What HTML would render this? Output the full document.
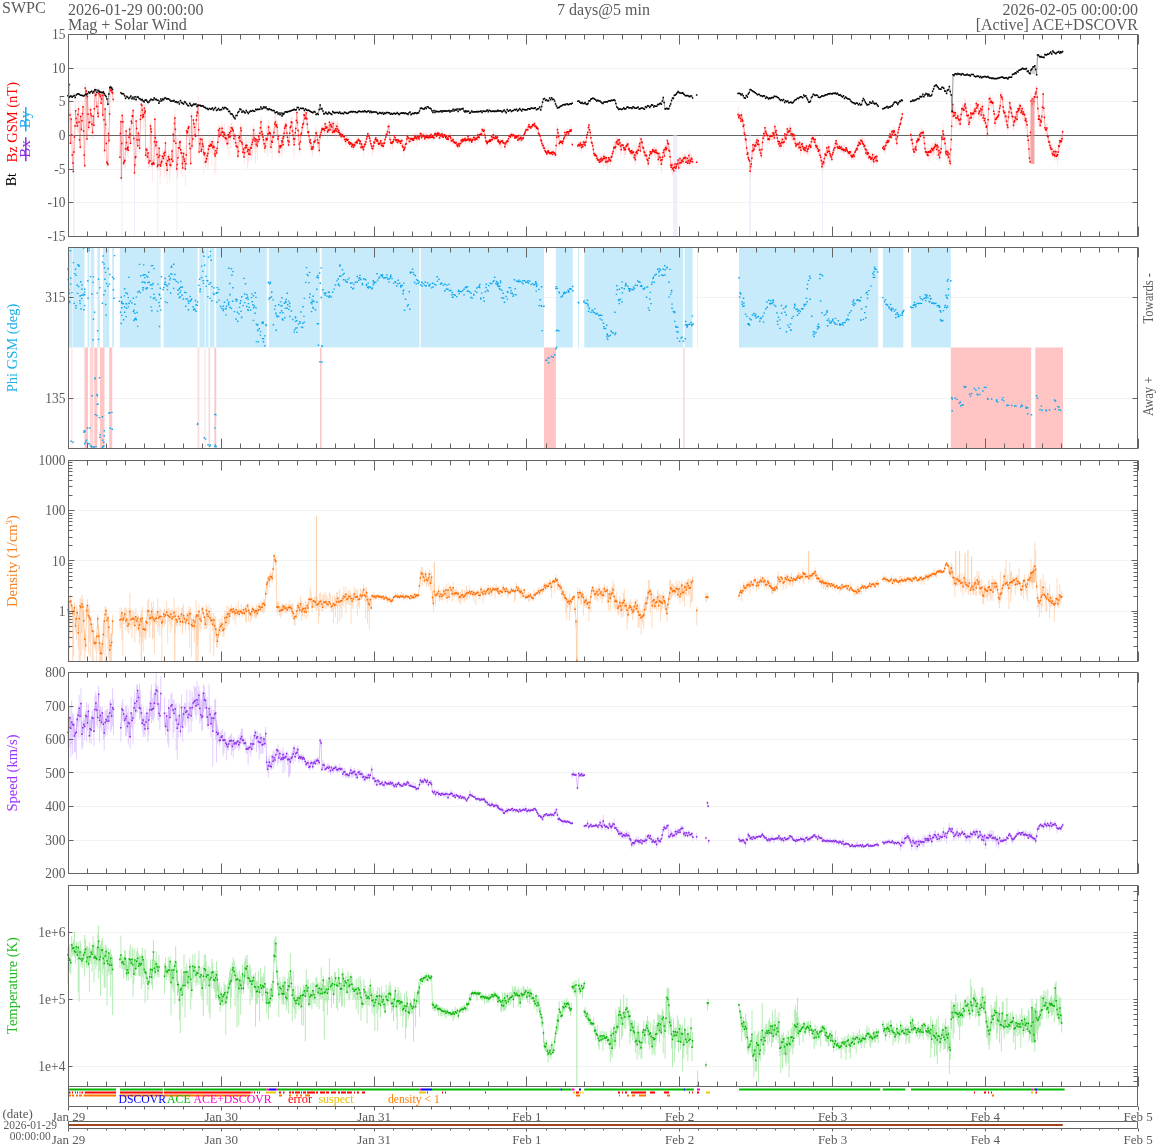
<!DOCTYPE html>
<html><head><meta charset="utf-8"><title>SWPC Mag + Solar Wind</title>
<style>
html,body{margin:0;padding:0;background:#fff;}
body{width:1158px;height:1146px;overflow:hidden;}
svg{display:block;font-family:"Liberation Serif","Times New Roman",serif;}
</style></head><body>
<svg width="1158" height="1146" viewBox="0 0 1158 1146">
<rect width="1158" height="1146" fill="#fff"/>
<path d="M68.5 68.5H1137.5M68.5 101.5H1137.5M68.5 169.5H1137.5M68.5 202.5H1137.5" stroke="#f3f3f3" stroke-width="1" fill="none"/>
<path d="M68.5 135.5H1137.5" stroke="#646464" stroke-width="1"/>
<rect x="73" y="135.5" width="1.5" height="101.0" fill="#f0eefc"/>
<rect x="121.5" y="135.5" width="1.0" height="101.0" fill="#f0eefc"/>
<rect x="134" y="135.5" width="1" height="101.0" fill="#f0eefc"/>
<rect x="157.3" y="135.5" width="1.0" height="101.0" fill="#f0eefc"/>
<rect x="176.5" y="135.5" width="1.0" height="101.0" fill="#f0eefc"/>
<rect x="673.1" y="135.5" width="4.199999999999932" height="101.0" fill="#f0eefc"/>
<rect x="749.3" y="135.5" width="1.5" height="101.0" fill="#f0eefc"/>
<rect x="822" y="135.5" width="1" height="101.0" fill="#f0eefc"/>
<path d="M69.5 82.4V86.7M69.9 112.5V123.1M70.4 138.6V144.9M71.2 112V122M71.7 132.7V142.7M72.3 151.3V158.4M72.8 158.2V169M73.4 166.4V173.3M73.9 148.3V155M74.5 134.7V153M75.1 122.9V127.9M75.6 99.8V115.3M76.2 115.8V123.8M76.7 120V129.3M77.3 120.8V129.7M77.9 112.7V132.7M78.6 100.2V110.4M79 119.6V132.8M79.5 134.9V143.9M80.3 142.3V149.8M80.6 111.9V119.5M81.4 125.9V139.2M81.9 119.2V124.5M82.5 109.6V116.5M83 101V121M83.6 124.9V133M84.2 150.1V159.8M84.7 163.7V167.6M85.3 83.3V100.4M85.8 87V98.9M86.4 88.5V105.4M86.9 133.9V145.2M87.5 93.4V99.4M88.1 103.6V120M88.6 121.4V131.5M89.2 121.3V124.5M89.7 116.8V130.6M90.5 105.8V114.1M90.8 107.9V116.8M91.4 113.9V126.4M92 120.6V139.5M92.5 129.3V137.5M93.3 112.5V127M93.8 116.9V137.5M94.4 97.4V112.5M94.9 85.5V95.8M95.5 92.7V100.3M96 91.3V97.8M96.6 101V108.1M97.1 102V113.2M97.7 101.2V117.2M98.3 111V118.5M98.8 89.7V96.8M99.4 88.5V93.6M99.9 92.6V99.3M100.5 92.9V98.4M101 99.6V104.5M101.7 92.7V103.4M102.3 93.7V116M102.7 112.6V121.9M103.5 87.2V96.6M104 114.1V121.4M104.6 148.2V157.4M105.1 106.7V118.1M105.7 121.1V131.1M106.2 141.7V145.6M106.8 159V166.9M107.4 161.2V167.5M107.9 154.6V167M108.5 128.4V144.2M109 134.5V143.5M109.6 110V123.3M110.1 83V89.8M110.8 87.2V94.9M111.4 86V93.2M112 89.9V96.5M112.6 87.2V94.6M113.1 94.4V102.7M120 151.2V161.5M120.4 128.8V153.1M120.9 116.7V129M121.3 176.5V180.5M121.8 140.1V151.9M122.2 110.4V122.8M123 118.4V128.5M123.5 157V167.5M124.2 159.8V168.1M124.8 158.4V163.4M125.5 142.1V168.9M126.1 126.6V138.5M126.6 137.8V145M127 145.4V152.6M127.4 143.1V156.1M127.9 144.3V151.3M128.3 147.9V157.7M129.1 135.1V141.3M129.5 125.5V132.7M130 128V137.8M130.6 136.5V148.3M131.3 118.5V124.6M131.8 119.2V128.9M132.2 111.5V120.9M132.7 112.9V120.4M133.2 108.9V113.6M133.8 135.4V144.9M134.5 166.8V177.4M134.8 163.2V168.2M135.3 154.8V161M135.8 147.7V164.2M136.1 115.9V123.8M136.6 124.7V148.5M137.1 137.6V143.7M137.8 143V155.3M138.4 129.5V136.6M139.1 133.6V142.5M139.7 144.3V152.2M140.4 116.5V128.8M140.9 110.7V120.8M141.3 97.3V106.5M141.8 103V108.2M142.3 105.3V116.7M142.6 109.3V120.2M143.1 112.2V117.2M143.6 112V128.6M144.3 103.7V116M144.8 110.9V121.1M145.2 102.9V112.7M145.6 148.8V160.2M146.3 147.5V159.8M146.9 146.9V158M147.5 153.2V161.5M148.1 145.7V157.2M148.8 152.1V168.7M149.4 156.4V167M150.1 157.9V166.6M150.4 123.6V143.1M150.9 121V132.1M151.4 128.5V134.7M151.7 153.2V167.9M152.4 159.8V182.2M153 159.9V165.4M153.5 157.9V165.2M154 159V165.3M154.4 137.4V157.3M154.9 111.3V141.8M155.4 134V148.6M155.8 139.9V149.4M156.6 139V144.3M157 152.1V168.3M157.5 161V169.6M158 163.8V171M158.4 148V159.2M159.2 145V170.9M159.6 151.4V165.2M160.1 159.3V184.3M160.6 163.2V176.4M161.2 158.1V166.4M161.8 156.7V166.2M162.3 153.3V165.4M162.9 150.6V157.9M163.4 154.9V167.9M164 149.1V155.7M164.5 151.9V177.7M165 147.8V156.1M165.5 132.6V146.3M166.2 157.1V165.6M166.7 158.2V174.5M167.1 165.8V184.6M167.8 156.5V164.2M168.4 148.9V159.6M168.9 154.3V164M169.4 152.9V181.8M170 160.1V176.6M170.7 160.3V168M171.3 154.8V169.4M172 148.8V156.1M172.7 154.9V165.2M173.3 126.3V136.1M174 138.4V144.2M174.5 114.7V133.5M174.9 108.2V122.7M175.4 126.3V133.4M175.9 136.7V163M176.6 165.2V172.3M177.2 162.4V179.5M177.9 152.9V177M178.6 138.2V151.9M179.2 141.7V149.3M179.8 139.5V145M180.1 131.3V146.8M180.6 144V153.7M181.1 148.7V174.2M181.7 150.5V155.6M182.4 154.8V167.3M182.7 157.8V176.6M183.2 151.7V164.5M183.7 148.2V155.3M184.1 157.2V163M184.6 158.1V169.2M185.3 160.3V185.7M185.8 159V168.8M186.3 145.1V160M186.6 126.3V140.1M187.1 130.3V137.8M187.6 123.2V137M188.2 125.6V131.3M188.9 121.8V130.3M189.4 139.6V146.2M190.1 145.4V155.5M190.7 159.1V165.1M191.5 111.5V121.6M192 136.3V150.2M192.8 134.9V142.4M193.3 117.4V122.5M194 121.3V126.9M194.6 125.8V131M195.1 132.2V142.1M195.6 133.7V141.5M196.3 111.3V124.5M196.8 114.2V119.3M197.2 108.2V113.2M197.7 106V114.2M198.2 95.8V120.6M198.6 123.1V133.6M199.1 150.4V153.5M199.7 140.5V148.1M200.4 135.6V147.7M201.1 146.6V153M201.6 146.5V152.2M202.1 132.4V154.1M202.6 140.8V150.5M203.2 140.9V157.2M203.7 144.9V175.2M204.3 151.3V157.8M204.8 146V155.4M205.4 157.8V167.7M206 154.1V167.8M206.6 152.8V162.4M207.2 150.6V162.1M207.9 146.3V170.8M208.5 144.3V164.9M209.1 131V153.1M209.7 140.1V149.8M210.3 140.7V153.8M211 140V149.1M211.6 140.8V166.5M212.2 136.3V146.8M212.8 141.7V155M213.4 137.1V150.3M214.1 142.9V153M214.7 141.3V175.4M215.3 147.7V158.2M215.9 144.9V172.8M216.5 150.7V154.9M217.2 142.7V155.5M217.8 137.9V152.5M218.4 125.3V141M219 130.2V144.1M219.6 124.6V134.4M220.2 127.5V142.3M220.9 132.9V139.6M221.5 124.8V137.9M222.1 120.7V144.5M222.7 130V133.9M223.3 131.7V141.9M224 130.9V135M224.6 123.4V141.8M225.2 131V143M225.8 133.8V142M226.4 134.2V143M227.1 131.8V147.2M227.7 140.7V149.6M228.3 124.5V141.2M228.9 132.6V157.8M229.5 125.4V141.5M230.1 129.2V140.6M230.8 123.7V149.3M231.4 123V130M232 113.5V135.6M232.6 126.4V135.6M233.2 124.9V137.9M233.9 134.3V145.1M234.5 132.4V138.5M235.1 133.1V140.6M235.7 135.6V147.7M236.2 143.9V149.8M236.8 136.9V155.1M237.3 139.4V151.6M237.9 151.7V159.3M238.4 149V158.3M239 131.6V142.6M239.6 130.7V143.8M240.1 137.2V144.5M240.7 122.6V146.9M241.2 126.1V138.2M241.8 139.1V149.7M242.3 140.8V149M242.9 138.7V155.5M243.5 143.1V151.4M244 152.2V164.3M244.6 148V156.2M245.1 143.1V154.7M245.7 137.8V149.5M246.2 137.4V154.4M246.9 140.5V149.6M247.5 146.7V169M248.1 145.6V165M248.7 146.4V161.4M249.3 138.6V156.4M250 148.7V157.7M250.6 143.8V154.2M251.2 133.4V161.7M251.8 137.6V156.6M252.4 128.4V156.8M253 133.5V146.4M253.7 122.4V139M254.3 135.4V152.2M254.9 132V148.2M255.5 133V163.8M256.1 140.9V151.9M256.8 133.3V148.8M257.4 138.3V160.5M258 135V145.4M258.6 129.5V143.5M259.2 134.7V144.2M259.9 127.3V139.6M260.5 120.3V140.4M261.1 116.4V124.8M261.7 126.6V135.2M262.3 130.5V140.6M262.9 132.6V146M263.6 132.6V144M264.2 139.2V152.2M264.8 143.6V153.6M265.4 143.8V152.4M266 136.3V143.5M266.7 125.5V144.6M267.3 136.3V156.5M267.9 125V138.2M268.5 119.7V135.4M269.1 125.8V147.9M269.8 125.4V153M270.4 127.3V138.1M271 143.6V153.3M271.6 131.1V145.7M272.2 135.7V158.7M272.9 129.1V140.4M273.5 126.5V139.8M274.1 125.8V145.6M274.7 114.1V130.4M275.3 112.4V127.1M275.9 119.8V132.3M276.6 119.9V136.5M277.2 121.1V130.8M277.8 133.6V143.6M278.4 130.1V153.8M279 145.2V158M279.7 142.2V154.4M280.2 144.7V151.1M280.8 142.4V149.2M281.3 134.6V157.6M281.9 133.8V143.9M282.4 136.4V153.6M283 139.2V149.1M283 131V141.2M283.6 133.6V145.8M284.1 124.2V139.4M284.7 122.3V131.6M285.2 124.8V137.1M285.8 120.2V127.9M286.3 118.8V131.9M286.9 130.6V135.8M287.5 133.3V143.7M288 136.2V143.8M288.6 140.7V147M289.1 138.7V147.7M289.7 127.4V138.1M290.2 123.4V131.3M290.8 121V132.5M291.4 116.6V127.3M291.9 116.8V127.4M292.5 127.3V134.5M293 128.2V141.3M293.6 128.4V142.9M294.1 140.4V158.7M294.7 135.5V146.2M295.3 129.1V138.1M295.8 126.3V132.4M296.4 116.3V124.3M296.9 107.6V117.2M297.5 117.3V125.8M298 128.6V140.4M298.6 129.7V142M299.2 141.7V153.8M299.7 143.6V151.6M300.3 132.4V143.7M300.9 132.1V141.9M301.6 130.2V135.8M302.2 125.6V130.8M302.8 119.6V131M303.4 119.2V128.9M304 109.7V123.9M304.5 111.8V119.9M305.1 114.3V124M305.7 112.2V119.6M306.2 109.2V118.8M306.8 113.1V129.2M307.3 122.4V125.9M307.9 130.8V138.3M308.4 129.6V134.4M309 130.7V140.3M309.6 135.6V147.8M310.2 137.2V149.4M310.8 138.9V147.6M311.5 144V152.4M312.1 145.3V154.1M312.7 144.1V156.8M313.3 141.7V149.1M313.9 136V145.1M314.6 136.1V146.5M315.2 133.6V145.1M315.8 126.7V135.1M316.4 129V136.2M317 129.8V143.4M317.5 137.5V148.1M318.1 141.3V145.3M318.6 136.9V144.7M319.2 144.6V156.2M319.8 131.1V140M320.4 131V140.6M321.1 130.2V134.8M321.6 125.5V135M322.2 126.8V132.3M322.8 125V135.3M323.4 126V132.3M324 126.3V133.2M324.5 125.7V135.7M325.1 119.3V129.6M325.7 125.3V133.6M326.3 123.1V129.7M326.9 123.4V132.1M327.6 125.6V139.3M328.2 124V134M328.8 125V133.2M329.4 118.5V127.6M330 124.4V134.8M330.7 121.5V125.9M331.3 121.7V132.1M331.9 119.6V130.9M332.5 129.4V134.9M333.1 118.8V127.4M333.7 127.8V132.8M334.4 121V134.7M335 124.4V139.1M335.6 121.7V130.5M336.2 124.3V139.1M336.8 121.1V133.2M337.5 120.4V133.2M338.1 122.9V138M338.7 126V132.7M339.3 128.1V138M339.9 127.2V138.1M340.6 131.9V137.7M341.2 131.2V139.1M341.8 133.7V141.7M342.4 133.1V137.2M343 128.9V141.8M343.7 134.3V139.9M344.3 133.9V137.7M344.9 137.7V141M345.5 138.9V145.2M346.1 131.9V140.7M346.7 134.9V147.2M347.4 139.2V141.9M348 136.9V142.7M348.6 140.3V145.1M349.2 140.8V146.6M349.8 141.5V146.7M350.5 141.6V144.5M351.1 138.7V148M351.7 143.1V149.6M352.3 143.2V148.5M352.9 141.7V150.3M353.6 144.2V150.4M354.2 142V145.3M354.8 143.6V146.8M355.4 141.1V145.4M356 141.2V144.6M356.6 136.1V145M357.3 139.1V147.7M357.9 136.7V143.3M358.5 138.1V141.8M359.1 137.7V144M359.7 141.7V147.9M360.4 139.4V142.7M361 145.6V150.3M361.6 141.3V146.9M362.2 142.4V148.9M362.8 144.4V150.3M363.5 147.9V156.6M364.1 141V149.6M364.7 140.5V147.5M365.3 140.4V146.8M365.9 138.4V144M366.5 136.6V140.9M367.2 133.9V139.4M367.8 132V135.5M368.4 132.3V139.1M369 132.9V139.2M369.6 136V141.3M370.3 138V145.1M370.9 139.3V146.9M371.5 142.6V148.6M372.1 144.3V153.4M372.7 146.3V156M373.4 143.2V149.5M374 139.2V149.9M374.6 142.1V145.5M375.2 136.2V141.5M375.8 135.4V141M376.5 137.6V144.5M377.1 138.3V143.4M377.7 138.8V144.6M378.3 138.4V147.3M378.9 141V150.9M379.5 140.8V145.8M380.2 140.5V144.4M380.8 138.6V148.3M381.4 141.9V148.9M382 138.2V146.5M382.6 142.5V149M383.3 142.3V149.5M383.9 137.4V148.4M384.5 138.5V146.7M385.1 136.7V141.6M385.7 135.7V139.1M386.4 131.6V135.2M387 130V137.9M387.6 130.8V134.5M388.2 123.9V129.6M388.8 122.6V130.2M389.4 129.2V135.1M390.1 136.9V143.1M390.7 139.4V150.6M391.3 141V145M391.9 139V145.3M392.5 138.7V149.9M393.2 139.2V147.1M393.8 136.9V141.4M394.4 134.2V138.9M395 135.1V141M395.6 137V143.1M396.3 139.5V143.2M396.9 134.7V143.2M397.5 140.2V143.5M398.1 138.4V144.8M398.7 134.9V144.4M399.4 140.5V144.3M400 137.7V144.1M400.6 141.3V146.5M401.2 140.2V145.4M401.8 137.8V141.7M402.4 143.1V149M403.1 143.5V148.9M403.7 148.4V156.6M404.3 144V151.8M404.9 144.6V151.4M405.5 143.4V147.5M406.2 142V146.9M406.8 134.9V144.9M407.4 133.1V139.5M408 133.4V140.9M408.6 134.7V139.2M409.3 138.4V143.2M409.9 137.8V142.5M410.5 135V140.5M411.1 135.6V139.5M411.7 135.8V142.5M412.3 136.2V141.8M413 136.8V144.8M413.6 134.9V142.1M414.2 132.4V140M414.8 133.3V140.3M415.4 134.3V139.4M416.1 133.9V141.2M416.7 135.9V146.6M417.3 131.6V140.8M417.9 134.1V141M418.5 133.9V140.4M419.2 137.3V143.7M419.8 133.4V137.9M420.4 132.4V135.5M421 130.9V136.4M421.6 134.8V140.7M422.2 134.9V141.6M422.9 132.1V138.4M423.5 132.4V137.9M424.1 134.5V139.8M424.7 133.4V139.6M425.3 136.2V139.1M426 131.8V139.5M426.6 131.7V142M427.2 133.9V138.7M427.8 134.4V141.3M428.4 135.3V140.2M429.1 133.9V138.9M429.7 132.3V138.9M430.3 134.9V140.9M430.9 131.1V136.3M431.5 132.8V139.8M432.2 134V139.6M432.8 133.3V138.4M433.4 135.9V142.9M434 136V140.4M434.6 130.5V135.6M435.2 133.2V138.6M435.9 130V135.7M436.5 133.5V137.7M437.1 130.7V136.9M437.7 131.4V137.5M438.3 130.1V138.7M439 131V135.5M439.6 133V140.4M440.2 132.6V137.7M440.8 133.7V137.2M441.4 132.2V138.2M442.1 130.2V135.2M442.7 132.2V138.8M443.3 135V140.9M443.9 133V137.6M444.5 133.7V138.8M445.1 133.7V138M445.8 134.5V140.1M446.4 133.1V138.3M447 134.3V140.8M447.6 134.9V139.5M448.2 135.8V140.8M448.9 133.9V143.6M449.5 133.4V138.2M450.1 133V144.5M450.7 132V140M451.3 139.1V142.4M452 136.9V143.1M452.6 137.2V144.4M453.2 136.1V143M453.8 139.6V145.3M454.4 139.2V143.4M455.1 139.2V151.8M455.7 141.6V144M456.3 141.5V145.5M456.9 142.8V146.1M457.5 144V148.7M458.1 140.4V149.9M458.8 138.5V145.8M459.4 141.6V149M460 141.4V147.7M460.6 140V145.3M461.2 135.3V142.6M461.9 138.4V145.4M462.5 136.5V142.5M463.1 137.3V142.5M463.7 138.2V142.6M464.3 137V143.9M465 135.4V139.5M465.6 137.7V145.1M466.2 136.1V142.2M466.8 137.7V142.4M467.4 136.6V141.3M468 133.3V140.2M468.7 136.3V141.6M469.3 139.2V143.3M469.9 137.5V143.5M470.5 137.3V141.9M471.1 137.6V143.5M471.8 135.7V146.2M472.4 138.2V142.6M473 134.4V141.7M473.6 134V140.6M474.2 136.5V139.2M474.9 136.2V144.6M475.5 136.1V144.1M476.1 137.4V140.9M476.7 137.2V142.6M477.3 134.1V140.3M477.9 130.8V142.5M478.6 134V139.6M479.2 135.9V140.5M479.8 133.4V136.3M480.4 131.3V136.1M481 128.5V135.6M481.7 130.9V137.9M482.3 127.8V132.1M482.9 126.8V131.7M483.5 129.2V134.8M484.1 125.7V133.6M484.8 131.8V138.7M485.4 136.4V143.2M486 136.1V145.8M486.6 139.5V148.6M487.2 140.6V146.2M487.9 139.2V144.3M488.5 139.6V142.9M489.1 140.2V142.3M489.7 138.4V141M490.3 139V142.9M490.9 135V145.3M491.6 135.4V138.7M492.2 136.3V143.2M492.8 134.7V140.5M493.4 130.5V138.1M494 135.8V139.6M494.5 133V140.4M495.1 135V140.7M495.7 132.2V139.6M496.3 135.3V142.2M496.8 136.1V139.6M497.4 133.4V139.5M498 135.5V144.8M498 139.5V143.4M498.6 139.6V146.8M499.2 138.7V143.8M499.9 140.9V146.8M500.5 138.5V149.6M501.1 139.3V142.7M501.7 138.1V148.6M502.3 137.9V145.8M503 141V143.4M503.6 138.5V144.1M504.2 140.8V146.1M504.8 145.8V151.4M505.4 142.7V144.9M506 139.8V143.7M506.7 140.4V145.2M507.3 138.1V145.9M507.9 138.3V146M508.5 135.9V141.2M509.1 134.4V138M509.8 134.1V143.8M510.4 135.4V137.7M511 131.7V136.8M511.6 132.6V137.2M512.2 133.3V137.9M512.9 132.3V138.1M513.5 133.2V136.4M514.1 133.6V138.1M514.7 136.1V139M515.3 133.7V139M515.9 133.3V139.1M516.6 135.1V138.5M517.2 135V139.9M517.8 138.4V141.7M518.4 134.6V142.8M519 134.1V140.8M519.7 134.7V139.1M520.3 136.5V142.6M520.9 136.4V142.5M521.5 139V142.6M522.1 136.3V139.2M522.8 135.6V140.7M523.4 135V144.8M524 132.4V135.8M524.6 131.3V135.4M525.2 129.6V134.2M525.8 127.8V133.3M526.5 128.8V131.8M527.1 125.8V130.9M527.7 127.4V132.8M528.3 124.8V130.6M528.9 121.7V127.5M529.6 125.7V128M530.2 125.2V130.4M530.8 126.7V129.4M531.4 124.1V129M532 124.4V127.4M532.7 122.9V127.7M533.3 122.9V127.4M533.9 123.2V126.3M534.4 121.4V128.8M535 124.6V129.2M535.6 123.5V130.6M536.2 123.8V129.1M536.8 125.9V131.2M537.3 125.3V129.7M537.9 127V130.4M538.5 130.7V134.4M539.1 132.1V134.9M539.7 134.3V137.4M540.2 134V137.9M540.8 138.2V142.7M541.4 137.8V142.3M542 140.6V149.2M542.6 139.7V148.4M543.2 143.4V147.6M543.8 143.5V150.5M544.4 145.6V151.3M545 149.3V152M545.7 149.7V154.1M546.3 149.3V154M546.9 153.3V156.9M547.5 150.3V153.9M548.1 146.2V154.2M548.7 150.2V155M549.4 149.8V154.6M550 152.4V154.4M550.6 147.6V157.5M551.2 151V155.3M551.8 149.3V155.6M552.5 152.3V155.1M553.1 149.9V152.8M553.7 151.2V156.4M554.3 151.2V155M554.9 151.9V158M555.6 151.3V156.7M556.2 143.5V148.5M556.8 136.1V139.8M557.4 124.6V130.8M558 129.4V136.1M558.7 133.7V139.2M559.3 139V146.3M559.9 140.4V147.8M560.5 140.1V142.6M561.1 139.8V143.9M561.7 136.5V144.6M562.4 140.4V151.2M563 140.4V142.4M563.6 134.2V146.3M564.2 135.6V139.5M564.8 129.2V134.3M565.5 134.2V136.5M566.1 132V137.2M566.7 130.3V135.1M567.3 127.6V139.2M567.9 128.4V134.8M568.4 131V134.9M569 130.2V134.4M569.6 129.9V133.1M570.2 127V130.8M570.8 129.9V131.9M571.3 125.5V134.8M572.3 142.2V146.4M577.8 143.2V148.8M578.5 142.1V146M579.1 143.3V145.5M579.7 144.6V152.2M580.3 142.1V145.5M580.9 139.6V150.5M581.5 146.8V153M582.2 143.2V147M582.8 142.3V149.7M583.4 141.3V143.8M584 139.5V145.7M584.6 139.1V144.6M585.3 143.1V147.2M585.9 139.5V143.7M586.5 135.8V140.2M587.1 133.2V137.3M587.7 130.5V134.7M588.4 126.4V131.9M589 122.9V131.6M589.6 126.8V132.4M590.2 130.6V135.2M590.8 134.7V140.1M591.5 140.4V145.1M592.1 140.9V144.4M592.7 143.9V148.2M593.3 146.5V154M593.9 151.5V155M594.5 152.2V156.8M595.2 151.6V156.7M595.8 153V162.7M596.4 154.2V159.1M597 153.5V160.7M597.6 157.6V162.7M598.3 157.9V161.8M598.9 157.2V163.3M599.5 160.5V164.6M600.1 154.4V165M600.7 156.2V163.2M601.4 156.5V161.4M602 155.8V164.2M602.6 154.9V162.7M603.2 153.6V168.4M603.8 152.9V161M604.4 155V161.6M605.1 152V161.6M605.7 156.6V165.8M606.3 155V166M606.9 158.2V164.9M607.5 156.6V169.9M608.2 157V169.5M608.8 156.4V159.9M609.4 156.8V162.2M610 157.1V164.8M610.6 157.6V165.7M611.3 152.7V160.8M611.9 153.2V159.9M612.5 151.8V156.9M613.1 142.7V155.2M613.7 144.9V153.7M614.4 142.6V150.4M615 141.6V151.9M615.6 141.2V154.6M616.2 137.9V147.3M616.8 136.9V144.4M617.4 140.2V148.2M618.1 135.3V141.2M618.7 140.9V147.2M619.3 138.1V141.9M619.9 140.5V148.4M620.5 142.8V155.1M621.2 145.7V154.9M621.8 143.8V148.1M622.4 141.1V146.6M623 143.8V146.6M623.6 144.4V152.7M624.3 146.3V158.3M624.9 144.9V155.5M625.5 144.8V154.9M626.1 143.1V155.1M626.7 142.3V148.7M627.3 140.8V147.8M628 139V148.9M628.6 145V151.7M629.2 146.4V153.8M629.8 146.1V153.4M630.4 149.2V154.8M631.1 150.8V156.5M631.7 146.8V155.4M632.3 148V156.6M632.9 147.9V155.5M633.5 150.8V156.1M634.2 152.7V162.8M634.8 152.9V159.6M635.4 152.6V165M636 149.2V153.8M636.6 145.2V160.6M637.2 149.2V157.4M637.9 148.3V153M638.5 143.8V152.8M639.1 141.8V148.4M639.7 135V146.2M640.3 144.8V157M641 137V140.9M641.6 136.1V147.6M642.2 139.6V147.9M642.8 145.5V149.8M643.4 146.1V156.6M644.1 148.4V154.9M644.7 147.3V160.6M645.3 152.3V158.3M645.9 150.2V158M646.5 149.4V159.8M647.2 158V164.1M647.8 157.5V167M648.4 160.9V167.9M649 153.9V162.8M649.6 150.1V158M650.2 149.2V154.5M650.9 151.1V159.7M651.5 149.2V157.3M652.1 148.6V153.3M652.7 146.9V154.7M653.3 147.2V156.1M654 146V153.3M654.6 147.4V155.8M655.2 147.6V157.5M655.8 148.5V157.9M656.4 146.7V154.4M657.1 150.4V155.4M657.7 148.4V158.7M658.3 157V165.3M658.9 151.1V156.6M659.5 154.5V163M660.1 152.9V161.3M660.8 157.7V165.2M661.4 157.1V174M662 157.4V163.1M662.6 152.7V164.3M663.2 149.7V154.2M663.9 145.7V154.2M664.5 149.5V158.8M665.1 145.5V152.3M665.7 143.2V152.3M666.2 145V152.8M666.8 145.6V153.1M667.3 138.5V146.4M667.9 141V146.8M668.4 140.5V145.7M669 146.8V152M669.6 145.9V153.2M670.1 151.9V162.3M670.7 162V168.9M671.3 162.1V172.3M671.9 160.3V170.4M672.5 162.1V175.6M673.1 165.8V174.1M673.8 166.3V172.8M674.4 162.9V169.3M675 161V166.6M675.6 166.6V172.4M676.2 164.5V171M676.9 161.8V167.8M677.5 159.8V166M678.1 158V164.7M678.7 163.2V170.1M679.3 159.4V164.9M680 156.9V165.1M680.6 159.3V167.9M681.2 157.1V167.5M681.8 159.1V163.4M682.4 151.1V161.9M683 158.3V165M683.6 155.6V160.5M684.2 154V165.5M684.8 154.5V160.4M685.4 153.5V164.4M686 159.1V165.7M686.6 160.2V165.5M687.2 155V160.5M687.8 159.4V166.2M688.4 159V164.8M689 149.9V160.6M689.6 161.4V167.3M690.2 151V163.3M690.8 157.1V165.9M691.4 153.9V160.7M692 155.9V161.9M692.6 159.7V169.2M696.7 160V164.7M738.1 106V117.1M738.6 112.8V120.9M739.2 112V119.5M739.8 114.3V118.7M740.4 114.1V120.7M741 116.4V126.1M741.5 110.1V117.5M742.1 115.9V120.8M742.7 116.4V127.5M743.3 123.6V135.2M743.8 119.9V129.4M744.4 128V136.3M744.9 132.3V142.2M745.5 134.9V144.8M746 138.2V143.7M746.6 144.9V151.4M747.2 149.2V162.1M747.7 150.9V155.4M748.3 153.4V161M748.9 152.2V161.4M749.5 158.9V163.4M750.1 165.5V179.1M750.7 162.7V173.5M751.2 160.1V166.4M751.8 151V162.1M752.4 147.4V153.4M752.9 142.1V149.7M753.5 143.1V153.2M754.1 145V155.6M754.7 141.7V147.5M755.2 140.2V148.9M755.8 140.8V149.3M756.4 138.8V144M757 138.6V144.3M757.6 138.3V148M758.2 137.2V143.4M758.8 141.7V147.9M759.4 145.3V153.9M760 143.8V154.4M760.7 150.5V156.6M761.3 154.1V160.2M761.9 147.5V151.7M762.5 134.4V147.7M763.1 133.6V139.5M763.7 131.4V139.7M764.4 129.6V140.7M765 124.8V129.4M765.6 130.2V136.4M766.2 129V135.5M766.8 130V138.5M767.5 131.9V143.5M768.1 134V142.1M768.7 135.6V143.3M769.3 133.9V144.6M769.9 133.6V139M770.6 133.1V140M771.2 132.1V141.1M771.8 132.3V139.9M772.4 131.9V142.9M773 131.4V136.9M773.7 131.4V137.4M774.3 133.7V143.6M774.9 123.5V130.5M775.5 130V139.8M776.1 128.2V134.8M776.7 130.6V138.7M777.4 134.5V139.4M778 139.4V144M778.6 139.4V152.6M779.2 139.7V146.6M779.8 140.7V151M780.5 139V149M781.1 139.4V150.3M781.7 138.5V144.7M782.3 135.8V142.6M782.9 138.9V147.5M783.6 140.3V151.8M784.2 139V145.6M784.8 131.6V138.1M785.4 135.4V139.2M786 133.7V143.6M786.6 129.7V138M787.3 127.5V134.5M787.9 125.8V136.9M788.5 127.1V134.3M789.1 127.3V135.3M789.7 124.1V132.4M790.4 123.8V134.7M791 131.3V138.5M791.6 126.1V140M792.2 130.3V140.7M792.8 131V137.1M793.5 134.6V141.5M794.1 132.9V140M794.7 133.5V143.6M795.3 140.3V144.9M795.9 141.2V148.5M796.5 141.5V148.2M797.2 138.8V146.2M797.8 141.5V150.4M798.4 140.2V149.3M799 145.1V150.1M799.6 140.5V145.2M800.3 143.1V153M800.9 148.2V156.6M801.5 141.3V152.6M802.1 140.3V149.6M802.7 141.9V149.8M803.4 145.2V151.8M804 145.6V154M804.6 145.5V152.7M805.2 147.9V154.1M805.8 142.8V150.4M806.5 144V148.9M807.1 148.1V155.3M807.7 145.5V154.8M808.3 145.2V156.4M808.9 145.3V150M809.5 142.6V149.8M810.2 138.3V150.9M810.8 145.5V153.5M811.4 136.2V149.5M812 132.8V143.1M812.6 135.4V141.9M813.3 135.3V142.2M813.9 134.9V141.5M814.5 140.6V150.4M815.1 134V141.9M815.7 142.3V149M816.4 144.1V151.1M817 141.8V149.5M817.6 142.8V150.7M818.2 146V157.6M818.8 147.7V155M819.4 142.8V155.3M820.1 150.1V162.8M820.7 153V163.1M821.3 157.3V165.7M821.9 161.2V172M822.5 160.8V168.1M823.2 159V166.4M823.8 157.9V169.7M824.4 156.1V165.5M825 150.5V157.7M825.6 152V163.4M826.3 150.8V156.5M826.9 145.5V151M827.5 150V160.4M828.1 143.2V153.9M828.7 143.5V149.9M829.4 146V159.2M830 148.9V163.3M830.6 150.8V158.4M831.2 155.3V159.4M831.8 157.8V162.3M832.4 150.5V156.1M833.1 150V156.2M833.7 146.5V151.7M834.3 143V152.4M834.9 143.7V151.2M835.5 140V146.2M836.2 139.6V142M836.8 140V148M837.4 143.9V154.6M838 144.1V149.3M838.6 144.3V151.5M839.3 144.7V148.6M839.9 143.1V150.9M840.5 145.2V152.4M841.1 144.4V149.4M841.7 147.7V152.6M842.3 146.1V153M843 141.9V152.5M843.6 147.3V154.8M844.2 144.4V152.8M844.8 148.2V153.8M845.4 147.4V152.1M846.1 145.5V153.4M846.7 148V151.2M847.3 147.1V154.9M847.9 150.7V158M848.5 151.1V154.9M849.2 151.9V160.4M849.8 149.3V154.1M850.4 148.4V155.9M851 151.4V157.4M851.6 149.9V160.2M852.2 152.9V159.7M852.9 152.3V159.9M853.5 152.3V157.2M854.1 151.4V159.7M854.7 150.4V154.5M855.3 149.8V160.2M856 147.7V152.5M856.6 145.2V150.7M857.2 145.6V151.2M857.8 140V151.4M858.4 140.3V150M859.1 137.9V145.9M859.7 138.8V146.2M860.3 140.1V146.7M860.9 138.3V143.9M861.5 136.9V143.9M862.2 137.2V143.8M862.8 137.7V146M863.4 141.7V147.4M864 143.2V148.3M864.6 138.4V147M865.2 144.8V150.8M865.9 149.4V156.6M866.5 147.1V152.4M867.1 149.5V159.8M867.7 148.9V159.3M868.3 149.7V157.4M869 155V159.5M869.6 154.1V158.9M870.2 154.1V158.1M870.8 157.9V162.4M871.4 154.9V164.2M872.1 152.7V162.4M872.7 152.2V161.7M873.3 157.2V167.1M873.8 158.8V166.8M874.4 153V159.6M875 154.3V161.4M875.6 154.5V159.9M876.2 157.3V164.9M876.7 154.6V162.9M877.3 158.6V162.9M882.9 144.4V149.6M883.5 143.2V150.5M884 146V152.4M884.6 147V152.3M885.2 142.6V153.9M885.8 140V150.1M886.4 140.1V145.2M886.9 139.1V146.4M887.5 138.1V144.4M888.1 139.1V145.9M888.8 139.2V143.8M889.4 135.8V143.1M890 130.1V140M890.6 135.5V138.5M891.2 133.7V139.1M891.9 129.4V135.3M892.5 130.7V138.3M893.1 128V133.4M893.7 126.6V135.3M894.3 127.1V133.6M895 133.1V139.8M895.6 131.6V137.6M896.2 135.6V142.2M896.8 140.4V147.3M897.4 131.7V138.1M898 126.4V137M898.7 126.3V132.3M899.3 124.8V128.8M899.9 120.4V127.9M900.5 117.8V126.4M901.1 117.8V125.2M901.8 116.4V121.3M902.4 110.6V115.9M910.7 130.1V137.3M911.4 136V145.9M912 137V143.6M912.6 140.7V148.4M913.2 145.6V150.8M913.8 147.9V155.8M914.4 149.7V156.6M915 146.3V150.4M915.6 142.6V150.8M916.1 146.9V152.9M916.7 138.7V145.9M917.2 138.8V142M917.9 133.5V147.1M918.5 134.5V142.9M919.1 136.7V142M919.7 131V136.4M920.3 134.2V141.4M920.9 127.1V135.6M921.6 129.5V135.4M922.2 127.9V135.3M922.8 131.1V141.7M923.4 130V133.2M923.9 133.7V142.9M924.5 140.5V144.8M925 144V150.8M925.6 148.2V155.7M926.2 148.4V154.8M926.8 149.2V156.3M927.4 151.8V155.8M928 152.3V160.7M928 147.7V156.9M928.6 150.4V154.6M929.2 147.2V161M929.9 149.8V158.8M930.5 145V154.3M931.1 146.6V156.5M931.7 142.2V154.4M932.3 143.8V155.1M933 145V160.1M933.6 142.6V154.9M934.2 145.5V153.8M934.8 142.2V155.2M935.4 138.7V149.5M936 141.6V149.4M936.7 144.8V155.7M937.3 142V151.2M937.8 142.1V152.6M938.4 148.7V156.9M939 145.5V152.2M939.5 151.1V162.6M940.1 150.7V160.5M940.6 146.2V154.8M941.2 143.6V152.4M941.7 134.7V140.6M942.3 134.8V141.7M942.9 122.6V133.8M943.4 129.3V140.5M944 136.9V145.1M944.5 134.2V144M945.1 137V145.7M945.6 144.6V156.5M946.2 147.7V156.3M946.8 144.3V154.5M947.3 149.8V165.5M947.9 146.9V153.9M948.4 155V159.4M949 149V163.4M949.7 156V163.2M950.3 159.6V169.5M950.7 142.2V154.2M951.2 131.2V143.2M951.7 120.1V130.8M952.1 108.7V116.2M952.8 100.3V106.7M953.4 110.5V120.7M954 106V118.7M954.6 110.2V118.9M955.2 107.1V114.2M955.8 115.5V127.6M956.5 111.8V121.7M957.1 111.5V124.2M957.7 111.7V117.7M958.3 113.1V126.4M958.9 113.4V125.9M959.6 116.5V125.1M960.1 119.6V129.8M960.7 112.9V125.6M961.2 110.6V120.5M961.8 105.1V112.9M962.3 102.6V115.1M962.9 105.7V113.8M963.5 105.2V112.3M964 104.3V116.9M964.6 97.3V109.2M965.1 98.8V108.9M965.8 105.9V112.5M966.4 105.2V117.4M967 110.7V121.5M967.6 112.3V121.8M968.2 113.3V121.7M968.8 118.1V128.1M969.5 118.5V128.1M970.1 115V121M970.7 104.2V116.1M971.3 114.6V121.5M971.9 111.2V117.7M972.6 110.7V115.8M973.2 109.5V121.6M973.8 107V119.5M974.4 106.4V116.6M975 107.2V113.3M975.7 109.5V113.9M976.3 99.3V113.9M976.9 100.9V109.8M977.5 101.3V108.6M978.1 98.9V107M978.7 109.5V119.5M979.4 110.2V118.5M980 109.4V116.9M980.6 101.9V114.7M981.2 109.1V121.3M981.8 104.7V116.9M982.5 101.4V110.9M983.1 114.9V121.5M983.7 108.9V121.1M984.3 119.3V125.8M984.9 115V121.5M985.6 117.3V124.7M986.2 123.7V130.4M986.8 120.6V130.8M987.4 131.7V139.4M988 113.8V125M988.7 102.3V110.9M989.3 93.2V104.7M989.9 95.8V103.7M990.5 95.3V106.3M991.1 98.2V108.5M991.7 99.5V109.6M992.4 99.3V105.2M993 95.4V105.6M993.6 104.7V113.6M994.2 111.4V115.9M994.8 118.7V131.9M995.5 116.4V125.7M996.1 113.3V126.2M996.7 112.4V121.8M997.3 108.9V120.1M997.9 109.3V119.5M998.6 108.8V120.5M999.1 109.8V117.6M999.7 104.3V116.1M1000.2 99.2V107.8M1000.8 89.2V97.8M1001.3 92.3V100M1001.9 91.7V103.4M1002.5 95.6V102.3M1003 99.9V112.9M1003.6 104.3V112.7M1004.1 107.1V122.9M1004.7 110.2V119.4M1005.4 109.9V121.2M1006 112.6V123.5M1006.6 117.9V129.9M1007.2 120.4V128.1M1007.8 124.3V137.2M1008.5 112.1V120.7M1009.1 103.5V118.7M1009.7 97.3V105.1M1010.3 101.6V114M1010.9 101V114.4M1011.5 109.3V118.1M1012.2 114V120.5M1012.8 113.6V120.2M1013.4 120.3V130.1M1014 116.8V130.4M1014.6 118.2V126.6M1015.3 111.2V123.4M1015.9 114.3V125.8M1016.5 109.4V115.4M1017.1 113.1V125M1017.7 107.1V116.3M1018.2 104.7V113M1018.8 104.7V118.4M1019.3 102.5V113.2M1019.9 103.1V110.6M1020.5 103.3V109.5M1021 110.3V115.2M1021.6 106.9V114.5M1022.1 106.7V112.4M1022.7 108V120.3M1023.3 104.4V120.4M1023.9 110.9V116.9M1024.5 108.1V119.4M1025.2 113V130.5M1025.8 116.9V128.9M1026.4 115.6V125.7M1027 119.5V127M1027.6 134.7V143.3M1028.3 135.8V145.1M1028.9 143.3V156.1M1029.5 155.3V161.1M1030.1 160.5V164.2M1030.6 130.1V135M1031 92.8V102.4M1031.6 95.4V106M1032.2 98V106.9M1032.7 95.5V101.7M1033.3 96.7V104.7M1033.8 98.1V108M1034.4 92.7V102.5M1034.9 93V106.1M1035.5 92V96.9M1036.1 85.2V95.7M1036.6 85.4V97.1M1037.2 94.5V103.3M1037.9 102.3V110.8M1038.5 116.4V123.6M1039 109.8V124.7M1039.6 114.3V124M1040.1 122.6V131.4M1040.7 117.2V125.6M1041.3 116.1V126.7M1041.9 112.8V119M1042.5 102V110.9M1043.1 89V99.1M1043.7 106V112M1044.4 114.5V123.7M1045 123.6V130.9M1045.6 124.3V136.8M1046.2 126.8V134.9M1046.8 123V129.9M1047.4 134V141.6M1048.1 130.5V139.7M1048.7 136.1V146.3M1049.3 138.7V148.6M1049.9 142.1V150.9M1050.5 140V150.6M1051.2 143.9V153M1051.8 141.4V153.8M1052.4 148.4V157.3M1053 152.5V156.7M1053.6 146.7V155.2M1054.3 151.7V160.4M1054.8 149.3V160.7M1055.4 146.6V154.8M1055.9 148.4V157.8M1056.5 152.5V159.3M1057 153.5V160.3M1057.6 152.5V166.3M1058.2 147.8V159.4M1058.7 139.2V150.6M1059.3 141.9V152.9M1059.8 136V145.3M1060.4 138.1V146.1M1060.9 135.9V144.7M1061.5 132.4V144.7M1062.1 134.3V141.6M1062.6 129.9V137.2" stroke="#ff9090" stroke-opacity="0.22" stroke-width="1" fill="none"/>
<path d="M69.5 84.5L69.9 114.9L70.4 143.3L71.2 118.9L71.7 134.9L72.3 154.9L72.8 163.1L73.4 171.4L73.9 151.9L74.5 136.9L75.1 126L75.6 110.7L76.2 118.4L76.7 122.7L77.3 125.9L77.9 114.5L78.6 109.1L79 122.1L79.5 139.7L80.3 147.2L80.6 116.6L81.4 129.4L81.9 120.8L82.5 113.7L83 106.8L83.6 130.9L84.2 155L84.7 165.7L85.3 88L85.8 94.1L86.4 90.9L86.9 138.9L87.5 96.6L88.1 114.3L88.6 127.5L89.2 122.6L89.7 121.9L90.5 109.7L90.8 113.7L91.4 115.8L92 124.3L92.5 132.6L93.3 116.3L93.8 125.2L94.4 108.8L94.9 90.7L95.5 95.5L96 94.4L96.6 106.6L97.1 106.4L97.7 113.3L98.3 116.4L98.8 93.5L99.4 90.9L99.9 94.7L100.5 96.4L101 103.2L101.7 99L102.3 95.2L102.7 114.9L103.5 92L104 119.7L104.6 150.4L105.1 109L105.7 124.4L106.2 143.5L106.8 162.3L107.4 163.4L107.9 164.5L108.5 133.4L109 140.6L109.6 114L110.1 88.1L110.8 90.5L111.4 90L112 91.9L112.6 93.1L113.1 99.6M120 157.2L120.4 133.4L120.9 121.8L121.3 178L121.8 143.6L122.2 115.5L123 122L123.5 163.6L124.2 161.9L124.8 160.6L125.5 148.8L126.1 131L126.6 142.5L127 149.5L127.4 148.1L127.9 147.2L128.3 150.2L129.1 137.3L129.5 129.2L130 133.9L130.6 143.3L131.3 121.3L131.8 123L132.2 115.8L132.7 116.4L133.2 110.4L133.8 138.6L134.5 172.7L134.8 165.1L135.3 157.5L135.8 156.7L136.1 121L136.6 128.5L137.1 139.8L137.8 145.8L138.4 133.2L139.1 139.9L139.7 148.2L140.4 119.3L140.9 115.4L141.3 104.3L141.8 105.2L142.3 109.9L142.6 117.5L143.1 114.7L143.6 116.5L144.3 108.3L144.8 113L145.2 111L145.6 155.3L146.3 149.2L146.9 150L147.5 157.1L148.1 152.9L148.8 163L149.4 161.1L150.1 161.1L150.4 126L150.9 129L151.4 131.8L151.7 164.1L152.4 164.5L153 163.2L153.5 162.8L154 164L154.4 141.8L154.9 119.2L155.4 137.7L155.8 145.6L156.6 142L157 154.6L157.5 166.6L158 165.1L158.4 157.2L159.2 148.2L159.6 155.4L160.1 164.8L160.6 165.9L161.2 162.7L161.8 161.6L162.3 156.2L162.9 156.6L163.4 158.5L164 153.3L164.5 155.5L165 152.3L165.5 143.1L166.2 163.4L166.7 165.3L167.1 170.2L167.8 160.8L168.4 156.7L168.9 158.9L169.4 159.5L170 164.8L170.7 165.6L171.3 159.2L172 151.1L172.7 161.2L173.3 134.3L174 141.2L174.5 123.4L174.9 118L175.4 129.2L175.9 143.2L176.6 169.1L177.2 164.6L177.9 157.8L178.6 147.8L179.2 148L179.8 142.5L180.1 141.7L180.6 149.7L181.1 152.9L181.7 152.9L182.4 163.6L182.7 167.9L183.2 156.7L183.7 153.6L184.1 158.9L184.6 161.2L185.3 169L185.8 163.7L186.3 154.9L186.6 130.8L187.1 132.7L187.6 132.1L188.2 128.2L188.9 126.8L189.4 143.8L190.1 148.5L190.7 163.6L191.5 116.3L192 145.9L192.8 138.9L193.3 120.1L194 123.7L194.6 127.3L195.1 135.1L195.6 136.3L196.3 120.1L196.8 115.6L197.2 111.9L197.7 113L198.2 105.1L198.6 129.8L199.1 151.9L199.7 143.8L200.4 139.1L201.1 151.3L201.6 149.4L202.1 139.6L202.6 144L203.2 146.3L203.7 152.4L204.3 154.5L204.8 153.2L205.4 162.2L206 161.4L206.6 158.8L207.2 155.8L207.9 153.4L208.5 149.3L209.1 145.7L209.7 146.2L210.3 145.1L211 144.3L211.6 145.7L212.2 141.7L212.8 147.7L213.4 146.3L214.1 146.9L214.7 154L215.3 155.9L215.9 150.7L216.5 152.9L217.2 148.6L217.8 142.3L218.4 130.3L219 136.4L219.6 128.4L220.2 135L220.9 134.9L221.5 132.4L222.1 128.3L222.7 131.9L223.3 136.6L224 132.7L224.6 134.6L225.2 137.7L225.8 138.8L226.4 138.4L227.1 143.8L227.7 143.6L228.3 134.7L228.9 137.2L229.5 132.7L230.1 136.7L230.8 131.2L231.4 127.8L232 128L232.6 129.5L233.2 130.8L233.9 138.8L234.5 135.3L235.1 135.7L235.7 142.7L236.2 146.1L236.8 146.5L237.3 147L237.9 156.3L238.4 151.5L239 137.8L239.6 136.6L240.1 141.2L240.7 128.1L241.2 130.4L241.8 142.3L242.3 144.1L242.9 152.3L243.5 149L244 157L244.6 152.8L245.1 147.7L245.7 145.4L246.2 147.6L246.9 145.3L247.5 151.4L248.1 149.5L248.7 154.1L249.3 149.7L250 154.4L250.6 147.6L251.2 148.3L251.8 144.6L252.4 142.2L253 139.9L253.7 129.9L254.3 138.2L254.9 141.1L255.5 138.9L256.1 144.4L256.8 139.8L257.4 145.9L258 141.6L258.6 136L259.2 139.6L259.9 133.3L260.5 127.7L261.1 121.9L261.7 131.7L262.3 134.2L262.9 137.1L263.6 139.7L264.2 143.7L264.8 147.9L265.4 145.9L266 138.6L266.7 139.9L267.3 138.9L267.9 134L268.5 126.9L269.1 133.3L269.8 132.5L270.4 133.8L271 147.2L271.6 141.3L272.2 142.3L272.9 137L273.5 136.9L274.1 132.5L274.7 124.1L275.3 122.1L275.9 126.1L276.6 124.8L277.2 127.3L277.8 139L278.4 136.3L279 152.1L279.7 146.1L280.2 147.4L280.8 145.7L281.3 145.9L281.9 140.8L282.4 142L283 144.8L283 138.6L283.6 136.8L284.1 133.3L284.7 128.2L285.2 126.6L285.8 124.6L286.3 125.7L286.9 133L287.5 137.3L288 140.8L288.6 145L289.1 141.7L289.7 133.2L290.2 127.5L290.8 126.5L291.4 122.1L291.9 122.5L292.5 131L293 135.2L293.6 138.7L294.1 144.8L294.7 139L295.3 132.8L295.8 128.6L296.4 120.6L296.9 112.4L297.5 122.6L298 130.6L298.6 135.4L299.2 143.9L299.7 149.2L300.3 142L300.9 134.8L301.6 132.9L302.2 127.4L302.8 124.6L303.4 123.6L304 114.7L304.5 115.5L305.1 118.7L305.7 117.7L306.2 113.1L306.8 118.8L307.3 124.3L307.9 132.6L308.4 131.7L309 135.7L309.6 141.9L310.2 139.7L310.8 143.3L311.5 149.1L312.1 147L312.7 149.1L313.3 147L313.9 141.8L314.6 142.1L315.2 140.4L315.8 133L316.4 133.1L317 135.6L317.5 139.9L318.1 142.8L318.6 142.9L319.2 150.4L319.8 136.9L320.4 135.1L321.1 132.5L321.6 130.1L322.2 128.5L322.8 129.2L323.4 129.2L324 128.7L324.5 130.6L325.1 123.8L325.7 128.2L326.3 126.9L326.9 127.5L327.6 132L328.2 130.5L328.8 129.9L329.4 122.3L330 129.7L330.7 124.4L331.3 126.1L331.9 127.1L332.5 132.6L333.1 123.5L333.7 131.1L334.4 132.1L335 130.6L335.6 128.8L336.2 130.9L336.8 126.3L337.5 129.1L338.1 131.9L338.7 130.5L339.3 132.7L339.9 134.6L340.6 133.7L341.2 136.4L341.8 135.2L342.4 134.8L343 136.5L343.7 136.7L344.3 136.7L344.9 139.4L345.5 141.5L346.1 138.9L346.7 139.8L347.4 140.3L348 139.4L348.6 143L349.2 142.1L349.8 144.2L350.5 142.7L351.1 143.5L351.7 146.4L352.3 144.3L352.9 145.4L353.6 147.3L354.2 144.4L354.8 145.5L355.4 142.4L356 142.6L356.6 141.6L357.3 142.9L357.9 140.5L358.5 139.5L359.1 140.5L359.7 143.5L360.4 141.3L361 147.4L361.6 143.9L362.2 146.7L362.8 147.8L363.5 149.7L364.1 146.5L364.7 144.6L365.3 144.3L365.9 142L366.5 139L367.2 136.7L367.8 133.7L368.4 135.8L369 135.9L369.6 138.3L370.3 140.9L370.9 143.7L371.5 146.1L372.1 148.3L372.7 148.8L373.4 146.2L374 142L374.6 143L375.2 139.6L375.8 137.9L376.5 141L377.1 139.8L377.7 141L378.3 143.6L378.9 144.3L379.5 143.7L380.2 142.8L380.8 140.7L381.4 145.4L382 143.4L382.6 145.7L383.3 146.2L383.9 143.5L384.5 143.1L385.1 139.4L385.7 137.1L386.4 134.3L387 134.5L387.6 131.8L388.2 126.5L388.8 126.2L389.4 132.5L390.1 139.5L390.7 142.4L391.3 143.2L391.9 143.2L392.5 141.8L393.2 141.7L393.8 139.8L394.4 135.8L395 137.8L395.6 139.9L396.3 140.8L396.9 139.7L397.5 142.5L398.1 140.1L398.7 141.1L399.4 141.6L400 141.3L400.6 143.2L401.2 141.1L401.8 140.5L402.4 146L403.1 147.3L403.7 150.3L404.3 149L404.9 147.4L405.5 144.3L406.2 143.7L406.8 139.1L407.4 136.3L408 137.5L408.6 138.1L409.3 141.6L409.9 141.4L410.5 138.9L411.1 138.6L411.7 139L412.3 140.1L413 138.8L413.6 140.2L414.2 138.3L414.8 136.1L415.4 136.8L416.1 138.2L416.7 138.7L417.3 136.9L417.9 136.3L418.5 137.4L419.2 138.9L419.8 136.6L420.4 133.5L421 134.1L421.6 137.5L422.2 136L422.9 135.4L423.5 135.2L424.1 136.6L424.7 138.7L425.3 137.6L426 136.5L426.6 137.2L427.2 135.4L427.8 137.8L428.4 137.1L429.1 137.6L429.7 135.7L430.3 137.5L430.9 134.4L431.5 136.9L432.2 137.2L432.8 135.7L433.4 137.4L434 138L434.6 133.9L435.2 134.3L435.9 133.5L436.5 136.2L437.1 134.3L437.7 133L438.3 135.2L439 133.6L439.6 137.9L440.2 135.1L440.8 136.1L441.4 134.2L442.1 133.9L442.7 136.5L443.3 137.3L443.9 135.2L444.5 134.8L445.1 136.3L445.8 137.7L446.4 136.2L447 139.2L447.6 138L448.2 139.3L448.9 136.3L449.5 135.9L450.1 136.6L450.7 138L451.3 141L452 140.5L452.6 140.8L453.2 139.5L453.8 142.2L454.4 141.9L455.1 143.2L455.7 143L456.3 142.6L456.9 144.9L457.5 146.6L458.1 143.8L458.8 144.5L459.4 145.9L460 143.6L460.6 143.6L461.2 140.3L461.9 141.7L462.5 139.5L463.1 140.9L463.7 139.5L464.3 140.3L465 138.5L465.6 140.7L466.2 139.8L466.8 140.3L467.4 139.3L468 136.6L468.7 139L469.3 140.8L469.9 139.6L470.5 139.1L471.1 140.5L471.8 142L472.4 140.2L473 139.5L473.6 137.5L474.2 137.6L474.9 140L475.5 138.8L476.1 138.4L476.7 139.2L477.3 137.4L477.9 134.7L478.6 137L479.2 137.5L479.8 134.7L480.4 134.2L481 133.9L481.7 134.4L482.3 129.4L482.9 130.6L483.5 131.2L484.1 130.2L484.8 134.9L485.4 137.5L486 141.1L486.6 142L487.2 143.5L487.9 142.1L488.5 141.2L489.1 141.4L489.7 139.9L490.3 141.2L490.9 140L491.6 136.6L492.2 139.7L492.8 137.6L493.4 134.7L494 138L494.5 138.4L495.1 138.3L495.7 136.6L496.3 138.2L496.8 138L497.4 137L498 140L498 141.1L498.6 141.9L499.2 141.6L499.9 143.7L500.5 142.3L501.1 141.2L501.7 141.3L502.3 140.8L503 142.5L503.6 143.1L504.2 143L504.8 146.8L505.4 144L506 142.5L506.7 141.9L507.3 140.7L507.9 141.2L508.5 138.7L509.1 136.2L509.8 136.3L510.4 137L511 134.7L511.6 134.4L512.2 135.8L512.9 135.4L513.5 135L514.1 135.4L514.7 138.1L515.3 136.5L515.9 137.7L516.6 136.3L517.2 137L517.8 140.3L518.4 135.5L519 139.2L519.7 138.4L520.3 138.3L520.9 137.3L521.5 140L522.1 138.3L522.8 138.4L523.4 138L524 134.8L524.6 133.5L525.2 132.1L525.8 130.3L526.5 129.5L527.1 129.7L527.7 129.7L528.3 126.7L528.9 124.7L529.6 126.8L530.2 127.6L530.8 128L531.4 126.4L532 126.5L532.7 124.7L533.3 125.3L533.9 125L534.4 123.4L535 126.4L535.6 126L536.2 126.7L536.8 128.3L537.3 127.7L537.9 128.9L538.5 133.2L539.1 133.9L539.7 135.2L540.2 136L540.8 140L541.4 140.9L542 143.6L542.6 145.6L543.2 145.4L543.8 147.9L544.4 148.2L545 150.7L545.7 151.7L546.3 152.4L546.9 154.1L547.5 152L548.1 150.8L548.7 152.3L549.4 152.9L550 153.5L550.6 152.7L551.2 153.2L551.8 152.2L552.5 154.4L553.1 151.9L553.7 152.7L554.3 153L554.9 153.8L555.6 155L556.2 145.4L556.8 137.3L557.4 129.4L558 132.8L558.7 136.5L559.3 143.6L559.9 142.5L560.5 141.3L561.1 142.3L561.7 141.7L562.4 143.6L563 141.2L563.6 139L564.2 137.6L564.8 132.6L565.5 135.7L566.1 134.7L566.7 132.4L567.3 131.7L567.9 131.9L568.4 133.9L569 131.8L569.6 131.6L570.2 129.9L570.8 131.2L571.3 129.9M577.8 146L578.5 144.8L579.1 144.4L579.7 145.7L580.3 143.1L580.9 145L581.5 147.6L582.2 144.7L582.8 146.7L583.4 142.1L584 144.4L584.6 142.6L585.3 145.5L585.9 141.9L586.5 137.4L587.1 134.8L587.7 132.4L588.4 127.6L589 125L589.6 129.8L590.2 132.6L590.8 137.7L591.5 142.4L592.1 143L592.7 145.7L593.3 149.4L593.9 153.6L594.5 155.2L595.2 154.5L595.8 155.6L596.4 156.2L597 158.3L597.6 159.7L598.3 160L598.9 160.4L599.5 162.2L600.1 159.3L600.7 161.6L601.4 158.3L602 160.5L602.6 159.8L603.2 158.7L603.8 156.6L604.4 158.4L605.1 157.6L605.7 162L606.3 157.8L606.9 161.9L607.5 161.3L608.2 161.2L608.8 157.8L609.4 159.5L610 160.2L610.6 161.1L611.3 157.3L611.9 156.5L612.5 153.6L613.1 151.4L613.7 148.1L614.4 147.2L615 147.9L615.6 146.8L616.2 142.5L616.8 141.6L617.4 143.9L618.1 140L618.7 144.4L619.3 139.8L619.9 143.1L620.5 146.1L621.2 149.7L621.8 145L622.4 144.9L623 145.3L623.6 147.8L624.3 149.8L624.9 148.1L625.5 149.8L626.1 146.2L626.7 145.7L627.3 144.5L628 144.1L628.6 149.4L629.2 148.8L629.8 151.1L630.4 151.5L631.1 153L631.7 150.7L632.3 153.1L632.9 152.2L633.5 152L634.2 157.8L634.8 154.9L635.4 159.7L636 152.5L636.6 151.5L637.2 153.4L637.9 150.3L638.5 150.2L639.1 146.5L639.7 143.6L640.3 150.9L641 139.1L641.6 141.9L642.2 142.6L642.8 147.5L643.4 147.9L644.1 152L644.7 152.5L645.3 155.5L645.9 155L646.5 155.7L647.2 159.5L647.8 160.6L648.4 163.7L649 158.2L649.6 154.9L650.2 151.8L650.9 153.5L651.5 153.3L652.1 151.5L652.7 149.8L653.3 150.9L654 150.6L654.6 152.1L655.2 152.4L655.8 150.2L656.4 152.2L657.1 153.3L657.7 153.3L658.3 159.6L658.9 153.5L659.5 157.5L660.1 157.2L660.8 160.2L661.4 164.2L662 159.8L662.6 157.3L663.2 152.6L663.9 149.9L664.5 156L665.1 149.2L665.7 147.4L666.2 149.5L666.8 148.2L667.3 140.4L667.9 143.2L668.4 144L669 150.2L669.6 151.3L670.1 156.8L670.7 165.2L671.3 167.2L671.9 164.7L672.5 168.9L673.1 168L673.8 170.8L674.4 167.3L675 164L675.6 168.2L676.2 166.8L676.9 164.4L677.5 163.7L678.1 160.1L678.7 168L679.3 162.9L680 158.6L680.6 163.1L681.2 162.6L681.8 160.4L682.4 159.9L683 161.8L683.6 158.6L684.2 157.7L684.8 158.2L685.4 157.3L686 162.2L686.6 162.2L687.2 158.3L687.8 163.3L688.4 160.9L689 155.4L689.6 163.3L690.2 159.9L690.8 161.6L691.4 158.2L692 159L692.6 161.7M738.1 114.4L738.6 117.4L739.2 115.8L739.8 115.6L740.4 118.6L741 121.2L741.5 114.9L742.1 119.5L742.7 121L743.3 126.4L743.8 125L744.4 132.9L744.9 134.8L745.5 139.1L746 139.7L746.6 148L747.2 154.3L747.7 153.1L748.3 157.8L748.9 159.5L749.5 160.9L750.1 171.3L750.7 166.6L751.2 163.9L751.8 158.2L752.4 151L752.9 144.8L753.5 150.4L754.1 149.2L754.7 146.1L755.2 145L755.8 145.9L756.4 142.5L757 140.1L757.6 144.2L758.2 140.8L758.8 144.6L759.4 149.9L760 150.1L760.7 153.2L761.3 155.8L761.9 149.6L762.5 142.5L763.1 138.3L763.7 133.6L764.4 135.8L765 127.8L765.6 131.6L766.2 133.3L766.8 135L767.5 135.5L768.1 139.3L768.7 138.7L769.3 139.5L769.9 136.6L770.6 136.2L771.2 135.9L771.8 135.9L772.4 135.9L773 132.7L773.7 134.3L774.3 138L774.9 126.5L775.5 132.5L776.1 130.4L776.7 134.5L777.4 138.1L778 141.3L778.6 143.9L779.2 141.7L779.8 146.1L780.5 143.4L781.1 146L781.7 142.6L782.3 139.3L782.9 142.8L783.6 142.2L784.2 142L784.8 134.1L785.4 137.6L786 138.9L786.6 134.7L787.3 129L787.9 132.5L788.5 131.2L789.1 131.5L789.7 130.8L790.4 128.6L791 133.9L791.6 133.9L792.2 135.8L792.8 134L793.5 138.9L794.1 135.1L794.7 139.1L795.3 143.5L795.9 146L796.5 144.5L797.2 144.2L797.8 144.1L798.4 144.1L799 147.7L799.6 142.5L800.3 147.2L800.9 150.2L801.5 144.4L802.1 143.7L802.7 146.4L803.4 148.5L804 149.8L804.6 147.7L805.2 150.6L805.8 148.1L806.5 146.1L807.1 151.5L807.7 149.6L808.3 148.5L808.9 146.6L809.5 145L810.2 145.8L810.8 147.2L811.4 141.8L812 138.7L812.6 137.7L813.3 138.3L813.9 139.6L814.5 142.2L815.1 139.4L815.7 145.5L816.4 147L817 146L817.6 148.6L818.2 151.2L818.8 149.9L819.4 149.9L820.1 155.2L820.7 157.3L821.3 160.5L821.9 166.8L822.5 164.1L823.2 161.7L823.8 162.8L824.4 158.5L825 154.1L825.6 155.4L826.3 154.9L826.9 147.8L827.5 152.6L828.1 151.2L828.7 146.9L829.4 151.5L830 153.7L830.6 155.6L831.2 157L831.8 159.6L832.4 154.4L833.1 152.5L833.7 149.9L834.3 148L834.9 147.7L835.5 143.2L836.2 140.8L836.8 143.9L837.4 147.1L838 148.1L838.6 148.3L839.3 146.6L839.9 148.4L840.5 148.2L841.1 146.9L841.7 149.6L842.3 149.6L843 149L843.6 150.5L844.2 149.8L844.8 149.7L845.4 151L846.1 147.8L846.7 149.3L847.3 150.8L847.9 151.7L848.5 152.7L849.2 153.4L849.8 151.8L850.4 152L851 155.5L851.6 156.8L852.2 157L852.9 155.6L853.5 154.7L854.1 156.6L854.7 152.1L855.3 152L856 150.3L856.6 148.5L857.2 148.9L857.8 145.5L858.4 145.2L859.1 142.6L859.7 143.4L860.3 144.1L860.9 140.3L861.5 140.7L862.2 141.7L862.8 143.4L863.4 144.2L864 146.6L864.6 145.5L865.2 149.1L865.9 152.9L866.5 149.8L867.1 154.2L867.7 152.4L868.3 153.2L869 157.7L869.6 156.4L870.2 157L870.8 159.3L871.4 158.3L872.1 157.7L872.7 154.7L873.3 159.8L873.8 161.7L874.4 158.4L875 157.4L875.6 156.8L876.2 160.8L876.7 156.2L877.3 160.9M882.9 148.3L883.5 146.7L884 149.6L884.6 148.4L885.2 145.7L885.8 145.5L886.4 142.4L886.9 142.4L887.5 140.8L888.1 142L888.8 141.1L889.4 137.1L890 134L890.6 136.7L891.2 137.5L891.9 131.4L892.5 134.6L893.1 131L893.7 132.5L894.3 131.1L895 134.9L895.6 134.4L896.2 139.3L896.8 143.4L897.4 137.1L898 132.5L898.7 129.5L899.3 127.2L899.9 124.6L900.5 123.5L901.1 119.5L901.8 117.7L902.4 114.1M910.7 134.6L911.4 140L912 139.6L912.6 143.4L913.2 149.6L913.8 151.8L914.4 151.9L915 149L915.6 146.9L916.1 150L916.7 142.1L917.2 140.7L917.9 138.9L918.5 140.5L919.1 139.3L919.7 134.6L920.3 136.6L920.9 133.1L921.6 133.1L922.2 132.6L922.8 133.1L923.4 132.2L923.9 137.5L924.5 143.4L925 148.5L925.6 151.7L926.2 152.6L926.8 152.1L927.4 154.8L928 155.4L928 152.6L928.6 151.7L929.2 151.9L929.9 152.2L930.5 150.4L931.1 152.1L931.7 148.6L932.3 149.2L933 150.4L933.6 148.4L934.2 147.8L934.8 146.4L935.4 144.6L936 146.1L936.7 149.6L937.3 145.2L937.8 147.1L938.4 155L939 150.5L939.5 157.5L940.1 153L940.6 152.3L941.2 148.7L941.7 137.2L942.3 139.2L942.9 131L943.4 134.3L944 139.3L944.5 138.6L945.1 143.6L945.6 151.9L946.2 153.9L946.8 151.3L947.3 155.1L947.9 152.3L948.4 157.6L949 153.7L949.7 161.2L950.3 163.4L950.7 149.5L951.2 139.6L951.7 126.3L952.1 112L952.8 104.4L953.4 116.3L954 112.4L954.6 115.4L955.2 112.7L955.8 118.1L956.5 118.1L957.1 117.8L957.7 116.1L958.3 119L958.9 119.9L959.6 120L960.1 124.1L960.7 118.9L961.2 114.6L961.8 108.8L962.3 108.8L962.9 108.4L963.5 110.2L964 110.1L964.6 106L965.1 103.9L965.8 107.9L966.4 111.4L967 115.6L967.6 115.7L968.2 115.3L968.8 124.2L969.5 122.3L970.1 118L970.7 113L971.3 117.8L971.9 113.8L972.6 113.9L973.2 113.1L973.8 113.6L974.4 111L975 108.9L975.7 111.4L976.3 103.5L976.9 108L977.5 105.8L978.1 104.8L978.7 113.7L979.4 112L980 111L980.6 108.4L981.2 115.1L981.8 109.7L982.5 106.5L983.1 118.1L983.7 115L984.3 120.8L984.9 118.4L985.6 123L986.2 127.2L986.8 125.9L987.4 134.1L988 119.8L988.7 109L989.3 98.7L989.9 98.6L990.5 102.3L991.1 101.3L991.7 102.3L992.4 103.3L993 102.4L993.6 111.2L994.2 114.1L994.8 123.3L995.5 119.1L996.1 119.3L996.7 117.5L997.3 117.4L997.9 116.4L998.6 115L999.1 111.8L999.7 108.3L1000.2 105.7L1000.8 95L1001.3 97L1001.9 97.3L1002.5 99L1003 107L1003.6 111.1L1004.1 113.1L1004.7 112.6L1005.4 116.5L1006 116.2L1006.6 121.2L1007.2 124.9L1007.8 127.5L1008.5 117L1009.1 111.9L1009.7 102.8L1010.3 107.3L1010.9 108.8L1011.5 112.9L1012.2 116.3L1012.8 116.7L1013.4 125.4L1014 121.9L1014.6 120.8L1015.3 117.1L1015.9 118.8L1016.5 112L1017.1 119.4L1017.7 111.6L1018.2 108.7L1018.8 110.3L1019.3 108.6L1019.9 105.6L1020.5 106.1L1021 112.7L1021.6 110.9L1022.1 108.5L1022.7 114.1L1023.3 112.1L1023.9 114.2L1024.5 114.8L1025.2 120.6L1025.8 118.7L1026.4 121.5L1027 124.8L1027.6 136.3L1028.3 140.3L1028.9 149.1L1029.5 158L1030.1 162L1030.6 132.4L1031 100.7L1031.6 100.7L1032.2 103.9L1032.7 98.8L1033.3 98.9L1033.8 101.7L1034.4 96.7L1034.9 97.2L1035.5 93.8L1036.1 92L1036.6 88.5L1037.2 97.3L1037.9 108.6L1038.5 119.3L1039 116.1L1039.6 119.2L1040.1 125.4L1040.7 120.4L1041.3 122.1L1041.9 116.4L1042.5 107.2L1043.1 93.9L1043.7 108.2L1044.4 117.4L1045 127.8L1045.6 129.6L1046.2 130L1046.8 128L1047.4 136L1048.1 136.7L1048.7 141.7L1049.3 142.1L1049.9 145.4L1050.5 147.4L1051.2 149.3L1051.8 149L1052.4 153.6L1053 154.9L1053.6 151.4L1054.3 154.5L1054.8 156L1055.4 151.5L1055.9 151.8L1056.5 156.2L1057 155.4L1057.6 154.8L1058.2 152L1058.7 145.8L1059.3 146.4L1059.8 140.7L1060.4 141.9L1060.9 141.8L1061.5 140.9L1062.1 138.8L1062.6 131.8" stroke="#ff0000" stroke-opacity="0.28" stroke-width="1" fill="none" stroke-linejoin="round"/>
<path d="M68.7 84.5h1.5M69.2 114.9h1.5M69.7 143.3h1.5M70.4 118.9h1.5M71 134.9h1.5M71.5 154.9h1.5M72.1 163.1h1.5M72.6 171.4h1.5M73.2 151.9h1.5M73.7 136.9h1.5M74.3 126h1.5M74.9 110.7h1.5M75.4 118.4h1.5M76 122.7h1.5M76.5 125.9h1.5M77.2 114.5h1.5M77.8 109.1h1.5M78.3 122.1h1.5M78.8 139.7h1.5M79.5 147.2h1.5M79.9 116.6h1.5M80.6 129.4h1.5M81.2 120.8h1.5M81.7 113.7h1.5M82.3 106.8h1.5M82.8 130.9h1.5M83.4 155h1.5M84 165.7h1.5M84.5 88h1.5M85.1 94.1h1.5M85.6 90.9h1.5M86.2 138.9h1.5M86.7 96.6h1.5M87.3 114.3h1.5M87.9 127.5h1.5M88.4 122.6h1.5M89 121.9h1.5M89.7 109.7h1.5M90.1 113.7h1.5M90.6 115.8h1.5M91.2 124.3h1.5M91.8 132.6h1.5M92.5 116.3h1.5M93.1 125.2h1.5M93.6 108.8h1.5M94.2 90.7h1.5M94.7 95.5h1.5M95.3 94.4h1.5M95.8 106.6h1.5M96.4 106.4h1.5M97 113.3h1.5M97.5 116.4h1.5M98.1 93.5h1.5M98.6 90.9h1.5M99.2 94.7h1.5M99.7 96.4h1.5M100.3 103.2h1.5M100.9 99h1.5M101.6 95.2h1.5M102 114.9h1.5M102.7 92h1.5M103.3 119.7h1.5M103.8 150.4h1.5M104.4 109h1.5M104.9 124.4h1.5M105.5 143.5h1.5M106.1 162.3h1.5M106.6 163.4h1.5M107.2 164.5h1.5M107.7 133.4h1.5M108.3 140.6h1.5M108.8 114h1.5M109.4 88.1h1.5M110 90.5h1.5M110.7 90h1.5M111.3 91.9h1.5M111.8 93.1h1.5M112.4 99.6h1.5M119.2 157.2h1.5M119.6 133.4h1.5M120.2 121.8h1.5M120.5 178h1.5M121 143.6h1.5M121.5 115.5h1.5M122.2 122h1.5M122.8 163.6h1.5M123.4 161.9h1.5M124.1 160.6h1.5M124.7 148.8h1.5M125.4 131h1.5M125.8 142.5h1.5M126.3 149.5h1.5M126.7 148.1h1.5M127.1 147.2h1.5M127.6 150.2h1.5M128.3 137.3h1.5M128.8 129.2h1.5M129.3 133.9h1.5M129.8 143.3h1.5M130.6 121.3h1.5M131 123h1.5M131.5 115.8h1.5M132 116.4h1.5M132.4 110.4h1.5M133.1 138.6h1.5M133.7 172.7h1.5M134.1 165.1h1.5M134.6 157.5h1.5M135 156.7h1.5M135.4 121h1.5M135.9 128.5h1.5M136.3 139.8h1.5M137.1 145.8h1.5M137.6 133.2h1.5M138.4 139.9h1.5M138.9 148.2h1.5M139.7 119.3h1.5M140.1 115.4h1.5M140.6 104.3h1.5M141.1 105.2h1.5M141.5 109.9h1.5M141.9 117.5h1.5M142.4 114.7h1.5M142.8 116.5h1.5M143.6 108.3h1.5M144 113h1.5M144.5 111h1.5M144.9 155.3h1.5M145.5 149.2h1.5M146.2 150h1.5M146.7 157.1h1.5M147.4 152.9h1.5M148 163h1.5M148.7 161.1h1.5M149.3 161.1h1.5M149.7 126h1.5M150.2 129h1.5M150.6 131.8h1.5M151 164.1h1.5M151.6 164.5h1.5M152.3 163.2h1.5M152.7 162.8h1.5M153.2 164h1.5M153.7 141.8h1.5M154.1 119.2h1.5M154.6 137.7h1.5M155.1 145.6h1.5M155.8 142h1.5M156.3 154.6h1.5M156.7 166.6h1.5M157.2 165.1h1.5M157.7 157.2h1.5M158.4 148.2h1.5M158.9 155.4h1.5M159.3 164.8h1.5M159.9 165.9h1.5M160.5 162.7h1.5M161 161.6h1.5M161.6 156.2h1.5M162.1 156.6h1.5M162.7 158.5h1.5M163.2 153.3h1.5M163.8 155.5h1.5M164.3 152.3h1.5M164.7 143.1h1.5M165.5 163.4h1.5M165.9 165.3h1.5M166.4 170.2h1.5M167 160.8h1.5M167.7 156.7h1.5M168.2 158.9h1.5M168.6 159.5h1.5M169.3 164.8h1.5M169.9 165.6h1.5M170.6 159.2h1.5M171.2 151.1h1.5M172 161.2h1.5M172.5 134.3h1.5M173.3 141.2h1.5M173.7 123.4h1.5M174.2 118h1.5M174.7 129.2h1.5M175.1 143.2h1.5M175.9 169.1h1.5M176.4 164.6h1.5M177.2 157.8h1.5M177.8 147.8h1.5M178.5 148h1.5M179 142.5h1.5M179.4 141.7h1.5M179.9 149.7h1.5M180.3 152.9h1.5M181 152.9h1.5M181.6 163.6h1.5M182 167.9h1.5M182.5 156.7h1.5M182.9 153.6h1.5M183.4 158.9h1.5M183.8 161.2h1.5M184.6 169h1.5M185.1 163.7h1.5M185.5 154.9h1.5M185.9 130.8h1.5M186.4 132.7h1.5M186.8 132.1h1.5M187.5 128.2h1.5M188.1 126.8h1.5M188.7 143.8h1.5M189.3 148.5h1.5M190 163.6h1.5M190.7 116.3h1.5M191.3 145.9h1.5M192 138.9h1.5M192.6 120.1h1.5M193.2 123.7h1.5M193.9 127.3h1.5M194.3 135.1h1.5M194.8 136.3h1.5M195.5 120.1h1.5M196 115.6h1.5M196.5 111.9h1.5M196.9 113h1.5M197.4 105.1h1.5M197.9 129.8h1.5M198.3 151.9h1.5M199 143.8h1.5M199.6 139.1h1.5M200.4 151.3h1.5M200.8 149.4h1.5M201.3 139.6h1.5M201.9 144h1.5M202.4 146.3h1.5M203 152.4h1.5M203.5 154.5h1.5M204.1 153.2h1.5M204.6 162.2h1.5M205.3 161.4h1.5M205.9 158.8h1.5M206.5 155.8h1.5M207.1 153.4h1.5M207.7 149.3h1.5M208.4 145.7h1.5M209 146.2h1.5M209.6 145.1h1.5M210.2 144.3h1.5M210.8 145.7h1.5M211.5 141.7h1.5M212.1 147.7h1.5M212.7 146.3h1.5M213.3 146.9h1.5M213.9 154h1.5M214.5 155.9h1.5M215.2 150.7h1.5M215.8 152.9h1.5M216.4 148.6h1.5M217 142.3h1.5M217.6 130.3h1.5M218.3 136.4h1.5M218.9 128.4h1.5M219.5 135h1.5M220.1 134.9h1.5M220.7 132.4h1.5M221.4 128.3h1.5M222 131.9h1.5M222.6 136.6h1.5M223.2 132.7h1.5M223.8 134.6h1.5M224.4 137.7h1.5M225.1 138.8h1.5M225.7 138.4h1.5M226.3 143.8h1.5M226.9 143.6h1.5M227.5 134.7h1.5M228.2 137.2h1.5M228.8 132.7h1.5M229.4 136.7h1.5M230 131.2h1.5M230.6 127.8h1.5M231.3 128h1.5M231.9 129.5h1.5M232.5 130.8h1.5M233.1 138.8h1.5M233.7 135.3h1.5M234.3 135.7h1.5M234.9 142.7h1.5M235.5 146.1h1.5M236 146.5h1.5M236.6 147h1.5M237.1 156.3h1.5M237.7 151.5h1.5M238.2 137.8h1.5M238.8 136.6h1.5M239.4 141.2h1.5M239.9 128.1h1.5M240.5 130.4h1.5M241 142.3h1.5M241.6 144.1h1.5M242.1 152.3h1.5M242.7 149h1.5M243.3 157h1.5M243.8 152.8h1.5M244.4 147.7h1.5M244.9 145.4h1.5M245.5 147.6h1.5M246.1 145.3h1.5M246.7 151.4h1.5M247.3 149.5h1.5M248 154.1h1.5M248.6 149.7h1.5M249.2 154.4h1.5M249.8 147.6h1.5M250.4 148.3h1.5M251.1 144.6h1.5M251.7 142.2h1.5M252.3 139.9h1.5M252.9 129.9h1.5M253.5 138.2h1.5M254.2 141.1h1.5M254.8 138.9h1.5M255.4 144.4h1.5M256 139.8h1.5M256.6 145.9h1.5M257.2 141.6h1.5M257.9 136h1.5M258.5 139.6h1.5M259.1 133.3h1.5M259.7 127.7h1.5M260.3 121.9h1.5M261 131.7h1.5M261.6 134.2h1.5M262.2 137.1h1.5M262.8 139.7h1.5M263.4 143.7h1.5M264.1 147.9h1.5M264.7 145.9h1.5M265.3 138.6h1.5M265.9 139.9h1.5M266.5 138.9h1.5M267.2 134h1.5M267.8 126.9h1.5M268.4 133.3h1.5M269 132.5h1.5M269.6 133.8h1.5M270.2 147.2h1.5M270.9 141.3h1.5M271.5 142.3h1.5M272.1 137h1.5M272.7 136.9h1.5M273.3 132.5h1.5M274 124.1h1.5M274.6 122.1h1.5M275.2 126.1h1.5M275.8 124.8h1.5M276.4 127.3h1.5M277.1 139h1.5M277.7 136.3h1.5M278.3 152.1h1.5M278.9 146.1h1.5M279.5 147.4h1.5M280 145.7h1.5M280.6 145.9h1.5M281.1 140.8h1.5M281.7 142h1.5M282.3 144.8h1.5M282.2 138.6h1.5M282.8 136.8h1.5M283.4 133.3h1.5M283.9 128.2h1.5M284.5 126.6h1.5M285 124.6h1.5M285.6 125.7h1.5M286.1 133h1.5M286.7 137.3h1.5M287.3 140.8h1.5M287.8 145h1.5M288.4 141.7h1.5M288.9 133.2h1.5M289.5 127.5h1.5M290 126.5h1.5M290.6 122.1h1.5M291.2 122.5h1.5M291.7 131h1.5M292.3 135.2h1.5M292.8 138.7h1.5M293.4 144.8h1.5M293.9 139h1.5M294.5 132.8h1.5M295.1 128.6h1.5M295.6 120.6h1.5M296.2 112.4h1.5M296.7 122.6h1.5M297.3 130.6h1.5M297.8 135.4h1.5M298.4 143.9h1.5M299 149.2h1.5M299.6 142h1.5M300.2 134.8h1.5M300.8 132.9h1.5M301.4 127.4h1.5M302.1 124.6h1.5M302.7 123.6h1.5M303.2 114.7h1.5M303.8 115.5h1.5M304.3 118.7h1.5M304.9 117.7h1.5M305.5 113.1h1.5M306 118.8h1.5M306.6 124.3h1.5M307.1 132.6h1.5M307.7 131.7h1.5M308.2 135.7h1.5M308.9 141.9h1.5M309.5 139.7h1.5M310.1 143.3h1.5M310.7 149.1h1.5M311.3 147h1.5M312 149.1h1.5M312.6 147h1.5M313.2 141.8h1.5M313.8 142.1h1.5M314.4 140.4h1.5M315.1 133h1.5M315.7 133.1h1.5M316.2 135.6h1.5M316.8 139.9h1.5M317.3 142.8h1.5M317.9 142.9h1.5M318.5 150.4h1.5M319.1 136.9h1.5M319.7 135.1h1.5M320.3 132.5h1.5M320.9 130.1h1.5M321.5 128.5h1.5M322.1 129.2h1.5M322.6 129.2h1.5M323.2 128.7h1.5M323.8 130.6h1.5M324.4 123.8h1.5M325 128.2h1.5M325.6 126.9h1.5M326.2 127.5h1.5M326.8 132h1.5M327.4 130.5h1.5M328 129.9h1.5M328.7 122.3h1.5M329.3 129.7h1.5M329.9 124.4h1.5M330.5 126.1h1.5M331.1 127.1h1.5M331.8 132.6h1.5M332.4 123.5h1.5M333 131.1h1.5M333.6 132.1h1.5M334.2 130.6h1.5M334.9 128.8h1.5M335.5 130.9h1.5M336.1 126.3h1.5M336.7 129.1h1.5M337.3 131.9h1.5M337.9 130.5h1.5M338.6 132.7h1.5M339.2 134.6h1.5M339.8 133.7h1.5M340.4 136.4h1.5M341 135.2h1.5M341.7 134.8h1.5M342.3 136.5h1.5M342.9 136.7h1.5M343.5 136.7h1.5M344.1 139.4h1.5M344.8 141.5h1.5M345.4 138.9h1.5M346 139.8h1.5M346.6 140.3h1.5M347.2 139.4h1.5M347.9 143h1.5M348.5 142.1h1.5M349.1 144.2h1.5M349.7 142.7h1.5M350.3 143.5h1.5M350.9 146.4h1.5M351.6 144.3h1.5M352.2 145.4h1.5M352.8 147.3h1.5M353.4 144.4h1.5M354 145.5h1.5M354.7 142.4h1.5M355.3 142.6h1.5M355.9 141.6h1.5M356.5 142.9h1.5M357.1 140.5h1.5M357.8 139.5h1.5M358.4 140.5h1.5M359 143.5h1.5M359.6 141.3h1.5M360.2 147.4h1.5M360.8 143.9h1.5M361.5 146.7h1.5M362.1 147.8h1.5M362.7 149.7h1.5M363.3 146.5h1.5M363.9 144.6h1.5M364.6 144.3h1.5M365.2 142h1.5M365.8 139h1.5M366.4 136.7h1.5M367 133.7h1.5M367.7 135.8h1.5M368.3 135.9h1.5M368.9 138.3h1.5M369.5 140.9h1.5M370.1 143.7h1.5M370.8 146.1h1.5M371.4 148.3h1.5M372 148.8h1.5M372.6 146.2h1.5M373.2 142h1.5M373.8 143h1.5M374.5 139.6h1.5M375.1 137.9h1.5M375.7 141h1.5M376.3 139.8h1.5M376.9 141h1.5M377.6 143.6h1.5M378.2 144.3h1.5M378.8 143.7h1.5M379.4 142.8h1.5M380 140.7h1.5M380.7 145.4h1.5M381.3 143.4h1.5M381.9 145.7h1.5M382.5 146.2h1.5M383.1 143.5h1.5M383.7 143.1h1.5M384.4 139.4h1.5M385 137.1h1.5M385.6 134.3h1.5M386.2 134.5h1.5M386.8 131.8h1.5M387.5 126.5h1.5M388.1 126.2h1.5M388.7 132.5h1.5M389.3 139.5h1.5M389.9 142.4h1.5M390.6 143.2h1.5M391.2 143.2h1.5M391.8 141.8h1.5M392.4 141.7h1.5M393 139.8h1.5M393.6 135.8h1.5M394.3 137.8h1.5M394.9 139.9h1.5M395.5 140.8h1.5M396.1 139.7h1.5M396.7 142.5h1.5M397.4 140.1h1.5M398 141.1h1.5M398.6 141.6h1.5M399.2 141.3h1.5M399.8 143.2h1.5M400.5 141.1h1.5M401.1 140.5h1.5M401.7 146h1.5M402.3 147.3h1.5M402.9 150.3h1.5M403.6 149h1.5M404.2 147.4h1.5M404.8 144.3h1.5M405.4 143.7h1.5M406 139.1h1.5M406.6 136.3h1.5M407.3 137.5h1.5M407.9 138.1h1.5M408.5 141.6h1.5M409.1 141.4h1.5M409.7 138.9h1.5M410.4 138.6h1.5M411 139h1.5M411.6 140.1h1.5M412.2 138.8h1.5M412.8 140.2h1.5M413.5 138.3h1.5M414.1 136.1h1.5M414.7 136.8h1.5M415.3 138.2h1.5M415.9 138.7h1.5M416.5 136.9h1.5M417.2 136.3h1.5M417.8 137.4h1.5M418.4 138.9h1.5M419 136.6h1.5M419.6 133.5h1.5M420.3 134.1h1.5M420.9 137.5h1.5M421.5 136h1.5M422.1 135.4h1.5M422.7 135.2h1.5M423.4 136.6h1.5M424 138.7h1.5M424.6 137.6h1.5M425.2 136.5h1.5M425.8 137.2h1.5M426.5 135.4h1.5M427.1 137.8h1.5M427.7 137.1h1.5M428.3 137.6h1.5M428.9 135.7h1.5M429.5 137.5h1.5M430.2 134.4h1.5M430.8 136.9h1.5M431.4 137.2h1.5M432 135.7h1.5M432.6 137.4h1.5M433.3 138h1.5M433.9 133.9h1.5M434.5 134.3h1.5M435.1 133.5h1.5M435.7 136.2h1.5M436.4 134.3h1.5M437 133h1.5M437.6 135.2h1.5M438.2 133.6h1.5M438.8 137.9h1.5M439.4 135.1h1.5M440.1 136.1h1.5M440.7 134.2h1.5M441.3 133.9h1.5M441.9 136.5h1.5M442.5 137.3h1.5M443.2 135.2h1.5M443.8 134.8h1.5M444.4 136.3h1.5M445 137.7h1.5M445.6 136.2h1.5M446.3 139.2h1.5M446.9 138h1.5M447.5 139.3h1.5M448.1 136.3h1.5M448.7 135.9h1.5M449.3 136.6h1.5M450 138h1.5M450.6 141h1.5M451.2 140.5h1.5M451.8 140.8h1.5M452.4 139.5h1.5M453.1 142.2h1.5M453.7 141.9h1.5M454.3 143.2h1.5M454.9 143h1.5M455.5 142.6h1.5M456.2 144.9h1.5M456.8 146.6h1.5M457.4 143.8h1.5M458 144.5h1.5M458.6 145.9h1.5M459.3 143.6h1.5M459.9 143.6h1.5M460.5 140.3h1.5M461.1 141.7h1.5M461.7 139.5h1.5M462.3 140.9h1.5M463 139.5h1.5M463.6 140.3h1.5M464.2 138.5h1.5M464.8 140.7h1.5M465.4 139.8h1.5M466.1 140.3h1.5M466.7 139.3h1.5M467.3 136.6h1.5M467.9 139h1.5M468.5 140.8h1.5M469.2 139.6h1.5M469.8 139.1h1.5M470.4 140.5h1.5M471 142h1.5M471.6 140.2h1.5M472.2 139.5h1.5M472.9 137.5h1.5M473.5 137.6h1.5M474.1 140h1.5M474.7 138.8h1.5M475.3 138.4h1.5M476 139.2h1.5M476.6 137.4h1.5M477.2 134.7h1.5M477.8 137h1.5M478.4 137.5h1.5M479.1 134.7h1.5M479.7 134.2h1.5M480.3 133.9h1.5M480.9 134.4h1.5M481.5 129.4h1.5M482.2 130.6h1.5M482.8 131.2h1.5M483.4 130.2h1.5M484 134.9h1.5M484.6 137.5h1.5M485.2 141.1h1.5M485.9 142h1.5M486.5 143.5h1.5M487.1 142.1h1.5M487.7 141.2h1.5M488.3 141.4h1.5M489 139.9h1.5M489.6 141.2h1.5M490.2 140h1.5M490.8 136.6h1.5M491.4 139.7h1.5M492.1 137.6h1.5M492.6 134.7h1.5M493.2 138h1.5M493.8 138.4h1.5M494.4 138.3h1.5M494.9 136.6h1.5M495.5 138.2h1.5M496.1 138h1.5M496.7 137h1.5M497.3 140h1.5M497.2 141.1h1.5M497.9 141.9h1.5M498.5 141.6h1.5M499.1 143.7h1.5M499.7 142.3h1.5M500.3 141.2h1.5M501 141.3h1.5M501.6 140.8h1.5M502.2 142.5h1.5M502.8 143.1h1.5M503.4 143h1.5M504.1 146.8h1.5M504.7 144h1.5M505.3 142.5h1.5M505.9 141.9h1.5M506.5 140.7h1.5M507.2 141.2h1.5M507.8 138.7h1.5M508.4 136.2h1.5M509 136.3h1.5M509.6 137h1.5M510.2 134.7h1.5M510.9 134.4h1.5M511.5 135.8h1.5M512.1 135.4h1.5M512.7 135h1.5M513.3 135.4h1.5M514 138.1h1.5M514.6 136.5h1.5M515.2 137.7h1.5M515.8 136.3h1.5M516.4 137h1.5M517.1 140.3h1.5M517.7 135.5h1.5M518.3 139.2h1.5M518.9 138.4h1.5M519.5 138.3h1.5M520.1 137.3h1.5M520.8 140h1.5M521.4 138.3h1.5M522 138.4h1.5M522.6 138h1.5M523.2 134.8h1.5M523.9 133.5h1.5M524.5 132.1h1.5M525.1 130.3h1.5M525.7 129.5h1.5M526.3 129.7h1.5M527 129.7h1.5M527.6 126.7h1.5M528.2 124.7h1.5M528.8 126.8h1.5M529.4 127.6h1.5M530.1 128h1.5M530.7 126.4h1.5M531.3 126.5h1.5M531.9 124.7h1.5M532.5 125.3h1.5M533.1 125h1.5M533.7 123.4h1.5M534.3 126.4h1.5M534.8 126h1.5M535.4 126.7h1.5M536 128.3h1.5M536.6 127.7h1.5M537.2 128.9h1.5M537.7 133.2h1.5M538.3 133.9h1.5M538.9 135.2h1.5M539.5 136h1.5M540.1 140h1.5M540.6 140.9h1.5M541.2 143.6h1.5M541.8 145.6h1.5M542.4 145.4h1.5M543 147.9h1.5M543.7 148.2h1.5M544.3 150.7h1.5M544.9 151.7h1.5M545.5 152.4h1.5M546.1 154.1h1.5M546.8 152h1.5M547.4 150.8h1.5M548 152.3h1.5M548.6 152.9h1.5M549.2 153.5h1.5M549.9 152.7h1.5M550.5 153.2h1.5M551.1 152.2h1.5M551.7 154.4h1.5M552.3 151.9h1.5M552.9 152.7h1.5M553.6 153h1.5M554.2 153.8h1.5M554.8 155h1.5M555.4 145.4h1.5M556 137.3h1.5M556.7 129.4h1.5M557.3 132.8h1.5M557.9 136.5h1.5M558.5 143.6h1.5M559.1 142.5h1.5M559.8 141.3h1.5M560.4 142.3h1.5M561 141.7h1.5M561.6 143.6h1.5M562.2 141.2h1.5M562.9 139h1.5M563.5 137.6h1.5M564.1 132.6h1.5M564.7 135.7h1.5M565.3 134.7h1.5M565.9 132.4h1.5M566.5 131.7h1.5M567.1 131.9h1.5M567.7 133.9h1.5M568.3 131.8h1.5M568.8 131.6h1.5M569.4 129.9h1.5M570 131.2h1.5M570.6 129.9h1.5M571.5 144.6h1.5M577.1 146h1.5M577.7 144.8h1.5M578.3 144.4h1.5M578.9 145.7h1.5M579.6 143.1h1.5M580.2 145h1.5M580.8 147.6h1.5M581.4 144.7h1.5M582 146.7h1.5M582.7 142.1h1.5M583.3 144.4h1.5M583.9 142.6h1.5M584.5 145.5h1.5M585.1 141.9h1.5M585.8 137.4h1.5M586.4 134.8h1.5M587 132.4h1.5M587.6 127.6h1.5M588.2 125h1.5M588.8 129.8h1.5M589.5 132.6h1.5M590.1 137.7h1.5M590.7 142.4h1.5M591.3 143h1.5M591.9 145.7h1.5M592.6 149.4h1.5M593.2 153.6h1.5M593.8 155.2h1.5M594.4 154.5h1.5M595 155.6h1.5M595.7 156.2h1.5M596.3 158.3h1.5M596.9 159.7h1.5M597.5 160h1.5M598.1 160.4h1.5M598.7 162.2h1.5M599.4 159.3h1.5M600 161.6h1.5M600.6 158.3h1.5M601.2 160.5h1.5M601.8 159.8h1.5M602.5 158.7h1.5M603.1 156.6h1.5M603.7 158.4h1.5M604.3 157.6h1.5M604.9 162h1.5M605.6 157.8h1.5M606.2 161.9h1.5M606.8 161.3h1.5M607.4 161.2h1.5M608 157.8h1.5M608.6 159.5h1.5M609.3 160.2h1.5M609.9 161.1h1.5M610.5 157.3h1.5M611.1 156.5h1.5M611.7 153.6h1.5M612.4 151.4h1.5M613 148.1h1.5M613.6 147.2h1.5M614.2 147.9h1.5M614.8 146.8h1.5M615.5 142.5h1.5M616.1 141.6h1.5M616.7 143.9h1.5M617.3 140h1.5M617.9 144.4h1.5M618.6 139.8h1.5M619.2 143.1h1.5M619.8 146.1h1.5M620.4 149.7h1.5M621 145h1.5M621.6 144.9h1.5M622.3 145.3h1.5M622.9 147.8h1.5M623.5 149.8h1.5M624.1 148.1h1.5M624.7 149.8h1.5M625.4 146.2h1.5M626 145.7h1.5M626.6 144.5h1.5M627.2 144.1h1.5M627.8 149.4h1.5M628.5 148.8h1.5M629.1 151.1h1.5M629.7 151.5h1.5M630.3 153h1.5M630.9 150.7h1.5M631.5 153.1h1.5M632.2 152.2h1.5M632.8 152h1.5M633.4 157.8h1.5M634 154.9h1.5M634.6 159.7h1.5M635.3 152.5h1.5M635.9 151.5h1.5M636.5 153.4h1.5M637.1 150.3h1.5M637.7 150.2h1.5M638.4 146.5h1.5M639 143.6h1.5M639.6 150.9h1.5M640.2 139.1h1.5M640.8 141.9h1.5M641.5 142.6h1.5M642.1 147.5h1.5M642.7 147.9h1.5M643.3 152h1.5M643.9 152.5h1.5M644.5 155.5h1.5M645.2 155h1.5M645.8 155.7h1.5M646.4 159.5h1.5M647 160.6h1.5M647.6 163.7h1.5M648.3 158.2h1.5M648.9 154.9h1.5M649.5 151.8h1.5M650.1 153.5h1.5M650.7 153.3h1.5M651.4 151.5h1.5M652 149.8h1.5M652.6 150.9h1.5M653.2 150.6h1.5M653.8 152.1h1.5M654.4 152.4h1.5M655.1 150.2h1.5M655.7 152.2h1.5M656.3 153.3h1.5M656.9 153.3h1.5M657.5 159.6h1.5M658.2 153.5h1.5M658.8 157.5h1.5M659.4 157.2h1.5M660 160.2h1.5M660.6 164.2h1.5M661.3 159.8h1.5M661.9 157.3h1.5M662.5 152.6h1.5M663.1 149.9h1.5M663.7 156h1.5M664.3 149.2h1.5M664.9 147.4h1.5M665.5 149.5h1.5M666 148.2h1.5M666.6 140.4h1.5M667.1 143.2h1.5M667.7 144h1.5M668.2 150.2h1.5M668.8 151.3h1.5M669.4 156.8h1.5M669.9 165.2h1.5M670.5 167.2h1.5M671.2 164.7h1.5M671.8 168.9h1.5M672.4 168h1.5M673 170.8h1.5M673.6 167.3h1.5M674.3 164h1.5M674.9 168.2h1.5M675.5 166.8h1.5M676.1 164.4h1.5M676.7 163.7h1.5M677.3 160.1h1.5M678 168h1.5M678.6 162.9h1.5M679.2 158.6h1.5M679.8 163.1h1.5M680.4 162.6h1.5M681.1 160.4h1.5M681.7 159.9h1.5M682.3 161.8h1.5M682.9 158.6h1.5M683.5 157.7h1.5M684.1 158.2h1.5M684.6 157.3h1.5M685.2 162.2h1.5M685.8 162.2h1.5M686.4 158.3h1.5M687 163.3h1.5M687.6 160.9h1.5M688.2 155.4h1.5M688.8 163.3h1.5M689.4 159.9h1.5M690 161.6h1.5M690.6 158.2h1.5M691.2 159h1.5M691.8 161.7h1.5M695.9 162.2h1.5M737.3 114.4h1.5M737.9 117.4h1.5M738.5 115.8h1.5M739.1 115.6h1.5M739.6 118.6h1.5M740.2 121.2h1.5M740.8 114.9h1.5M741.4 119.5h1.5M742 121h1.5M742.5 126.4h1.5M743.1 125h1.5M743.6 132.9h1.5M744.2 134.8h1.5M744.7 139.1h1.5M745.3 139.7h1.5M745.9 148h1.5M746.4 154.3h1.5M747 153.1h1.5M747.5 157.8h1.5M748.1 159.5h1.5M748.8 160.9h1.5M749.4 171.3h1.5M749.9 166.6h1.5M750.5 163.9h1.5M751.1 158.2h1.5M751.6 151h1.5M752.2 144.8h1.5M752.7 150.4h1.5M753.3 149.2h1.5M753.9 146.1h1.5M754.5 145h1.5M755.1 145.9h1.5M755.6 142.5h1.5M756.2 140.1h1.5M756.8 144.2h1.5M757.4 140.8h1.5M758 144.6h1.5M758.7 149.9h1.5M759.3 150.1h1.5M759.9 153.2h1.5M760.5 155.8h1.5M761.1 149.6h1.5M761.8 142.5h1.5M762.4 138.3h1.5M763 133.6h1.5M763.6 135.8h1.5M764.2 127.8h1.5M764.9 131.6h1.5M765.5 133.3h1.5M766.1 135h1.5M766.7 135.5h1.5M767.3 139.3h1.5M767.9 138.7h1.5M768.6 139.5h1.5M769.2 136.6h1.5M769.8 136.2h1.5M770.4 135.9h1.5M771 135.9h1.5M771.7 135.9h1.5M772.3 132.7h1.5M772.9 134.3h1.5M773.5 138h1.5M774.1 126.5h1.5M774.8 132.5h1.5M775.4 130.4h1.5M776 134.5h1.5M776.6 138.1h1.5M777.2 141.3h1.5M777.9 143.9h1.5M778.5 141.7h1.5M779.1 146.1h1.5M779.7 143.4h1.5M780.3 146h1.5M780.9 142.6h1.5M781.6 139.3h1.5M782.2 142.8h1.5M782.8 142.2h1.5M783.4 142h1.5M784 134.1h1.5M784.7 137.6h1.5M785.3 138.9h1.5M785.9 134.7h1.5M786.5 129h1.5M787.1 132.5h1.5M787.8 131.2h1.5M788.4 131.5h1.5M789 130.8h1.5M789.6 128.6h1.5M790.2 133.9h1.5M790.8 133.9h1.5M791.5 135.8h1.5M792.1 134h1.5M792.7 138.9h1.5M793.3 135.1h1.5M793.9 139.1h1.5M794.6 143.5h1.5M795.2 146h1.5M795.8 144.5h1.5M796.4 144.2h1.5M797 144.1h1.5M797.7 144.1h1.5M798.3 147.7h1.5M798.9 142.5h1.5M799.5 147.2h1.5M800.1 150.2h1.5M800.8 144.4h1.5M801.4 143.7h1.5M802 146.4h1.5M802.6 148.5h1.5M803.2 149.8h1.5M803.8 147.7h1.5M804.5 150.6h1.5M805.1 148.1h1.5M805.7 146.1h1.5M806.3 151.5h1.5M806.9 149.6h1.5M807.6 148.5h1.5M808.2 146.6h1.5M808.8 145h1.5M809.4 145.8h1.5M810 147.2h1.5M810.7 141.8h1.5M811.3 138.7h1.5M811.9 137.7h1.5M812.5 138.3h1.5M813.1 139.6h1.5M813.7 142.2h1.5M814.4 139.4h1.5M815 145.5h1.5M815.6 147h1.5M816.2 146h1.5M816.8 148.6h1.5M817.5 151.2h1.5M818.1 149.9h1.5M818.7 149.9h1.5M819.3 155.2h1.5M819.9 157.3h1.5M820.6 160.5h1.5M821.2 166.8h1.5M821.8 164.1h1.5M822.4 161.7h1.5M823 162.8h1.5M823.6 158.5h1.5M824.3 154.1h1.5M824.9 155.4h1.5M825.5 154.9h1.5M826.1 147.8h1.5M826.7 152.6h1.5M827.4 151.2h1.5M828 146.9h1.5M828.6 151.5h1.5M829.2 153.7h1.5M829.8 155.6h1.5M830.5 157h1.5M831.1 159.6h1.5M831.7 154.4h1.5M832.3 152.5h1.5M832.9 149.9h1.5M833.6 148h1.5M834.2 147.7h1.5M834.8 143.2h1.5M835.4 140.8h1.5M836 143.9h1.5M836.6 147.1h1.5M837.3 148.1h1.5M837.9 148.3h1.5M838.5 146.6h1.5M839.1 148.4h1.5M839.7 148.2h1.5M840.4 146.9h1.5M841 149.6h1.5M841.6 149.6h1.5M842.2 149h1.5M842.8 150.5h1.5M843.5 149.8h1.5M844.1 149.7h1.5M844.7 151h1.5M845.3 147.8h1.5M845.9 149.3h1.5M846.5 150.8h1.5M847.2 151.7h1.5M847.8 152.7h1.5M848.4 153.4h1.5M849 151.8h1.5M849.6 152h1.5M850.3 155.5h1.5M850.9 156.8h1.5M851.5 157h1.5M852.1 155.6h1.5M852.7 154.7h1.5M853.4 156.6h1.5M854 152.1h1.5M854.6 152h1.5M855.2 150.3h1.5M855.8 148.5h1.5M856.5 148.9h1.5M857.1 145.5h1.5M857.7 145.2h1.5M858.3 142.6h1.5M858.9 143.4h1.5M859.5 144.1h1.5M860.2 140.3h1.5M860.8 140.7h1.5M861.4 141.7h1.5M862 143.4h1.5M862.6 144.2h1.5M863.3 146.6h1.5M863.9 145.5h1.5M864.5 149.1h1.5M865.1 152.9h1.5M865.7 149.8h1.5M866.4 154.2h1.5M867 152.4h1.5M867.6 153.2h1.5M868.2 157.7h1.5M868.8 156.4h1.5M869.4 157h1.5M870.1 159.3h1.5M870.7 158.3h1.5M871.3 157.7h1.5M871.9 154.7h1.5M872.5 159.8h1.5M873.1 161.7h1.5M873.7 158.4h1.5M874.2 157.4h1.5M874.8 156.8h1.5M875.4 160.8h1.5M876 156.2h1.5M876.6 160.9h1.5M882.1 148.3h1.5M882.7 146.7h1.5M883.3 149.6h1.5M883.9 148.4h1.5M884.5 145.7h1.5M885 145.5h1.5M885.6 142.4h1.5M886.2 142.4h1.5M886.8 140.8h1.5M887.4 142h1.5M888 141.1h1.5M888.6 137.1h1.5M889.3 134h1.5M889.9 136.7h1.5M890.5 137.5h1.5M891.1 131.4h1.5M891.7 134.6h1.5M892.3 131h1.5M893 132.5h1.5M893.6 131.1h1.5M894.2 134.9h1.5M894.8 134.4h1.5M895.4 139.3h1.5M896.1 143.4h1.5M896.7 137.1h1.5M897.3 132.5h1.5M897.9 129.5h1.5M898.5 127.2h1.5M899.2 124.6h1.5M899.8 123.5h1.5M900.4 119.5h1.5M901 117.7h1.5M901.6 114.1h1.5M910 134.6h1.5M910.6 140h1.5M911.2 139.6h1.5M911.8 143.4h1.5M912.5 149.6h1.5M913.1 151.8h1.5M913.7 151.9h1.5M914.3 149h1.5M914.8 146.9h1.5M915.4 150h1.5M915.9 142.1h1.5M916.5 140.7h1.5M917.1 138.9h1.5M917.7 140.5h1.5M918.3 139.3h1.5M919 134.6h1.5M919.6 136.6h1.5M920.2 133.1h1.5M920.8 133.1h1.5M921.4 132.6h1.5M922.1 133.1h1.5M922.6 132.2h1.5M923.2 137.5h1.5M923.7 143.4h1.5M924.3 148.5h1.5M924.8 151.7h1.5M925.4 152.6h1.5M926 152.1h1.5M926.6 154.8h1.5M927.3 155.4h1.5M927.2 152.6h1.5M927.9 151.7h1.5M928.5 151.9h1.5M929.1 152.2h1.5M929.7 150.4h1.5M930.3 152.1h1.5M931 148.6h1.5M931.6 149.2h1.5M932.2 150.4h1.5M932.8 148.4h1.5M933.4 147.8h1.5M934.1 146.4h1.5M934.7 144.6h1.5M935.3 146.1h1.5M935.9 149.6h1.5M936.5 145.2h1.5M937.1 147.1h1.5M937.6 155h1.5M938.2 150.5h1.5M938.8 157.5h1.5M939.3 153h1.5M939.9 152.3h1.5M940.4 148.7h1.5M941 137.2h1.5M941.5 139.2h1.5M942.1 131h1.5M942.7 134.3h1.5M943.2 139.3h1.5M943.8 138.6h1.5M944.3 143.6h1.5M944.9 151.9h1.5M945.4 153.9h1.5M946 151.3h1.5M946.6 155.1h1.5M947.1 152.3h1.5M947.7 157.6h1.5M948.3 153.7h1.5M948.9 161.2h1.5M949.5 163.4h1.5M950 149.5h1.5M950.5 139.6h1.5M950.9 126.3h1.5M951.4 112h1.5M952 104.4h1.5M952.6 116.3h1.5M953.2 112.4h1.5M953.9 115.4h1.5M954.5 112.7h1.5M955.1 118.1h1.5M955.7 118.1h1.5M956.3 117.8h1.5M957 116.1h1.5M957.6 119h1.5M958.2 119.9h1.5M958.8 120h1.5M959.4 124.1h1.5M959.9 118.9h1.5M960.5 114.6h1.5M961 108.8h1.5M961.6 108.8h1.5M962.2 108.4h1.5M962.7 110.2h1.5M963.3 110.1h1.5M963.8 106h1.5M964.4 103.9h1.5M965 107.9h1.5M965.6 111.4h1.5M966.2 115.6h1.5M966.9 115.7h1.5M967.5 115.3h1.5M968.1 124.2h1.5M968.7 122.3h1.5M969.3 118h1.5M970 113h1.5M970.6 117.8h1.5M971.2 113.8h1.5M971.8 113.9h1.5M972.4 113.1h1.5M973 113.6h1.5M973.7 111h1.5M974.3 108.9h1.5M974.9 111.4h1.5M975.5 103.5h1.5M976.1 108h1.5M976.8 105.8h1.5M977.4 104.8h1.5M978 113.7h1.5M978.6 112h1.5M979.2 111h1.5M979.9 108.4h1.5M980.5 115.1h1.5M981.1 109.7h1.5M981.7 106.5h1.5M982.3 118.1h1.5M982.9 115h1.5M983.6 120.8h1.5M984.2 118.4h1.5M984.8 123h1.5M985.4 127.2h1.5M986 125.9h1.5M986.7 134.1h1.5M987.3 119.8h1.5M987.9 109h1.5M988.5 98.7h1.5M989.1 98.6h1.5M989.8 102.3h1.5M990.4 101.3h1.5M991 102.3h1.5M991.6 103.3h1.5M992.2 102.4h1.5M992.9 111.2h1.5M993.5 114.1h1.5M994.1 123.3h1.5M994.7 119.1h1.5M995.3 119.3h1.5M995.9 117.5h1.5M996.6 117.4h1.5M997.2 116.4h1.5M997.8 115h1.5M998.4 111.8h1.5M998.9 108.3h1.5M999.5 105.7h1.5M1000 95h1.5M1000.6 97h1.5M1001.1 97.3h1.5M1001.7 99h1.5M1002.3 107h1.5M1002.8 111.1h1.5M1003.4 113.1h1.5M1004 112.6h1.5M1004.6 116.5h1.5M1005.2 116.2h1.5M1005.8 121.2h1.5M1006.5 124.9h1.5M1007.1 127.5h1.5M1007.7 117h1.5M1008.3 111.9h1.5M1008.9 102.8h1.5M1009.6 107.3h1.5M1010.2 108.8h1.5M1010.8 112.9h1.5M1011.4 116.3h1.5M1012 116.7h1.5M1012.7 125.4h1.5M1013.3 121.9h1.5M1013.9 120.8h1.5M1014.5 117.1h1.5M1015.1 118.8h1.5M1015.8 112h1.5M1016.4 119.4h1.5M1016.9 111.6h1.5M1017.5 108.7h1.5M1018 110.3h1.5M1018.6 108.6h1.5M1019.2 105.6h1.5M1019.7 106.1h1.5M1020.3 112.7h1.5M1020.8 110.9h1.5M1021.4 108.5h1.5M1021.9 114.1h1.5M1022.6 112.1h1.5M1023.2 114.2h1.5M1023.8 114.8h1.5M1024.4 120.6h1.5M1025 118.7h1.5M1025.7 121.5h1.5M1026.3 124.8h1.5M1026.9 136.3h1.5M1027.5 140.3h1.5M1028.1 149.1h1.5M1028.7 158h1.5M1029.4 162h1.5M1029.8 132.4h1.5M1030.3 100.7h1.5M1030.9 100.7h1.5M1031.4 103.9h1.5M1032 98.8h1.5M1032.5 98.9h1.5M1033.1 101.7h1.5M1033.6 96.7h1.5M1034.2 97.2h1.5M1034.8 93.8h1.5M1035.3 92h1.5M1035.9 88.5h1.5M1036.5 97.3h1.5M1037.1 108.6h1.5M1037.7 119.3h1.5M1038.3 116.1h1.5M1038.8 119.2h1.5M1039.4 125.4h1.5M1039.9 120.4h1.5M1040.5 122.1h1.5M1041.1 116.4h1.5M1041.7 107.2h1.5M1042.4 93.9h1.5M1043 108.2h1.5M1043.6 117.4h1.5M1044.2 127.8h1.5M1044.8 129.6h1.5M1045.5 130h1.5M1046.1 128h1.5M1046.7 136h1.5M1047.3 136.7h1.5M1047.9 141.7h1.5M1048.6 142.1h1.5M1049.2 145.4h1.5M1049.8 147.4h1.5M1050.4 149.3h1.5M1051 149h1.5M1051.6 153.6h1.5M1052.3 154.9h1.5M1052.9 151.4h1.5M1053.5 154.5h1.5M1054.1 156h1.5M1054.6 151.5h1.5M1055.2 151.8h1.5M1055.7 156.2h1.5M1056.3 155.4h1.5M1056.8 154.8h1.5M1057.4 152h1.5M1058 145.8h1.5M1058.5 146.4h1.5M1059.1 140.7h1.5M1059.6 141.9h1.5M1060.2 141.8h1.5M1060.7 140.9h1.5M1061.3 138.8h1.5M1061.9 131.8h1.5" stroke="#ff0000" stroke-width="1.5" fill="none"/>
<path d="M1031 98.1H1034.5V164H1031Z" fill="#f08080" fill-opacity="0.7"/>
<path d="M1029.5 69.3L1035 65.9V74.5L1029.5 73.4Z" fill="#999" fill-opacity="0.45"/>
<path d="M68 94.1V97.6M69 95.2V98.6M70.1 95.5V97.4M71.1 94.5V97.5M72.1 96.6V98.1M73.2 95.2V97.4M74.2 93.9V96.8M75.2 97V99.2M76.3 93.9V96.2M77.3 93.2V95.1M78.3 92.7V95.3M79.3 93.7V95.6M80.4 94.6V96.8M81.4 94.8V96.2M82.4 94.4V96.8M83.5 95.4V97M84.5 94.8V96.4M85.5 93.1V96.2M86.6 93.6V96.7M87.6 93V95.5M88.6 91.1V92.8M89.7 91.5V94.9M90.7 91.4V92.7M91.7 89.6V92.2M92.8 92.2V93.5M93.8 90.8V92.7M94.8 87.8V91.6M95.8 88.5V90.2M96.9 91.6V94.1M98 88.6V91.7M99 90.9V92.9M100.1 90.8V93.4M101.2 91.4V94.1M102.2 90.9V93.4M103.3 91.2V93.8M104.2 92.6V95.3M105.1 93.9V96.7M106.1 94.8V97.1M107 98.1V99.8M107.9 102.8V105.8M108.8 93.3V95.7M109.8 86.4V88.3M110.7 85.8V88.8M111.6 86.8V89.5M112.6 87.7V91.4M120.9 90.8V93.9M121.8 92.7V94.4M122.8 91.9V95.3M123.7 92.7V95.6M124.6 95V97.1M125.6 96.6V99M126.6 95.3V97.4M127.7 95.5V98.9M128.7 97V99.5M129.8 96.9V98.6M130.9 95.1V97.2M131.9 98.3V100.7M133 96.1V98.6M134 97.2V100.7M135 95.5V98M136.1 98.1V100.8M137.1 95.2V97.5M138.1 95.3V98.2M139.2 97.2V100.5M140.2 98.2V100M141.2 98.3V101.5M142.3 98.2V101M143.2 99.4V102.7M144.1 100.5V102.9M145.1 99.3V100.8M146 99.2V100.3M146.9 99.2V101.8M147.8 101.3V103.3M148.9 100.2V103.4M150 99.7V102.1M151 97.5V101.1M152.1 98.9V100.7M153.1 98.7V101M154.2 96.6V99.4M155.3 97.8V101.1M156.2 97.7V100.1M157.1 98.7V101.4M158 99.5V100.7M159 101.8V104.2M159.9 100.6V102.4M160.8 98V100M161.8 99.5V102M162.7 97.7V100.8M163.6 98V100.7M164.5 96.5V99.2M165.6 96V98.4M166.7 98.1V100.9M167.7 97.4V100.3M168.8 98.1V99.5M169.9 98.2V100.7M170.9 100.6V102.4M172 99.3V102.4M173 99V102.5M174.1 99.5V102.4M175.2 100.9V102.4M176.2 99.8V103.5M177.3 101.1V103.7M178.3 101.3V102.8M179.4 103.4V104.6M180.4 99.4V102.3M181.5 100.5V103.6M182.5 101.8V104.4M183.5 102.3V105.5M184.6 99.9V103.5M185.6 101V103.8M186.6 103.2V105.1M187.7 104.2V106M188.7 105V106.8M189.7 102.4V104.5M190.7 104V106.9M191.8 104.6V107.3M192.8 103.9V106.1M193.8 103.3V106M194.9 102.7V105.9M195.9 102.5V104.6M196.9 105.4V107.3M198 104.3V106.6M199 104.7V106.2M200 103.7V106.4M201.1 104.5V107M202.1 105.3V107.7M203.1 104.7V107.6M204.2 106.1V108M205.2 105.5V108.7M206.2 106.6V109.1M207.2 107.6V109.7M208.3 108.8V111.3M209.3 107.6V109M210.3 108.2V109.7M211.4 107.1V110.7M212.4 106.6V109.1M213.4 109.6V111.8M214.5 107.8V109.2M215.5 106.4V109.3M216.5 109.8V111M217.6 108V110.3M218.6 106.9V109.1M219.6 109V110.7M220.7 108.7V111.6M221.7 107.7V110.7M222.7 106.9V108.1M223.8 107.8V110.3M224.8 105.5V107.9M225.8 106.7V109.6M226.7 108V109.2M227.7 108.5V111.1M228.6 110.7V113.1M229.5 110.6V112.7M230.5 112.9V114.9M231.4 112.5V115.8M232.3 113.1V116.1M233.2 114.8V117.8M234.2 115.5V119.3M235.1 118.1V119.6M236 114V117.3M237 114.8V117.2M237.9 111.4V113.1M238.8 110.8V111.9M239.9 108.3V110.9M240.9 108.2V111.4M242 110.4V113.2M243.1 109.5V112.4M244.1 110.5V112.5M245.2 111.2V113.7M246.2 109.4V112M247.3 110.6V113.9M248.4 112.5V114.3M249.4 110.5V112.6M250.5 109.3V112M251.5 110.2V112.2M252.6 108.9V111.1M253.7 110.3V111.5M254.7 110.5V112.6M255.7 107.4V109.8M256.8 108.7V110.8M257.8 108.3V110.2M258.8 108.8V110.5M259.9 108.3V109.7M260.9 106.3V108.8M261.9 107.3V110.8M262.9 106.6V109.8M264 105.9V107.3M265 106V109.4M266 105.6V107.8M267.1 107.1V110M268.1 109.2V110.5M269.1 106.8V110.1M270.2 108.9V110.1M271.2 108.2V110.8M272.2 109.2V111M273.2 109.9V111.8M274.2 109.6V111.4M275.2 112V113.8M276.1 111.6V112.8M277.1 110.8V112.5M278.1 112.6V115.7M279.1 111.4V114.8M280.1 114V115.8M281 111.8V113.4M282 114.1V116.4M283 113.1V115.5M283 111.8V113.6M284 112.5V115.1M285 110.9V113M286 110.8V112.7M287.1 111.1V113.3M288.1 110.5V112.2M289.1 110.6V112.5M290.1 109.7V112.1M291.1 110V111.7M292.1 109.6V111M293.1 109.3V111.2M294.1 108.8V109.7M295.2 109.4V110.9M296.2 109.2V110.6M297.2 106.3V108.3M298.3 107V108.5M299.3 109.1V110.6M300.3 107.8V109.3M301.4 108V110M302.4 107.5V109.3M303.4 107.2V109.8M304.5 110V111.7M305.5 108.4V110.2M306.6 108.8V110.5M307.7 109.4V111.3M308.7 109.4V111.2M309.8 110.1V111.9M310.8 110.8V112.1M311.9 111.3V113.3M313 111.6V113.7M314 110.5V111.9M315.1 111.4V113.2M316.2 114.1V115.8M317.2 113V114.2M318.3 113.5V114.8M319.2 108.6V110.5M320.1 104.3V105.5M321.1 108.6V110.3M322 108.2V109.6M322.9 109.9V111.5M323.8 113.1V115M324.8 112.9V114M325.8 111V112.8M326.8 112.7V114.3M327.8 112.7V115.1M328.8 111.1V113.2M329.8 112V113.3M330.8 112.9V114.6M331.8 113.4V115.2M332.8 111.1V112.2M333.7 111.4V113.5M334.7 112.1V113.5M335.7 111.9V113M336.7 111.5V112.8M337.7 111.3V113.3M338.7 113V113.9M339.7 111.3V113.1M340.7 112.3V113.9M341.6 112V114.6M342.6 112.5V114.3M343.6 113.1V114.2M344.6 111.9V113.6M345.5 111.3V113.3M346.5 112.3V114.1M347.5 112.3V113.8M348.5 112V113.6M349.4 111.1V113M350.4 110.8V113M351.4 110.9V112.5M352.4 111.2V112.9M353.4 110.4V112.9M354.3 111.4V112.6M355.3 111.2V113M356.3 111.9V113.9M357.3 111.5V113.4M358.2 110.7V112.8M359.1 110.5V111.5M360.1 111V112.7M361 111V112.3M361.9 110.8V113.2M362.8 110.8V112.3M363.8 111.2V112.9M364.8 109.7V111.9M365.8 110.9V112.3M366.8 110.8V112.4M367.8 110.4V112.7M368.8 110.5V112M369.8 111.6V113.6M370.8 110.5V111.9M371.8 111.2V113.5M372.8 111.4V112.9M373.8 110.7V112.9M374.8 110.8V112.7M375.8 111.4V113.3M376.8 111.8V112.9M377.8 113.3V115M378.8 112.5V114.2M379.7 111.5V113.1M380.7 112.1V113.4M381.7 112.6V114.6M382.7 111.8V113.6M383.7 113.9V115.1M384.6 112V113.8M385.6 112.5V114.5M386.6 111.4V113.7M387.6 111.9V113.7M388.5 111.5V113.5M389.5 111.9V113.8M390.5 113.4V114.9M391.5 112.6V114M392.4 113.1V115.3M393.4 112.5V114.4M394.4 112.4V113.7M395.4 113V114.7M396.4 112.9V114.4M397.3 112.2V113.6M398.3 112.7V114.5M399.3 114.1V115.9M400.3 112.6V114.2M401.2 112.5V113.8M402.2 112.6V114.4M403.2 111.8V113.4M404.2 112.8V113.9M405.1 112.4V113.9M406.1 112.3V114.3M407.1 112.4V114.3M408.1 114.1V115.7M409.1 112V113.4M410 111.3V113.1M411 114.1V115.1M412 112.9V114.8M413 112.3V113.7M413.9 112.5V114.5M414.8 111.8V113.9M415.8 112.5V113.8M416.7 112.8V114.6M417.6 112.3V113.4M418.5 112.5V113.9M419.5 110.3V112.2M420.4 107.1V109.5M421.4 107.3V109.3M422.4 107.7V109.7M423.3 107.8V109.6M424.3 107.9V110.3M425.3 106.8V108.2M426.3 108.3V109.9M427.2 106.2V107M428.2 106.6V107.9M429.2 107.2V109.5M430.2 107.3V108.8M431.2 107.6V110.1M431.9 109.5V111.7M432.9 111.4V113.3M433.9 109.5V111.5M434.9 111.9V112.9M435.9 109.6V111.4M437 111.2V112.1M438 110.5V112.7M439 111.3V112.9M440 111.1V112.4M441 109.8V111.3M442 111.2V112.7M443 109.6V111.4M444 110.8V112.7M445 110.1V111.1M446.1 109.9V112.5M447.1 110.6V112M448.1 109.8V111.7M449.1 109.9V110.9M450.1 111.4V112.8M451.1 110V112M452.1 110.1V111.5M453.1 108.5V109.7M454.1 110.2V112.1M455.1 108.9V110.4M456.1 108.9V111.3M457.1 108.2V109.9M458.1 111.1V112M459.1 107.7V109.9M460.1 108.9V110.8M461.1 108.4V110.2M462.1 108.1V110.1M463.1 107.4V109.2M464 110V111.8M465 111V113.2M465.9 109.4V111.7M466.8 111.3V112.3M467.7 110.1V111.9M468.7 110.7V112.1M469.7 112.5V114.3M470.7 111.9V113.3M471.8 109.8V111.6M472.8 111.2V112.6M473.8 111.5V112.4M474.9 111.1V112.6M475.9 111.4V112.9M476.9 110.8V112.1M477.9 110.7V113M479 110.8V112.1M480 110.7V112.5M481 110V112.1M482.1 112.3V113.1M483.1 109.8V112M484.1 110.3V111.6M485.2 110.3V112.6M486.2 110.5V111.7M487.2 109.7V110.7M488.2 110.9V112.5M489.2 110V110.7M490.2 110.2V112M491.1 110.3V112.9M492.1 110.5V112M493.1 109.8V112.1M494.1 110.6V112.7M495.1 109.8V112M496 110.8V112.4M497 109.7V111.6M498 110.3V112.2M498 109.2V110.7M499 109.9V111.7M500.1 110.3V111.1M501.1 110.3V111.9M502.1 111.4V113M503.2 110.5V112.3M504.2 108.7V110.7M505.2 111.2V111.9M506.3 111.9V113.4M507.3 108.4V110.3M508.3 110.6V111.7M509.3 109.1V111.6M510.4 109V110.6M511.4 110.7V112.6M512.4 109.7V111.3M513.5 109.9V111.7M514.5 109.1V110.5M515.5 108.8V110.7M516.6 108.4V110.6M517.6 110.4V112.2M518.6 108.9V111.1M519.7 108.2V109.6M520.7 109V110.1M521.7 109.6V111.5M522.8 108.5V109.9M523.8 109.2V110.2M524.8 108.7V110.7M525.8 108.9V110.5M526.9 109.2V111M528 108V109.9M529 108V109.6M530.1 109V110.5M531.2 106.7V109M532.2 107.7V109.2M533.3 107.4V109.1M534.3 107.5V109.4M535.4 107.2V108.8M536.5 109.4V110.1M537.5 108.5V109.5M538.6 107.4V109.6M539.6 106.2V107.5M540.7 109V110.4M541.6 106V107.1M542.6 101.7V103.4M543.5 98.1V99.9M544.5 97.8V99.1M545.5 100V101M546.6 98.3V100.7M547.6 100V101.6M548.6 99.4V101.9M549.6 97V98.4M550.6 99.3V100M551.7 96.6V98.9M552.7 98.5V100.6M553.7 98.9V100.3M554.6 100.7V101.4M555.6 103.1V104.4M556.5 105.3V106.7M557.4 106.8V108.7M558.3 106.8V108.4M559.3 107V108.8M560.2 105.2V107.8M561.1 105.1V106.6M562.1 105V106.6M563.2 104V105.9M564.2 104.1V105.5M565.2 103.7V105.6M566.2 102.9V104.6M567.2 103V104.4M568.2 104.3V105.2M569.2 103.7V105.1M570.2 102.6V105M571.3 102.6V104.5M572.3 102V104.1M577.8 100.5V101.7M578.9 100.4V101.5M579.9 101.1V103.2M580.9 102.5V104.5M582 101.2V103.1M583 103.2V104.5M584 102.9V104.4M585.1 102.1V103.7M586.1 102.9V104.6M587.1 103.2V104.8M588 103.1V104.5M589 100.2V101.5M589.9 100.4V102.2M590.8 98.2V100.6M591.8 98.1V99.3M592.8 97V99M593.8 98.1V99.4M594.8 98.7V100.3M595.8 99.2V100.4M596.9 100V102.4M597.9 99.9V100.9M598.9 100.3V101.6M599.9 99.7V101.8M601 101.6V102.5M602 102.3V103.5M603 102.5V104.7M604.1 101.4V103M605.2 100.8V102.9M606.2 101V102.9M607.3 101.1V102.9M608.3 99.7V101.5M609.4 100.2V101.2M610.3 100.2V102.1M611.3 99.8V100.7M612.2 100.1V101.7M613.1 99.3V101.5M614 99.2V100.3M615 100V101.6M615.9 102.6V104.7M616.8 105.8V107.9M617.8 107.7V109.4M618.7 108.3V110.4M619.6 108.1V110.1M620.5 108.4V109.4M621.6 108.1V110.3M622.7 108.4V110.3M623.7 106.5V108.5M624.8 107.8V110.3M625.8 107.9V109.6M626.9 105.9V107.7M628 106V107.6M629 107.2V109M630 107.4V109M631 106.6V109M632 107.4V109.5M633 106V107.1M634 106.2V108.6M635.1 107.6V108.9M636.1 107V109M637.1 107.2V108.3M638.1 105.9V108.1M639.1 108.5V110.1M640.2 107.8V109.8M641.2 107.6V109.2M642.3 107.7V108.5M643.4 107.5V109.7M644.4 108.2V110.4M645.5 105.6V107.8M646.5 106.1V108.7M647.6 104.6V106.2M648.6 105.5V106.9M649.6 106.6V108.3M650.7 105.1V107.3M651.7 103.5V106.2M652.7 104.8V105.8M653.8 105.6V107.3M654.8 105.3V106.5M655.8 105.3V107.1M656.7 105V107.6M657.7 103.2V105.1M658.6 103.6V105.9M659.5 103V104.6M660.5 102V104.2M661.4 103.9V105.2M662.3 100.6V101.4M663.2 96.3V98.7M664.2 101.8V103.8M665.1 108.4V109.3M666 108.4V109.6M667 107.6V109.2M667.9 107.7V109.9M668.8 107.5V109.1M669.7 105V106.6M670.7 102.8V104.9M671.6 99.7V101.1M672.5 97.5V99.1M673.5 97.6V98.9M674.4 94.7V96M675.3 94.4V95.5M676.2 93.4V95.3M677.2 92.5V93.8M678.1 91V92.3M679 91.2V93M680 91.9V93.5M680.9 92.4V93.4M681.8 92.7V94.3M682.7 91.4V93.8M683.7 93.6V95.1M684.6 93.8V95.3M685.5 95.3V96.9M686.5 94.4V96.4M687.5 95.1V96.7M688.5 95.5V96.4M689.6 95.4V97.3M690.6 95.4V97M691.6 95V97.1M692.6 97.5V99.2M696.7 94.2V95.4M738.1 93.1V94.2M739.1 92.3V93.7M740.1 92.9V94.2M741.2 94.1V95.3M742.2 92.9V94.7M743.2 94.4V96.2M744.3 97.3V98.7M745.3 97.6V99.5M746.3 94.4V96.6M747.3 96.2V98.1M748.3 93.4V94.9M749.2 91.8V93.4M750.1 88.7V90.7M751.2 89.2V91.2M752.2 90.4V92.2M753.2 90.5V92.2M754.3 91V93M755.3 92.1V93.4M756.3 93.1V94M757.4 94V95.3M758.4 93.8V95.6M759.4 94V95.2M760.4 95.3V96.5M761.5 95.4V96.3M762.5 95.3V97.5M763.5 94.8V96.7M764.6 95V96.5M765.6 97.9V99.1M766.6 96.5V97.4M767.7 96.6V98.8M768.7 97.8V99.5M769.6 97.5V99.1M770.6 98.1V99.2M771.5 96.5V98.9M772.4 96.3V98.6M773.3 97.3V98.2M774.3 95.8V97.6M775.3 95.2V96.9M776.3 95.6V96.8M777.4 96.5V98.5M778.4 97V98.4M779.4 98.4V100.1M780.5 99.7V100.9M781.5 99.2V100.2M782.5 99.7V100.9M783.6 98.8V100M784.6 101V103.5M785.7 100.3V101.8M786.7 101.4V103M787.8 100V102M788.9 102V103.9M789.9 101.8V103.6M791 101.5V102.6M792 102V104.4M793.1 101.5V103M794.2 100.4V101.5M795.2 99V100.5M796.3 98.9V100.5M797.3 97.5V98.9M798.4 98V99.4M799.5 96.9V98.4M800.5 96.4V97.5M801.6 96.3V98.1M802.7 97.3V99M803.7 94.5V95.6M804.8 95.6V97.6M805.8 94.8V96.2M806.8 96.6V98.4M807.7 98.5V100.8M808.6 100.7V103.3M809.5 101.2V103.2M810.5 100.1V102.5M811.4 96.9V98.7M812.3 95.7V97.6M813.3 93.5V95.2M814.3 94.2V95.5M815.4 94.5V96M816.4 94.3V96.2M817.5 94.6V96.1M818.6 96V97.8M819.6 97V97.9M820.7 95.9V97.7M821.7 95.7V96.8M822.8 95V96.7M823.9 95.8V96.8M824.9 94.3V96.4M826 93.4V96M827.1 93.9V95.4M828.1 93.1V95M829.1 92.9V94.8M830.1 92.4V94.3M831.2 93.1V94.7M832.2 93.5V95.1M833.2 92.1V93.8M834.2 92.6V94.3M835.2 92.4V93.3M836.2 93.3V94.6M837.2 92.2V94.3M838.2 93.3V95.7M839.3 94.6V96M840.3 93.5V95.3M841.4 95.6V96.7M842.4 96V98.4M843.5 94.5V97M844.6 98V99.8M845.6 96.4V97.8M846.7 97.3V99.2M847.7 98V99.8M848.8 98.4V100.1M849.9 98.2V100.3M850.9 100.2V102.4M852 101.5V103M853 102.1V103.1M854.1 102.7V104M855.2 103.4V104.6M856.2 102.1V103.8M857.3 102.2V103.8M858.4 103.6V105.8M859.4 103.1V104.4M860.5 104.8V106.1M861.5 103.9V105.7M862.5 100.3V101.6M863.4 97.6V99.1M864.3 98.8V100.8M865.2 100.9V103.1M866.2 102.2V104.5M867.1 103.7V106.4M868 103.7V104.9M869 104V104.9M869.9 101V102.9M870.8 102.2V103.6M871.7 102.6V103.9M872.7 100.9V102.1M873.6 102.5V103.7M874.5 103.3V104.8M875.5 103V104.6M876.4 102.1V104.3M877.3 103.8V106.4M878.2 105.9V107.3M882.9 107.8V110.2M883.9 107.5V109.2M885 106.9V108.9M886 106.3V108M887.1 105.1V107.3M888.1 106.8V109.2M889.2 105.6V107.2M890.2 106.4V107.6M891.2 105.3V106.3M892.2 105.5V106.5M893.1 103.3V105.7M894 101.7V103.9M895 101V102.8M895.9 101.3V102.4M896.8 102V103.6M897.7 103.1V105M898.7 102V103.7M899.6 100.4V102M900.5 100V102.6M901.5 99.5V101M902.4 99.4V101.1M910.7 100.5V102.4M911.8 100.7V102M912.9 99.3V100.9M914 100.3V102.1M915.1 99.3V100.5M916.2 99V101.2M917.2 97.8V99.4M918.2 98.1V98.8M919.1 98.3V99.9M920 95.6V97.5M920.9 96.8V97.8M921.9 96V97.7M922.8 93.6V94.9M923.8 95.3V97M924.9 94.7V96.1M925.9 92.2V94.1M927 93.3V94.4M928 93.7V95.5M928 95.2V96.3M928.9 93.5V95.1M929.9 95.4V97.1M930.8 94.6V96.7M931.7 93.5V95.2M932.6 90.7V91.6M933.6 87.9V89.8M934.5 85.5V86.7M935.4 84.4V85.8M936.4 83.9V85.3M937.3 85.2V87.4M938.2 86.5V87.7M939.1 88.8V89.9M940.1 87.9V90M941 88.3V89.8M941.9 86.2V88.2M942.9 86.4V88.8M943.8 87.1V88.9M944.7 89.9V92.1M945.6 90.3V92.1M946.6 92.7V94M947.5 89.1V91.3M948.4 88.5V90.4M949.4 85.3V87.3M950.3 90.4V92.7M951.2 94.4V96.1M952.1 110.3V112.4M953.1 74.4V75.2M954 74.2V76.7M954.9 72.5V74.9M955.8 72.4V74.8M956.9 73.9V75.5M957.9 72.2V74.8M958.9 73.3V75.6M960 72.8V74.3M961 74.5V76.3M962 72.4V74.4M963.1 73.5V75M964.1 74.2V76.4M965.1 73.9V75.5M966.2 74V75.7M967.2 74V75.6M968.2 74.6V76.1M969.3 74.1V76M970.3 74.8V76.6M971.3 73.4V75.5M972.4 73.5V74.8M973.4 74V75.8M974.4 75V77.1M975.4 75.6V77.2M976.5 75.2V77.5M977.5 74.8V76.9M978.5 75.7V77.3M979.6 76.2V78.5M980.6 75.3V77.5M981.6 76.7V78.1M982.7 76.6V77.7M983.7 75.5V77.3M984.7 75.6V77.2M985.8 75.8V77.4M986.8 76.7V78.2M987.8 75.9V77.8M988.9 76.2V78.3M989.9 77.3V79M990.9 77.1V79M992 78.2V79.7M993 77V79.2M994 78.3V79.1M995 77.3V79.7M996.1 78.2V79.8M997.1 77.5V79.4M998.1 76.8V78.3M999.2 77.7V79.4M1000.2 76.6V77.9M1001.2 76.8V77.7M1002.3 76V77.5M1003.2 76.7V78.1M1004.1 76.8V78.8M1005.1 77.3V78.7M1006 76.6V79.1M1006.9 77V78.3M1007.8 77.7V79.3M1008.8 76.7V78.1M1009.7 76.1V78M1010.6 76.5V77.6M1011.5 76.6V78.6M1012.5 74.3V75M1013.4 73V74.9M1014.3 73.5V74.5M1015.3 71.8V73.3M1016.2 72.7V73.9M1017.1 70.3V72.6M1018 70.7V72.7M1019 69.5V71M1019.9 69.4V71.2M1020.8 68.8V70.5M1021.8 68V69.5M1022.7 67.1V69.3M1023.6 68.5V69.6M1024.5 68.3V70.2M1025.5 67.8V70.3M1026.4 67.9V69.3M1027.3 70.4V72.2M1028.3 70.4V72.4M1029.2 71.8V73.4M1030.1 73.1V74.1M1031 69.3V70.2M1032 67.7V69.7M1032.9 66.5V67.7M1033.8 65.8V67.4M1034.8 65.4V66.2M1035.7 68.6V70M1036.6 74.1V75.5M1037.5 53.8V55.6M1038.5 54.5V55.8M1039.4 55.6V57.7M1040.3 56.3V58.1M1041.3 56.2V57.5M1042.2 56.6V57.7M1043.1 56.8V58.6M1044 56.6V58.7M1045 53.1V55M1045.9 53.8V55.5M1046.8 54V56.1M1047.8 52.9V55.1M1048.7 53.2V54.6M1049.7 52.1V53.7M1050.7 51.3V53.2M1051.8 52.9V55M1052.8 49.6V51.6M1053.8 51.8V53.3M1054.9 52.1V54.2M1055.9 52.9V54.4M1056.9 51.6V53.3M1058 51V52.9M1058.9 50.6V52M1059.8 52V53.8M1060.8 51.3V52.1M1061.7 51.2V53.8M1062.6 50.7V51.8" stroke="#999" stroke-opacity="0.25" stroke-width="1" fill="none"/>
<path d="M68 95.7L69 97.2L70.1 96.4L71.1 96L72.1 97.3L73.2 96.2L74.2 95.6L75.2 97.5L76.3 95L77.3 94L78.3 93.7L79.3 94.3L80.4 95.3L81.4 95.3L82.4 95.4L83.5 95.9L84.5 95.5L85.5 94.3L86.6 94.8L87.6 93.7L88.6 92.1L89.7 93L90.7 91.9L91.7 91.2L92.8 93L93.8 91.4L94.8 89.7L95.8 89.7L96.9 92.5L98 90.3L99 91.7L100.1 92L101.2 92.3L102.2 92.7L103.3 92.1L104.2 93.5L105.1 95.2L106.1 96.4L107 98.9L107.9 104.3L108.8 94L109.8 87.5L110.7 86.9L111.6 88.1L112.6 89.5M120.9 92.7L121.8 93.7L122.8 93.7L123.7 94L124.6 95.8L125.6 98.4L126.6 96.6L127.7 97.2L128.7 98.4L129.8 97.4L130.9 96.1L131.9 98.8L133 97.3L134 98.9L135 96.7L136.1 99.8L137.1 97L138.1 97L139.2 98.6L140.2 99L141.2 99.9L142.3 99.4L143.2 100.9L144.1 101.9L145.1 100.2L146 99.8L146.9 101.1L147.8 102.6L148.9 102.1L150 100.4L151 99.2L152.1 99.7L153.1 100.1L154.2 97.9L155.3 99.4L156.2 99.3L157.1 100.3L158 100.2L159 103.2L159.9 101.2L160.8 99.1L161.8 100.8L162.7 98.9L163.6 99.8L164.5 98.3L165.6 97.9L166.7 99.1L167.7 98.8L168.8 98.9L169.9 100.1L170.9 101.3L172 101L173 100.9L174.1 100.6L175.2 101.9L176.2 101.7L177.3 102.5L178.3 102.1L179.4 104L180.4 100.5L181.5 102.4L182.5 103.3L183.5 104L184.6 101.8L185.6 102.4L186.6 103.9L187.7 105.4L188.7 105.7L189.7 103.2L190.7 104.9L191.8 106.1L192.8 105L193.8 104.1L194.9 104.5L195.9 104L196.9 106.6L198 105.3L199 105.4L200 105.3L201.1 106.3L202.1 105.8L203.1 106.1L204.2 107.3L205.2 107.5L206.2 108.5L207.2 108.5L208.3 109.6L209.3 108.5L210.3 108.9L211.4 109L212.4 108L213.4 110.1L214.5 108.5L215.5 107.5L216.5 110.5L217.6 109.8L218.6 108.5L219.6 109.9L220.7 109.8L221.7 109.4L222.7 107.4L223.8 108.7L224.8 107.4L225.8 107.7L226.7 108.7L227.7 109.3L228.6 111.6L229.5 111.2L230.5 113.6L231.4 114.1L232.3 114.2L233.2 115.9L234.2 117.4L235.1 118.7L236 115.5L237 115.6L237.9 112.6L238.8 111.4L239.9 109.1L240.9 109.6L242 112.2L243.1 111L244.1 112L245.2 113L246.2 110.6L247.3 112.2L248.4 113.4L249.4 112L250.5 111.1L251.5 111.3L252.6 110.4L253.7 110.9L254.7 111.2L255.7 109.3L256.8 109.8L257.8 109.2L258.8 109.4L259.9 109.2L260.9 106.9L261.9 108.9L262.9 108.2L264 106.7L265 107.9L266 107.1L267.1 108.7L268.1 109.8L269.1 108.7L270.2 109.5L271.2 109.8L272.2 110.4L273.2 110.6L274.2 110.7L275.2 112.7L276.1 112.2L277.1 112L278.1 114.1L279.1 112.9L280.1 114.7L281 112.9L282 115.9L283 114.5L283 113.2L284 113.7L285 112.1L286 111.8L287.1 112.3L288.1 111.4L289.1 111.6L290.1 111L291.1 110.7L292.1 110.2L293.1 110.1L294.1 109.2L295.2 109.9L296.2 109.7L297.2 107.5L298.3 107.6L299.3 109.8L300.3 108.3L301.4 108.6L302.4 108.3L303.4 108.5L304.5 110.4L305.5 108.9L306.6 109.9L307.7 110.4L308.7 110.2L309.8 110.9L310.8 111.8L311.9 112.3L313 112.8L314 111.4L315.1 112L316.2 114.5L317.2 113.5L318.3 114.4L319.2 109.4L320.1 105L321.1 109L322 108.6L322.9 110.9L323.8 114L324.8 113.5L325.8 112.3L326.8 113.5L327.8 113.9L328.8 112.2L329.8 112.9L330.8 113.8L331.8 114.5L332.8 111.5L333.7 112.6L334.7 113.1L335.7 112.4L336.7 112.4L337.7 112.6L338.7 113.3L339.7 112.1L340.7 113.4L341.6 113.4L342.6 113.3L343.6 113.8L344.6 112.3L345.5 112.6L346.5 113.2L347.5 113.4L348.5 113.1L349.4 112.1L350.4 112L351.4 111.4L352.4 111.9L353.4 111.6L354.3 111.8L355.3 111.8L356.3 112.6L357.3 112.6L358.2 111.8L359.1 110.9L360.1 111.5L361 111.7L361.9 111.8L362.8 111.2L363.8 111.7L364.8 110.8L365.8 111.8L366.8 112L367.8 111.3L368.8 111.1L369.8 112.6L370.8 111.2L371.8 112.5L372.8 111.9L373.8 111.9L374.8 112.1L375.8 112.1L376.8 112.4L377.8 113.8L378.8 113.6L379.7 112.6L380.7 113.1L381.7 113.5L382.7 112.6L383.7 114.3L384.6 113.1L385.6 113.6L386.6 112.6L387.6 112.5L388.5 112.7L389.5 113L390.5 114.3L391.5 113.4L392.4 114.3L393.4 113.5L394.4 113.2L395.4 114L396.4 113.5L397.3 112.6L398.3 113.8L399.3 114.6L400.3 113.6L401.2 112.9L402.2 113.2L403.2 112.8L404.2 113.5L405.1 113L406.1 113.5L407.1 113.7L408.1 114.5L409.1 112.8L410 112.1L411 114.7L412 113.8L413 113.2L413.9 113.8L414.8 112.7L415.8 113L416.7 113.6L417.6 112.8L418.5 113L419.5 110.9L420.4 108.4L421.4 108.1L422.4 108.6L423.3 109.1L424.3 109L425.3 107.5L426.3 108.6L427.2 106.7L428.2 107L429.2 108.3L430.2 108.3L431.2 108.9M431.9 110.8L432.9 112.5L433.9 110.5L434.9 112.4L435.9 110.9L437 111.7L438 111.5L439 111.7L440 111.6L441 110.7L442 111.9L443 110.8L444 111.3L445 110.7L446.1 111.2L447.1 111.1L448.1 111L449.1 110.5L450.1 111.9L451.1 110.8L452.1 110.9L453.1 109.2L454.1 111.1L455.1 109.4L456.1 110.3L457.1 108.9L458.1 111.6L459.1 108.9L460.1 109.9L461.1 109.1L462.1 108.9L463.1 108.5L464 111.1L465 112L465.9 110.8L466.8 111.8L467.7 111.2L468.7 111.2L469.7 113.2L470.7 112.4L471.8 111.1L472.8 111.9L473.8 111.9L474.9 111.8L475.9 111.9L476.9 111.5L477.9 111.9L479 111.6L480 111.5L481 111.1L482.1 112.6L483.1 111.1L484.1 111.2L485.2 111.4L486.2 111.1L487.2 110.1L488.2 111.7L489.2 110.3L490.2 110.8L491.1 111.6L492.1 111.3L493.1 111L494.1 111.6L495.1 111.1L496 111.4L497 111L498 111.1L498 110.3L499 111.1L500.1 110.8L501.1 111.1L502.1 111.9L503.2 111L504.2 110.1L505.2 111.5L506.3 112.8L507.3 109.5L508.3 111.2L509.3 110.4L510.4 110L511.4 111.5L512.4 110.7L513.5 110.5L514.5 109.5L515.5 109.9L516.6 109.3L517.6 111.1L518.6 110L519.7 108.5L520.7 109.7L521.7 110.9L522.8 109.3L523.8 109.6L524.8 109.7L525.8 110L526.9 109.8L528 108.8L529 108.8L530.1 109.3L531.2 107.9L532.2 108.2L533.3 108.5L534.3 108.2L535.4 107.8L536.5 109.8L537.5 108.9L538.6 108.7L539.6 107L540.7 109.9L541.6 106.4L542.6 102.3L543.5 99L544.5 98.4L545.5 100.4L546.6 99.7L547.6 100.7L548.6 100.7L549.6 97.9L550.6 99.7L551.7 97.8L552.7 99.5L553.7 99.3L554.6 101.1L555.6 104L556.5 106L557.4 108L558.3 107.4L559.3 107.5L560.2 106.5L561.1 106L562.1 105.5L563.2 104.8L564.2 104.6L565.2 104.9L566.2 104.1L567.2 104L568.2 104.8L569.2 104.3L570.2 103.8L571.3 103.9L572.3 103.3M577.8 101.2L578.9 101.1L579.9 102.3L580.9 103.3L582 102.4L583 103.6L584 103.4L585.1 102.5L586.1 104.1L587.1 104.4L588 103.6L589 100.8L589.9 101.1L590.8 99.3L591.8 98.7L592.8 98.2L593.8 98.5L594.8 99.3L595.8 99.9L596.9 101.1L597.9 100.3L598.9 101.1L599.9 101.1L601 102L602 102.9L603 103.4L604.1 102.1L605.2 102.1L606.2 101.7L607.3 102.1L608.3 100.9L609.4 100.7L610.3 100.9L611.3 100.3L612.2 100.5L613.1 100.2L614 99.8L615 100.5L615.9 103.5L616.8 107.1L617.8 108.1L618.7 109.5L619.6 108.9L620.5 109.1L621.6 109.4L622.7 109L623.7 107.7L624.8 108.9L625.8 108.8L626.9 107.2L628 107.1L629 107.9L630 107.7L631 107.7L632 108.6L633 106.7L634 107.5L635.1 108.3L636.1 108.3L637.1 107.7L638.1 107L639.1 109.1L640.2 108.8L641.2 108.1L642.3 108.1L643.4 108.5L644.4 109.2L645.5 106.8L646.5 107.4L647.6 105.8L648.6 106.1L649.6 107.5L650.7 106.3L651.7 104.8L652.7 105.2L653.8 106.9L654.8 106L655.8 106.3L656.7 106.3L657.7 104.5L658.6 104.6L659.5 103.8L660.5 103.3L661.4 104.3L662.3 101L663.2 97.6L664.2 102.5L665.1 108.9L666 108.8L667 108.2L667.9 109L668.8 108.7L669.7 106L670.7 104L671.6 100.4L672.5 98L673.5 98.4L674.4 95.3L675.3 95L676.2 94.2L677.2 92.8L678.1 91.5L679 92.4L680 93L680.9 93.1L681.8 93.2L682.7 92.7L683.7 94.1L684.6 94.7L685.5 95.7L686.5 95.7L687.5 95.6L688.5 96L689.6 96.8L690.6 96L691.6 96.1L692.6 97.9M738.1 93.5L739.1 93.3L740.1 93.8L741.2 94.9L742.2 93.9L743.2 95.7L744.3 97.8L745.3 98.2L746.3 95.4L747.3 97.1L748.3 94L749.2 92.4L750.1 89.5L751.2 90.1L752.2 90.8L753.2 91.6L754.3 92L755.3 92.8L756.3 93.5L757.4 94.7L758.4 94.3L759.4 94.5L760.4 95.7L761.5 95.7L762.5 96.6L763.5 95.8L764.6 96L765.6 98.2L766.6 97L767.7 97.8L768.7 98.9L769.6 98L770.6 98.6L771.5 97.8L772.4 97.4L773.3 97.8L774.3 96.3L775.3 96.5L776.3 96.5L777.4 97.3L778.4 97.8L779.4 98.9L780.5 100.5L781.5 99.8L782.5 100.5L783.6 99.5L784.6 102.4L785.7 100.7L786.7 101.8L787.8 100.9L788.9 102.8L789.9 102.5L791 102.1L792 103.1L793.1 102.5L794.2 100.9L795.2 99.8L796.3 99.5L797.3 98.3L798.4 98.4L799.5 97.4L800.5 96.8L801.6 96.9L802.7 97.7L803.7 95.1L804.8 96.4L805.8 95.7L806.8 97.9L807.7 99.7L808.6 102L809.5 102.2L810.5 101.3L811.4 97.6L812.3 96.6L813.3 94.2L814.3 95L815.4 95.4L816.4 95L817.5 95.6L818.6 97.3L819.6 97.6L820.7 97.1L821.7 96.1L822.8 96L823.9 96.1L824.9 95.3L826 94.7L827.1 94.8L828.1 93.8L829.1 93.9L830.1 93.6L831.2 93.8L832.2 93.9L833.2 93.2L834.2 93.6L835.2 92.9L836.2 93.9L837.2 93.3L838.2 94.6L839.3 95.2L840.3 94.7L841.4 96.1L842.4 97L843.5 95.7L844.6 98.6L845.6 97.1L846.7 98L847.7 98.7L848.8 99L849.9 99.5L850.9 101.3L852 102.1L853 102.8L854.1 103.1L855.2 103.9L856.2 103.1L857.3 103.3L858.4 104.7L859.4 103.6L860.5 105.1L861.5 104.4L862.5 100.7L863.4 98.4L864.3 100L865.2 101.9L866.2 103.4L867.1 105.1L868 104.5L869 104.4L869.9 102L870.8 103.1L871.7 103.3L872.7 101.3L873.6 103L874.5 104.1L875.5 103.5L876.4 103.4L877.3 105.1L878.2 106.3M882.9 108.8L883.9 108.6L885 107.8L886 107.5L887.1 106.4L888.1 107.9L889.2 106.7L890.2 107.2L891.2 105.9L892.2 106L893.1 104.4L894 102.7L895 101.9L895.9 102.1L896.8 103.1L897.7 104.4L898.7 102.8L899.6 101.2L900.5 101.4L901.5 100L902.4 100.5M910.7 101.5L911.8 101.3L912.9 100L914 100.9L915.1 100.1L916.2 99.8L917.2 98.7L918.2 98.5L919.1 98.7L920 96.5L920.9 97.1L921.9 96.6L922.8 94.3L923.8 96.7L924.9 95.1L925.9 93.4L927 93.9L928 94.5L928 96L928.9 94.2L929.9 96L930.8 95.9L931.7 94.9L932.6 91.2L933.6 89.1L934.5 86.2L935.4 85.5L936.4 84.9L937.3 86.5L938.2 87.4L939.1 89.1L940.1 89L941 89.2L941.9 87.3L942.9 87.6L943.8 88.3L944.7 90.9L945.6 91.3L946.6 93.6L947.5 90.2L948.4 89.7L949.4 86.5L950.3 91.6L951.2 95.1L952.1 111.2L953.1 74.8L954 75.5L954.9 73.9L955.8 73.7L956.9 74.4L957.9 73.4L958.9 74.3L960 74L961 75L962 73.8L963.1 73.9L964.1 75L965.1 75.1L966.2 74.9L967.2 74.3L968.2 75.3L969.3 74.9L970.3 76.1L971.3 74.6L972.4 74.4L973.4 74.5L974.4 76.2L975.4 76.7L976.5 76.4L977.5 76.1L978.5 76.2L979.6 77.4L980.6 76.4L981.6 77.7L982.7 76.9L983.7 76.7L984.7 76.5L985.8 76.7L986.8 77.3L987.8 76.5L988.9 77.5L989.9 77.9L990.9 77.9L992 78.5L993 78L994 78.7L995 78.5L996.1 78.8L997.1 78.6L998.1 77.9L999.2 78.1L1000.2 77.5L1001.2 77.3L1002.3 77.1L1003.2 77.4L1004.1 78.2L1005.1 77.9L1006 77.7L1006.9 77.9L1007.8 78.9L1008.8 77.5L1009.7 77.3L1010.6 77.3L1011.5 77.2L1012.5 74.6L1013.4 74L1014.3 74L1015.3 72.7L1016.2 73.4L1017.1 71.5L1018 71.9L1019 70.2L1019.9 69.9L1020.8 69.4L1021.8 69L1022.7 68.3L1023.6 69L1024.5 69.1L1025.5 69L1026.4 68.6L1027.3 71.4L1028.3 71.1L1029.2 73L1030.1 73.7L1031 69.9L1032 68.9L1032.9 67L1033.8 66.8L1034.8 65.7L1035.7 69.4L1036.6 74.8L1037.5 55L1038.5 55L1039.4 56.6L1040.3 56.9L1041.3 56.5L1042.2 57.2L1043.1 57.2L1044 57.4L1045 54.4L1045.9 55L1046.8 54.8L1047.8 54L1048.7 54.3L1049.7 53.3L1050.7 52.1L1051.8 53.9L1052.8 50.9L1053.8 52.2L1054.9 52.9L1055.9 53.8L1056.9 52.6L1058 52.3L1058.9 51.5L1059.8 53.2L1060.8 51.7L1061.7 52.5L1062.6 51.4" stroke="#555" stroke-opacity="0.6" stroke-width="1" fill="none" stroke-linejoin="round"/>
<path d="M67.2 95.7h1.5M68.3 97.2h1.5M69.3 96.4h1.5M70.3 96h1.5M71.4 97.3h1.5M72.4 96.2h1.5M73.4 95.6h1.5M74.5 97.5h1.5M75.5 95h1.5M76.5 94h1.5M77.6 93.7h1.5M78.6 94.3h1.5M79.6 95.3h1.5M80.7 95.3h1.5M81.7 95.4h1.5M82.7 95.9h1.5M83.8 95.5h1.5M84.8 94.3h1.5M85.8 94.8h1.5M86.8 93.7h1.5M87.9 92.1h1.5M88.9 93h1.5M89.9 91.9h1.5M91 91.2h1.5M92 93h1.5M93 91.4h1.5M94.1 89.7h1.5M95.1 89.7h1.5M96.2 92.5h1.5M97.2 90.3h1.5M98.3 91.7h1.5M99.3 92h1.5M100.4 92.3h1.5M101.5 92.7h1.5M102.5 92.1h1.5M103.5 93.5h1.5M104.4 95.2h1.5M105.3 96.4h1.5M106.2 98.9h1.5M107.2 104.3h1.5M108.1 94h1.5M109 87.5h1.5M110 86.9h1.5M110.9 88.1h1.5M111.8 89.5h1.5M120.2 92.7h1.5M121.1 93.7h1.5M122 93.7h1.5M122.9 94h1.5M123.9 95.8h1.5M124.8 98.4h1.5M125.9 96.6h1.5M126.9 97.2h1.5M128 98.4h1.5M129.1 97.4h1.5M130.1 96.1h1.5M131.2 98.8h1.5M132.2 97.3h1.5M133.3 98.9h1.5M134.3 96.7h1.5M135.3 99.8h1.5M136.4 97h1.5M137.4 97h1.5M138.4 98.6h1.5M139.5 99h1.5M140.5 99.9h1.5M141.5 99.4h1.5M142.4 100.9h1.5M143.4 101.9h1.5M144.3 100.2h1.5M145.2 99.8h1.5M146.2 101.1h1.5M147.1 102.6h1.5M148.1 102.1h1.5M149.2 100.4h1.5M150.3 99.2h1.5M151.3 99.7h1.5M152.4 100.1h1.5M153.5 97.9h1.5M154.5 99.4h1.5M155.4 99.3h1.5M156.4 100.3h1.5M157.3 100.2h1.5M158.2 103.2h1.5M159.2 101.2h1.5M160.1 99.1h1.5M161 100.8h1.5M161.9 98.9h1.5M162.9 99.8h1.5M163.8 98.3h1.5M164.9 97.9h1.5M165.9 99.1h1.5M167 98.8h1.5M168 98.9h1.5M169.1 100.1h1.5M170.2 101.3h1.5M171.2 101h1.5M172.3 100.9h1.5M173.3 100.6h1.5M174.4 101.9h1.5M175.5 101.7h1.5M176.5 102.5h1.5M177.6 102.1h1.5M178.6 104h1.5M179.7 100.5h1.5M180.7 102.4h1.5M181.7 103.3h1.5M182.8 104h1.5M183.8 101.8h1.5M184.8 102.4h1.5M185.9 103.9h1.5M186.9 105.4h1.5M187.9 105.7h1.5M189 103.2h1.5M190 104.9h1.5M191 106.1h1.5M192.1 105h1.5M193.1 104.1h1.5M194.1 104.5h1.5M195.2 104h1.5M196.2 106.6h1.5M197.2 105.3h1.5M198.2 105.4h1.5M199.3 105.3h1.5M200.3 106.3h1.5M201.3 105.8h1.5M202.4 106.1h1.5M203.4 107.3h1.5M204.4 107.5h1.5M205.5 108.5h1.5M206.5 108.5h1.5M207.5 109.6h1.5M208.6 108.5h1.5M209.6 108.9h1.5M210.6 109h1.5M211.7 108h1.5M212.7 110.1h1.5M213.7 108.5h1.5M214.8 107.5h1.5M215.8 110.5h1.5M216.8 109.8h1.5M217.8 108.5h1.5M218.9 109.9h1.5M219.9 109.8h1.5M220.9 109.4h1.5M222 107.4h1.5M223 108.7h1.5M224 107.4h1.5M225.1 107.7h1.5M226 108.7h1.5M226.9 109.3h1.5M227.9 111.6h1.5M228.8 111.2h1.5M229.7 113.6h1.5M230.6 114.1h1.5M231.6 114.2h1.5M232.5 115.9h1.5M233.4 117.4h1.5M234.3 118.7h1.5M235.3 115.5h1.5M236.2 115.6h1.5M237.1 112.6h1.5M238.1 111.4h1.5M239.1 109.1h1.5M240.2 109.6h1.5M241.2 112.2h1.5M242.3 111h1.5M243.4 112h1.5M244.4 113h1.5M245.5 110.6h1.5M246.6 112.2h1.5M247.6 113.4h1.5M248.7 112h1.5M249.7 111.1h1.5M250.8 111.3h1.5M251.9 110.4h1.5M252.9 110.9h1.5M253.9 111.2h1.5M255 109.3h1.5M256 109.8h1.5M257 109.2h1.5M258.1 109.4h1.5M259.1 109.2h1.5M260.1 106.9h1.5M261.2 108.9h1.5M262.2 108.2h1.5M263.2 106.7h1.5M264.3 107.9h1.5M265.3 107.1h1.5M266.3 108.7h1.5M267.4 109.8h1.5M268.4 108.7h1.5M269.4 109.5h1.5M270.5 109.8h1.5M271.5 110.4h1.5M272.5 110.6h1.5M273.4 110.7h1.5M274.4 112.7h1.5M275.4 112.2h1.5M276.4 112h1.5M277.4 114.1h1.5M278.3 112.9h1.5M279.3 114.7h1.5M280.3 112.9h1.5M281.3 115.9h1.5M282.3 114.5h1.5M282.2 113.2h1.5M283.3 113.7h1.5M284.3 112.1h1.5M285.3 111.8h1.5M286.3 112.3h1.5M287.3 111.4h1.5M288.3 111.6h1.5M289.3 111h1.5M290.4 110.7h1.5M291.4 110.2h1.5M292.4 110.1h1.5M293.4 109.2h1.5M294.4 109.9h1.5M295.5 109.7h1.5M296.5 107.5h1.5M297.5 107.6h1.5M298.5 109.8h1.5M299.6 108.3h1.5M300.6 108.6h1.5M301.6 108.3h1.5M302.7 108.5h1.5M303.7 110.4h1.5M304.8 108.9h1.5M305.9 109.9h1.5M306.9 110.4h1.5M308 110.2h1.5M309 110.9h1.5M310.1 111.8h1.5M311.2 112.3h1.5M312.2 112.8h1.5M313.3 111.4h1.5M314.3 112h1.5M315.4 114.5h1.5M316.5 113.5h1.5M317.5 114.4h1.5M318.5 109.4h1.5M319.4 105h1.5M320.3 109h1.5M321.2 108.6h1.5M322.2 110.9h1.5M323.1 114h1.5M324.1 113.5h1.5M325.1 112.3h1.5M326.1 113.5h1.5M327.1 113.9h1.5M328 112.2h1.5M329 112.9h1.5M330 113.8h1.5M331 114.5h1.5M332 111.5h1.5M333 112.6h1.5M334 113.1h1.5M335 112.4h1.5M336 112.4h1.5M337 112.6h1.5M337.9 113.3h1.5M338.9 112.1h1.5M339.9 113.4h1.5M340.9 113.4h1.5M341.9 113.3h1.5M342.8 113.8h1.5M343.8 112.3h1.5M344.8 112.6h1.5M345.8 113.2h1.5M346.7 113.4h1.5M347.7 113.1h1.5M348.7 112.1h1.5M349.7 112h1.5M350.7 111.4h1.5M351.6 111.9h1.5M352.6 111.6h1.5M353.6 111.8h1.5M354.6 111.8h1.5M355.5 112.6h1.5M356.5 112.6h1.5M357.4 111.8h1.5M358.4 110.9h1.5M359.3 111.5h1.5M360.2 111.7h1.5M361.2 111.8h1.5M362.1 111.2h1.5M363.1 111.7h1.5M364.1 110.8h1.5M365.1 111.8h1.5M366.1 112h1.5M367.1 111.3h1.5M368.1 111.1h1.5M369.1 112.6h1.5M370.1 111.2h1.5M371.1 112.5h1.5M372.1 111.9h1.5M373.1 111.9h1.5M374.1 112.1h1.5M375.1 112.1h1.5M376.1 112.4h1.5M377 113.8h1.5M378 113.6h1.5M379 112.6h1.5M380 113.1h1.5M380.9 113.5h1.5M381.9 112.6h1.5M382.9 114.3h1.5M383.9 113.1h1.5M384.9 113.6h1.5M385.8 112.6h1.5M386.8 112.5h1.5M387.8 112.7h1.5M388.8 113h1.5M389.7 114.3h1.5M390.7 113.4h1.5M391.7 114.3h1.5M392.7 113.5h1.5M393.6 113.2h1.5M394.6 114h1.5M395.6 113.5h1.5M396.6 112.6h1.5M397.6 113.8h1.5M398.5 114.6h1.5M399.5 113.6h1.5M400.5 112.9h1.5M401.5 113.2h1.5M402.4 112.8h1.5M403.4 113.5h1.5M404.4 113h1.5M405.4 113.5h1.5M406.4 113.7h1.5M407.3 114.5h1.5M408.3 112.8h1.5M409.3 112.1h1.5M410.3 114.7h1.5M411.2 113.8h1.5M412.2 113.2h1.5M413.1 113.8h1.5M414.1 112.7h1.5M415 113h1.5M415.9 113.6h1.5M416.9 112.8h1.5M417.8 113h1.5M418.7 110.9h1.5M419.6 108.4h1.5M420.6 108.1h1.5M421.6 108.6h1.5M422.6 109.1h1.5M423.6 109h1.5M424.5 107.5h1.5M425.5 108.6h1.5M426.5 106.7h1.5M427.5 107h1.5M428.5 108.3h1.5M429.4 108.3h1.5M430.4 108.9h1.5M431.2 110.8h1.5M432.2 112.5h1.5M433.2 110.5h1.5M434.2 112.4h1.5M435.2 110.9h1.5M436.2 111.7h1.5M437.2 111.5h1.5M438.2 111.7h1.5M439.2 111.6h1.5M440.3 110.7h1.5M441.3 111.9h1.5M442.3 110.8h1.5M443.3 111.3h1.5M444.3 110.7h1.5M445.3 111.2h1.5M446.3 111.1h1.5M447.3 111h1.5M448.3 110.5h1.5M449.3 111.9h1.5M450.3 110.8h1.5M451.3 110.9h1.5M452.3 109.2h1.5M453.3 111.1h1.5M454.3 109.4h1.5M455.3 110.3h1.5M456.3 108.9h1.5M457.3 111.6h1.5M458.3 108.9h1.5M459.3 109.9h1.5M460.3 109.1h1.5M461.3 108.9h1.5M462.3 108.5h1.5M463.3 111.1h1.5M464.2 112h1.5M465.1 110.8h1.5M466.1 111.8h1.5M467 111.2h1.5M467.9 111.2h1.5M468.9 113.2h1.5M470 112.4h1.5M471 111.1h1.5M472 111.9h1.5M473.1 111.9h1.5M474.1 111.8h1.5M475.1 111.9h1.5M476.2 111.5h1.5M477.2 111.9h1.5M478.2 111.6h1.5M479.3 111.5h1.5M480.3 111.1h1.5M481.3 112.6h1.5M482.4 111.1h1.5M483.4 111.2h1.5M484.4 111.4h1.5M485.5 111.1h1.5M486.5 110.1h1.5M487.5 111.7h1.5M488.4 110.3h1.5M489.4 110.8h1.5M490.4 111.6h1.5M491.4 111.3h1.5M492.4 111h1.5M493.3 111.6h1.5M494.3 111.1h1.5M495.3 111.4h1.5M496.3 111h1.5M497.3 111.1h1.5M497.2 110.3h1.5M498.3 111.1h1.5M499.3 110.8h1.5M500.3 111.1h1.5M501.4 111.9h1.5M502.4 111h1.5M503.4 110.1h1.5M504.5 111.5h1.5M505.5 112.8h1.5M506.5 109.5h1.5M507.6 111.2h1.5M508.6 110.4h1.5M509.6 110h1.5M510.7 111.5h1.5M511.7 110.7h1.5M512.7 110.5h1.5M513.8 109.5h1.5M514.8 109.9h1.5M515.8 109.3h1.5M516.8 111.1h1.5M517.9 110h1.5M518.9 108.5h1.5M519.9 109.7h1.5M521 110.9h1.5M522 109.3h1.5M523 109.6h1.5M524.1 109.7h1.5M525.1 110h1.5M526.2 109.8h1.5M527.2 108.8h1.5M528.3 108.8h1.5M529.3 109.3h1.5M530.4 107.9h1.5M531.5 108.2h1.5M532.5 108.5h1.5M533.6 108.2h1.5M534.6 107.8h1.5M535.7 109.8h1.5M536.8 108.9h1.5M537.8 108.7h1.5M538.9 107h1.5M540 109.9h1.5M540.9 106.4h1.5M541.8 102.3h1.5M542.7 99h1.5M543.8 98.4h1.5M544.8 100.4h1.5M545.8 99.7h1.5M546.8 100.7h1.5M547.8 100.7h1.5M548.9 97.9h1.5M549.9 99.7h1.5M550.9 97.8h1.5M551.9 99.5h1.5M552.9 99.3h1.5M553.9 101.1h1.5M554.8 104h1.5M555.7 106h1.5M556.7 108h1.5M557.6 107.4h1.5M558.5 107.5h1.5M559.4 106.5h1.5M560.4 106h1.5M561.4 105.5h1.5M562.4 104.8h1.5M563.4 104.6h1.5M564.4 104.9h1.5M565.4 104.1h1.5M566.5 104h1.5M567.5 104.8h1.5M568.5 104.3h1.5M569.5 103.8h1.5M570.5 103.9h1.5M571.5 103.3h1.5M577.1 101.2h1.5M578.1 101.1h1.5M579.1 102.3h1.5M580.2 103.3h1.5M581.2 102.4h1.5M582.2 103.6h1.5M583.3 103.4h1.5M584.3 102.5h1.5M585.3 104.1h1.5M586.4 104.4h1.5M587.3 103.6h1.5M588.2 100.8h1.5M589.2 101.1h1.5M590.1 99.3h1.5M591 98.7h1.5M592 98.2h1.5M593.1 98.5h1.5M594.1 99.3h1.5M595.1 99.9h1.5M596.1 101.1h1.5M597.1 100.3h1.5M598.2 101.1h1.5M599.2 101.1h1.5M600.2 102h1.5M601.2 102.9h1.5M602.3 103.4h1.5M603.3 102.1h1.5M604.4 102.1h1.5M605.5 101.7h1.5M606.5 102.1h1.5M607.6 100.9h1.5M608.6 100.7h1.5M609.6 100.9h1.5M610.5 100.3h1.5M611.4 100.5h1.5M612.4 100.2h1.5M613.3 99.8h1.5M614.2 100.5h1.5M615.1 103.5h1.5M616.1 107.1h1.5M617 108.1h1.5M617.9 109.5h1.5M618.9 108.9h1.5M619.8 109.1h1.5M620.9 109.4h1.5M621.9 109h1.5M623 107.7h1.5M624 108.9h1.5M625.1 108.8h1.5M626.2 107.2h1.5M627.2 107.1h1.5M628.2 107.9h1.5M629.2 107.7h1.5M630.3 107.7h1.5M631.3 108.6h1.5M632.3 106.7h1.5M633.3 107.5h1.5M634.3 108.3h1.5M635.3 108.3h1.5M636.3 107.7h1.5M637.3 107h1.5M638.4 109.1h1.5M639.4 108.8h1.5M640.5 108.1h1.5M641.5 108.1h1.5M642.6 108.5h1.5M643.7 109.2h1.5M644.7 106.8h1.5M645.8 107.4h1.5M646.8 105.8h1.5M647.8 106.1h1.5M648.9 107.5h1.5M649.9 106.3h1.5M650.9 104.8h1.5M652 105.2h1.5M653 106.9h1.5M654 106h1.5M655.1 106.3h1.5M656 106.3h1.5M656.9 104.5h1.5M657.9 104.6h1.5M658.8 103.8h1.5M659.7 103.3h1.5M660.6 104.3h1.5M661.6 101h1.5M662.5 97.6h1.5M663.4 102.5h1.5M664.3 108.9h1.5M665.3 108.8h1.5M666.2 108.2h1.5M667.1 109h1.5M668.1 108.7h1.5M669 106h1.5M669.9 104h1.5M670.8 100.4h1.5M671.8 98h1.5M672.7 98.4h1.5M673.6 95.3h1.5M674.6 95h1.5M675.5 94.2h1.5M676.4 92.8h1.5M677.3 91.5h1.5M678.3 92.4h1.5M679.2 93h1.5M680.1 93.1h1.5M681.1 93.2h1.5M682 92.7h1.5M682.9 94.1h1.5M683.8 94.7h1.5M684.8 95.7h1.5M685.8 95.7h1.5M686.8 95.6h1.5M687.8 96h1.5M688.8 96.8h1.5M689.8 96h1.5M690.8 96.1h1.5M691.8 97.9h1.5M695.9 94.9h1.5M737.3 93.5h1.5M738.3 93.3h1.5M739.4 93.8h1.5M740.4 94.9h1.5M741.4 93.9h1.5M742.5 95.7h1.5M743.5 97.8h1.5M744.5 98.2h1.5M745.6 95.4h1.5M746.6 97.1h1.5M747.5 94h1.5M748.5 92.4h1.5M749.4 89.5h1.5M750.4 90.1h1.5M751.4 90.8h1.5M752.5 91.6h1.5M753.5 92h1.5M754.5 92.8h1.5M755.6 93.5h1.5M756.6 94.7h1.5M757.6 94.3h1.5M758.7 94.5h1.5M759.7 95.7h1.5M760.7 95.7h1.5M761.8 96.6h1.5M762.8 95.8h1.5M763.8 96h1.5M764.9 98.2h1.5M765.9 97h1.5M766.9 97.8h1.5M767.9 98.9h1.5M768.9 98h1.5M769.8 98.6h1.5M770.7 97.8h1.5M771.7 97.4h1.5M772.6 97.8h1.5M773.5 96.3h1.5M774.6 96.5h1.5M775.6 96.5h1.5M776.6 97.3h1.5M777.6 97.8h1.5M778.7 98.9h1.5M779.7 100.5h1.5M780.7 99.8h1.5M781.8 100.5h1.5M782.8 99.5h1.5M783.9 102.4h1.5M784.9 100.7h1.5M786 101.8h1.5M787 100.9h1.5M788.1 102.8h1.5M789.2 102.5h1.5M790.2 102.1h1.5M791.3 103.1h1.5M792.4 102.5h1.5M793.4 100.9h1.5M794.5 99.8h1.5M795.5 99.5h1.5M796.6 98.3h1.5M797.7 98.4h1.5M798.7 97.4h1.5M799.8 96.8h1.5M800.8 96.9h1.5M801.9 97.7h1.5M803 95.1h1.5M804 96.4h1.5M805.1 95.7h1.5M806 97.9h1.5M806.9 99.7h1.5M807.9 102h1.5M808.8 102.2h1.5M809.7 101.3h1.5M810.7 97.6h1.5M811.6 96.6h1.5M812.5 94.2h1.5M813.6 95h1.5M814.6 95.4h1.5M815.7 95h1.5M816.8 95.6h1.5M817.8 97.3h1.5M818.9 97.6h1.5M819.9 97.1h1.5M821 96.1h1.5M822.1 96h1.5M823.1 96.1h1.5M824.2 95.3h1.5M825.2 94.7h1.5M826.3 94.8h1.5M827.4 93.8h1.5M828.4 93.9h1.5M829.4 93.6h1.5M830.4 93.8h1.5M831.4 93.9h1.5M832.4 93.2h1.5M833.4 93.6h1.5M834.5 92.9h1.5M835.5 93.9h1.5M836.5 93.3h1.5M837.5 94.6h1.5M838.5 95.2h1.5M839.6 94.7h1.5M840.6 96.1h1.5M841.7 97h1.5M842.7 95.7h1.5M843.8 98.6h1.5M844.9 97.1h1.5M845.9 98h1.5M847 98.7h1.5M848.1 99h1.5M849.1 99.5h1.5M850.2 101.3h1.5M851.2 102.1h1.5M852.3 102.8h1.5M853.4 103.1h1.5M854.4 103.9h1.5M855.5 103.1h1.5M856.5 103.3h1.5M857.6 104.7h1.5M858.7 103.6h1.5M859.7 105.1h1.5M860.8 104.4h1.5M861.7 100.7h1.5M862.6 98.4h1.5M863.6 100h1.5M864.5 101.9h1.5M865.4 103.4h1.5M866.4 105.1h1.5M867.3 104.5h1.5M868.2 104.4h1.5M869.1 102h1.5M870.1 103.1h1.5M871 103.3h1.5M871.9 101.3h1.5M872.9 103h1.5M873.8 104.1h1.5M874.7 103.5h1.5M875.6 103.4h1.5M876.6 105.1h1.5M877.5 106.3h1.5M882.1 108.8h1.5M883.2 108.6h1.5M884.2 107.8h1.5M885.3 107.5h1.5M886.3 106.4h1.5M887.4 107.9h1.5M888.4 106.7h1.5M889.4 107.2h1.5M890.5 105.9h1.5M891.4 106h1.5M892.3 104.4h1.5M893.3 102.7h1.5M894.2 101.9h1.5M895.1 102.1h1.5M896.1 103.1h1.5M897 104.4h1.5M897.9 102.8h1.5M898.8 101.2h1.5M899.8 101.4h1.5M900.7 100h1.5M901.6 100.5h1.5M910 101.5h1.5M911.1 101.3h1.5M912.2 100h1.5M913.2 100.9h1.5M914.3 100.1h1.5M915.4 99.8h1.5M916.5 98.7h1.5M917.4 98.5h1.5M918.3 98.7h1.5M919.3 96.5h1.5M920.2 97.1h1.5M921.1 96.6h1.5M922.1 94.3h1.5M923.1 96.7h1.5M924.1 95.1h1.5M925.2 93.4h1.5M926.2 93.9h1.5M927.3 94.5h1.5M927.2 96h1.5M928.2 94.2h1.5M929.1 96h1.5M930 95.9h1.5M931 94.9h1.5M931.9 91.2h1.5M932.8 89.1h1.5M933.7 86.2h1.5M934.7 85.5h1.5M935.6 84.9h1.5M936.5 86.5h1.5M937.5 87.4h1.5M938.4 89.1h1.5M939.3 89h1.5M940.2 89.2h1.5M941.2 87.3h1.5M942.1 87.6h1.5M943 88.3h1.5M944 90.9h1.5M944.9 91.3h1.5M945.8 93.6h1.5M946.7 90.2h1.5M947.7 89.7h1.5M948.6 86.5h1.5M949.5 91.6h1.5M950.5 95.1h1.5M951.4 111.2h1.5M952.3 74.8h1.5M953.2 75.5h1.5M954.2 73.9h1.5M955.1 73.7h1.5M956.1 74.4h1.5M957.2 73.4h1.5M958.2 74.3h1.5M959.2 74h1.5M960.3 75h1.5M961.3 73.8h1.5M962.3 73.9h1.5M963.4 75h1.5M964.4 75.1h1.5M965.4 74.9h1.5M966.4 74.3h1.5M967.5 75.3h1.5M968.5 74.9h1.5M969.5 76.1h1.5M970.6 74.6h1.5M971.6 74.4h1.5M972.6 74.5h1.5M973.7 76.2h1.5M974.7 76.7h1.5M975.7 76.4h1.5M976.8 76.1h1.5M977.8 76.2h1.5M978.8 77.4h1.5M979.9 76.4h1.5M980.9 77.7h1.5M981.9 76.9h1.5M982.9 76.7h1.5M984 76.5h1.5M985 76.7h1.5M986 77.3h1.5M987.1 76.5h1.5M988.1 77.5h1.5M989.1 77.9h1.5M990.2 77.9h1.5M991.2 78.5h1.5M992.2 78h1.5M993.3 78.7h1.5M994.3 78.5h1.5M995.3 78.8h1.5M996.4 78.6h1.5M997.4 77.9h1.5M998.4 78.1h1.5M999.5 77.5h1.5M1000.5 77.3h1.5M1001.5 77.1h1.5M1002.4 77.4h1.5M1003.4 78.2h1.5M1004.3 77.9h1.5M1005.2 77.7h1.5M1006.2 77.9h1.5M1007.1 78.9h1.5M1008 77.5h1.5M1008.9 77.3h1.5M1009.9 77.3h1.5M1010.8 77.2h1.5M1011.7 74.6h1.5M1012.7 74h1.5M1013.6 74h1.5M1014.5 72.7h1.5M1015.4 73.4h1.5M1016.4 71.5h1.5M1017.3 71.9h1.5M1018.2 70.2h1.5M1019.2 69.9h1.5M1020.1 69.4h1.5M1021 69h1.5M1021.9 68.3h1.5M1022.9 69h1.5M1023.8 69.1h1.5M1024.7 69h1.5M1025.7 68.6h1.5M1026.6 71.4h1.5M1027.5 71.1h1.5M1028.4 73h1.5M1029.4 73.7h1.5M1030.3 69.9h1.5M1031.2 68.9h1.5M1032.2 67h1.5M1033.1 66.8h1.5M1034 65.7h1.5M1034.9 69.4h1.5M1035.9 74.8h1.5M1036.8 55h1.5M1037.7 55h1.5M1038.6 56.6h1.5M1039.6 56.9h1.5M1040.5 56.5h1.5M1041.4 57.2h1.5M1042.4 57.2h1.5M1043.3 57.4h1.5M1044.2 54.4h1.5M1045.1 55h1.5M1046.1 54.8h1.5M1047 54h1.5M1047.9 54.3h1.5M1049 53.3h1.5M1050 52.1h1.5M1051 53.9h1.5M1052.1 50.9h1.5M1053.1 52.2h1.5M1054.1 52.9h1.5M1055.2 53.8h1.5M1056.2 52.6h1.5M1057.2 52.3h1.5M1058.1 51.5h1.5M1059.1 53.2h1.5M1060 51.7h1.5M1060.9 52.5h1.5M1061.9 51.4h1.5" stroke="#000" stroke-width="1.5" fill="none"/>
<rect x="68.5" y="34.5" width="1069.0" height="202.0" fill="none" stroke="#646464" stroke-width="1"/>
<path d="M68.5 34.5v10M68.5 236.5v-10M87.5 34.5v5M87.5 236.5v-5M106.5 34.5v5M106.5 236.5v-5M125.5 34.5v5M125.5 236.5v-5M144.5 34.5v5M144.5 236.5v-5M164.5 34.5v5M164.5 236.5v-5M183.5 34.5v5M183.5 236.5v-5M202.5 34.5v5M202.5 236.5v-5M221.5 34.5v10M221.5 236.5v-10M240.5 34.5v5M240.5 236.5v-5M259.5 34.5v5M259.5 236.5v-5M278.5 34.5v5M278.5 236.5v-5M297.5 34.5v5M297.5 236.5v-5M316.5 34.5v5M316.5 236.5v-5M335.5 34.5v5M335.5 236.5v-5M354.5 34.5v5M354.5 236.5v-5M374.5 34.5v10M374.5 236.5v-10M393.5 34.5v5M393.5 236.5v-5M412.5 34.5v5M412.5 236.5v-5M431.5 34.5v5M431.5 236.5v-5M450.5 34.5v5M450.5 236.5v-5M469.5 34.5v5M469.5 236.5v-5M488.5 34.5v5M488.5 236.5v-5M507.5 34.5v5M507.5 236.5v-5M526.5 34.5v10M526.5 236.5v-10M546.5 34.5v5M546.5 236.5v-5M565.5 34.5v5M565.5 236.5v-5M584.5 34.5v5M584.5 236.5v-5M603.5 34.5v5M603.5 236.5v-5M622.5 34.5v5M622.5 236.5v-5M641.5 34.5v5M641.5 236.5v-5M660.5 34.5v5M660.5 236.5v-5M679.5 34.5v10M679.5 236.5v-10M698.5 34.5v5M698.5 236.5v-5M717.5 34.5v5M717.5 236.5v-5M736.5 34.5v5M736.5 236.5v-5M756.5 34.5v5M756.5 236.5v-5M775.5 34.5v5M775.5 236.5v-5M794.5 34.5v5M794.5 236.5v-5M813.5 34.5v5M813.5 236.5v-5M832.5 34.5v10M832.5 236.5v-10M851.5 34.5v5M851.5 236.5v-5M870.5 34.5v5M870.5 236.5v-5M889.5 34.5v5M889.5 236.5v-5M908.5 34.5v5M908.5 236.5v-5M928.5 34.5v5M928.5 236.5v-5M947.5 34.5v5M947.5 236.5v-5M966.5 34.5v5M966.5 236.5v-5M985.5 34.5v10M985.5 236.5v-10M1004.5 34.5v5M1004.5 236.5v-5M1023.5 34.5v5M1023.5 236.5v-5M1042.5 34.5v5M1042.5 236.5v-5M1061.5 34.5v5M1061.5 236.5v-5M1080.5 34.5v5M1080.5 236.5v-5M1099.5 34.5v5M1099.5 236.5v-5M1118.5 34.5v5M1118.5 236.5v-5M1138.5 34.5v10M1138.5 236.5v-10" stroke="#646464" stroke-width="1" fill="none"/>
<path d="M68.5 34.5h5M1137.5 34.5h-5M68.5 68.5h5M1137.5 68.5h-5M68.5 101.5h5M1137.5 101.5h-5M68.5 135.5h5M1137.5 135.5h-5M68.5 169.5h5M1137.5 169.5h-5M68.5 202.5h5M1137.5 202.5h-5M68.5 236.5h5M1137.5 236.5h-5" stroke="#646464" stroke-width="1" fill="none"/>
<text x="51.90" y="39.1" font-size="14" textLength="13.50" lengthAdjust="spacingAndGlyphs" fill="#5a5a5a">15</text>
<text x="51.90" y="72.76666666666665" font-size="14" textLength="13.50" lengthAdjust="spacingAndGlyphs" fill="#5a5a5a">10</text>
<text x="58.65" y="106.43333333333332" font-size="14" textLength="6.75" lengthAdjust="spacingAndGlyphs" fill="#5a5a5a">5</text>
<text x="58.65" y="140.1" font-size="14" textLength="6.75" lengthAdjust="spacingAndGlyphs" fill="#5a5a5a">0</text>
<text x="54.15" y="173.76666666666665" font-size="14" textLength="11.25" lengthAdjust="spacingAndGlyphs" fill="#5a5a5a">-5</text>
<text x="47.40" y="207.43333333333334" font-size="14" textLength="18.00" lengthAdjust="spacingAndGlyphs" fill="#5a5a5a">-10</text>
<text x="47.40" y="241.1" font-size="14" textLength="18.00" lengthAdjust="spacingAndGlyphs" fill="#5a5a5a">-15</text>
<path d="M68.5 297.5H1137.5M68.5 398.5H1137.5" stroke="#f3f3f3" stroke-width="1" fill="none"/>
<rect x="68.6" y="247.5" width="3.4" height="100.0" fill="#c7ebfb"/>
<rect x="72.5" y="247.5" width="12.0" height="100.0" fill="#c7ebfb"/>
<rect x="87.5" y="247.5" width="1.8" height="100.0" fill="#c7ebfb"/>
<rect x="90.7" y="247.5" width="3.5" height="100.0" fill="#c7ebfb"/>
<rect x="97.4" y="247.5" width="2.5" height="100.0" fill="#c7ebfb"/>
<rect x="103" y="247.5" width="6.2" height="100.0" fill="#c7ebfb"/>
<rect x="112.2" y="247.5" width="1.8" height="100.0" fill="#c7ebfb"/>
<rect x="119.8" y="247.5" width="41.0" height="100.0" fill="#c7ebfb"/>
<rect x="163.6" y="247.5" width="34.0" height="100.0" fill="#c7ebfb"/>
<rect x="199.4" y="247.5" width="5.3" height="100.0" fill="#c7ebfb"/>
<rect x="205.6" y="247.5" width="3.0" height="100.0" fill="#c7ebfb"/>
<rect x="210" y="247.5" width="4.4" height="100.0" fill="#c7ebfb"/>
<rect x="216.2" y="247.5" width="50.5" height="100.0" fill="#c7ebfb"/>
<rect x="268.9" y="247.5" width="50.9" height="100.0" fill="#c7ebfb"/>
<rect x="321.6" y="247.5" width="97.9" height="100.0" fill="#c7ebfb"/>
<rect x="420.8" y="247.5" width="123.2" height="100.0" fill="#c7ebfb"/>
<rect x="555.9" y="247.5" width="16.9" height="100.0" fill="#c7ebfb"/>
<rect x="578" y="247.5" width="1.0" height="100.0" fill="#c7ebfb"/>
<rect x="584.3" y="247.5" width="98.8" height="100.0" fill="#c7ebfb"/>
<rect x="684.6" y="247.5" width="8.0" height="100.0" fill="#c7ebfb"/>
<rect x="697" y="247.5" width="0.6" height="100.0" fill="#c7ebfb"/>
<rect x="739" y="247.5" width="139.2" height="100.0" fill="#c7ebfb"/>
<rect x="882.9" y="247.5" width="20.4" height="100.0" fill="#c7ebfb"/>
<rect x="911.1" y="247.5" width="39.7" height="100.0" fill="#c7ebfb"/>
<rect x="71.3" y="347.5" width="1.2" height="101.0" fill="#ffc4c4" fill-opacity="0.5"/>
<rect x="84.5" y="347.5" width="3.5" height="101.0" fill="#ffc4c4" fill-opacity="1"/>
<rect x="89.8" y="347.5" width="3.6" height="101.0" fill="#ffc4c4" fill-opacity="0.7"/>
<rect x="94.2" y="347.5" width="3.2" height="101.0" fill="#ffc4c4" fill-opacity="1"/>
<rect x="99.9" y="347.5" width="4.6" height="101.0" fill="#ffc4c4" fill-opacity="1"/>
<rect x="109.2" y="347.5" width="3.0" height="101.0" fill="#ffc4c4" fill-opacity="1"/>
<rect x="197.6" y="347.5" width="1.8" height="101.0" fill="#ffc4c4" fill-opacity="0.6"/>
<rect x="204.7" y="347.5" width="0.9" height="101.0" fill="#ffc4c4" fill-opacity="0.6"/>
<rect x="208.6" y="347.5" width="1.4" height="101.0" fill="#ffc4c4" fill-opacity="0.8"/>
<rect x="214.4" y="347.5" width="1.8" height="101.0" fill="#ffc4c4" fill-opacity="1"/>
<rect x="320.1" y="347.5" width="1.5" height="101.0" fill="#ffc4c4" fill-opacity="1"/>
<rect x="544" y="347.5" width="11.9" height="101.0" fill="#ffc4c4" fill-opacity="1"/>
<rect x="683.1" y="347.5" width="1.5" height="101.0" fill="#ffc4c4" fill-opacity="0.7"/>
<rect x="950.8" y="347.5" width="80.4" height="101.0" fill="#ffc4c4" fill-opacity="1"/>
<rect x="1035.3" y="347.5" width="27.7" height="101.0" fill="#ffc4c4" fill-opacity="1"/>
<path d="M68 289.9h1.5M69 302.5h1.5M68.7 301.2h1.5M69.9 284.1h1.5M69.7 250.7h1.5M67.5 279.5h1.5M75.2 305.8h1.5M78.1 266.4h1.5M78.3 265.4h1.5M77.2 264.7h1.5M73.5 303.4h1.5M74.8 269.3h1.5M79.4 303.5h1.5M75.3 308.1h1.5M76.8 293.4h1.5M80.3 309h1.5M83.2 309.8h1.5M81.3 284.9h1.5M80 281.7h1.5M80.9 298.5h1.5M79.1 300.8h1.5M81.1 289.3h1.5M84 294.7h1.5M87 248h1.5M88.7 248h1.5M87.3 298.2h1.5M82.9 294.3h1.5M82.9 248h1.5M83.9 305.6h1.5M84 292.1h1.5M97.7 339.4h1.5M92.7 319.2h1.5M96.9 330.8h1.5M92.3 339.8h1.5M92.6 276.9h1.5M104.7 272.4h1.5M103.3 264h1.5M101.9 262.2h1.5M105.5 315.1h1.5M102.4 256h1.5M107.3 286.2h1.5M103.8 267.7h1.5M104.9 304.5h1.5M104.1 279.3h1.5M109 274.5h1.5M113.8 255.6h1.5M113.2 298.2h1.5M112.6 289.8h1.5M123.9 306.8h1.5M121 315.4h1.5M121 301.8h1.5M120.5 297.2h1.5M120.4 323.5h1.5M123.9 312.2h1.5M121.1 303.2h1.5M118.6 301.2h1.5M122.8 319.7h1.5M125.8 308.3h1.5M128.3 303.5h1.5M127.6 306.9h1.5M125.8 304h1.5M125.3 292.7h1.5M128.3 303.3h1.5M125.4 316.6h1.5M127.6 297.6h1.5M123.7 295.9h1.5M132.6 311.6h1.5M133.9 319.2h1.5M135 318.2h1.5M133.2 310.2h1.5M135.5 319.8h1.5M133.2 320.5h1.5M136.3 312.5h1.5M136.9 326.4h1.5M134.2 304.2h1.5M139.5 292.6h1.5M144.1 277.6h1.5M142.7 287.7h1.5M142.9 264.9h1.5M143.2 281.9h1.5M142.5 275.3h1.5M142.3 290h1.5M142.3 287.7h1.5M138.7 264.4h1.5M146.7 288h1.5M145.4 289h1.5M147.9 272.2h1.5M146.9 277h1.5M144.4 274.6h1.5M146 275.9h1.5M150.8 265.6h1.5M152.4 283.5h1.5M153.3 294.4h1.5M151.1 310.7h1.5M149.7 284.8h1.5M151.3 285h1.5M150.3 306.9h1.5M151.9 265.6h1.5M153.3 268.6h1.5M158.5 294.3h1.5M158.7 326.5h1.5M160.1 298.5h1.5M160.1 310.1h1.5M157.4 284.1h1.5M158.8 306h1.5M158.9 295h1.5M160.6 276.8h1.5M164.5 278.5h1.5M164.6 301.9h1.5M163.1 287.6h1.5M166.6 286h1.5M166.6 302.6h1.5M164.4 282.2h1.5M166.7 289.6h1.5M170.7 267.3h1.5M174.1 274.5h1.5M169.9 273.9h1.5M169 279.9h1.5M170.9 266.2h1.5M172.9 288.4h1.5M168.3 276.2h1.5M169.9 293h1.5M172.9 264.3h1.5M177.3 282.6h1.5M181.6 287h1.5M179.3 292.6h1.5M179.5 296.7h1.5M180.1 281.5h1.5M180.2 287.2h1.5M178.9 288.3h1.5M177.4 294.3h1.5M178.4 289.1h1.5M189.4 301.3h1.5M185.2 292.6h1.5M187.7 309.8h1.5M190.3 300.2h1.5M185 306.2h1.5M187.5 301h1.5M196.6 305.4h1.5M195.3 311.3h1.5M194.7 300.5h1.5M194.1 309.6h1.5M192.8 309.7h1.5M202.1 271.4h1.5M199.6 289.4h1.5M203.4 256.3h1.5M200.8 277.4h1.5M200.9 266.1h1.5M198.9 279.3h1.5M202.8 252.4h1.5M199.3 291.5h1.5M202.7 283.4h1.5M205.5 286.4h1.5M211.2 300.8h1.5M209.6 251.4h1.5M210.4 260.3h1.5M209.2 298.4h1.5M209.6 255.9h1.5M207.1 296.6h1.5M206.3 280.6h1.5M207.8 257.2h1.5M216.5 287.6h1.5M213.4 294.6h1.5M213.2 287.9h1.5M216.2 302.2h1.5M218.1 289.5h1.5M215.4 293.3h1.5M225.7 306.2h1.5M227.7 303.8h1.5M222.4 310.5h1.5M223 309.1h1.5M225.1 314.9h1.5M225.4 308.9h1.5M229.2 294.8h1.5M229.2 307.2h1.5M230.7 268.7h1.5M229 283.5h1.5M232.1 271.6h1.5M231.9 301.2h1.5M228.1 302h1.5M228.2 268.2h1.5M231.2 275.3h1.5M240.3 311.4h1.5M237 321.2h1.5M235.2 319h1.5M235.4 301.1h1.5M240.8 317.6h1.5M236.4 300h1.5M240.9 317.1h1.5M240 300.7h1.5M238.8 307.4h1.5M243.9 294h1.5M246.2 294.8h1.5M244.8 283.8h1.5M247.5 310.4h1.5M247.3 299.2h1.5M247.6 303.6h1.5M246 306.5h1.5M246.9 297.3h1.5M243.1 278.4h1.5M251.1 293.9h1.5M255.3 307.7h1.5M254.5 292.7h1.5M252.7 320.4h1.5M253.6 306h1.5M252.7 295.8h1.5M250.8 297.6h1.5M252.2 304.7h1.5M255.2 297.4h1.5M257 324.8h1.5M256.5 325h1.5M256.9 330.1h1.5M255.7 341.6h1.5M257.7 341.9h1.5M259.6 335.1h1.5M263.9 345.8h1.5M261.8 338.6h1.5M262.8 338.8h1.5M265.4 325.5h1.5M262.3 321.9h1.5M262.4 323.3h1.5M269 297.7h1.5M268.8 283.9h1.5M269.4 283.3h1.5M271 292.4h1.5M267.6 282.5h1.5M270.7 297h1.5M276.1 315.8h1.5M278 304.7h1.5M272.6 324.8h1.5M274.7 305.7h1.5M275.5 330.3h1.5M275.3 313.7h1.5M279.8 301.9h1.5M284.6 308.1h1.5M284.9 301.6h1.5M83.3 431h1.5M84.3 431h1.5M83.4 432.3h1.5M85.6 440.3h1.5M84 443.7h1.5M84.8 442h1.5M88.9 443.9h1.5M87 443.1h1.5M87.2 444h1.5M96.7 395.9h1.5M96.3 394.5h1.5M91.3 395.7h1.5M95 414.4h1.5M94.4 414.6h1.5M96.5 415.6h1.5M98.6 417.6h1.5M101.7 416.8h1.5M99.1 437.4h1.5M103.5 435.7h1.5M99.4 434.8h1.5M101.9 440.4h1.5M103 442.2h1.5M101.9 440.3h1.5M111.2 412.4h1.5M108.2 413.3h1.5M109.2 412.6h1.5M109.5 428.3h1.5M111.5 429.2h1.5M72.3 442.3h1.5M70.3 441.3h1.5M196.7 424.6h1.5M196.9 423.5h1.5M204.9 439.1h1.5M203.5 437.7h1.5M207.3 444.8h1.5M208.9 446.3h1.5M209.7 444.9h1.5M214.1 414.4h1.5M215.2 414.9h1.5M214.1 427.9h1.5M215.5 446.5h1.5M214.1 446.5h1.5M214.5 444.9h1.5M98.8 377.7h1.5M94.3 378.8h1.5M94.2 378h1.5M97.2 404.3h1.5M96.5 404.3h1.5M89.2 428h1.5M86.8 428h1.5M93.4 447.2h1.5M92.6 446.8h1.5M89.9 445.9h1.5M95.2 446.6h1.5M90.5 446h1.5M90.8 447h1.5M103.1 446h1.5M102.5 446.3h1.5M101.8 447.3h1.5M103.6 430.8h1.5M280.4 305.8h1.5M281.2 297.7h1.5M281.1 305.7h1.5M282.1 312.8h1.5M281.6 319h1.5M284.1 317.7h1.5M289 306.5h1.5M288 309.4h1.5M287 304.8h1.5M288.9 303.2h1.5M286.5 293.3h1.5M285.3 299.5h1.5M293.9 329.8h1.5M294.7 321.4h1.5M296 320.8h1.5M294.7 317h1.5M294.9 328.1h1.5M296.1 332.4h1.5M301.9 327.5h1.5M302.2 323.3h1.5M299.1 321.6h1.5M303.2 316.4h1.5M303.7 322.1h1.5M300.2 312h1.5M305.7 267.6h1.5M307.3 275.6h1.5M308.8 272.4h1.5M309.4 294h1.5M311.2 303.9h1.5M311.4 299.9h1.5M312.4 296.3h1.5M308.9 297.5h1.5M310.8 311.6h1.5M312.7 308.4h1.5M316.3 302.3h1.5M312.1 307.4h1.5M319.5 283.3h1.5M318.9 273h1.5M317.1 275.5h1.5M316.2 277.2h1.5M320.3 267.9h1.5M316.6 323.6h1.5M317.5 323.8h1.5M320.9 345.9h1.5M321.5 346.3h1.5M317.7 345.3h1.5M319.2 361.8h1.5M321.2 362h1.5M320.5 297.5h1.5M324.2 295h1.5M328.5 292.2h1.5M328.4 296.1h1.5M328.2 297.2h1.5M337.5 284.6h1.5M337.9 283.9h1.5M338.6 285.7h1.5M342.4 274.5h1.5M339.3 264.9h1.5M339.1 266h1.5M344.6 280.1h1.5M346.5 282.2h1.5M342.9 279.7h1.5M353.1 284.1h1.5M350.5 287.4h1.5M352 288.7h1.5M356.5 282h1.5M359.2 275.4h1.5M358.1 280.2h1.5M359 277.6h1.5M360.1 279.3h1.5M361.7 283.5h1.5M365.1 279.9h1.5M365.8 284.5h1.5M367.5 283.1h1.5M368.3 286.6h1.5M371.6 288h1.5M366.8 287.3h1.5M373.5 283.5h1.5M372.5 280.6h1.5M372.7 282.1h1.5M381.7 275.2h1.5M378.1 278.1h1.5M376.3 273.8h1.5M386.2 274.9h1.5M386 277.5h1.5M381.5 276.7h1.5M389.7 277.7h1.5M390 275.2h1.5M388.2 282.1h1.5M397 283.9h1.5M394.9 282.5h1.5M400.1 285.5h1.5M403 283.1h1.5M402.3 293.8h1.5M402.5 291.1h1.5M409.1 309.3h1.5M407.5 304.8h1.5M403.8 310.3h1.5M409.8 272.1h1.5M412.3 272.4h1.5M409.6 273h1.5M417.5 283.3h1.5M413.8 282.5h1.5M415.5 283.9h1.5M424.5 282h1.5M421 282.4h1.5M421.3 282.5h1.5M431.8 283.2h1.5M428.8 285.7h1.5M428.2 285.1h1.5M440.6 283.3h1.5M436.4 276.8h1.5M440.2 283.8h1.5M446.2 285.1h1.5M444.1 291h1.5M448.3 284.4h1.5M451.2 294.7h1.5M451.7 297.2h1.5M452.3 297.3h1.5M458.4 293.6h1.5M463.3 294.9h1.5M458 290.5h1.5M466.9 286.9h1.5M465.3 287.7h1.5M466.6 291.3h1.5M470.1 297.6h1.5M470.2 297.5h1.5M473 294.4h1.5M478.9 287.5h1.5M476.1 288h1.5M478.6 286h1.5M483.4 301.2h1.5M480.1 299h1.5M480 298.1h1.5M485.6 284.3h1.5M485.3 287.5h1.5M487.4 291h1.5M493.1 280.6h1.5M495.2 283.7h1.5M496.6 284h1.5M496.1 281.7h1.5M499.8 281h1.5M496.9 285.9h1.5M497.4 283.3h1.5M499.8 282.6h1.5M497.6 286.6h1.5M498.8 288.6h1.5M500.9 290.2h1.5M499.2 289.4h1.5M501.1 297.8h1.5M502.8 298.2h1.5M506.6 299.1h1.5M507 291.8h1.5M509.8 287.9h1.5M510.4 290.6h1.5M512.4 296.2h1.5M511.5 293.5h1.5M515.3 294.8h1.5M518.2 280.1h1.5M513.6 279.7h1.5M517.3 281.6h1.5M522.2 280.6h1.5M527 282.3h1.5M527.3 280.6h1.5M534.9 281.8h1.5M535.7 283.6h1.5M535.1 282.2h1.5M540.8 286.8h1.5M535.5 291.1h1.5M535.7 286.5h1.5M540.6 305.7h1.5M543.2 306.2h1.5M538.3 305.6h1.5M541.5 330.6h1.5M545.2 360.3h1.5M546.1 360.1h1.5M547.8 362.7h1.5M547.5 358h1.5M548.4 357.9h1.5M552.5 357.2h1.5M553.9 354.7h1.5M550.8 356.5h1.5M555.9 347.1h1.5M555.2 348.8h1.5M555.7 330.8h1.5M558.1 330.9h1.5M556.7 330.1h1.5M558.4 292.2h1.5M555.4 286.8h1.5M555.2 288.6h1.5M562.7 294h1.5M561.2 296.1h1.5M563.1 293.1h1.5M567.6 290.6h1.5M563.6 292.3h1.5M568 292h1.5M567.9 290.5h1.5M569.9 288.6h1.5M571.9 286.5h1.5M577.5 302.4h1.5M586.7 300.3h1.5M583.3 300.9h1.5M587.2 304.3h1.5M592.5 312h1.5M587.7 311.4h1.5M588.4 308.5h1.5M594.2 308.6h1.5M591.4 310.2h1.5M596.4 313.4h1.5M599.2 315.3h1.5M601 315.4h1.5M599.6 315.2h1.5M606 325.3h1.5M602.7 323.3h1.5M603.4 328.5h1.5M606.4 334h1.5M606.9 339.2h1.5M606.1 337.1h1.5M614.9 333h1.5M614.2 334.5h1.5M610.2 330.9h1.5M618.7 289.3h1.5M615.7 294.4h1.5M616.5 289.7h1.5M618.5 303.6h1.5M618.3 300.5h1.5M621.3 302h1.5M621.3 281.9h1.5M624.7 285.8h1.5M621.1 287.8h1.5M625 283.5h1.5M624.8 285.6h1.5M627.9 288.6h1.5M628.9 291.2h1.5M628.6 290.3h1.5M629.4 288.6h1.5M632 289.5h1.5M632.4 289.8h1.5M633.7 288.5h1.5M639.2 282.2h1.5M640.6 285.4h1.5M637 281h1.5M646.2 287h1.5M643.4 289.1h1.5M646.8 286.9h1.5M648.6 310.2h1.5M649 299h1.5M650.3 303.6h1.5M653.5 282.2h1.5M650.9 284.2h1.5M652.4 278.6h1.5M658.3 271.2h1.5M658.2 272h1.5M658.7 268.6h1.5M662.5 269.3h1.5M664.2 275h1.5M664.5 269.6h1.5M666.4 267.3h1.5M663.9 265.8h1.5M669.1 269.4h1.5M668.3 297.1h1.5M670.8 292.1h1.5M670.8 290.4h1.5M671.3 308.3h1.5M673.6 312.6h1.5M674.2 312h1.5M675.1 326.5h1.5M676.9 327.3h1.5M676.1 331.6h1.5M678.9 341.2h1.5M676.6 338.1h1.5M681.2 337.2h1.5M680.3 338.1h1.5M684.5 338.8h1.5M682.7 341.2h1.5M686.6 324.8h1.5M684.9 321.5h1.5M686.5 327h1.5M691.1 325.6h1.5M691 324.7h1.5M692.4 324h1.5M738.9 297h1.5M739.4 292.8h1.5M742.8 298.2h1.5M743.1 303h1.5M741.4 304.3h1.5M741.4 301.9h1.5M747.3 324.2h1.5M748.7 325.3h1.5M748.6 324.2h1.5M755.3 317.9h1.5M754.9 314.1h1.5M754.1 315.9h1.5M762.8 321.9h1.5M760.2 318h1.5M759.5 318.5h1.5M769 303.8h1.5M766.1 302h1.5M770 300.8h1.5M771.1 303.3h1.5M772.7 300.7h1.5M772.2 300h1.5M777 324.4h1.5M776.7 321.3h1.5M779.4 328.4h1.5M784.8 307.3h1.5M785.4 305.9h1.5M780.7 305.5h1.5M785.7 331.7h1.5M789.9 330.3h1.5M790.2 330h1.5M796.5 309.1h1.5M794.2 305.8h1.5M793.5 307.8h1.5M801.5 309h1.5M798.3 313.4h1.5M796.9 311.3h1.5M803.4 304.5h1.5M805.6 298.2h1.5M806.5 301.7h1.5M806.8 284.4h1.5M809.5 278.3h1.5M808.9 276.2h1.5M812.6 331.9h1.5M813.4 336.6h1.5M813.3 331.7h1.5M818.2 326.6h1.5M817.7 324.2h1.5M816.7 326.5h1.5M819.2 278.6h1.5M820.3 274.4h1.5M819.3 274.5h1.5M826.2 312.3h1.5M821.2 312.7h1.5M826.3 310.8h1.5M828.3 321h1.5M830.3 322.8h1.5M826.8 325.8h1.5M833.8 322.6h1.5M834.5 324h1.5M832.1 319.2h1.5M839.1 323.7h1.5M842.3 325h1.5M839.4 325h1.5M848 319.8h1.5M845.6 320.3h1.5M846.6 318.9h1.5M852.9 300h1.5M853 305.5h1.5M852.2 301.7h1.5M859.5 300.4h1.5M857 299.6h1.5M860.3 297.4h1.5M860.3 320.4h1.5M865.1 317.8h1.5M860.1 319.9h1.5M866.9 294.6h1.5M865.4 293.1h1.5M866.2 292.2h1.5M873.1 274.9h1.5M874 277.4h1.5M872.6 277.4h1.5M873.7 267.1h1.5M874.6 268.8h1.5M873.3 271.7h1.5M884.8 299.6h1.5M889.8 304.4h1.5M888.3 307.7h1.5M886.5 305.2h1.5M890.4 309.6h1.5M894.9 309.6h1.5M890.9 310.8h1.5M897.5 316.3h1.5M897.6 314.5h1.5M895.1 317.5h1.5M902.6 311.5h1.5M901.6 313.4h1.5M901.7 315.1h1.5M912.6 305.3h1.5M909.9 307h1.5M913.8 304.6h1.5M915.1 304.8h1.5M913.8 302.5h1.5M925 300.6h1.5M920.4 298.7h1.5M919.2 296.9h1.5M925.4 298h1.5M926.1 295.3h1.5M924.6 294.8h1.5M930.2 298.5h1.5M929.8 299h1.5M928.9 295.8h1.5M929 301.8h1.5M928.4 301.5h1.5M932.3 302.7h1.5M933.6 303.8h1.5M938.6 305.9h1.5M937.9 305.4h1.5M942.7 310.6h1.5M939.5 310.7h1.5M938.9 306.7h1.5M940.7 321.1h1.5M939.8 319.7h1.5M940.6 320.8h1.5M946.7 306.3h1.5M946 307.8h1.5M944.5 305.4h1.5M945.2 295.2h1.5M946.6 298.2h1.5M947.6 295.1h1.5M947.4 279.5h1.5M950 280.8h1.5M946.6 281.2h1.5M951.4 410.7h1.5M951.5 399h1.5M951 397.7h1.5M954.5 398.3h1.5M958.7 403.2h1.5M959.6 402.2h1.5M956.3 399.4h1.5M962.3 405h1.5M960.1 405.7h1.5M961.6 404.7h1.5M964.5 387.5h1.5M963.2 386.5h1.5M965 386.8h1.5M968.8 394.3h1.5M969.8 396.1h1.5M970.8 393.5h1.5M975.2 390.2h1.5M973.7 388.5h1.5M978.1 388.2h1.5M979.2 394.4h1.5M976.4 394.3h1.5M977.2 395h1.5M985.4 387.6h1.5M982.1 391h1.5M983.7 387.3h1.5M986.9 398.4h1.5M990.9 399h1.5M987.1 399.2h1.5M995.9 399.8h1.5M996.9 401.9h1.5M995.8 401.2h1.5M1003.1 400.9h1.5M1002.2 397.6h1.5M1001.5 399.8h1.5M1006.1 405.5h1.5M1006.3 405.2h1.5M1007.8 405.4h1.5M1015.2 406h1.5M1013.9 406h1.5M1011 405.5h1.5M1020.8 405h1.5M1021.6 405.7h1.5M1020 406.8h1.5M1027 407.7h1.5M1025.5 408.3h1.5M1025.3 406.9h1.5M1030.7 414.8h1.5M1026.9 413.8h1.5M1035.8 395.8h1.5M1036.7 398.2h1.5M1039.3 409.6h1.5M1041.4 410.2h1.5M1040.6 406.1h1.5M1045.6 410.8h1.5M1048.8 410h1.5M1045.1 410h1.5M1053.7 399.9h1.5M1054.3 400.6h1.5M1054.8 401h1.5M1057.2 406.6h1.5M1058.2 407h1.5M1054.5 409.2h1.5M1059.8 410.4h1.5M1058.2 409.8h1.5M67.2 269.3h1.5M68.6 293.2h1.5M69.9 278.3h1.5M71.2 292.6h1.5M72.6 262.6h1.5M73.9 273.6h1.5M75.2 275.2h1.5M76.5 285.2h1.5M77.9 286.5h1.5M79.3 296h1.5M80.7 295.4h1.5M82.1 295.3h1.5M84 289.2h1.5M87.1 280.7h1.5M88.5 250.5h1.5M89.8 276.6h1.5M91.1 294h1.5M92.4 282.4h1.5M93.8 312.3h1.5M96.4 293.1h1.5M97.8 279.2h1.5M99.1 287.8h1.5M101.7 303.2h1.5M103.1 294.8h1.5M104.4 290.8h1.5M105.9 283.5h1.5M107.4 268.8h1.5M108.8 284.1h1.5M111.8 277.2h1.5M113.1 278.8h1.5M119.8 312.2h1.5M121.1 307.7h1.5M122.5 303.7h1.5M123.9 288.7h1.5M125.3 303.6h1.5M126.7 293.7h1.5M128.1 277.4h1.5M129.6 301h1.5M131.1 303h1.5M132.6 298.2h1.5M134.1 313.3h1.5M135.6 297.1h1.5M137.1 292h1.5M138.5 291.1h1.5M140 275.8h1.5M141.5 282.2h1.5M142.9 275h1.5M144.3 282.7h1.5M145.7 287.9h1.5M147.1 282.6h1.5M148.5 282.3h1.5M149.9 297.1h1.5M151.3 288.6h1.5M152.7 298.5h1.5M154 297.8h1.5M155.4 299.9h1.5M156.8 311.1h1.5M158.2 302.5h1.5M159.6 288.3h1.5M162.4 289.6h1.5M163.8 284.3h1.5M165.3 284.7h1.5M166.8 286.1h1.5M168.3 283.8h1.5M169.7 278.4h1.5M171.2 274.1h1.5M172.7 279.1h1.5M174.2 279.8h1.5M175.7 281.4h1.5M177.2 290.2h1.5M178.6 297.7h1.5M180 290.9h1.5M181.3 295.2h1.5M182.6 299h1.5M184 292.4h1.5M185.3 299.1h1.5M186.6 298.9h1.5M187.9 303.2h1.5M189.4 296.4h1.5M190.9 298.9h1.5M192.4 306.8h1.5M193.9 309h1.5M195.4 304.7h1.5M196.8 302h1.5M198.1 285.4h1.5M199.5 288.9h1.5M200.9 277.6h1.5M202.4 280.7h1.5M203.9 265.3h1.5M205.4 276.4h1.5M206.9 280.8h1.5M208.4 284.2h1.5M209.8 282.8h1.5M211.3 286.6h1.5M212.8 293.5h1.5M215.8 292.7h1.5M217.1 292.6h1.5M218.4 300.1h1.5M219.8 306.5h1.5M221.1 308.5h1.5M222.4 306.3h1.5M223.7 302.2h1.5M225.1 308.5h1.5M226.5 299.9h1.5M227.9 304.8h1.5M229.2 294.4h1.5M230.6 308.5h1.5M232.1 287.8h1.5M233.6 311.6h1.5M235.1 299.3h1.5M236.6 312.3h1.5M238.1 313.8h1.5M239.5 303.2h1.5M241 296.7h1.5M242.5 305.6h1.5M244 302.6h1.5M245.5 298.3h1.5M247 309.6h1.5M248.5 307.3h1.5M249.9 310h1.5M251.4 301.7h1.5M252.9 307.8h1.5M254.3 313.3h1.5M255.7 324.1h1.5M257.1 330.6h1.5M258.5 328.7h1.5M259.9 331.6h1.5M261.3 322.7h1.5M262.7 341.8h1.5M264.1 335.9h1.5M265.4 324.8h1.5M268.2 299.1h1.5M269.6 282.3h1.5M271 292.2h1.5M272.4 299.9h1.5M273.8 309.4h1.5M275.2 313.2h1.5M276.6 316.7h1.5M278 316.4h1.5M279.4 312.7h1.5M280.8 310.8h1.5M282.2 320h1.5M283.6 303.2h1.5M285 302.5h1.5M286.4 308.3h1.5M287.8 301.1h1.5M289.2 316.5h1.5M290.6 311h1.5M292 319.5h1.5M293.4 332.1h1.5M294.9 317.9h1.5M296.4 327.9h1.5M297.8 324.1h1.5M299.3 323.1h1.5M300.8 327.1h1.5M302.2 306.7h1.5M303.6 298.4h1.5M305 282.4h1.5M306.4 274.4h1.5M308.2 282.6h1.5M310.1 302.6h1.5M311.6 301.8h1.5M313.2 301.2h1.5M314.7 309.8h1.5M316.1 289.2h1.5M317.5 277.8h1.5M322.2 289.7h1.5M323.6 293h1.5M325 293.2h1.5M326.3 296.1h1.5M327.7 292.3h1.5M329.1 295.9h1.5M330.5 296.9h1.5M331.9 292.2h1.5M333.3 289.1h1.5M334.7 285h1.5M336.1 280.9h1.5M337.5 279h1.5M338.9 276.3h1.5M340.3 275.9h1.5M341.7 269.8h1.5M343.5 273.4h1.5M345.4 281.8h1.5M346.9 279.6h1.5M348.3 278.1h1.5M349.8 283.2h1.5M351.3 282.9h1.5M352.8 288.1h1.5M354.7 282.2h1.5M356.5 276.5h1.5M358.4 278.3h1.5M360.2 279.6h1.5M361.6 284.7h1.5M363 278.8h1.5M364.4 279.5h1.5M365.8 285.3h1.5M367.7 288.1h1.5M369.5 287.3h1.5M370.9 288.7h1.5M372.3 284.9h1.5M373.7 282.2h1.5M375.1 282.1h1.5M376.9 280.1h1.5M378.8 277.3h1.5M380.2 275.4h1.5M381.6 274.6h1.5M383 278h1.5M384.4 277.8h1.5M385.8 277.5h1.5M387.2 279.3h1.5M388.5 278.9h1.5M389.9 276.6h1.5M391.4 278.6h1.5M392.9 283.1h1.5M394.4 281.6h1.5M395.9 286h1.5M397.4 280.2h1.5M398.8 283.3h1.5M400.1 287h1.5M401.5 285.5h1.5M402.9 290.3h1.5M404.8 299.2h1.5M406.6 306.1h1.5M408.5 291.8h1.5M410.4 272.2h1.5M411.8 269.3h1.5M413.1 274.4h1.5M414.5 275.5h1.5M415.9 279.8h1.5M417.3 280.6h1.5M418.7 281.9h1.5M420.1 285h1.5M421.5 286.1h1.5M422.8 283.9h1.5M424.2 285.4h1.5M425.5 286h1.5M426.8 282.7h1.5M428.1 285.6h1.5M429.5 284.1h1.5M430.8 287.9h1.5M432.3 287h1.5M433.8 284.3h1.5M435.2 285.1h1.5M436.7 281.1h1.5M438.2 279.2h1.5M439.7 284.1h1.5M441.2 283.4h1.5M442.7 285.4h1.5M444.2 284.2h1.5M445.6 289h1.5M447.1 289.2h1.5M448.6 290.6h1.5M450.1 290.5h1.5M451.6 292.5h1.5M453.1 294.6h1.5M454.5 295.2h1.5M456 296.6h1.5M457.5 291.3h1.5M459 291.5h1.5M460.5 291.9h1.5M461.9 290.8h1.5M463.3 289.3h1.5M464.7 287.3h1.5M466.1 286.7h1.5M467.5 290.9h1.5M468.8 291.8h1.5M470.2 293.3h1.5M471.6 298.1h1.5M473.1 295.1h1.5M474.6 291.1h1.5M476.1 292.4h1.5M477.6 287.1h1.5M479.1 284.4h1.5M480.9 293.1h1.5M482.8 297.6h1.5M484.6 291.8h1.5M486.5 290.1h1.5M488 285.6h1.5M489.5 283.3h1.5M490.9 283.7h1.5M492.4 281.7h1.5M493.9 277.2h1.5M495.6 281.5h1.5M497.2 284.9h1.5M499.1 286.2h1.5M501 290.4h1.5M502.4 293.3h1.5M503.7 302.2h1.5M505.3 296.5h1.5M506.8 292.2h1.5M508.4 287.6h1.5M509.9 293.1h1.5M511.5 293.3h1.5M513 294.6h1.5M514.4 288.7h1.5M515.8 281.2h1.5M517.1 281.2h1.5M518.5 281.9h1.5M519.8 281.4h1.5M521.1 282.6h1.5M522.4 283.9h1.5M523.8 280.7h1.5M525.1 282.3h1.5M526.4 282.1h1.5M527.8 283.1h1.5M529.1 281.1h1.5M530.4 284.6h1.5M531.7 283.6h1.5M533.1 284.8h1.5M534.4 284.1h1.5M536.2 285.2h1.5M538.1 289.4h1.5M539.5 299.8h1.5M540.9 306.4h1.5M556.7 288.4h1.5M558.5 292.9h1.5M560.4 297h1.5M561.8 296h1.5M563.2 293h1.5M564.6 293h1.5M565.9 292.2h1.5M567.5 290.1h1.5M569 288.8h1.5M570.6 289.1h1.5M572.1 290.8h1.5M578 302.9h1.5M583.2 302h1.5M584.5 303.1h1.5M585.9 303.3h1.5M587.3 306.1h1.5M588.7 308.1h1.5M590.1 312.3h1.5M591.9 310.4h1.5M593.8 312.7h1.5M595.2 314h1.5M596.6 313.9h1.5M598 315.5h1.5M599.4 318.9h1.5M601.2 320h1.5M603.1 326.6h1.5M604.9 328.5h1.5M606.8 335.5h1.5M608.2 336.2h1.5M609.6 335.4h1.5M611 332.1h1.5M612.4 333h1.5M614.2 312.3h1.5M616.1 285.8h1.5M617.9 299.7h1.5M619.8 299.2h1.5M621.6 292.8h1.5M623.5 288.7h1.5M625.4 284.7h1.5M627.2 286.5h1.5M629.1 288.8h1.5M630.9 289.5h1.5M632.8 287.1h1.5M634.6 285.3h1.5M636.5 285.5h1.5M638.4 282h1.5M639.7 286.4h1.5M641.1 286.3h1.5M642.5 289h1.5M643.9 288h1.5M645.8 297.3h1.5M647.6 307.9h1.5M649.5 292.4h1.5M651.4 282.1h1.5M652.7 277.2h1.5M654.1 275.2h1.5M655.5 274.2h1.5M656.9 269.2h1.5M658.3 275.9h1.5M659.7 270h1.5M661.1 275h1.5M662.5 275.5h1.5M664.3 269.9h1.5M666.2 268h1.5M668.1 282.2h1.5M669.9 294.4h1.5M671.3 304.1h1.5M672.7 311.5h1.5M674.1 321.4h1.5M675.5 327.4h1.5M677.3 332h1.5M684.8 324.7h1.5M686.2 325.8h1.5M687.6 324.6h1.5M689 324.2h1.5M690.3 322.5h1.5M691.7 316.1h1.5M738.2 277.7h1.5M740.1 294h1.5M742 306.4h1.5M743.3 305.8h1.5M744.7 314.1h1.5M746.1 316.4h1.5M747.5 323.8h1.5M748.9 318.5h1.5M750.3 319.8h1.5M751.7 315h1.5M753.1 313.5h1.5M754.6 315.6h1.5M756.1 317.1h1.5M757.6 316.5h1.5M759 321.2h1.5M760.5 318.6h1.5M762 316.2h1.5M763.5 313.1h1.5M765 309h1.5M766.5 307.2h1.5M767.9 300.3h1.5M769.3 303.5h1.5M770.7 303.9h1.5M772.1 302.5h1.5M773.5 305.1h1.5M774.9 306.2h1.5M776.3 313h1.5M777.7 317.2h1.5M779.1 319.9h1.5M780.9 313.3h1.5M782.8 308.6h1.5M784.2 312.2h1.5M785.6 315h1.5M787 325.1h1.5M788.4 327.3h1.5M789.8 324h1.5M791.2 318.3h1.5M792.6 316.4h1.5M793.9 304.3h1.5M795.3 309.3h1.5M796.7 315.2h1.5M798.1 310.3h1.5M799.5 311.5h1.5M800.9 308.8h1.5M802.3 308.6h1.5M803.7 305.7h1.5M805.1 304.2h1.5M806.5 288.7h1.5M807.9 280.4h1.5M809.4 299.3h1.5M811 316.3h1.5M812.5 334.9h1.5M813.9 333.8h1.5M815.3 332.4h1.5M816.7 329h1.5M818.1 327.8h1.5M819.9 301h1.5M821.8 275.8h1.5M823.6 315.1h1.5M825 314.1h1.5M826.4 320.4h1.5M827.8 318.9h1.5M829.2 323h1.5M830.6 321.4h1.5M832 320.7h1.5M833.4 322.5h1.5M834.8 318.4h1.5M836.2 324.4h1.5M837.6 320.7h1.5M839 325h1.5M840.4 324.6h1.5M841.8 323.2h1.5M843.1 322.6h1.5M844.5 322.4h1.5M845.9 319.6h1.5M847.4 315.1h1.5M848.9 312.7h1.5M850.4 310.8h1.5M851.9 304.4h1.5M853.4 303.1h1.5M854.7 303.9h1.5M856.1 300.4h1.5M857.5 300.4h1.5M858.9 301h1.5M860.8 309h1.5M862.6 319.4h1.5M864 312.6h1.5M865.4 306.7h1.5M866.8 298.3h1.5M868.2 290.6h1.5M870.1 285.9h1.5M871.9 273.5h1.5M873.8 269.1h1.5M875.6 269.6h1.5M876.9 272h1.5M882.1 297.6h1.5M883.7 301.5h1.5M885.2 304.2h1.5M886.8 304.9h1.5M888.2 306.9h1.5M889.6 309.1h1.5M891 308.1h1.5M892.3 309h1.5M893.7 311.1h1.5M895.1 314.3h1.5M896.5 312.8h1.5M897.9 316.7h1.5M899.8 315.2h1.5M901.6 312.1h1.5M903 310.4h1.5M910.9 307.6h1.5M912.3 307.6h1.5M913.7 305.4h1.5M915.1 306.8h1.5M916.5 303.4h1.5M917.9 303.5h1.5M919.3 303.4h1.5M920.7 303.4h1.5M922.1 299.7h1.5M923.4 298.4h1.5M924.7 297.5h1.5M926 296h1.5M927.2 297.9h1.5M929.1 301.6h1.5M931 303.3h1.5M932.4 303.1h1.5M933.7 303.4h1.5M935.1 303.3h1.5M936.5 305.7h1.5M938.4 307.3h1.5M940.2 312.1h1.5M942.1 320.5h1.5M944 307.3h1.5M945.8 297.2h1.5M947.7 289h1.5" stroke="#10a8ee" stroke-width="1.4" fill="none"/>
<rect x="68.5" y="247.5" width="1069.0" height="201.0" fill="none" stroke="#646464" stroke-width="1"/>
<path d="M68.5 247.5v10M68.5 448.5v-10M87.5 247.5v5M87.5 448.5v-5M106.5 247.5v5M106.5 448.5v-5M125.5 247.5v5M125.5 448.5v-5M144.5 247.5v5M144.5 448.5v-5M164.5 247.5v5M164.5 448.5v-5M183.5 247.5v5M183.5 448.5v-5M202.5 247.5v5M202.5 448.5v-5M221.5 247.5v10M221.5 448.5v-10M240.5 247.5v5M240.5 448.5v-5M259.5 247.5v5M259.5 448.5v-5M278.5 247.5v5M278.5 448.5v-5M297.5 247.5v5M297.5 448.5v-5M316.5 247.5v5M316.5 448.5v-5M335.5 247.5v5M335.5 448.5v-5M354.5 247.5v5M354.5 448.5v-5M374.5 247.5v10M374.5 448.5v-10M393.5 247.5v5M393.5 448.5v-5M412.5 247.5v5M412.5 448.5v-5M431.5 247.5v5M431.5 448.5v-5M450.5 247.5v5M450.5 448.5v-5M469.5 247.5v5M469.5 448.5v-5M488.5 247.5v5M488.5 448.5v-5M507.5 247.5v5M507.5 448.5v-5M526.5 247.5v10M526.5 448.5v-10M546.5 247.5v5M546.5 448.5v-5M565.5 247.5v5M565.5 448.5v-5M584.5 247.5v5M584.5 448.5v-5M603.5 247.5v5M603.5 448.5v-5M622.5 247.5v5M622.5 448.5v-5M641.5 247.5v5M641.5 448.5v-5M660.5 247.5v5M660.5 448.5v-5M679.5 247.5v10M679.5 448.5v-10M698.5 247.5v5M698.5 448.5v-5M717.5 247.5v5M717.5 448.5v-5M736.5 247.5v5M736.5 448.5v-5M756.5 247.5v5M756.5 448.5v-5M775.5 247.5v5M775.5 448.5v-5M794.5 247.5v5M794.5 448.5v-5M813.5 247.5v5M813.5 448.5v-5M832.5 247.5v10M832.5 448.5v-10M851.5 247.5v5M851.5 448.5v-5M870.5 247.5v5M870.5 448.5v-5M889.5 247.5v5M889.5 448.5v-5M908.5 247.5v5M908.5 448.5v-5M928.5 247.5v5M928.5 448.5v-5M947.5 247.5v5M947.5 448.5v-5M966.5 247.5v5M966.5 448.5v-5M985.5 247.5v10M985.5 448.5v-10M1004.5 247.5v5M1004.5 448.5v-5M1023.5 247.5v5M1023.5 448.5v-5M1042.5 247.5v5M1042.5 448.5v-5M1061.5 247.5v5M1061.5 448.5v-5M1080.5 247.5v5M1080.5 448.5v-5M1099.5 247.5v5M1099.5 448.5v-5M1118.5 247.5v5M1118.5 448.5v-5M1138.5 247.5v10M1138.5 448.5v-10" stroke="#646464" stroke-width="1" fill="none"/>
<path d="M68.5 297.5h5M1137.5 297.5h-5M68.5 398.5h5M1137.5 398.5h-5" stroke="#646464" stroke-width="1" fill="none"/>
<text x="45.15" y="302.35" font-size="14" textLength="20.25" lengthAdjust="spacingAndGlyphs" fill="#5a5a5a">315</text>
<text x="45.15" y="402.85" font-size="14" textLength="20.25" lengthAdjust="spacingAndGlyphs" fill="#5a5a5a">135</text>
<text transform="translate(1153.3,323.5) rotate(-90)" font-size="14" textLength="50.5" lengthAdjust="spacingAndGlyphs" fill="#5a5a5a">Towards -</text>
<text transform="translate(1153.3,416) rotate(-90)" font-size="14" textLength="39.5" lengthAdjust="spacingAndGlyphs" fill="#5a5a5a">Away +</text>
<path d="M68.5 510.5H1137.5M68.5 560.5H1137.5M68.5 611.5H1137.5" stroke="#f3f3f3" stroke-width="1" fill="none"/>
<path d="M1030 572.3L1035.5 570.5V582.5H1030Z" fill="#ffa860" fill-opacity="0.6"/>
<path d="M68 600.8V613.8M68.9 641.5V661M69.9 596.3V636.1M70.8 594.6V607.3M71.7 601.2V612.7M72.6 607V661M73.6 606.3V656.4M74.5 602.4V615.6M75.4 616V631.7M76.4 605.3V639.9M77.3 608.7V615.3M78.2 624.8V649.3M79.1 614.6V661M80.1 597.5V661M81 599.2V655.6M81.9 594.4V632.8M82.9 598.5V650M83.8 610.8V623.4M84.7 630V659.3M85.6 634.1V651.5M86.6 604.7V619.9M87.5 599.1V616.4M88.4 607.7V653.6M89.4 604.7V642M90.3 615.6V657.5M91.2 616.7V629.2M92.1 624V661M93.1 623.3V661M94 635.5V645.3M94.9 637.9V648.4M95.8 637V651.8M96.8 632.3V661M97.7 614.3V628.4M98.6 625.1V650.9M99.6 631.9V661M100.5 643.7V661M101.4 645.8V661M102.3 639.5V661M103.3 623V654.3M104.2 617.6V637M105.1 606.3V661M106.1 606.4V615.6M107 616.1V637.9M107.9 613V648.7M108.8 616.8V657.4M109.8 639.6V661M110.7 632.9V661M111.6 633.4V661M112.6 615.1V634.3M120 607.4V629.5M120.9 613.9V628M121.8 608.4V639.9M122.8 611.4V655.5M123.7 614.7V623.9M124.7 607.9V619.8M125.8 607.2V630.8M126.8 609.4V628.2M127.8 618.3V632.5M128.9 607.9V634M129.9 593.1V615M130.9 608.8V629.3M132 615.2V638.2M133 609.6V625.2M133.9 612.1V623.7M134.8 616.1V642.7M135.8 608.2V622.9M136.7 617.6V631.2M137.6 613.7V626.7M138.6 615.9V632.9M139.5 620.1V644.2M140.4 614.5V637.1M141.3 610.6V625.3M142.3 606.8V641.7M143.2 621.2V651.7M144.1 622.9V636.7M145.1 626.3V640.3M146 618.3V638.7M146.9 608.9V632.8M147.8 600.1V615.9M148.8 598.4V626.9M149.7 614.7V637.3M150.6 613.5V624.6M151.5 602.1V621.1M152.5 607.2V639.4M153.4 601.7V638M154.5 614.2V653.5M155.5 613V623.4M156.6 612.2V624.4M157.7 598.8V631.8M158.7 611.7V626.9M159.8 607.3V635.9M160.8 609.3V623M161.8 616.1V660.9M162.7 616.3V628.3M163.6 610.1V620M164.5 608.5V626.2M165.6 612.2V623.9M166.7 600.9V614.3M167.7 609.2V643.8M168.8 607.5V622.1M169.9 610.3V624.9M170.9 610.4V632.5M172 608.9V627.5M173 609.5V620.4M174.1 597.8V617M175.2 610.7V633.3M176.2 608V625.8M177.3 618.5V626.8M178.3 606.4V620.6M179.4 614.4V625.8M180.4 614.2V627M181.5 607.8V616.5M182.5 607.4V634.4M183.5 603.7V625.4M184.6 615V622.8M185.6 617.9V631.6M186.6 612.8V624.6M187.7 612V620.5M188.7 606.5V630.1M189.6 609.2V647.6M190.5 606.9V619.9M191.5 618.5V656.9M192.4 621.5V628.5M193.3 614.8V630.5M194.3 620.7V642.2M195.2 614.1V629M196.1 599.8V619.9M197 610.7V645.8M198 613.5V639.3M199 604.4V625.9M200.1 613.8V631.2M201.1 616.2V628.6M202.2 605.9V612.9M203.3 606.2V615.8M204.3 613.7V630M205.4 617.3V627.6M206.3 604V629M207.2 606.7V627.8M208.2 614.2V625.4M209.1 604.6V614.2M210 613.4V653.3M211 608.1V625M211.9 614.5V625.2M212.8 617.1V630.7M213.7 612.7V656.2M214.7 617.5V641.8M215.6 616.1V634.4M216.5 627.2V647.5M217.5 635.8V647.7M218.4 628.1V637.5M219.3 618.8V633.4M220.2 622.3V634M221.2 618.5V632.4M222.1 614.9V631.3M223 626.8V637.3M224 620.9V636.9M224.9 610V621.3M225.8 613.2V630.3M226.7 605.4V626M227.7 611.1V625.4M228.6 606.4V624.3M229.5 608.5V623.4M230.5 607.7V615.9M231.4 604.4V612.3M232.3 609.4V613.9M233.2 606.7V620.3M234.2 607.7V615.9M235.1 610.6V624.9M236.1 605.3V618.1M237.2 611.2V616.5M238.2 601.3V615.5M239.2 608.9V617.6M240.3 609.1V614.3M241.3 603.9V614.7M242.3 611.5V617.1M243.4 606.9V614.9M244.4 611.1V614.9M245.4 605.6V620.9M246.4 606.3V622.8M247.5 603.5V607.6M248.5 604V621.3M249.5 608.8V615.8M250.6 612.9V622.4M251.6 607.8V619.2M252.6 605.1V616.5M253.7 607.1V611.9M254.6 609.4V617.2M255.5 608.2V618.4M256.5 604.7V618.1M257.4 607.8V615.8M258.3 604V614.2M259.2 602.4V607.9M260.2 606.1V611.4M261.1 600.2V610.1M262 602.8V612.3M262.9 601.4V612.5M263.9 598.6V613.3M264.8 600.3V610.9M265.7 589.7V597.4M266.7 581V588.9M267.6 577.9V594.1M268.5 575.9V581.8M269.4 575V587.7M270.4 571.6V580.6M271.3 573.6V578.4M272.2 572.5V583.4M273.2 566.1V571M274.1 554V560.2M275 557.1V564.1M275.9 555.9V565.1M276.9 603.7V611.2M277.8 601.6V615.5M278.7 601.1V610.6M279.7 607.3V615.7M280.8 605.7V618.1M281.9 603.7V614.6M283 604V609.5M283 604.5V612M284.1 604.2V608.6M285.1 604.3V613.6M286.2 603.3V612.6M287.2 606.3V613.6M288.3 604.5V611.1M289.4 600.8V611.8M290.4 604.1V610.3M291.4 604.2V612.2M292.3 602.8V618.3M293.2 604.8V616.9M294.1 616.1V626M295.1 609.5V625.3M296 614.2V618.4M296.9 605.4V618.4M297.9 601.5V616.1M298.8 602.4V610.5M299.7 603.2V614.9M300.6 595.5V607.2M301.6 600.1V620.9M302.5 605.6V616.5M303.4 603.5V612.1M304.4 607.3V617.2M305.3 600V612.7M306.2 606.4V619.1M307.1 601.5V612M308.1 602.3V616M309 596.7V604.9M310.1 586.2V604.5M311.1 591.5V602.7M312.2 597.3V612.2M313.2 598.7V607.3M314.3 596.5V607.6M315.4 595.2V608.7M316.4 597.3V610.9M317.5 597.1V608.6M318.5 600V624M319.6 592.8V616.7M320.7 592.5V608M321.7 598.8V610.9M322.8 595V611.5M323.8 594.7V604.2M324.9 591.6V609M326 593.9V609.4M327 595.7V606.9M328.1 599.3V607.1M329.2 592.4V603.8M330.2 593.2V605.7M331.3 603.9V612.2M332.3 596V610.9M333.4 601.2V623.7M334.5 594.8V609M335.5 597.5V617.2M336.6 592.2V606.7M337.6 591.4V624.5M338.7 597V606M339.7 588.9V621.3M340.8 599.1V608.7M341.8 596V617.5M342.8 593.1V605.2M343.9 586.6V606.4M344.9 593.4V601.3M345.9 586.9V613.7M347 594V604.3M348 591.1V602.1M349 589.7V605.3M350 591.1V604.5M351.1 593.2V624.2M352.1 595.3V606.4M353.1 594.1V609.3M354.2 586.9V599.1M355.2 590.4V602.2M356.2 589.4V600.7M357.3 589.5V616.5M358.3 595.7V606.2M359.4 594V608.8M360.4 588.2V600.3M361.5 589.6V600.2M362.6 589.9V598.3M363.6 584.2V596.1M364.7 593V601.7M365.6 587.7V618.8M366.5 586.9V602.2M367.5 592.4V623.5M368.4 597.1V610.9M369.3 598.4V629.2M370.3 596.5V601.6M371.2 606.3V609.5M372.1 594.1V596.6M373 594V598.5M374 591.8V600.4M374.9 595.3V597.6M375.8 596V599.3M376.9 594.5V598M377.9 594.4V596.7M378.9 595.5V599.9M380 594.6V597.9M381 595.5V599.3M382 595V600.4M383.1 595V598.6M384.1 597.2V600.7M385.1 595.4V598M386 594.1V600.5M387 596.5V603.2M387.9 597.9V601.2M388.8 596.9V602.5M389.8 597.8V601.6M390.7 599.3V603.8M391.6 598.8V604.5M392.5 598.9V602.4M393.5 596.9V598.5M394.4 595.9V597.7M395.4 591.8V598.5M396.5 594.5V597.6M397.5 593.3V598.4M398.5 594.1V597.3M399.6 595.9V598.9M400.6 593.8V597.7M401.6 591.9V598.6M402.7 594V597.9M403.7 593.4V600.3M404.7 595.4V599M405.7 594.5V596.9M406.8 595.4V600.5M407.8 594V598.2M408.8 595V598M409.9 597.2V600.7M410.9 594.4V596.7M411.9 596.4V599.7M413 594.7V598.5M413.9 595V598.5M414.8 592.5V597M415.8 594.1V598.9M416.7 593.7V596.2M417.6 594.2V598.5M418.5 593.6V597.2M419.5 585.1V588M420.4 570.7V583.8M421.4 566.9V576.2M422.4 567.3V586.1M423.4 571.7V578.7M424.4 575.4V582.5M425.5 570.4V580.1M426.5 573.6V586.7M427.5 578.3V583.8M428.5 571.5V586.8M429.5 569.1V585.9M430.5 579.2V590.5M431.5 571.8V581.8M432.5 591.3V602.1M433.4 597V612.1M434.3 583.8V596.8M435.4 593.2V606.5M436.5 590.7V598M437.6 591.9V596.4M438.7 585.8V599.6M439.7 592.1V602.2M440.8 589.8V599.5M441.8 592.6V599.9M442.9 589.3V600.8M443.9 586.9V595.9M444.9 592.1V597.5M446 584V599.2M447 594.3V602.8M448 582.7V595.3M449.1 593.5V600.4M450.1 584.6V589.5M451.1 587.1V595.4M452.2 589.5V601.9M453.2 581.8V597.5M454.2 591V596.9M455.3 588.1V596.3M456.3 588.3V596.4M457.3 591.3V596.8M458.4 590.4V600.9M459.4 594.5V602.7M460.4 591.8V604.5M461.4 589.6V599.7M462.5 589V601.3M463.5 593.1V598.7M464.5 590.3V601.7M465.6 590.3V599.5M466.6 585.6V599.3M467.6 589.6V598.6M468.7 590.1V595.6M469.7 585.6V597.9M470.7 591.7V595.8M471.8 589.9V595.3M472.8 591.2V596.8M473.8 588.6V601.5M474.9 592.9V595.8M475.9 592.1V604.9M476.9 589.6V594.3M477.9 590.1V595.2M479 591.6V599M480 593V599M481 586V593.9M482.1 588.7V594.6M483.1 591.8V603.4M484.1 587.8V593.2M485.2 591V597.5M486.2 589.7V594.5M487.2 587.7V595.5M488.2 584.7V593.8M489.2 589.1V595.9M490.2 585.7V591.3M491.1 588.4V596.9M492.1 586.9V595.6M493.1 585.2V590M494.1 587.1V590.6M495.1 587V599.1M496 583.2V591.6M497 586.6V591.9M498 587.2V590.2M498 589.9V594.1M499 589.4V595.3M500.1 590.1V593.6M501.1 589.1V597M502.1 588.9V595.5M503.2 584V592.1M504.2 587.6V592.2M505.2 588.3V595M506.3 587V592M507.3 588.2V598.7M508.3 589.5V596.2M509.3 591.5V594.8M510.4 589.5V594.4M511.4 586.5V592.1M512.4 589.8V592.6M513.5 587.9V592.8M514.5 590.4V602.3M515.5 588.3V599.6M516.6 582.9V589.1M517.5 587.1V592.4M518.4 586.3V591.7M519.4 588.2V593.4M520.3 588.6V598.4M521.2 587.6V593.7M522.1 590.1V598.5M523.2 592.4V597.1M524.3 588.8V592.8M525.3 595V600.5M526.4 593.9V598.7M527.4 593.6V599.6M528.5 592V601.4M529.6 595V602.3M530.5 593.3V596.3M531.4 595.1V600.6M532.3 595.6V599.2M533.3 596.4V601.3M534.2 589.5V596.3M535.1 592.3V599.2M536.2 592.2V594.7M537.3 591.7V595.2M538.3 587.6V594.7M539.4 587.3V595.9M540.4 588.9V594.6M541.5 586.7V591.5M542.6 588.6V594.3M543.5 586.1V591.9M544.4 582.3V587.6M545.3 584.1V591.2M546.3 582.5V589.4M547.3 583.7V588.9M548.4 581.7V587.2M549.5 579.1V585M550.5 579.9V589.5M551.6 583.8V598.3M552.6 579.4V582.8M553.7 579.5V584.6M554.6 580.9V593.1M555.6 574.9V582.4M556.5 578.3V582.8M557.4 577.3V590.3M558.3 581.7V587.4M559.3 583.9V590.6M560.2 582.2V590.9M561.1 583.8V591.8M562.1 588.2V601.3M563 590.2V595.1M563.9 588.6V599.5M564.8 593.8V601.4M565.8 591.3V613.8M566.7 597.9V619.6M567.6 600.2V608M568.6 598V605.8M569.5 593.4V621M570.4 598.6V611.7M571.3 599.1V605.3M572.3 596.1V600.7M573.2 595.9V599.8M574.1 594.2V599.6M575.1 606.7V614.1M576 618.9V626.7M576.9 655.6V661M577.8 587V598.4M578.8 593V600.5M579.7 588.6V595.5M580.6 591V605M581.5 592.5V604.3M582.5 590.3V598.4M583.4 593.2V615.3M584.3 599V607.2M585.3 598.4V605.4M586.2 594.8V607.9M587.1 601.6V608M588 598.5V603.7M589 602.5V621.5M589.9 600.9V603.6M590.8 591.2V612.1M591.8 586.8V595.1M592.7 585.9V589.7M593.8 588.7V596.2M594.8 592.4V599.4M595.9 588.2V598.7M596.9 587.1V600.5M598 590.5V601.3M599.1 583.8V591.3M600.1 586.7V598.8M601.1 589.8V598.4M602.2 588V603.7M603.2 589.9V598.6M604.2 583.7V597M605.3 588.1V596.9M606.3 587.2V593.4M607.3 586V603.7M608.4 593.1V610.5M609.4 589.9V599.3M610.3 590.6V612M611.3 587.7V602.7M612.2 585.9V597M613.1 580.5V594.4M614 583.8V607.5M615 595V610.6M615.9 597V608.8M616.8 591.3V609.4M617.8 603.3V614.7M618.7 604.1V615.4M619.6 595.6V610.1M620.5 599.4V613.2M621.5 601.9V617.8M622.4 600V610.6M623.3 592.8V616.9M624.3 589V609.4M625.2 602.7V612.6M626.1 602.5V608.5M627 601.6V629.9M628 612.4V622.5M628.9 602.4V616.5M629.8 601.1V608.3M630.8 598.8V611M631.7 606.9V614.9M632.6 605.4V619.9M633.5 606V614.5M634.5 603.7V613.7M635.4 598.4V610.1M636.3 600.3V611.7M637.2 599.4V612.4M638.2 606.3V627.6M639.1 604.2V627.6M640 609.3V619.8M641 610.2V634.8M641.9 614.8V622.2M642.8 609.1V624.6M643.7 604.6V629M644.7 600.8V618M645.6 596.1V610.3M646.5 599.2V610.7M647.5 590.1V605.1M648.4 580.2V599.4M649.3 580.2V596.2M650.2 588.9V613.8M651.2 588.7V603.1M652.1 599.8V627.6M653 592.9V608.2M654 595.2V608.6M654.9 599.5V609.4M655.8 596.9V608.2M656.7 597.2V611.6M657.7 589.2V601.8M658.6 593.8V610.1M659.5 593.7V603.4M660.5 594.7V621.1M661.4 595.6V612.2M662.3 594.4V608.9M663.2 592.3V603.5M664.2 595.6V607.8M665.1 597.3V609.5M666 604.6V615.4M667 603.5V622.1M667.9 597.6V609M668.8 593.4V604M669.7 579.6V598.7M670.7 580V599.7M671.6 583.7V598.1M672.5 584V595.9M673.5 583.2V594.5M674.4 586V595.6M675.3 586.7V597.1M676.2 580.7V591.2M677.2 584V597.2M678.1 586.7V599.1M679 581.1V592.5M680 588.9V604M680.9 583.3V596.8M681.8 580.6V594.5M682.7 584.4V601.4M683.7 588V595.5M684.6 582.6V606.3M685.5 580.6V594.3M686.5 582.4V596.4M687.4 579.4V589M688.3 578V595.6M689.2 579.4V594.8M690.4 579.4V607.4M691.5 579.9V602.8M692.6 575.4V601.3M696.7 606.9V625.3M705.9 593.5V602.4M706.9 593.4V601.5M707.8 593.8V599.1M739 592.4V599.4M739.9 591.7V596.3M740.8 585.7V594.1M741.8 590.5V601.3M742.7 587.3V594.5M743.8 581.8V592.2M744.8 586.1V591.5M745.9 584.9V591.3M747 582.7V591M748 581.7V587.6M749.1 579.3V589.5M750.1 583.6V594M751.2 579.8V584M752.2 582.9V586.3M753.2 582.2V589.3M754.3 576V582.5M755.3 577.4V582.5M756.3 581.7V591.5M757.4 577.7V587.2M758.4 580.7V589.7M759.4 579.1V586M760.5 575.6V584.3M761.5 578.6V586.3M762.6 576.2V583M763.7 578.2V585.7M764.7 576.7V588M765.8 581.5V586.4M766.8 579.7V589.5M767.8 576.5V582.8M768.7 579.9V588.1M769.6 582.1V587.1M770.6 582.8V589.2M771.5 582.1V593.6M772.4 586.6V594.5M773.3 588.1V593.2M774.3 583V592.3M775.2 586.9V592M776.1 584.3V588.7M777.1 583.6V591.9M778 571V585M779 574.9V583.7M780 579V586.6M781.1 575.9V582.2M782.1 576.1V581.8M783.1 581.4V590.4M784.2 577.8V585.3M785.2 573.9V580M786.2 575.2V589.3M787.3 573.6V582M788.3 575V584.3M789.3 576.3V585.3M790.4 575.9V585.5M791.4 572.8V580.8M792.4 578.5V587.1M793.5 576.2V584.6M794.5 576.8V580.8M795.5 575.9V582.3M796.5 575.6V580.2M797.5 574.5V582M798.4 571.4V578.5M799.3 572.5V582.8M800.3 573.6V580.3M801.2 574V578.1M802.1 574.7V578.2M803 567.6V582.3M804 572.4V583.8M804.9 572V577.7M805.8 573V578.1M806.9 572.5V579.5M807.9 574.6V578.5M808.9 577V583.3M810 573.8V578M811 572.3V580.9M812 571.6V580.4M813.1 570.4V578.9M814.1 571.5V577.4M815.1 567.4V577M816 571.1V576.8M817 573.4V582.6M817.9 575.1V581.3M818.8 577.3V580.8M819.8 578.7V583.3M820.7 575.2V584.8M821.6 577.6V587.9M822.5 577.7V584.9M823.5 579.3V589M824.4 580.7V586.6M825.4 580.1V590.2M826.5 581V587.6M827.5 580V590.4M828.5 580.9V587.7M829.6 582.5V585.6M830.6 582.8V588.1M831.6 582.8V586.5M832.7 583.9V589.7M833.7 583.4V586.7M834.7 582.2V589.6M835.7 585.8V591.5M836.8 584.4V587.5M837.8 587V589.5M838.8 586.5V590.1M839.9 585.9V593.6M840.9 586.1V590.9M841.9 582.8V587.1M843 585.5V590.2M844 584.4V587.3M845.1 585.5V588.1M846.1 583.1V588M847.2 586V590.5M848.3 584.8V587.5M849.3 589V591.7M850.4 582.7V589.9M851.3 584.5V590.6M852.2 588.2V591.1M853.2 588.3V591.9M854.1 588.8V595.4M855 589.1V596.4M856 587.7V593.4M856.9 590.9V594.2M857.8 585.5V590.9M858.7 587V594.5M859.7 587.6V593.8M860.6 586.6V590.2M861.5 583.8V595.1M862.6 583.4V588.8M863.6 585V590.3M864.6 585.4V587.7M865.7 585.7V592M866.7 586V589.8M867.7 585.8V589.2M868.8 584.2V588.9M869.8 580.6V587M870.8 584.9V588.7M871.9 581.4V585.7M872.9 582.7V587.2M874 581.5V587.4M875.1 583.6V589.2M876.1 581.2V586M877.2 579.9V586.4M878.2 581.7V586.9M882.9 577.3V580.9M884 575.2V582.3M885.1 576.2V582.1M886.1 576.9V582.1M887.2 577.7V582.4M888.3 578.9V583.6M889.4 579.4V583.2M890.4 578.6V583M891.4 575.1V581.1M892.5 581.2V585.1M893.5 577.2V581.9M894.5 578.5V585M895.6 577.2V581.5M896.6 577.9V582.9M897.6 579.4V582.6M898.7 580.1V585.2M899.7 575.7V582.6M900.7 575.9V585.7M901.8 576V580.6M902.8 578.3V582.8M903.8 578.7V582M904.9 576.1V580.3M905.9 579.6V583.7M906.9 576.9V580.8M907.9 577V580.1M909 577.9V581.9M910 576.6V583.7M911 576.8V581M912.1 580.2V583.7M913.1 577.4V580.2M914.1 577.9V581.7M915.2 574.9V578M916.2 576.4V580.3M917.2 578.8V581.9M918.2 577.7V581.9M919.2 576V581.6M920.2 576V580.6M921.1 575.4V584.6M922.1 577.7V581.7M923.1 577.3V580.9M924.1 576.4V584.6M925.1 573.8V580.6M926 575.1V578.3M927 573.6V578.8M928 574.4V581M928 574.2V580M929.1 572.6V579M930.1 572.6V576.6M931.2 573.5V577.4M932.2 572.6V576.4M933.3 571.3V577.8M934.4 569.7V575.8M935.4 573.2V577M936.4 571.2V578.3M937.3 569.6V573.3M938.2 570.3V573.7M939.1 568.9V572.4M940.1 570.5V573.9M941 569V572.9M941.9 570V574.9M942.9 571V573.3M943.8 569.8V572.3M944.7 565.9V570.1M945.6 563.8V567.1M946.6 561.2V564.8M947.5 564.4V567M948.4 564.7V570.1M949.4 568.4V575.5M950.3 566.1V577.2M951.2 562.9V575.9M952.1 564.3V575.4M953.1 567.5V586.2M954 575.9V585.5M954.9 577.5V597.1M955.8 578.3V587M956.8 575.8V583.9M957.7 576.5V586.9M958.8 574.4V584.9M959.8 574.4V585.3M960.9 578.2V591.8M962 573.5V585.9M963 581.4V596.1M964.1 573.2V586.2M965.1 579.2V590.4M966.2 578.6V592.3M967.3 580.9V589.2M968.3 581.5V594.8M969.4 578.4V586.5M970.4 586.6V595.8M971.5 581.6V589.9M972.6 581.5V594M973.5 584.9V595.3M974.4 577.5V590.8M975.3 576.4V595.3M976.3 583.3V596M977.2 571V584.2M978.1 575.7V586.7M979.1 571.4V594M980 579.1V595.1M980.9 585.8V596M981.8 579.1V593.6M982.8 593.1V603.6M983.7 585.3V604.8M984.6 584.7V594.4M985.6 584.5V592.9M986.5 588.5V598.1M987.4 586.8V601.4M988.3 580.6V596M989.3 579.9V594.7M990.2 586.2V601.4M991.1 587.5V599.6M992.1 575.3V587.9M993 588.2V600.8M993.9 579V589.2M994.8 580V590.3M995.8 579.1V592.1M996.7 582.3V588.8M997.6 582.7V594.8M998.6 592V603.5M999.5 593.2V608.2M1000.4 571.3V601.7M1001.3 588.6V599.2M1002.3 584.7V595.1M1003.2 581.1V588.1M1004.1 574.5V578.9M1005.1 567.5V586.7M1006 559.9V587.7M1006.9 579.5V584.3M1007.8 575.2V592.6M1008.8 586.1V609.1M1009.7 562.4V589.1M1010.6 571.7V602.2M1011.5 571.3V593.4M1012.5 577.7V586.6M1013.4 577V584.5M1014.3 577.7V581.8M1015.3 582.7V595.1M1016.2 575.4V582.4M1017.1 575.3V589.6M1018 575.3V583M1019 568.2V585.8M1019.9 581.7V587.1M1020.8 587V595.7M1021.8 586.1V595.7M1022.7 581.3V588.8M1023.6 578.7V599.2M1024.5 574.5V582.4M1025.5 581.8V591.3M1026.4 585.4V595.1M1027.3 578.7V601.2M1028.3 573.7V582.1M1029.2 575.9V587.7M1030.1 571.5V581.6M1031 559.2V576.3M1032 568.8V584.9M1032.9 567.3V588.8M1033.8 562.3V572.3M1034.8 542.5V568.2M1035.7 550.2V576.8M1036.6 581.8V589M1037.5 594.2V608.9M1038.5 597.9V607.2M1039.4 599.9V617.1M1040.3 578.7V605.7M1041.3 580.6V612.9M1042.2 588.8V606.6M1043.1 574.2V589.5M1044 592.5V599M1045 581.2V600M1045.9 587V611.9M1046.8 594.7V611.2M1047.8 589V597.6M1048.7 596.6V603.1M1049.6 584.5V618.4M1050.5 594.9V607.2M1051.5 598.3V605.8M1052.4 595.6V603.6M1053.3 598.6V606.3M1054.3 600.6V622M1055.2 600.4V608.1M1056.1 596.2V604.4M1057 578.1V605.4M1058 594.1V608M1058.9 593.7V607.2M1059.8 584.3V601.7M1060.8 595.3V604.4M1061.7 590.8V599.8" stroke="#ffb070" stroke-opacity="0.45" stroke-width="1" fill="none"/>
<path d="M68 609.8L68.9 647.2L69.9 601.8L70.8 600.9L71.7 605.4L72.6 613.6L73.6 611.2L74.5 607.8L75.4 626L76.4 618.7L77.3 612.4L78.2 632.7L79.1 618.4L80.1 605.9L81 607.5L81.9 603.9L82.9 606.8L83.8 620.8L84.7 639.2L85.6 645.6L86.6 610.6L87.5 605.5L88.4 615.7L89.4 617.6L90.3 619.5L91.2 624.3L92.1 630.8L93.1 631.5L94 642.4L94.9 643.4L95.8 642.9L96.8 636.4L97.7 618.5L98.6 636L99.6 643.1L100.5 653.2L101.4 653.5L102.3 643.9L103.3 634.6L104.2 621.2L105.1 614.6L106.1 610.5L107 620.6L107.9 618L108.8 627.3L109.8 650L110.7 645.6L111.6 642.5L112.6 621.1M120 620.1L120.9 619.3L121.8 612.9L122.8 620L123.7 618.6L124.7 613.9L125.8 621.1L126.8 619.6L127.8 625.8L128.9 623.9L129.9 611.5L130.9 619.8L132 619L133 618.2L133.9 619.2L134.8 625.6L135.8 616.7L136.7 621.1L137.6 618.6L138.6 628.4L139.5 625.1L140.4 619L141.3 620.9L142.3 618.2L143.2 629.3L144.1 629.1L145.1 630L146 621.8L146.9 623.1L147.8 611L148.8 611L149.7 618.5L150.6 618L151.5 611.5L152.5 617.2L153.4 619L154.5 620.8L155.5 618.8L156.6 618.2L157.7 611.8L158.7 618L159.8 616.5L160.8 616.4L161.8 623.1L162.7 621.6L163.6 614.1L164.5 616.2L165.6 615L166.7 612.1L167.7 615.3L168.8 616.2L169.9 617.2L170.9 614.3L172 618.7L173 617.1L174.1 612.6L175.2 616.3L176.2 619.7L177.3 622.1L178.3 616.6L179.4 618.8L180.4 621.8L181.5 614L182.5 621.9L183.5 615.4L184.6 618.8L185.6 622.6L186.6 620.3L187.7 615L188.7 623.6L189.6 613.6L190.5 613.5L191.5 624.7L192.4 626.1L193.3 620.2L194.3 626.2L195.2 621.7L196.1 616.6L197 615.1L198 616.1L199 611.4L200.1 619.1L201.1 621.1L202.2 608.9L203.3 613.2L204.3 617.2L205.4 624.3L206.3 610.2L207.2 614.2L208.2 616.5L209.1 611.6L210 617.9L211 620.6L211.9 620L212.8 624.4L213.7 619.9L214.7 625.7L215.6 629.3L216.5 634.8L217.5 641.3L218.4 635.1L219.3 630.2L220.2 626.8L221.2 625.4L222.1 624.1L223 630.6L224 628.9L224.9 617.7L225.8 622.5L226.7 617.2L227.7 614L228.6 613.8L229.5 616.3L230.5 610.5L231.4 609.6L232.3 612L233.2 608.9L234.2 611.5L235.1 613.4L236.1 609.8L237.2 613.1L238.2 611.4L239.2 614.2L240.3 611.3L241.3 612.1L242.3 613.2L243.4 609.8L244.4 613.3L245.4 609.1L246.4 611.3L247.5 605.6L248.5 610.4L249.5 613.1L250.6 614.6L251.6 611.6L252.6 609.1L253.7 610L254.6 612.4L255.5 610.8L256.5 611.1L257.4 613.6L258.3 610.3L259.2 606.4L260.2 609.4L261.1 607.3L262 607.3L262.9 603.7L263.9 603.4L264.8 605.3L265.7 593.7L266.7 584.3L267.6 582.5L268.5 577.9L269.4 580L270.4 576.4L271.3 576.7L272.2 578.6L273.2 568.9L274.1 555.8L275 560.1L275.9 561.2L276.9 607.3L277.8 606.8L278.7 606.9L279.7 611.2L280.8 610.2L281.9 610.3L283 606.4L283 609.7L284.1 606.5L285.1 608.6L286.2 608.1L287.2 610L288.3 607.7L289.4 606.9L290.4 607.5L291.4 608.4L292.3 611.5L293.2 613.2L294.1 618.4L295.1 616.6L296 616.6L296.9 611.1L297.9 605.4L298.8 607.5L299.7 609.9L300.6 603.7L301.6 611.5L302.5 609.6L303.4 608.6L304.4 611.8L305.3 608.3L306.2 612.2L307.1 605.5L308.1 607.9L309 599.2L310.1 599.5L311.1 599.3L312.2 606.8L313.2 601L314.3 601.3L315.4 602.2L316.4 604.6L317.5 604.7L318.5 603.7L319.6 602L320.7 601.2L321.7 604.2L322.8 607.2L323.8 601.9L324.9 602.6L326 601.7L327 603.9L328.1 604.8L329.2 601.7L330.2 603.6L331.3 606.7L332.3 605.9L333.4 603.8L334.5 604.9L335.5 605.1L336.6 602.1L337.6 598.3L338.7 602.1L339.7 601.4L340.8 601.1L341.8 600.7L342.8 598.6L343.9 596.2L344.9 596.9L345.9 594.3L347 599.5L348 598.5L349 596.3L350 596.6L351.1 598.5L352.1 601.2L353.1 598.9L354.2 594.1L355.2 597.2L356.2 597L357.3 596.5L358.3 599.6L359.4 599.3L360.4 595.1L361.5 596.5L362.6 595.3L363.6 589.5L364.7 595.6L365.6 596.5L366.5 592.6L367.5 599.8L368.4 603.6L369.3 604.7L370.3 599.6L371.2 607.9L372.1 595.8L373 596.6L374 596.8L374.9 595.9L375.8 597.7L376.9 596L377.9 595.8L378.9 596.9L380 596.6L381 596.9L382 597.5L383.1 596.4L384.1 598.9L385.1 597.4L386 597.4L387 598.5L387.9 599.7L388.8 599.3L389.8 599.6L390.7 601.2L391.6 601.1L392.5 599.9L393.5 597.5L394.4 596.9L395.4 596L396.5 595.9L397.5 597.3L398.5 596.5L399.6 597.4L400.6 595.9L401.6 596.7L402.7 596.3L403.7 597L404.7 597.4L405.7 595.9L406.8 596.5L407.8 596.7L408.8 596.9L409.9 598.4L410.9 595.7L411.9 597.7L413 596.6L413.9 597.7L414.8 594.6L415.8 596.5L416.7 594.9L417.6 595.5L418.5 595.3L419.5 585.7L420.4 577.9L421.4 572.9L422.4 574.3L423.4 577L424.4 580.7L425.5 574.1L426.5 579.7L427.5 580.6L428.5 578.3L429.5 574.3L430.5 583.2L431.5 577.3L432.5 597.6L433.4 603.5L434.3 591.6L435.4 595.2L436.5 594.9L437.6 593.5L438.7 591.2L439.7 596.4L440.8 594.3L441.8 596.5L442.9 595.3L443.9 591L444.9 594L446 589.7L447 597.7L448 590.1L449.1 596.9L450.1 587.5L451.1 590L452.2 594.1L453.2 587.7L454.2 593.9L455.3 593.2L456.3 592.7L457.3 594L458.4 593.5L459.4 597.2L460.4 597.1L461.4 595.3L462.5 595.1L463.5 597L464.5 596L465.6 594.4L466.6 593.3L467.6 593.1L468.7 592.8L469.7 591.6L470.7 593.6L471.8 591.4L472.8 594.5L473.8 592.4L474.9 594.5L475.9 593.6L476.9 592.9L477.9 592.3L479 595.3L480 595.2L481 589.2L482.1 592.3L483.1 594.2L484.1 590.9L485.2 593.7L486.2 591.7L487.2 590.2L488.2 588.7L489.2 593.5L490.2 589.1L491.1 591.9L492.1 590.6L493.1 588.8L494.1 589.7L495.1 589.4L496 588.9L497 590L498 588.4L498 591.8L499 593.5L500.1 591.1L501.1 591.5L502.1 592.2L503.2 587.6L504.2 589.3L505.2 591.4L506.3 588.4L507.3 591.2L508.3 592.2L509.3 592.8L510.4 591.9L511.4 589.6L512.4 591L513.5 590.3L514.5 591.4L515.5 590.7L516.6 587.1L517.5 590.2L518.4 588.2L519.4 590.9L520.3 592.5L521.2 591L522.1 593.3L523.2 596.1L524.3 589.9L525.3 597.6L526.4 597L527.4 597.3L528.5 595.8L529.6 596.5L530.5 594.5L531.4 597.3L532.3 597.9L533.3 598.6L534.2 594.7L535.1 595.1L536.2 593.6L537.3 592.9L538.3 590.9L539.4 592.7L540.4 590.8L541.5 589.9L542.6 589.7L543.5 589.6L544.4 585.4L545.3 587.8L546.3 585.6L547.3 586.3L548.4 586.2L549.5 583.8L550.5 583.3L551.6 587L552.6 581.8L553.7 580.7L554.6 582L555.6 578.7L556.5 580.4L557.4 580L558.3 584.7L559.3 586.3L560.2 586.4L561.1 588L562.1 593.7L563 591.9L563.9 594.9L564.8 597.5L565.8 598.2L566.7 599.6L567.6 602.2L568.6 601.3L569.5 603.5L570.4 600.9L571.3 601.8L572.3 599.2L573.2 597.6L574.1 596.7L575.1 609.2L576 621.6L576.9 660.5L577.8 592.7L578.8 597.4L579.7 592.4L580.6 593L581.5 596.6L582.5 594.4L583.4 597.5L584.3 602.4L585.3 601L586.2 600L587.1 603.9L588 602.5L589 608.1L589.9 602.3L590.8 596.7L591.8 590.7L592.7 587.5L593.8 591.1L594.8 594.5L595.9 593.6L596.9 591.5L598 595.1L599.1 589.6L600.1 593.8L601.1 592L602.2 594.7L603.2 595.5L604.2 588.5L605.3 591.1L606.3 591.2L607.3 590.1L608.4 601.5L609.4 594L610.3 598.3L611.3 594.2L612.2 593L613.1 589.6L614 596.6L615 601.6L615.9 600.4L616.8 601.5L617.8 608.2L618.7 606.4L619.6 602.5L620.5 605.7L621.5 610.2L622.4 603L623.3 602.6L624.3 600.2L625.2 605.8L626.1 605.6L627 610.2L628 614.8L628.9 608.1L629.8 605.7L630.8 607.2L631.7 609.5L632.6 612L633.5 610.4L634.5 606.4L635.4 602.6L636.3 608.8L637.2 605.6L638.2 612.1L639.1 615.3L640 614.7L641 617.8L641.9 617.1L642.8 616.1L643.7 614.8L644.7 609.6L645.6 603.5L646.5 603.2L647.5 598L648.4 592.8L649.3 591.5L650.2 591.1L651.2 594.2L652.1 605.8L653 601.1L654 599.8L654.9 606.3L655.8 602.6L656.7 601.9L657.7 596.9L658.6 605.8L659.5 600.7L660.5 601.8L661.4 602.6L662.3 603.2L663.2 596.8L664.2 600.8L665.1 602.4L666 609.2L667 613.5L667.9 604.5L668.8 599.1L669.7 593L670.7 587.8L671.6 589.3L672.5 591.4L673.5 590.6L674.4 590.7L675.3 591.8L676.2 588.4L677.2 588.7L678.1 594.8L679 588.9L680 596.7L680.9 593.7L681.8 585.2L682.7 592.4L683.7 592.3L684.6 587L685.5 587.2L686.5 590L687.4 583.2L688.3 585.8L689.2 588.2L690.4 587.7L691.5 582.4L692.6 580.9M705.9 597.2L706.9 596.9L707.8 597.2M739 595.7L739.9 592.6L740.8 590.8L741.8 592.7L742.7 590.7L743.8 586L744.8 588L745.9 587.7L747 585.1L748 585.5L749.1 584.3L750.1 586L751.2 581.9L752.2 584.6L753.2 584.9L754.3 580.5L755.3 580.1L756.3 585.7L757.4 582.5L758.4 585.6L759.4 581.9L760.5 580.6L761.5 581.6L762.6 578.1L763.7 582.1L764.7 580.5L765.8 584.9L766.8 584.6L767.8 581.5L768.7 582.9L769.6 585.8L770.6 586.4L771.5 587.7L772.4 588.6L773.3 590.2L774.3 588L775.2 589.7L776.1 586.8L777.1 588.4L778 577.5L779 579.4L780 581.6L781.1 577.3L782.1 578.5L783.1 582.9L784.2 581.9L785.2 577.7L786.2 579.5L787.3 577L788.3 579.7L789.3 580.8L790.4 580.8L791.4 577.8L792.4 580.7L793.5 578.8L794.5 579.4L795.5 580.2L796.5 578.7L797.5 577.5L798.4 576.1L799.3 578.3L800.3 577.9L801.2 576.4L802.1 577L803 572.9L804 574.2L804.9 573.8L805.8 576.8L806.9 576.6L807.9 576.5L808.9 578.4L810 575.8L811 576L812 575L813.1 573.8L814.1 573.5L815.1 571.5L816 575.4L817 578.6L817.9 578L818.8 578.8L819.8 581.6L820.7 581.6L821.6 582.5L822.5 581.2L823.5 582.9L824.4 582.8L825.4 583.4L826.5 583L827.5 585.8L828.5 583.7L829.6 584.1L830.6 586.2L831.6 583.7L832.7 585.6L833.7 585L834.7 587L835.7 586.9L836.8 585.8L837.8 588.2L838.8 587.6L839.9 586.9L840.9 588.7L841.9 585.1L843 587.5L844 586.4L845.1 586.5L846.1 585.7L847.2 588.6L848.3 585.8L849.3 590.1L850.4 587.9L851.3 587.9L852.2 589.7L853.2 590.8L854.1 591.3L855 591.4L856 591.2L856.9 593.1L857.8 589.6L858.7 591.5L859.7 590.9L860.6 588.2L861.5 587.4L862.6 586.2L863.6 587.7L864.6 586.3L865.7 588L866.7 587.5L867.7 586.7L868.8 586.1L869.8 583.8L870.8 586.5L871.9 584.6L872.9 584L874 584.5L875.1 586.5L876.1 583.6L877.2 583.9L878.2 583.7M882.9 579.2L884 578.3L885.1 579L886.1 579.4L887.2 579.8L888.3 580.7L889.4 581.2L890.4 580.3L891.4 579.1L892.5 583.2L893.5 580.2L894.5 581.2L895.6 579.4L896.6 580.8L897.6 581.8L898.7 582.3L899.7 580.8L900.7 580.8L901.8 579.8L902.8 580.8L903.8 580.9L904.9 579.4L905.9 580.8L906.9 579.3L907.9 577.9L909 579.6L910 579L911 580L912.1 581.1L913.1 578.3L914.1 579L915.2 577.3L916.2 578.1L917.2 580.4L918.2 579.9L919.2 579.4L920.2 578.1L921.1 577.4L922.1 579.6L923.1 578.7L924.1 578.3L925.1 578.2L926 576.2L927 576.8L928 577.3L928 576.5L929.1 576.2L930.1 575.2L931.2 575.8L932.2 573.8L933.3 573.9L934.4 574L935.4 574.4L936.4 572.8L937.3 571.5L938.2 571.8L939.1 570.8L940.1 571.7L941 571L941.9 572.3L942.9 572L943.8 571.3L944.7 568.5L945.6 564.8L946.6 563.3L947.5 565.1L948.4 565.9L949.4 571.9L950.3 573.4L951.2 568L952.1 572.3L953.1 577.4L954 578.1L954.9 583.2L955.8 584L956.8 578.9L957.7 579.6L958.8 581.1L959.8 580.7L960.9 583.2L962 582.5L963 586.7L964.1 577.9L965.1 582.4L966.2 584.4L967.3 585.6L968.3 586.4L969.4 582.9L970.4 590.3L971.5 587.4L972.6 586.3L973.5 589.8L974.4 584.1L975.3 582.4L976.3 588.1L977.2 580L978.1 583.9L979.1 581.7L980 588.2L980.9 588.7L981.8 587.2L982.8 595.3L983.7 596.2L984.6 588.4L985.6 589.9L986.5 591.1L987.4 591.1L988.3 587.5L989.3 586.7L990.2 589.8L991.1 590.3L992.1 583.5L993 592.1L993.9 583L994.8 587L995.8 583.2L996.7 586.6L997.6 589.8L998.6 597.4L999.5 599L1000.4 594.3L1001.3 593.1L1002.3 588.3L1003.2 585.3L1004.1 576.2L1005.1 584.1L1006 583.6L1006.9 582.6L1007.8 585L1008.8 588.2L1009.7 582.8L1010.6 582.6L1011.5 581.5L1012.5 582.2L1013.4 580.3L1014.3 580L1015.3 584.7L1016.2 578.5L1017.1 584.3L1018 581.3L1019 582.9L1019.9 583.4L1020.8 589.5L1021.8 589.9L1022.7 586.2L1023.6 580.8L1024.5 580.5L1025.5 585.2L1026.4 587L1027.3 584L1028.3 579.6L1029.2 579.9L1030.1 577.7L1031 573.3L1032 572.4L1032.9 572.3L1033.8 570.5L1034.8 566.3L1035.7 569.5L1036.6 586.6L1037.5 598.1L1038.5 601L1039.4 602.7L1040.3 600.4L1041.3 597.1L1042.2 594.9L1043.1 587.2L1044 594.6L1045 595.4L1045.9 596.9L1046.8 598.7L1047.8 594.1L1048.7 599.9L1049.6 601.2L1050.5 597.8L1051.5 602.7L1052.4 601L1053.3 603.7L1054.3 604.8L1055.2 603.4L1056.1 598.4L1057 599.1L1058 603.7L1058.9 599.9L1059.8 595.2L1060.8 597L1061.7 596.8" stroke="#ff8c28" stroke-opacity="0.35" stroke-width="1" fill="none" stroke-linejoin="round"/>
<path d="M67.2 609.8h1.5M68.2 647.2h1.5M69.1 601.8h1.5M70 600.9h1.5M71 605.4h1.5M71.9 613.6h1.5M72.8 611.2h1.5M73.7 607.8h1.5M74.7 626h1.5M75.6 618.7h1.5M76.5 612.4h1.5M77.5 632.7h1.5M78.4 618.4h1.5M79.3 605.9h1.5M80.2 607.5h1.5M81.2 603.9h1.5M82.1 606.8h1.5M83 620.8h1.5M84 639.2h1.5M84.9 645.6h1.5M85.8 610.6h1.5M86.7 605.5h1.5M87.7 615.7h1.5M88.6 617.6h1.5M89.5 619.5h1.5M90.5 624.3h1.5M91.4 630.8h1.5M92.3 631.5h1.5M93.2 642.4h1.5M94.2 643.4h1.5M95.1 642.9h1.5M96 636.4h1.5M97 618.5h1.5M97.9 636h1.5M98.8 643.1h1.5M99.7 653.2h1.5M100.7 653.5h1.5M101.6 643.9h1.5M102.5 634.6h1.5M103.5 621.2h1.5M104.4 614.6h1.5M105.3 610.5h1.5M106.2 620.6h1.5M107.2 618h1.5M108.1 627.3h1.5M109 650h1.5M110 645.6h1.5M110.9 642.5h1.5M111.8 621.1h1.5M119.2 620.1h1.5M120.2 619.3h1.5M121.1 612.9h1.5M122 620h1.5M122.9 618.6h1.5M124 613.9h1.5M125 621.1h1.5M126 619.6h1.5M127.1 625.8h1.5M128.1 623.9h1.5M129.1 611.5h1.5M130.2 619.8h1.5M131.2 619h1.5M132.2 618.2h1.5M133.2 619.2h1.5M134.1 625.6h1.5M135 616.7h1.5M135.9 621.1h1.5M136.9 618.6h1.5M137.8 628.4h1.5M138.7 625.1h1.5M139.7 619h1.5M140.6 620.9h1.5M141.5 618.2h1.5M142.4 629.3h1.5M143.4 629.1h1.5M144.3 630h1.5M145.2 621.8h1.5M146.2 623.1h1.5M147.1 611h1.5M148 611h1.5M148.9 618.5h1.5M149.9 618h1.5M150.8 611.5h1.5M151.7 617.2h1.5M152.7 619h1.5M153.7 620.8h1.5M154.8 618.8h1.5M155.8 618.2h1.5M156.9 611.8h1.5M158 618h1.5M159 616.5h1.5M160.1 616.4h1.5M161 623.1h1.5M161.9 621.6h1.5M162.9 614.1h1.5M163.8 616.2h1.5M164.9 615h1.5M165.9 612.1h1.5M167 615.3h1.5M168 616.2h1.5M169.1 617.2h1.5M170.2 614.3h1.5M171.2 618.7h1.5M172.3 617.1h1.5M173.3 612.6h1.5M174.4 616.3h1.5M175.5 619.7h1.5M176.5 622.1h1.5M177.6 616.6h1.5M178.6 618.8h1.5M179.7 621.8h1.5M180.7 614h1.5M181.7 621.9h1.5M182.8 615.4h1.5M183.8 618.8h1.5M184.8 622.6h1.5M185.9 620.3h1.5M186.9 615h1.5M187.9 623.6h1.5M188.9 613.6h1.5M189.8 613.5h1.5M190.7 624.7h1.5M191.6 626.1h1.5M192.6 620.2h1.5M193.5 626.2h1.5M194.4 621.7h1.5M195.4 616.6h1.5M196.3 615.1h1.5M197.2 616.1h1.5M198.3 611.4h1.5M199.3 619.1h1.5M200.4 621.1h1.5M201.5 608.9h1.5M202.5 613.2h1.5M203.6 617.2h1.5M204.6 624.3h1.5M205.6 610.2h1.5M206.5 614.2h1.5M207.4 616.5h1.5M208.4 611.6h1.5M209.3 617.9h1.5M210.2 620.6h1.5M211.1 620h1.5M212.1 624.4h1.5M213 619.9h1.5M213.9 625.7h1.5M214.9 629.3h1.5M215.8 634.8h1.5M216.7 641.3h1.5M217.6 635.1h1.5M218.6 630.2h1.5M219.5 626.8h1.5M220.4 625.4h1.5M221.4 624.1h1.5M222.3 630.6h1.5M223.2 628.9h1.5M224.1 617.7h1.5M225.1 622.5h1.5M226 617.2h1.5M226.9 614h1.5M227.9 613.8h1.5M228.8 616.3h1.5M229.7 610.5h1.5M230.6 609.6h1.5M231.6 612h1.5M232.5 608.9h1.5M233.4 611.5h1.5M234.3 613.4h1.5M235.4 609.8h1.5M236.4 613.1h1.5M237.4 611.4h1.5M238.5 614.2h1.5M239.5 611.3h1.5M240.5 612.1h1.5M241.6 613.2h1.5M242.6 609.8h1.5M243.6 613.3h1.5M244.7 609.1h1.5M245.7 611.3h1.5M246.7 605.6h1.5M247.8 610.4h1.5M248.8 613.1h1.5M249.8 614.6h1.5M250.9 611.6h1.5M251.9 609.1h1.5M252.9 610h1.5M253.8 612.4h1.5M254.8 610.8h1.5M255.7 611.1h1.5M256.6 613.6h1.5M257.6 610.3h1.5M258.5 606.4h1.5M259.4 609.4h1.5M260.3 607.3h1.5M261.3 607.3h1.5M262.2 603.7h1.5M263.1 603.4h1.5M264.1 605.3h1.5M265 593.7h1.5M265.9 584.3h1.5M266.8 582.5h1.5M267.8 577.9h1.5M268.7 580h1.5M269.6 576.4h1.5M270.6 576.7h1.5M271.5 578.6h1.5M272.4 568.9h1.5M273.3 555.8h1.5M274.3 560.1h1.5M275.2 561.2h1.5M276.1 607.3h1.5M277.1 606.8h1.5M278 606.9h1.5M278.9 611.2h1.5M280 610.2h1.5M281.1 610.3h1.5M282.3 606.4h1.5M282.2 609.7h1.5M283.3 606.5h1.5M284.4 608.6h1.5M285.4 608.1h1.5M286.5 610h1.5M287.6 607.7h1.5M288.6 606.9h1.5M289.7 607.5h1.5M290.6 608.4h1.5M291.5 611.5h1.5M292.5 613.2h1.5M293.4 618.4h1.5M294.3 616.6h1.5M295.2 616.6h1.5M296.2 611.1h1.5M297.1 605.4h1.5M298 607.5h1.5M299 609.9h1.5M299.9 603.7h1.5M300.8 611.5h1.5M301.7 609.6h1.5M302.7 608.6h1.5M303.6 611.8h1.5M304.5 608.3h1.5M305.5 612.2h1.5M306.4 605.5h1.5M307.3 607.9h1.5M308.2 599.2h1.5M309.3 599.5h1.5M310.4 599.3h1.5M311.4 606.8h1.5M312.5 601h1.5M313.5 601.3h1.5M314.6 602.2h1.5M315.7 604.6h1.5M316.7 604.7h1.5M317.8 603.7h1.5M318.9 602h1.5M319.9 601.2h1.5M321 604.2h1.5M322 607.2h1.5M323.1 601.9h1.5M324.2 602.6h1.5M325.2 601.7h1.5M326.3 603.9h1.5M327.3 604.8h1.5M328.4 601.7h1.5M329.5 603.6h1.5M330.5 606.7h1.5M331.6 605.9h1.5M332.6 603.8h1.5M333.7 604.9h1.5M334.8 605.1h1.5M335.8 602.1h1.5M336.9 598.3h1.5M337.9 602.1h1.5M339 601.4h1.5M340 601.1h1.5M341 600.7h1.5M342.1 598.6h1.5M343.1 596.2h1.5M344.1 596.9h1.5M345.2 594.3h1.5M346.2 599.5h1.5M347.2 598.5h1.5M348.3 596.3h1.5M349.3 596.6h1.5M350.3 598.5h1.5M351.4 601.2h1.5M352.4 598.9h1.5M353.4 594.1h1.5M354.5 597.2h1.5M355.5 597h1.5M356.5 596.5h1.5M357.6 599.6h1.5M358.6 599.3h1.5M359.7 595.1h1.5M360.8 596.5h1.5M361.8 595.3h1.5M362.9 589.5h1.5M363.9 595.6h1.5M364.9 596.5h1.5M365.8 592.6h1.5M366.7 599.8h1.5M367.7 603.6h1.5M368.6 604.7h1.5M369.5 599.6h1.5M370.4 607.9h1.5M371.4 595.8h1.5M372.3 596.6h1.5M373.2 596.8h1.5M374.2 595.9h1.5M375.1 597.7h1.5M376.1 596h1.5M377.1 595.8h1.5M378.2 596.9h1.5M379.2 596.6h1.5M380.2 596.9h1.5M381.3 597.5h1.5M382.3 596.4h1.5M383.3 598.9h1.5M384.4 597.4h1.5M385.3 597.4h1.5M386.2 598.5h1.5M387.2 599.7h1.5M388.1 599.3h1.5M389 599.6h1.5M389.9 601.2h1.5M390.9 601.1h1.5M391.8 599.9h1.5M392.7 597.5h1.5M393.6 596.9h1.5M394.7 596h1.5M395.7 595.9h1.5M396.7 597.3h1.5M397.8 596.5h1.5M398.8 597.4h1.5M399.8 595.9h1.5M400.9 596.7h1.5M401.9 596.3h1.5M402.9 597h1.5M404 597.4h1.5M405 595.9h1.5M406 596.5h1.5M407.1 596.7h1.5M408.1 596.9h1.5M409.1 598.4h1.5M410.2 595.7h1.5M411.2 597.7h1.5M412.2 596.6h1.5M413.1 597.7h1.5M414.1 594.6h1.5M415 596.5h1.5M415.9 594.9h1.5M416.9 595.5h1.5M417.8 595.3h1.5M418.7 585.7h1.5M419.6 577.9h1.5M420.7 572.9h1.5M421.7 574.3h1.5M422.7 577h1.5M423.7 580.7h1.5M424.7 574.1h1.5M425.7 579.7h1.5M426.7 580.6h1.5M427.7 578.3h1.5M428.8 574.3h1.5M429.8 583.2h1.5M430.8 577.3h1.5M431.7 597.6h1.5M432.6 603.5h1.5M433.6 591.6h1.5M434.7 595.2h1.5M435.7 594.9h1.5M436.8 593.5h1.5M437.9 591.2h1.5M439 596.4h1.5M440.1 594.3h1.5M441.1 596.5h1.5M442.1 595.3h1.5M443.2 591h1.5M444.2 594h1.5M445.2 589.7h1.5M446.3 597.7h1.5M447.3 590.1h1.5M448.3 596.9h1.5M449.3 587.5h1.5M450.4 590h1.5M451.4 594.1h1.5M452.4 587.7h1.5M453.5 593.9h1.5M454.5 593.2h1.5M455.5 592.7h1.5M456.6 594h1.5M457.6 593.5h1.5M458.6 597.2h1.5M459.7 597.1h1.5M460.7 595.3h1.5M461.7 595.1h1.5M462.8 597h1.5M463.8 596h1.5M464.8 594.4h1.5M465.9 593.3h1.5M466.9 593.1h1.5M467.9 592.8h1.5M468.9 591.6h1.5M470 593.6h1.5M471 591.4h1.5M472 594.5h1.5M473.1 592.4h1.5M474.1 594.5h1.5M475.1 593.6h1.5M476.2 592.9h1.5M477.2 592.3h1.5M478.2 595.3h1.5M479.3 595.2h1.5M480.3 589.2h1.5M481.3 592.3h1.5M482.4 594.2h1.5M483.4 590.9h1.5M484.4 593.7h1.5M485.5 591.7h1.5M486.5 590.2h1.5M487.5 588.7h1.5M488.4 593.5h1.5M489.4 589.1h1.5M490.4 591.9h1.5M491.4 590.6h1.5M492.4 588.8h1.5M493.3 589.7h1.5M494.3 589.4h1.5M495.3 588.9h1.5M496.3 590h1.5M497.3 588.4h1.5M497.2 591.8h1.5M498.3 593.5h1.5M499.3 591.1h1.5M500.3 591.5h1.5M501.4 592.2h1.5M502.4 587.6h1.5M503.4 589.3h1.5M504.5 591.4h1.5M505.5 588.4h1.5M506.5 591.2h1.5M507.6 592.2h1.5M508.6 592.8h1.5M509.6 591.9h1.5M510.7 589.6h1.5M511.7 591h1.5M512.7 590.3h1.5M513.8 591.4h1.5M514.8 590.7h1.5M515.8 587.1h1.5M516.7 590.2h1.5M517.7 588.2h1.5M518.6 590.9h1.5M519.5 592.5h1.5M520.5 591h1.5M521.4 593.3h1.5M522.4 596.1h1.5M523.5 589.9h1.5M524.6 597.6h1.5M525.6 597h1.5M526.7 597.3h1.5M527.8 595.8h1.5M528.8 596.5h1.5M529.7 594.5h1.5M530.7 597.3h1.5M531.6 597.9h1.5M532.5 598.6h1.5M533.5 594.7h1.5M534.4 595.1h1.5M535.4 593.6h1.5M536.5 592.9h1.5M537.6 590.9h1.5M538.6 592.7h1.5M539.7 590.8h1.5M540.7 589.9h1.5M541.8 589.7h1.5M542.7 589.6h1.5M543.7 585.4h1.5M544.6 587.8h1.5M545.5 585.6h1.5M546.6 586.3h1.5M547.6 586.2h1.5M548.7 583.8h1.5M549.8 583.3h1.5M550.8 587h1.5M551.9 581.8h1.5M552.9 580.7h1.5M553.9 582h1.5M554.8 578.7h1.5M555.7 580.4h1.5M556.7 580h1.5M557.6 584.7h1.5M558.5 586.3h1.5M559.4 586.4h1.5M560.4 588h1.5M561.3 593.7h1.5M562.2 591.9h1.5M563.2 594.9h1.5M564.1 597.5h1.5M565 598.2h1.5M565.9 599.6h1.5M566.9 602.2h1.5M567.8 601.3h1.5M568.7 603.5h1.5M569.7 600.9h1.5M570.6 601.8h1.5M571.5 599.2h1.5M572.4 597.6h1.5M573.4 596.7h1.5M574.3 609.2h1.5M575.2 621.6h1.5M576.2 660.5h1.5M577.1 592.7h1.5M578 597.4h1.5M578.9 592.4h1.5M579.9 593h1.5M580.8 596.6h1.5M581.7 594.4h1.5M582.7 597.5h1.5M583.6 602.4h1.5M584.5 601h1.5M585.4 600h1.5M586.4 603.9h1.5M587.3 602.5h1.5M588.2 608.1h1.5M589.2 602.3h1.5M590.1 596.7h1.5M591 590.7h1.5M591.9 587.5h1.5M593 591.1h1.5M594.1 594.5h1.5M595.1 593.6h1.5M596.2 591.5h1.5M597.2 595.1h1.5M598.3 589.6h1.5M599.4 593.8h1.5M600.4 592h1.5M601.4 594.7h1.5M602.5 595.5h1.5M603.5 588.5h1.5M604.5 591.1h1.5M605.6 591.2h1.5M606.6 590.1h1.5M607.6 601.5h1.5M608.6 594h1.5M609.6 598.3h1.5M610.5 594.2h1.5M611.4 593h1.5M612.4 589.6h1.5M613.3 596.6h1.5M614.2 601.6h1.5M615.1 600.4h1.5M616.1 601.5h1.5M617 608.2h1.5M617.9 606.4h1.5M618.9 602.5h1.5M619.8 605.7h1.5M620.7 610.2h1.5M621.6 603h1.5M622.6 602.6h1.5M623.5 600.2h1.5M624.4 605.8h1.5M625.4 605.6h1.5M626.3 610.2h1.5M627.2 614.8h1.5M628.1 608.1h1.5M629.1 605.7h1.5M630 607.2h1.5M630.9 609.5h1.5M631.9 612h1.5M632.8 610.4h1.5M633.7 606.4h1.5M634.6 602.6h1.5M635.6 608.8h1.5M636.5 605.6h1.5M637.4 612.1h1.5M638.4 615.3h1.5M639.3 614.7h1.5M640.2 617.8h1.5M641.1 617.1h1.5M642.1 616.1h1.5M643 614.8h1.5M643.9 609.6h1.5M644.9 603.5h1.5M645.8 603.2h1.5M646.7 598h1.5M647.6 592.8h1.5M648.6 591.5h1.5M649.5 591.1h1.5M650.4 594.2h1.5M651.4 605.8h1.5M652.3 601.1h1.5M653.2 599.8h1.5M654.1 606.3h1.5M655.1 602.6h1.5M656 601.9h1.5M656.9 596.9h1.5M657.9 605.8h1.5M658.8 600.7h1.5M659.7 601.8h1.5M660.6 602.6h1.5M661.6 603.2h1.5M662.5 596.8h1.5M663.4 600.8h1.5M664.3 602.4h1.5M665.3 609.2h1.5M666.2 613.5h1.5M667.1 604.5h1.5M668.1 599.1h1.5M669 593h1.5M669.9 587.8h1.5M670.8 589.3h1.5M671.8 591.4h1.5M672.7 590.6h1.5M673.6 590.7h1.5M674.6 591.8h1.5M675.5 588.4h1.5M676.4 588.7h1.5M677.3 594.8h1.5M678.3 588.9h1.5M679.2 596.7h1.5M680.1 593.7h1.5M681.1 585.2h1.5M682 592.4h1.5M682.9 592.3h1.5M683.8 587h1.5M684.8 587.2h1.5M685.7 590h1.5M686.6 583.2h1.5M687.6 585.8h1.5M688.5 588.2h1.5M689.6 587.7h1.5M690.7 582.4h1.5M691.8 580.9h1.5M695.9 610.6h1.5M705.2 597.2h1.5M706.1 596.9h1.5M707.1 597.2h1.5M738.2 595.7h1.5M739.2 592.6h1.5M740.1 590.8h1.5M741 592.7h1.5M742 590.7h1.5M743 586h1.5M744.1 588h1.5M745.1 587.7h1.5M746.2 585.1h1.5M747.3 585.5h1.5M748.3 584.3h1.5M749.4 586h1.5M750.4 581.9h1.5M751.4 584.6h1.5M752.5 584.9h1.5M753.5 580.5h1.5M754.5 580.1h1.5M755.6 585.7h1.5M756.6 582.5h1.5M757.6 585.6h1.5M758.7 581.9h1.5M759.7 580.6h1.5M760.8 581.6h1.5M761.8 578.1h1.5M762.9 582.1h1.5M764 580.5h1.5M765 584.9h1.5M766.1 584.6h1.5M767 581.5h1.5M767.9 582.9h1.5M768.9 585.8h1.5M769.8 586.4h1.5M770.7 587.7h1.5M771.7 588.6h1.5M772.6 590.2h1.5M773.5 588h1.5M774.4 589.7h1.5M775.4 586.8h1.5M776.3 588.4h1.5M777.2 577.5h1.5M778.3 579.4h1.5M779.3 581.6h1.5M780.3 577.3h1.5M781.4 578.5h1.5M782.4 582.9h1.5M783.4 581.9h1.5M784.5 577.7h1.5M785.5 579.5h1.5M786.5 577h1.5M787.5 579.7h1.5M788.6 580.8h1.5M789.6 580.8h1.5M790.6 577.8h1.5M791.7 580.7h1.5M792.7 578.8h1.5M793.7 579.4h1.5M794.8 580.2h1.5M795.8 578.7h1.5M796.7 577.5h1.5M797.7 576.1h1.5M798.6 578.3h1.5M799.5 577.9h1.5M800.4 576.4h1.5M801.4 577h1.5M802.3 572.9h1.5M803.2 574.2h1.5M804.2 573.8h1.5M805.1 576.8h1.5M806.1 576.6h1.5M807.1 576.5h1.5M808.2 578.4h1.5M809.2 575.8h1.5M810.2 576h1.5M811.3 575h1.5M812.3 573.8h1.5M813.3 573.5h1.5M814.4 571.5h1.5M815.3 575.4h1.5M816.2 578.6h1.5M817.2 578h1.5M818.1 578.8h1.5M819 581.6h1.5M819.9 581.6h1.5M820.9 582.5h1.5M821.8 581.2h1.5M822.7 582.9h1.5M823.6 582.8h1.5M824.7 583.4h1.5M825.7 583h1.5M826.7 585.8h1.5M827.8 583.7h1.5M828.8 584.1h1.5M829.8 586.2h1.5M830.9 583.7h1.5M831.9 585.6h1.5M832.9 585h1.5M834 587h1.5M835 586.9h1.5M836 585.8h1.5M837.1 588.2h1.5M838.1 587.6h1.5M839.1 586.9h1.5M840.2 588.7h1.5M841.2 585.1h1.5M842.2 587.5h1.5M843.3 586.4h1.5M844.3 586.5h1.5M845.4 585.7h1.5M846.5 588.6h1.5M847.5 585.8h1.5M848.6 590.1h1.5M849.6 587.9h1.5M850.6 587.9h1.5M851.5 589.7h1.5M852.4 590.8h1.5M853.4 591.3h1.5M854.3 591.4h1.5M855.2 591.2h1.5M856.1 593.1h1.5M857.1 589.6h1.5M858 591.5h1.5M858.9 590.9h1.5M859.9 588.2h1.5M860.8 587.4h1.5M861.8 586.2h1.5M862.8 587.7h1.5M863.9 586.3h1.5M864.9 588h1.5M865.9 587.5h1.5M867 586.7h1.5M868 586.1h1.5M869 583.8h1.5M870.1 586.5h1.5M871.1 584.6h1.5M872.2 584h1.5M873.2 584.5h1.5M874.3 586.5h1.5M875.4 583.6h1.5M876.4 583.9h1.5M877.5 583.7h1.5M882.1 579.2h1.5M883.2 578.3h1.5M884.3 579h1.5M885.4 579.4h1.5M886.5 579.8h1.5M887.6 580.7h1.5M888.6 581.2h1.5M889.7 580.3h1.5M890.7 579.1h1.5M891.7 583.2h1.5M892.8 580.2h1.5M893.8 581.2h1.5M894.8 579.4h1.5M895.9 580.8h1.5M896.9 581.8h1.5M897.9 582.3h1.5M898.9 580.8h1.5M900 580.8h1.5M901 579.8h1.5M902 580.8h1.5M903.1 580.9h1.5M904.1 579.4h1.5M905.1 580.8h1.5M906.2 579.3h1.5M907.2 577.9h1.5M908.2 579.6h1.5M909.3 579h1.5M910.3 580h1.5M911.3 581.1h1.5M912.4 578.3h1.5M913.4 579h1.5M914.4 577.3h1.5M915.5 578.1h1.5M916.5 580.4h1.5M917.5 579.9h1.5M918.4 579.4h1.5M919.4 578.1h1.5M920.4 577.4h1.5M921.4 579.6h1.5M922.4 578.7h1.5M923.3 578.3h1.5M924.3 578.2h1.5M925.3 576.2h1.5M926.3 576.8h1.5M927.3 577.3h1.5M927.2 576.5h1.5M928.3 576.2h1.5M929.4 575.2h1.5M930.4 575.8h1.5M931.5 573.8h1.5M932.6 573.9h1.5M933.6 574h1.5M934.7 574.4h1.5M935.6 572.8h1.5M936.5 571.5h1.5M937.5 571.8h1.5M938.4 570.8h1.5M939.3 571.7h1.5M940.2 571h1.5M941.2 572.3h1.5M942.1 572h1.5M943 571.3h1.5M944 568.5h1.5M944.9 564.8h1.5M945.8 563.3h1.5M946.7 565.1h1.5M947.7 565.9h1.5M948.6 571.9h1.5M949.5 573.4h1.5M950.5 568h1.5M951.4 572.3h1.5M952.3 577.4h1.5M953.2 578.1h1.5M954.2 583.2h1.5M955.1 584h1.5M956 578.9h1.5M957 579.6h1.5M958 581.1h1.5M959.1 580.7h1.5M960.1 583.2h1.5M961.2 582.5h1.5M962.3 586.7h1.5M963.3 577.9h1.5M964.4 582.4h1.5M965.4 584.4h1.5M966.5 585.6h1.5M967.6 586.4h1.5M968.6 582.9h1.5M969.7 590.3h1.5M970.7 587.4h1.5M971.8 586.3h1.5M972.7 589.8h1.5M973.7 584.1h1.5M974.6 582.4h1.5M975.5 588.1h1.5M976.5 580h1.5M977.4 583.9h1.5M978.3 581.7h1.5M979.2 588.2h1.5M980.2 588.7h1.5M981.1 587.2h1.5M982 595.3h1.5M982.9 596.2h1.5M983.9 588.4h1.5M984.8 589.9h1.5M985.7 591.1h1.5M986.7 591.1h1.5M987.6 587.5h1.5M988.5 586.7h1.5M989.4 589.8h1.5M990.4 590.3h1.5M991.3 583.5h1.5M992.2 592.1h1.5M993.2 583h1.5M994.1 587h1.5M995 583.2h1.5M995.9 586.6h1.5M996.9 589.8h1.5M997.8 597.4h1.5M998.7 599h1.5M999.7 594.3h1.5M1000.6 593.1h1.5M1001.5 588.3h1.5M1002.4 585.3h1.5M1003.4 576.2h1.5M1004.3 584.1h1.5M1005.2 583.6h1.5M1006.2 582.6h1.5M1007.1 585h1.5M1008 588.2h1.5M1008.9 582.8h1.5M1009.9 582.6h1.5M1010.8 581.5h1.5M1011.7 582.2h1.5M1012.7 580.3h1.5M1013.6 580h1.5M1014.5 584.7h1.5M1015.4 578.5h1.5M1016.4 584.3h1.5M1017.3 581.3h1.5M1018.2 582.9h1.5M1019.2 583.4h1.5M1020.1 589.5h1.5M1021 589.9h1.5M1021.9 586.2h1.5M1022.9 580.8h1.5M1023.8 580.5h1.5M1024.7 585.2h1.5M1025.7 587h1.5M1026.6 584h1.5M1027.5 579.6h1.5M1028.4 579.9h1.5M1029.4 577.7h1.5M1030.3 573.3h1.5M1031.2 572.4h1.5M1032.2 572.3h1.5M1033.1 570.5h1.5M1034 566.3h1.5M1034.9 569.5h1.5M1035.9 586.6h1.5M1036.8 598.1h1.5M1037.7 601h1.5M1038.6 602.7h1.5M1039.6 600.4h1.5M1040.5 597.1h1.5M1041.4 594.9h1.5M1042.4 587.2h1.5M1043.3 594.6h1.5M1044.2 595.4h1.5M1045.1 596.9h1.5M1046.1 598.7h1.5M1047 594.1h1.5M1047.9 599.9h1.5M1048.9 601.2h1.5M1049.8 597.8h1.5M1050.7 602.7h1.5M1051.6 601h1.5M1052.6 603.7h1.5M1053.5 604.8h1.5M1054.4 603.4h1.5M1055.4 598.4h1.5M1056.3 599.1h1.5M1057.2 603.7h1.5M1058.1 599.9h1.5M1059.1 595.2h1.5M1060 597h1.5M1060.9 596.8h1.5" stroke="#ff6a00" stroke-width="1.5" fill="none"/>
<path d="M141.3 617.8V661" stroke="#ffa860" stroke-opacity="0.6"/>
<path d="M174.8 616V661" stroke="#ffa860" stroke-opacity="0.6"/>
<path d="M196.1 616V661" stroke="#ffa860" stroke-opacity="0.6"/>
<path d="M198 616V661" stroke="#ffa860" stroke-opacity="0.6"/>
<path d="M316.4 515.7V604.8" stroke="#ffa860" stroke-opacity="0.6"/>
<path d="M434.3 562.1V593.7" stroke="#ffa860" stroke-opacity="0.6"/>
<path d="M808.6 551V576" stroke="#ffa860" stroke-opacity="0.6"/>
<path d="M955.8 551V580.7" stroke="#ffa860" stroke-opacity="0.6"/>
<path d="M959.6 551V580.7" stroke="#ffa860" stroke-opacity="0.6"/>
<path d="M965.1 552.8V586.3" stroke="#ffa860" stroke-opacity="0.6"/>
<path d="M967.9 550V586.3" stroke="#ffa860" stroke-opacity="0.6"/>
<path d="M971.6 556.5V590" stroke="#ffa860" stroke-opacity="0.6"/>
<rect x="68.5" y="460.5" width="1069.0" height="201.0" fill="none" stroke="#646464" stroke-width="1"/>
<path d="M68.5 460.5v10M68.5 661.5v-10M87.5 460.5v5M87.5 661.5v-5M106.5 460.5v5M106.5 661.5v-5M125.5 460.5v5M125.5 661.5v-5M144.5 460.5v5M144.5 661.5v-5M164.5 460.5v5M164.5 661.5v-5M183.5 460.5v5M183.5 661.5v-5M202.5 460.5v5M202.5 661.5v-5M221.5 460.5v10M221.5 661.5v-10M240.5 460.5v5M240.5 661.5v-5M259.5 460.5v5M259.5 661.5v-5M278.5 460.5v5M278.5 661.5v-5M297.5 460.5v5M297.5 661.5v-5M316.5 460.5v5M316.5 661.5v-5M335.5 460.5v5M335.5 661.5v-5M354.5 460.5v5M354.5 661.5v-5M374.5 460.5v10M374.5 661.5v-10M393.5 460.5v5M393.5 661.5v-5M412.5 460.5v5M412.5 661.5v-5M431.5 460.5v5M431.5 661.5v-5M450.5 460.5v5M450.5 661.5v-5M469.5 460.5v5M469.5 661.5v-5M488.5 460.5v5M488.5 661.5v-5M507.5 460.5v5M507.5 661.5v-5M526.5 460.5v10M526.5 661.5v-10M546.5 460.5v5M546.5 661.5v-5M565.5 460.5v5M565.5 661.5v-5M584.5 460.5v5M584.5 661.5v-5M603.5 460.5v5M603.5 661.5v-5M622.5 460.5v5M622.5 661.5v-5M641.5 460.5v5M641.5 661.5v-5M660.5 460.5v5M660.5 661.5v-5M679.5 460.5v10M679.5 661.5v-10M698.5 460.5v5M698.5 661.5v-5M717.5 460.5v5M717.5 661.5v-5M736.5 460.5v5M736.5 661.5v-5M756.5 460.5v5M756.5 661.5v-5M775.5 460.5v5M775.5 661.5v-5M794.5 460.5v5M794.5 661.5v-5M813.5 460.5v5M813.5 661.5v-5M832.5 460.5v10M832.5 661.5v-10M851.5 460.5v5M851.5 661.5v-5M870.5 460.5v5M870.5 661.5v-5M889.5 460.5v5M889.5 661.5v-5M908.5 460.5v5M908.5 661.5v-5M928.5 460.5v5M928.5 661.5v-5M947.5 460.5v5M947.5 661.5v-5M966.5 460.5v5M966.5 661.5v-5M985.5 460.5v10M985.5 661.5v-10M1004.5 460.5v5M1004.5 661.5v-5M1023.5 460.5v5M1023.5 661.5v-5M1042.5 460.5v5M1042.5 661.5v-5M1061.5 460.5v5M1061.5 661.5v-5M1080.5 460.5v5M1080.5 661.5v-5M1099.5 460.5v5M1099.5 661.5v-5M1118.5 460.5v5M1118.5 661.5v-5M1138.5 460.5v10M1138.5 661.5v-10" stroke="#646464" stroke-width="1" fill="none"/>
<path d="M68.5 646.5h4M1137.5 646.5h-4M68.5 637.5h4M1137.5 637.5h-4M68.5 631.5h4M1137.5 631.5h-4M68.5 626.5h4M1137.5 626.5h-4M68.5 622.5h4M1137.5 622.5h-4M68.5 619.5h4M1137.5 619.5h-4M68.5 616.5h4M1137.5 616.5h-4M68.5 613.5h4M1137.5 613.5h-4M68.5 611.5h4M1137.5 611.5h-4M68.5 596.5h4M1137.5 596.5h-4M68.5 587.5h4M1137.5 587.5h-4M68.5 580.5h4M1137.5 580.5h-4M68.5 576.5h4M1137.5 576.5h-4M68.5 572.5h4M1137.5 572.5h-4M68.5 568.5h4M1137.5 568.5h-4M68.5 565.5h4M1137.5 565.5h-4M68.5 563.5h4M1137.5 563.5h-4M68.5 560.5h4M1137.5 560.5h-4M68.5 545.5h4M1137.5 545.5h-4M68.5 537.5h4M1137.5 537.5h-4M68.5 530.5h4M1137.5 530.5h-4M68.5 525.5h4M1137.5 525.5h-4M68.5 521.5h4M1137.5 521.5h-4M68.5 518.5h4M1137.5 518.5h-4M68.5 515.5h4M1137.5 515.5h-4M68.5 513.5h4M1137.5 513.5h-4M68.5 510.5h4M1137.5 510.5h-4M68.5 495.5h4M1137.5 495.5h-4M68.5 486.5h4M1137.5 486.5h-4M68.5 480.5h4M1137.5 480.5h-4M68.5 475.5h4M1137.5 475.5h-4M68.5 471.5h4M1137.5 471.5h-4M68.5 468.5h4M1137.5 468.5h-4M68.5 465.5h4M1137.5 465.5h-4M68.5 462.5h4M1137.5 462.5h-4" stroke="#646464" stroke-width="1" fill="none"/>
<path d="M68.5 460.5h6M1137.5 460.5h-6M68.5 510.5h6M1137.5 510.5h-6M68.5 560.5h6M1137.5 560.5h-6M68.5 611.5h6M1137.5 611.5h-6" stroke="#646464" stroke-width="1" fill="none"/>
<text x="38.40" y="465.1" font-size="14" textLength="27.00" lengthAdjust="spacingAndGlyphs" fill="#5a5a5a">1000</text>
<text x="45.15" y="515.35" font-size="14" textLength="20.25" lengthAdjust="spacingAndGlyphs" fill="#5a5a5a">100</text>
<text x="51.90" y="565.6" font-size="14" textLength="13.50" lengthAdjust="spacingAndGlyphs" fill="#5a5a5a">10</text>
<text x="58.65" y="615.85" font-size="14" textLength="6.75" lengthAdjust="spacingAndGlyphs" fill="#5a5a5a">1</text>
<path d="M68.5 706.5H1137.5M68.5 739.5H1137.5M68.5 772.5H1137.5M68.5 806.5H1137.5M68.5 840.5H1137.5" stroke="#f3f3f3" stroke-width="1" fill="none"/>
<path d="M68 717.3V747.8M68.9 720.2V733.2M69.9 706.1V747.5M70.8 716.3V757.1M71.7 700.4V744.2M72.6 713.2V754.4M73.6 714.8V737.3M74.5 722.8V752.3M75.4 729.6V751.5M76.4 717.1V759.6M77.3 711.5V726.6M78.2 709.2V738.7M79.1 694.9V721.6M80.1 706.4V737.6M81 688.3V717.2M81.9 721.7V749.2M82.9 720.3V747.2M83.8 717.1V733.1M84.7 719.9V739.3M85.6 710.6V726.4M86.6 702.2V741.4M87.5 711V730.8M88.4 704.2V717.9M89.4 719.4V742.9M90.3 719.4V737.2M91.2 716.7V744.5M92.1 711.1V728.3M93.1 709V723M94 721.1V746.1M94.9 695.7V728.2M95.8 691.8V711.5M96.8 695.8V725.1M97.7 704.4V728.6M98.6 685.8V698.8M99.6 709.1V742.1M100.5 706.3V727.5M101.4 710.1V731.1M102.3 706.7V723.4M103.3 715.6V739.2M104.2 729V750.6M105.1 710.1V737.1M106.1 710.3V729.9M107 708.8V735.4M107.9 708.7V724.2M108.8 713.2V729.8M109.8 700.9V719.6M110.7 699V732.4M111.6 709.7V729.4M112.6 688.4V726.4M113.5 699.1V734.5M120.9 722.5V742M121.8 703.4V722.3M122.8 698.8V719.3M123.7 709.5V722.5M124.6 715.8V725.6M125.6 706.3V735.7M126.5 705.3V736.2M127.4 712.4V732.3M128.3 707.7V744.6M129.3 717V738.1M130.2 731.3V748.7M131.1 696.4V728M132.1 712.5V729.4M133 713.9V743.5M133.9 698.7V712.5M134.8 691.4V724.1M135.8 706.8V717.2M136.7 684V708.3M137.6 684.9V712.8M138.6 692.2V709M139.5 683.6V719.6M140.4 690.2V717.7M141.3 703.7V724.7M142.3 717.6V730.9M143.2 707.4V737M144.1 715.3V734.9M145.1 712.9V737.1M146 716.2V726.9M146.9 707.5V721.3M147.8 715V741.9M148.8 711.1V735.4M149.7 700.6V719.1M150.6 690V716.9M151.5 684.5V723.4M152.5 698.5V719.8M153.4 693.8V722M154.3 691.6V718.5M155.3 683.3V708.5M156.2 673V704.7M157.1 685.8V705.2M158 685.9V719.8M159 704.3V721M159.9 702.6V730M160.8 676V711M164.5 697.6V727.3M165.6 722.5V735.7M166.7 711.9V730.2M167.7 720.2V743.2M168.8 699V747.4M169.9 707.5V730.2M170.9 693.3V717.8M172 692.5V712.3M173 700.2V738.5M174.1 699.5V732.3M175.2 704.2V720.6M176.2 703V749.8M177.3 714.9V759.5M178.3 717V737.8M179.4 703.8V725.5M180.5 725.9V737.2M181.5 694.4V727.3M182.6 712.5V741.9M183.6 705.5V721.2M184.7 702.8V725M185.8 702.7V727.1M186.8 689.6V716.8M187.9 709.6V722.2M188.9 701.8V733.1M190 690.4V719.1M191.1 703.4V731.9M192.1 691.6V721.3M193.2 697.5V708.2M194.3 685.5V710.3M195.2 687.3V715.2M196.1 687V719.4M197 680.8V706.5M198 692.1V715.2M198.9 685.6V701.9M199.8 691.1V723.9M200.8 698.9V721.1M201.7 700.3V731.3M202.6 691.9V729.8M203.5 684.2V712.4M204.5 686.6V709.2M205.4 693V708.8M206.3 698.6V717.9M207.2 697.2V727.3M208.2 711.1V729.3M209.1 684.5V723M210 710.2V724.9M211 705.4V737.5M211.9 709.4V728.5M212.8 716.6V766.8M213.7 709.9V727.9M214.7 700V721.2M215.6 698.7V739.7M216.5 720.3V762.4M217.5 724.3V743.5M218.4 728.7V734.9M219.3 734.2V746.2M220.2 732.2V743.8M221.2 731.1V739.6M222.1 729V740.3M223 735.3V756.1M224 733.3V753.1M224.9 731.4V747M225.8 738.8V749.1M226.7 740.1V760.5M227.7 741.2V750.6M228.6 738.3V749.9M229.5 736.7V744.9M230.5 734.8V746.6M231.4 733.5V755.1M232.3 743.9V751.2M233.2 738.5V757.3M234.2 737.5V750.2M235.1 740V748.7M236 741.7V748.7M237 739.4V746.4M237.9 739.5V747.8M238.8 734.7V750.8M239.7 737.5V748.5M240.7 731.8V744.1M241.6 728.3V744M242.5 728.8V743.7M243.5 737.3V745.5M244.4 740.9V745.9M245.3 738V745.5M246.2 741.6V753.7M247.2 745.4V754M248.1 746.6V764.8M249 745V751M250 743.8V752.8M250.9 735.4V756.7M251.8 740V751.2M252.7 738.6V747.2M253.7 734.9V749.4M254.6 729.8V740.1M255.5 730.3V735.5M256.5 735.8V752.1M257.4 731.1V738.5M258.3 736V747.9M259.2 733.4V759.3M260.2 732.8V753.6M261.1 734V743.4M262 737.7V753.8M262.9 736.2V753.6M263.9 736.2V744.2M264.8 737.8V747.3M265.7 726.9V736.7M266.7 756.2V767.6M267.6 764.4V771.8M268.5 758.3V777.6M269.4 755.1V767.1M270.4 762.7V769.3M271.3 761.7V770.4M272.2 753.8V765.5M273.2 750.3V769.1M274.1 751.2V765.9M275 758V763.2M275.9 748.8V759M276.9 748.1V753M277.8 744.6V765.2M278.8 750.3V762.6M279.9 749.5V757.6M280.9 757.4V763.1M282 750.3V761M283 747.5V757.5M283 754.5V772.6M283.9 752.4V761.7M284.9 752.8V771.2M285.8 754.5V758.2M286.7 751.1V759.4M287.6 757.5V765.2M288.6 753.6V777.6M289.5 755.9V776.2M290.4 756.1V773.7M291.4 752.7V760.7M292.3 750.6V760.4M293.2 746.4V764.2M294.1 744.7V751.2M295.1 751.5V761.7M296 748V755.4M296.9 747.4V757.2M297.9 745.1V757.5M298.8 754.5V763M299.7 754V760.3M300.6 754.3V760.2M301.6 753.9V760.4M302.5 755.9V763.7M303.4 754.5V759.6M304.4 757.1V760.8M305.3 760.5V765.1M306.2 761.3V767.6M307.1 760.5V765.8M308.1 759.9V765.4M309 761.1V769.6M309.9 763.1V770.4M310.8 760V768.1M311.8 760.7V764.5M312.7 762.7V770M313.6 758.7V766.9M314.6 759.9V763.2M315.5 758.5V764.9M316.4 758.3V761.9M317.3 757.2V764.8M318.3 756.8V764.8M319.2 760.2V765M320.1 737.7V742.3M321.1 740V745.6M322 766.6V770.8M323.1 760V768.1M324.1 762.4V768.8M325.2 768.1V770.7M326.2 766.1V770.1M327.3 763.8V769M328.4 763.8V773M329.4 764.8V769.6M330.4 768.5V775.1M331.5 765.4V770.8M332.5 768.2V773.3M333.5 766.1V772.6M334.6 765.7V771.6M335.6 764.5V770.1M336.6 765.7V772M337.7 766.5V773.8M338.7 767.5V771.3M339.7 763.6V772.1M340.8 767.1V771.2M341.8 766.1V770.9M342.8 772.9V777.7M343.9 767.8V774.9M344.9 767.9V776.5M345.9 773.6V777.8M347 772.3V777.9M348 774V778.2M348.9 773V777.9M349.8 770V777.2M350.8 766.3V772.9M351.7 770.1V778.3M352.6 770.9V777.4M353.6 769.1V776.2M354.5 768V774.1M355.4 770.1V778.5M356.3 771.7V778.1M357.3 775.7V780M358.2 768.9V775.9M359.1 770.7V774.2M360.1 769.6V778.1M361 770.4V777.6M361.9 771.2V776.9M362.8 774.7V781M363.8 774V780.7M364.7 778.5V782M365.6 775.1V781.7M366.5 773.3V779.8M367.5 775V779.9M368.4 772.9V778.2M369.3 773.8V781.6M370.3 773.2V777.5M371.7 764.9V770.8M373 776.1V780.2M374 777V780.4M374.9 779V785.8M375.8 777.5V781.5M376.9 781.3V786.8M377.9 778.9V781.9M378.9 779V784.8M380 782.4V786.9M381 781.4V784.3M382 780.2V784.9M383.1 783V786.9M384.1 782.8V789.1M385.1 779.6V784.2M386 782V787.3M387 782.6V785.4M387.9 782.2V785.2M388.8 779.8V786.1M389.8 780.8V785.9M390.7 780.9V784.9M391.6 782.6V786.7M392.5 780.3V784.2M393.5 784.4V786.3M394.4 785.1V788.7M395.4 782.6V786M396.5 782.6V788.3M397.5 783.1V785.3M398.5 780.4V785.5M399.6 783V787.7M400.6 784.2V787.8M401.6 783.3V786.9M402.7 783.5V787M403.7 781.7V786.1M404.6 781.6V786.4M405.5 783.1V786.3M406.5 781.3V785.8M407.4 780V784.5M408.3 780.5V784.2M409.3 782.8V787.2M410.2 783.9V786.7M411.1 783.7V787.2M412 784.4V787.7M413 781.7V788.3M414 785.5V788M415.1 782.7V789.3M416.2 786.6V791.4M417.3 786.4V789.9M418.4 787.5V790.6M419.5 781.7V787.1M420.4 777V782.2M421.4 780.4V784.7M422.4 779.2V784.7M423.4 780.5V784.3M424.4 777.6V781.6M425.5 778.7V782.8M426.5 780.4V784.5M427.5 777.4V783.1M428.5 782.7V786.9M429.5 780.9V784.1M430.5 779.9V784.8M431.5 779.7V787.3M432.5 790.4V793.8M433.5 792V794.9M434.6 789.7V794.2M435.6 793V797.3M436.6 790.4V794.5M437.7 791.6V794.1M438.7 789.3V797.9M439.8 792V796.6M440.8 793.9V796.2M441.8 791.5V796M442.9 792.1V796.1M443.9 792.4V797.2M444.9 791.5V797.1M446 791.3V797.6M447 791.8V795.5M448 795.5V798.9M449.1 792.5V796.4M450.1 792.4V795.9M451.1 789.6V796.7M452.2 791.5V796M453.2 793.8V797.3M454.2 791.7V796.5M455.3 795.7V798.4M456.3 793.3V796.9M457.3 793.4V797M458.4 794.8V800.2M459.4 794.9V799.1M460.4 793.3V798.4M461.4 796.5V800M462.5 795.4V798.9M463.5 796.2V800.2M464.5 796.3V799.2M465.6 798.5V801.3M466.6 799.1V801.5M467.6 797.5V799.8M468.7 796.5V799.4M469.6 790.1V797.2M470.5 791.2V796.5M471.6 795.1V797.6M472.6 792.8V797M473.7 796.5V798.1M474.8 796.6V798.4M475.8 796.7V800.4M476.9 798.1V801.9M477.9 795.7V800.7M478.9 798V800.5M479.8 798.1V802.6M480.7 797.7V801.6M481.7 797.6V799.6M482.6 798.7V800.4M483.5 797.8V801.2M484.4 797.1V802.8M485.4 799.9V803.5M486.3 800.4V803.1M487.2 800.4V806M488.2 803.9V805.9M489.1 800.9V805.2M490 803.4V806.3M490.9 803.7V807.1M492 800.8V805.2M493 803.6V807.1M494 805.4V807.8M495 804.1V807M496 801.6V807.1M497 804V809.7M498 804.4V807.8M498 806.4V808.3M498.9 807.4V809.8M499.9 807V810.9M500.8 808.1V811.3M501.7 806.9V812.3M502.6 808.2V812.6M503.6 810.8V814.6M504.5 812.6V814.7M505.4 810.8V812.2M506.4 807.7V812.8M507.3 809.4V814M508.2 807.8V813.2M509.1 809.1V811.7M510.2 809.4V811.2M511.3 808.5V811.5M512.3 807.6V812.5M513.4 809.5V812.5M514.4 808.8V810.3M515.5 809.1V813.5M516.6 808.7V812.2M517.6 809.1V811.8M518.6 808.8V813.4M519.7 808.6V810.6M520.7 808.5V812.9M521.7 809.9V811M522.8 806.9V810.6M523.8 808.2V810.3M524.8 807.9V812.4M525.8 805.2V810.3M526.9 810.1V814.8M527.9 808.7V813.6M528.9 807.9V811M530 810.1V812.5M531 808.1V811.7M532 808.6V811M533.1 807.4V811.6M534.1 807.8V810.2M535.1 806.7V809.5M536.1 808.7V811.3M537 809.2V814.2M537.9 812.5V815.5M538.8 814.3V817.3M539.8 815V816.9M540.7 815.1V818.9M541.6 814.1V819M542.6 817.7V820.2M543.5 814.1V817.3M544.4 813.8V817.5M545.4 813.2V816.8M546.5 813.3V815.4M547.5 814.8V816.3M548.5 813.6V816.1M549.6 812.6V818.2M550.6 813.1V815.3M551.6 814.4V817.9M552.7 813.4V815.6M553.7 814.8V816.2M554.6 809.6V814.6M555.6 811.2V813.8M556.5 807.9V810.2M557.4 812.7V816.1M558.3 817.9V822.6M559.3 816.8V819.7M560.2 817.5V820.8M561.1 819.1V822.6M562.1 819.2V822.1M563 820V825.8M564 818.8V823.3M565.1 820.1V822.7M566.2 821V823.6M567.2 820.6V824.9M568.3 820.4V822.7M569.3 820.6V823.7M570.4 821.8V823.7M571.3 822.8V824.1M572.3 821.4V824.7M572.3 773.6V778.1M573.2 770.1V775.5M574.1 773.2V776.4M575.1 772.5V775.8M576 773.1V775.6M577.5 786.2V789.7M578.8 771.9V776.6M579.7 774.9V777.3M580.6 774.2V775.8M581.5 771.5V776.9M582.5 773.2V776.6M583.4 772.8V776.6M584.3 773.5V776.5M584.3 825.6V827.5M585.4 824.6V828.7M586.5 824.5V826.3M587.6 819.7V825.3M588.7 825.4V829.9M589.8 824.3V828.1M590.8 822.6V826.8M591.9 825.1V828M592.9 825.1V827.4M593.9 823.8V827.2M595 824.5V826.9M596 823.3V826.2M597 823.2V827.1M598.1 825V829.5M599.1 824.3V826.3M600.1 818.8V825M601.1 822.3V829.5M602.2 821.5V830M603.2 814.9V822.7M604.2 823.4V826.7M605.3 824.2V831.7M606.3 824.5V828M607.3 825.6V829.5M608.4 826.7V830.8M609.4 821V826.5M610.3 823.6V829M611.3 824.6V832.5M612.2 822.2V828.3M613.1 822.6V828.4M614 819.3V826.8M615 826.5V830.3M615.9 824.8V829M616.8 827.7V830.9M617.8 826.7V832.7M618.7 829.7V835.6M619.6 829.9V836.7M620.5 830.4V835.7M621.5 831.2V837.1M622.4 832.6V837.6M623.3 833.2V838.7M624.3 832V838.3M625.2 834.5V839.4M626.1 830.4V837.2M627 831.7V839M628 831.9V836.9M628.9 831.7V840.5M629.8 836V841.2M630.8 836.8V843.7M631.7 842.3V848.6M632.6 841.7V844.9M633.5 839V847.3M634.5 839.7V846.1M635.4 838.9V844.6M636.3 836.5V842.5M637.2 839.7V842.2M638.2 835.9V843.9M639.1 838.5V844.9M640 839.8V843.4M641 838.7V841.9M641.9 840.1V844.9M642.8 838.2V842.8M643.7 838.6V843.2M644.7 837.6V843.2M645.6 834.8V843.9M646.5 838.9V843.9M647.5 835V839.8M648.4 833.3V838M649.3 834.7V842.1M650.2 833.3V839.4M651.2 836.9V840.6M652.1 840.1V844.1M653 835.7V842.4M654 839.2V843M654.9 839.2V844.8M655.8 837.5V844.6M656.7 843.4V848.4M657.7 836V842.3M658.6 836.7V843.6M659.5 838.5V843.5M660.5 838.1V843.5M661.4 834.5V840.1M662.3 831.7V838.6M663.2 826.7V832.2M664.2 823.8V831.6M665.1 826V829.9M666 826.9V829.9M667 824.6V828.8M667.9 824V828.9M668.8 835V839.4M669.7 834.1V838.3M670.7 829.3V837M671.6 830.6V835.2M672.5 832.6V838.6M673.5 833.1V837.1M674.4 833.9V837.5M675.3 828.4V833.7M676.2 832.6V837.9M677.2 828.5V834M678.1 828.6V835M679 828.7V833.1M680 829.9V834.3M680.9 825.6V834.1M681.8 825.1V830.8M682.7 825.7V829.2M683.7 830.7V837.1M684.6 830.9V838.5M685.5 831.9V836.8M686.6 830.6V835.8M687.6 832.1V837.9M688.7 830.5V835.6M689.8 832.4V837.2M690.8 833.6V836.1M691.9 832.4V837.7M692.9 835.2V841.1M696.7 832.5V840.6M705.9 836.6V839.7M707.4 800.9V804.3M708.2 804.9V807.8M708.7 838.6V844.7M739 834.6V841.4M739.9 839V843.3M740.8 838.4V842.3M741.8 839.3V842.5M742.7 839.4V843.7M743.6 837.3V842M744.6 841.7V843.3M745.5 841V848M746.4 837.9V841.2M747.3 838.5V840.8M748.3 832.2V837.7M749.2 834.8V837.3M750.1 834.6V840.7M751.2 836.6V840.2M752.2 837.7V841.3M753.2 835.3V838.2M754.3 835.7V840.7M755.3 836.1V839.6M756.3 832.8V839M757.4 836.5V840.1M758.4 835.8V837.9M759.4 835.2V837.5M760.3 834.4V837.8M761.3 834.9V837.7M762.2 831.4V835.2M763.1 834.2V840.2M764.1 835V838.4M765 837.4V840.4M765.9 835.3V839M766.8 837V842M767.9 838.4V843.3M768.9 835.4V841.4M769.9 837.9V843.5M771 837.4V840.7M772 834.2V840.5M773 837.2V841.7M774.1 837.6V843.1M775.1 837.2V841M776.1 837.3V840M777.1 837.4V840M778 835.7V841.1M778.9 833.8V840.6M779.8 836.2V840.8M780.8 837.2V842M781.7 838.8V842.3M782.6 837.4V841M783.6 839.8V843.3M784.6 836.7V839.1M785.7 836.3V841.7M786.7 838.6V841.8M787.8 835.5V840.5M788.9 836.2V840.8M789.9 835.2V839M791 835.6V838.7M791.9 835.6V840.8M792.8 837.3V841.6M793.8 839.4V841.6M794.7 837.9V841.4M795.7 839.2V844.7M796.7 836.3V842.6M797.7 839.1V841.4M798.7 835.8V841.2M799.8 839V841.9M800.8 836.3V840M801.8 838V841.7M802.8 834.3V841.5M803.8 837V844.1M804.8 839.3V843.7M805.8 837.5V840.4M806.8 835.4V839M807.7 837.5V841.8M808.6 837.9V842M809.5 836.3V841.4M810.5 836.6V840.8M811.4 836.2V838.9M812.3 834.5V840.7M813.3 834.4V838.2M814.3 834V837.3M815.4 833.5V838.8M816.4 835.1V838M817.5 837.6V841.3M818.6 833.8V838.9M819.6 835.3V839.8M820.7 837.1V839.5M821.6 835.5V840.2M822.5 838.8V842.7M823.5 838.5V842.2M824.4 838.8V841.8M825.4 840.4V843.4M826.5 838.4V843M827.5 838.7V843.3M828.5 839.6V843.8M829.6 838.4V842.5M830.6 837.9V843M831.6 840.2V843.8M832.7 839.5V843.1M833.7 839.4V844.8M834.7 839.8V843.4M835.7 837.5V841.5M836.8 839.8V845.6M837.8 841.4V843.3M838.8 840.2V846.1M839.9 840.1V842.3M840.9 840.6V843.8M841.9 841.9V845.3M843 838.5V842M844 843.2V848.1M845 842.5V845.2M846.1 842V848.1M847.1 842.5V844.4M848.1 842.4V845.3M849.2 843V845.9M850.2 845V847.4M851.2 844.9V847M852.2 842.8V845.9M853.3 844.3V848.8M854.3 844.9V847M855.3 843.8V848.1M856.4 842.2V847M857.4 841.7V848.5M858.4 844V847.7M859.5 843.6V847.7M860.5 843.7V846.1M861.5 845.4V848.1M862.6 842.7V846.2M863.6 845.2V848.2M864.6 845.2V847.9M865.7 843.6V847.3M866.7 844.1V846M867.7 842.9V846M868.8 845.3V849.1M869.8 843.6V846.9M870.8 844.1V848M871.9 845V847.3M872.9 843.4V847M874 844.5V847.2M875.1 844.1V845.3M876.1 843.1V845.8M877.2 842.5V846.8M878.2 843.5V847.6M882.9 840.4V843.1M883.9 842.4V845.2M885 840.4V843.7M886 839.7V844.1M887.1 840.6V845.3M888.1 839.6V844M889.2 838.6V843M890.2 841.3V843.5M891.2 841.5V843.4M892.3 838.9V843.8M893.4 841.1V844.4M894.4 841.5V845.2M895.5 841.8V842.9M896.5 842.9V845.1M897.6 841.2V843.1M898.7 840.7V846.1M899.7 843V844.3M900.7 844.5V850.9M901.8 838.6V846M902.8 836.2V847.4M903.8 840.9V845M904.9 834.8V842.8M905.9 834.6V842.2M906.9 832.5V839.3M907.9 832.9V839.9M908.9 835V841.7M909.8 835.6V844.5M910.7 837.7V845.8M911.8 841.4V850.6M912.9 836.2V843.9M914 838.2V846.9M915.1 841.3V849.3M916.2 839.9V844.6M917.2 844.9V850.8M918.2 837.6V846.6M919.2 839.2V847.4M920.2 839.8V843.1M921.1 840.4V844.3M922.1 838.1V845.8M923.1 835.1V846.9M924.1 840.4V847.3M925.1 834.6V842.3M926 837.7V843.9M927 835.9V843M928 834.2V842.5M928 839.2V842.9M928.9 834.4V843M929.9 831.1V840M930.8 835.9V841.8M931.7 840V846.1M932.6 834.2V842.7M933.6 833.9V839.2M934.5 830.9V836.6M935.4 830V838.8M936.4 834.9V839.5M937.3 837.7V842.5M938.2 832V836.1M939.1 835.3V842.4M940.2 835.1V840.8M941.3 833.3V841.4M942.3 833.8V838.9M943.4 827.2V834.2M944.4 832V840.8M945.5 831.5V837.3M946.6 834.2V843.6M947.5 830.8V835.7M948.4 827.8V832.3M949.4 823V830.8M950.3 827.1V832.6M951.2 827.4V833.5M952.1 825.9V831.6M953.1 830V835.5M954 831.1V841.3M955.1 832V837.3M956.1 829.2V839M957.2 827.6V835.7M958.2 833.8V840.1M959.3 832.2V838M960.4 833.3V838.2M961.4 827.6V834.9M962.5 830.3V833.4M963.5 832.3V836.4M964.6 829.6V838.4M965.7 834.6V841.4M966.7 833.5V841.8M967.8 833.3V837.9M968.8 835.1V840.5M969.8 832.4V843.4M970.7 830.3V838.2M971.6 832.8V839.1M972.6 832.6V838.1M973.5 829.6V833.9M974.4 828.6V836.8M975.3 832.7V836.9M976.3 828.2V835.9M977.2 828.6V835.6M978.1 834.1V840.7M979.1 834.1V839.2M980 828.9V836.6M980.9 833.1V838.6M981.8 835.4V842M982.8 833.3V840.6M983.7 836.2V844.8M984.6 833.5V838.8M985.6 841.6V848.9M986.5 835.6V838.8M987.4 832.9V839.7M988.3 833.8V841.7M989.3 831.3V837.8M990.2 834.7V841.2M991.1 829.7V837M992.2 833.1V841.9M993.2 830.6V842.1M994.3 835.7V840.5M995.4 835.8V842.6M996.4 838V846.8M997.5 835.5V843M998.6 839.6V848.5M999.6 835.6V840.3M1000.7 840V843.1M1001.7 839V843.3M1002.8 837.1V842.2M1003.9 837.3V843.3M1004.9 839.2V840.9M1006 837.8V844.9M1006.9 835V838.3M1007.8 837.3V839.4M1008.8 832.2V836.9M1009.7 832.3V836.4M1010.6 835V837M1011.5 835V842.2M1012.5 837.6V843.8M1013.4 836.3V841.6M1014.3 836.4V840.8M1015.3 834.1V838.1M1016.2 833.7V836.8M1017.1 831.7V836.9M1018 829V835.9M1019 831.3V834.6M1019.9 831.7V835.5M1020.8 832.2V835.6M1021.8 832.1V835.7M1022.7 830.8V835.6M1023.6 830.6V836.4M1024.5 831.7V839.3M1025.5 829.5V836M1026.4 834.1V836.5M1027.3 831.5V836.5M1028.3 835.2V839.7M1029.2 831.8V836.9M1030.1 831V839.5M1031 832.6V838.6M1032 833V840M1032.9 836.3V841.1M1033.8 837.8V840.5M1034.8 837.2V840.6M1035.7 837.9V843.9M1036.6 834.3V838.6M1037.5 826.3V831.6M1038.5 826V830.3M1039.4 824.5V829.7M1040.4 823.5V825.4M1041.5 823.5V828M1042.5 823.9V828.1M1043.5 824.4V830.3M1044.6 821.2V826.3M1045.6 819V826.7M1046.6 824.2V829.4M1047.7 822.3V826.3M1048.7 824.1V827.4M1049.7 822.4V830.8M1050.8 819.9V825.1M1051.9 823.5V829M1052.9 822.4V826.6M1054 821.6V826.4M1055 820.7V825.3M1056.1 824.6V828.3M1057 825.6V832.8M1058 827.7V830.6M1058.9 825.8V829.8M1059.8 826.7V829.5M1060.8 826.7V831.7M1061.7 825.8V829.2M1062.6 822.8V827.7" stroke="#c9a0ff" stroke-opacity="0.5" stroke-width="1" fill="none"/>
<path d="M68 732.5L68.9 727.5L69.9 717.8L70.8 728.3L71.7 722.2L72.6 724.4L73.6 725.1L74.5 735.9L75.4 733.6L76.4 732.3L77.3 719.5L78.2 715.2L79.1 708.3L80.1 716.3L81 703.6L81.9 734.2L82.9 727.8L83.8 724.4L84.7 726.4L85.6 715.5L86.6 716.4L87.5 723L88.4 711.3L89.4 735.7L90.3 728.7L91.2 729.9L92.1 717.5L93.1 718.3L94 731.3L94.9 709.6L95.8 702.9L96.8 710L97.7 717.5L98.6 694.2L99.6 720.6L100.5 715.6L101.4 722.5L102.3 712.9L103.3 724.2L104.2 733.1L105.1 722.6L106.1 719.6L107 721.3L107.9 716.5L108.8 720.9L109.8 712.9L110.7 704.2L111.6 716.2L112.6 707.8L113.5 709.3M120.9 727.7L121.8 709L122.8 710.2L123.7 714L124.6 720.3L125.6 718.4L126.5 716.2L127.4 726.6L128.3 722.4L129.3 723.5L130.2 736.8L131.1 713L132.1 720.6L133 718L133.9 708L134.8 703.2L135.8 710.7L136.7 701.3L137.6 690.4L138.6 697.5L139.5 707.7L140.4 708.6L141.3 712.9L142.3 723.2L143.2 719.9L144.1 724.8L145.1 728.9L146 721.9L146.9 713.2L147.8 728.5L148.8 719.9L149.7 709.8L150.6 703.5L151.5 710.1L152.5 709L153.4 708.4L154.3 703.3L155.3 694L156.2 689.9L157.1 691L158 703.9L159 713.6L159.9 715.7L160.8 693.5M164.5 713.2L165.6 726.4L166.7 716.1L167.7 730.5L168.8 707.9L169.9 717.6L170.9 705.9L172 704.8L173 710.1L174.1 713.4L175.2 708.8L176.2 719.9L177.3 728.3L178.3 724.2L179.4 715.5L180.5 731.6L181.5 707.4L182.6 726.9L183.6 713.9L184.7 707.7L185.8 712.3L186.8 710.9L187.9 717.6L188.9 714.5L190 708L191.1 715.7L192.1 707.8L193.2 702.9L194.3 701.6L195.2 700.4L196.1 705.9L197 699.7L198 704.5L198.9 695.3L199.8 708.6L200.8 714.9L201.7 717.5L202.6 716.2L203.5 693.3L204.5 699.8L205.4 700.6L206.3 707.7L207.2 716.9L208.2 725.1L209.1 708.6L210 714.4L211 723.7L211.9 717.9L212.8 731.1L213.7 718.3L214.7 714L215.6 713L216.5 732.2L217.5 734.4L218.4 733.2L219.3 740.5L220.2 740.2L221.2 737.3L222.1 736.1L223 740.4L224 739.8L224.9 740.1L225.8 743.2L226.7 744.8L227.7 746.7L228.6 743.9L229.5 741.1L230.5 740.8L231.4 740.6L232.3 746.4L233.2 740.8L234.2 744L235.1 742.7L236 743.7L237 742.1L237.9 741.1L238.8 744.8L239.7 742.4L240.7 738.7L241.6 736.5L242.5 740.2L243.5 740.3L244.4 743.2L245.3 742.9L246.2 749.2L247.2 748.6L248.1 749.1L249 747.5L250 747.4L250.9 743.8L251.8 749.1L252.7 743.9L253.7 744.1L254.6 735.8L255.5 732.4L256.5 738.3L257.4 736.7L258.3 741.6L259.2 742.3L260.2 742.6L261.1 737.8L262 744.9L262.9 744.6L263.9 738.9L264.8 743.7L265.7 733.5L266.7 762.2L267.6 769.3L268.5 765.9L269.4 762.1L270.4 766.2L271.3 766.8L272.2 756.5L273.2 761.3L274.1 757.5L275 760L275.9 754.8L276.9 749.8L277.8 750.7L278.8 758.1L279.9 753.5L280.9 759.6L282 757.9L283 754.5L283 759.3L283.9 757.6L284.9 757.9L285.8 756.7L286.7 753.5L287.6 759.7L288.6 759.1L289.5 759.7L290.4 762L291.4 758.3L292.3 756.9L293.2 754L294.1 748.3L295.1 756.8L296 753.3L296.9 752.6L297.9 749.5L298.8 758.2L299.7 756.8L300.6 758L301.6 757.3L302.5 759.1L303.4 757.5L304.4 758.9L305.3 761.6L306.2 764.5L307.1 763.1L308.1 762.8L309 767.2L309.9 766.4L310.8 763.3L311.8 762.5L312.7 766.8L313.6 763.2L314.6 762.1L315.5 763.8L316.4 760.8L317.3 759.9L318.3 760.7L319.2 762.6L320.1 740.4L321.1 743.1L322 769.5L323.1 764.7L324.1 765.2L325.2 769.5L326.2 768.5L327.3 767.3L328.4 768.2L329.4 766.7L330.4 771.1L331.5 767.5L332.5 770.1L333.5 768.6L334.6 768.2L335.6 767.3L336.6 769.4L337.7 769.9L338.7 769L339.7 768.5L340.8 769.2L341.8 769.1L342.8 774.1L343.9 772L344.9 771.8L345.9 774.7L347 774.1L348 775.1L348.9 775.4L349.8 773.3L350.8 770.1L351.7 773.5L352.6 772.7L353.6 771.8L354.5 771.4L355.4 774.6L356.3 774.6L357.3 777.6L358.2 772.5L359.1 772.1L360.1 774.3L361 773.9L361.9 773.7L362.8 777.2L363.8 776.6L364.7 779.6L365.6 777.2L366.5 777.7L367.5 777.8L368.4 774.9L369.3 777.8L370.3 775.3L371.7 769.4L373 778.6L374 778.2L374.9 781.6L375.8 780.7L376.9 784.7L377.9 780.6L378.9 781.5L380 783.9L381 783.7L382 782.4L383.1 784.9L384.1 785L385.1 782.3L386 783.1L387 783.7L387.9 784.1L388.8 783.3L389.8 784L390.7 782.2L391.6 783.8L392.5 783L393.5 785.2L394.4 786.6L395.4 784.4L396.5 786.6L397.5 784.2L398.5 782.7L399.6 784.5L400.6 785.2L401.6 786.1L402.7 786L403.7 784L404.6 783.9L405.5 785L406.5 784L407.4 782.3L408.3 782.8L409.3 785.5L410.2 785.5L411.1 786.3L412 786.2L413 786.8L414 787.3L415.1 787.1L416.2 789.1L417.3 788.6L418.4 788.5L419.5 784.7L420.4 780.3L421.4 782.1L422.4 781L423.4 782L424.4 779.4L425.5 780.5L426.5 782.2L427.5 780.6L428.5 784.8L429.5 782.2L430.5 783L431.5 784.3L432.5 791.6L433.5 792.7L434.6 791.6L435.6 794.6L436.6 792.4L437.7 792.6L438.7 794.3L439.8 793.8L440.8 795.3L441.8 793.6L442.9 794.1L443.9 794.6L444.9 794.5L446 793.7L447 793.9L448 797.8L449.1 794.5L450.1 794.2L451.1 793.2L452.2 793.8L453.2 796.2L454.2 795.4L455.3 797.4L456.3 795.1L457.3 795.7L458.4 796.4L459.4 797.4L460.4 795.9L461.4 798.2L462.5 797.1L463.5 797.7L464.5 797.4L465.6 799.2L466.6 800.8L467.6 798.7L468.7 797.3L469.6 795.1L470.5 794.8L471.6 795.6L472.6 796.2L473.7 797L474.8 797L475.8 798.7L476.9 799L477.9 798.8L478.9 798.8L479.8 799.9L480.7 800L481.7 798.9L482.6 799.8L483.5 799.1L484.4 799.4L485.4 801.2L486.3 802.4L487.2 802.5L488.2 804.4L489.1 804.6L490 805.5L490.9 805.5L492 804.1L493 805L494 806.4L495 805.6L496 805.5L497 805.5L498 806.5L498 807.5L498.9 808.4L499.9 809.2L500.8 809.5L501.7 809.4L502.6 810.2L503.6 812.9L504.5 813.1L505.4 811.3L506.4 811L507.3 810.7L508.2 809.5L509.1 809.9L510.2 810.2L511.3 809.2L512.3 808.6L513.4 810.5L514.4 809.5L515.5 810.4L516.6 809.8L517.6 811.1L518.6 811.7L519.7 809.5L520.7 811L521.7 810.4L522.8 810.1L523.8 809.5L524.8 810.2L525.8 808.7L526.9 811.3L527.9 810.4L528.9 810.1L530 810.9L531 809.9L532 810.1L533.1 810.2L534.1 808.7L535.1 808.9L536.1 810.2L537 812.2L537.9 813.8L538.8 816.1L539.8 815.5L540.7 816.8L541.6 817.5L542.6 819.5L543.5 816.4L544.4 814.8L545.4 814.7L546.5 813.8L547.5 815.5L548.5 814.9L549.6 815.3L550.6 814.2L551.6 815L552.7 814.6L553.7 815.4L554.6 813.2L555.6 812.6L556.5 809.5L557.4 815.1L558.3 819.3L559.3 818.5L560.2 819.7L561.1 820.6L562.1 820.9L563 821.6L564 821.4L565.1 821.1L566.2 822.2L567.2 821.2L568.3 821.8L569.3 822.3L570.4 823L571.3 823.6L572.3 823.3M572.3 774.6L573.2 773.9L574.1 775.1L575.1 775.1L576 774.8L577.5 788L578.8 773.4L579.7 775.7L580.6 774.8L581.5 774.1L582.5 775.7L583.4 775.5L584.3 775M584.3 826.1L585.4 825.5L586.5 825.7L587.6 823.5L588.7 827L589.8 825.9L590.8 824.4L591.9 826.5L592.9 825.9L593.9 826.1L595 825.8L596 824.9L597 826L598.1 826.9L599.1 824.9L600.1 822.4L601.1 825.8L602.2 826.9L603.2 820.9L604.2 825.2L605.3 826.8L606.3 826.3L607.3 827.3L608.4 828L609.4 824.1L610.3 826.3L611.3 827.4L612.2 826L613.1 824.1L614 824.2L615 828.3L615.9 827.8L616.8 829.8L617.8 831.5L618.7 834L619.6 833.5L620.5 833.7L621.5 833.2L622.4 836.6L623.3 835.1L624.3 835.3L625.2 836L626.1 833.9L627 835.8L628 835.3L628.9 835.6L629.8 838.7L630.8 840.1L631.7 844.8L632.6 842.8L633.5 843.3L634.5 843.1L635.4 841.2L636.3 840.2L637.2 840.6L638.2 841.8L639.1 840.7L640 842.5L641 840.1L641.9 843.5L642.8 840.9L643.7 841.1L644.7 841.2L645.6 840L646.5 840.2L647.5 836.4L648.4 835.6L649.3 838.2L650.2 835.7L651.2 838.9L652.1 842.1L653 840.2L654 841.7L654.9 842.3L655.8 841.1L656.7 844.6L657.7 838.5L658.6 840.6L659.5 840.9L660.5 841.4L661.4 839L662.3 835L663.2 829.8L664.2 827.3L665.1 828.6L666 828.2L667 825.9L667.9 825.4L668.8 836.6L669.7 836.7L670.7 834.8L671.6 833.6L672.5 835.9L673.5 835.6L674.4 835.5L675.3 831.5L676.2 834.2L677.2 831.4L678.1 832.4L679 830L680 832.3L680.9 828.9L681.8 828.3L682.7 828.2L683.7 833.9L684.6 832.9L685.5 835.6L686.6 832.7L687.6 835.8L688.7 832.5L689.8 834.5L690.8 834.8L691.9 833.5L692.9 837.3M707.4 802.8L708.2 806.2M739 839.3L739.9 841L740.8 840.4L741.8 840.9L742.7 840.1L743.6 840.4L744.6 842.5L745.5 843.6L746.4 839.3L747.3 840L748.3 834.4L749.2 836L750.1 838.5L751.2 837.5L752.2 839.3L753.2 836.8L754.3 838.1L755.3 838.6L756.3 837.1L757.4 837.1L758.4 836.5L759.4 836.3L760.3 837L761.3 835.9L762.2 834.2L763.1 835.5L764.1 836.6L765 838.1L765.9 837.8L766.8 839.8L767.9 840.5L768.9 839.1L769.9 840.5L771 839L772 838.4L773 839.2L774.1 839.2L775.1 839L776.1 838.3L777.1 838.7L778 837.7L778.9 835.9L779.8 838.7L780.8 838.3L781.7 839.7L782.6 838.5L783.6 840.5L784.6 837.7L785.7 839.5L786.7 839.3L787.8 838.7L788.9 838.1L789.9 835.8L791 836.5L791.9 837.1L792.8 839L793.8 840.2L794.7 840.4L795.7 841.2L796.7 839.8L797.7 840.5L798.7 839.7L799.8 839.8L800.8 838.4L801.8 839.2L802.8 839.3L803.8 839.4L804.8 841.2L805.8 838.1L806.8 837.6L807.7 839.8L808.6 839L809.5 839.1L810.5 838.2L811.4 837.3L812.3 836.9L813.3 836L814.3 834.7L815.4 836.6L816.4 837L817.5 839.1L818.6 836.3L819.6 837.7L820.7 838.2L821.6 838.1L822.5 841.2L823.5 839.9L824.4 840.4L825.4 841.3L826.5 841L827.5 840.4L828.5 841.1L829.6 841L830.6 841.3L831.6 841L832.7 841.4L833.7 840.5L834.7 841.6L835.7 840.7L836.8 841.9L837.8 842.1L838.8 843L839.9 841.6L840.9 842.3L841.9 843.7L843 841.4L844 844.4L845 844.3L846.1 843.6L847.1 843.7L848.1 843.9L849.2 844.8L850.2 846.6L851.2 845.9L852.2 844.8L853.3 846.4L854.3 846.1L855.3 846.4L856.4 845.5L857.4 845.4L858.4 845.7L859.5 845.8L860.5 845.1L861.5 846.5L862.6 845.1L863.6 846.7L864.6 846.2L865.7 846L866.7 844.9L867.7 844.2L868.8 845.9L869.8 846.1L870.8 845.6L871.9 845.9L872.9 845.8L874 845.8L875.1 844.7L876.1 844.8L877.2 844.3L878.2 845.3M882.9 842.3L883.9 843.4L885 842.6L886 842.3L887.1 842.2L888.1 841.5L889.2 841.4L890.2 842.4L891.2 842.6L892.3 841L893.4 842.5L894.4 843.5L895.5 842.4L896.5 843.4L897.6 842.5L898.7 842.6L899.7 843.8L900.7 845.7L901.8 842.2L902.8 842.4L903.8 843L904.9 838.6L905.9 837.9L906.9 837.2L907.9 836L908.9 837.9L909.8 840.1L910.7 842L911.8 845.9L912.9 840.5L914 842.4L915.1 843.4L916.2 841.4L917.2 846.6L918.2 841.6L919.2 844.8L920.2 841.2L921.1 842.6L922.1 841.7L923.1 842.1L924.1 842.1L925.1 838.5L926 840.3L927 838.8L928 838.7L928 840.5L928.9 840.3L929.9 835.7L930.8 838.7L931.7 841.4L932.6 837.6L933.6 837.4L934.5 834.7L935.4 835.2L936.4 837L937.3 839.3L938.2 834.4L939.1 838.8L940.2 836.4L941.3 837.2L942.3 836.9L943.4 832.1L944.4 836.2L945.5 833.5L946.6 837.5L947.5 832.9L948.4 831.2L949.4 828.6L950.3 829.6L951.2 831.4L952.1 828.8L953.1 832.8L954 836.5L955.1 835.3L956.1 833.9L957.2 832.1L958.2 835.7L959.3 833.5L960.4 835L961.4 833.2L962.5 832L963.5 834.2L964.6 833.8L965.7 836.6L966.7 837.7L967.8 836.2L968.8 836.5L969.8 836.7L970.7 833.5L971.6 834.6L972.6 834.4L973.5 832.1L974.4 832.2L975.3 834.4L976.3 831.6L977.2 831.8L978.1 837.6L979.1 836.2L980 831.8L980.9 834.9L981.8 839.7L982.8 836.5L983.7 840.3L984.6 835.6L985.6 844.6L986.5 837.5L987.4 838L988.3 838L989.3 835.1L990.2 836.8L991.1 835.3L992.2 838.2L993.2 837.5L994.3 838.6L995.4 837.6L996.4 839.8L997.5 839.2L998.6 843.6L999.6 837.9L1000.7 841.2L1001.7 840.5L1002.8 841.2L1003.9 840.2L1004.9 840L1006 839.9L1006.9 837.4L1007.8 838.5L1008.8 835.2L1009.7 833.9L1010.6 836.1L1011.5 838.2L1012.5 839.7L1013.4 838.9L1014.3 838.5L1015.3 836.9L1016.2 836L1017.1 834L1018 834.1L1019 833L1019.9 833.1L1020.8 834.8L1021.8 832.8L1022.7 832.5L1023.6 834.8L1024.5 835L1025.5 834.1L1026.4 834.9L1027.3 835.4L1028.3 837.9L1029.2 834.7L1030.1 836.6L1031 835.6L1032 837.2L1032.9 838L1033.8 838.6L1034.8 839.1L1035.7 840.9L1036.6 836.3L1037.5 829.3L1038.5 828.6L1039.4 826L1040.4 824.6L1041.5 825.7L1042.5 825.7L1043.5 826.7L1044.6 823.9L1045.6 824.5L1046.6 826L1047.7 823.6L1048.7 825.3L1049.7 825.9L1050.8 822.9L1051.9 825.9L1052.9 824.6L1054 824.8L1055 823.8L1056.1 825.4L1057 828.1L1058 828.6L1058.9 828.8L1059.8 828L1060.8 828.8L1061.7 826.7L1062.6 825.1" stroke="#a050ff" stroke-opacity="0.35" stroke-width="1" fill="none" stroke-linejoin="round"/>
<path d="M67.2 732.5h1.5M68.2 727.5h1.5M69.1 717.8h1.5M70 728.3h1.5M71 722.2h1.5M71.9 724.4h1.5M72.8 725.1h1.5M73.7 735.9h1.5M74.7 733.6h1.5M75.6 732.3h1.5M76.5 719.5h1.5M77.5 715.2h1.5M78.4 708.3h1.5M79.3 716.3h1.5M80.2 703.6h1.5M81.2 734.2h1.5M82.1 727.8h1.5M83 724.4h1.5M84 726.4h1.5M84.9 715.5h1.5M85.8 716.4h1.5M86.7 723h1.5M87.7 711.3h1.5M88.6 735.7h1.5M89.5 728.7h1.5M90.5 729.9h1.5M91.4 717.5h1.5M92.3 718.3h1.5M93.2 731.3h1.5M94.2 709.6h1.5M95.1 702.9h1.5M96 710h1.5M97 717.5h1.5M97.9 694.2h1.5M98.8 720.6h1.5M99.7 715.6h1.5M100.7 722.5h1.5M101.6 712.9h1.5M102.5 724.2h1.5M103.5 733.1h1.5M104.4 722.6h1.5M105.3 719.6h1.5M106.2 721.3h1.5M107.2 716.5h1.5M108.1 720.9h1.5M109 712.9h1.5M110 704.2h1.5M110.9 716.2h1.5M111.8 707.8h1.5M112.7 709.3h1.5M120.2 727.7h1.5M121.1 709h1.5M122 710.2h1.5M122.9 714h1.5M123.9 720.3h1.5M124.8 718.4h1.5M125.7 716.2h1.5M126.7 726.6h1.5M127.6 722.4h1.5M128.5 723.5h1.5M129.4 736.8h1.5M130.4 713h1.5M131.3 720.6h1.5M132.2 718h1.5M133.2 708h1.5M134.1 703.2h1.5M135 710.7h1.5M135.9 701.3h1.5M136.9 690.4h1.5M137.8 697.5h1.5M138.7 707.7h1.5M139.7 708.6h1.5M140.6 712.9h1.5M141.5 723.2h1.5M142.4 719.9h1.5M143.4 724.8h1.5M144.3 728.9h1.5M145.2 721.9h1.5M146.2 713.2h1.5M147.1 728.5h1.5M148 719.9h1.5M148.9 709.8h1.5M149.9 703.5h1.5M150.8 710.1h1.5M151.7 709h1.5M152.7 708.4h1.5M153.6 703.3h1.5M154.5 694h1.5M155.4 689.9h1.5M156.4 691h1.5M157.3 703.9h1.5M158.2 713.6h1.5M159.2 715.7h1.5M160.1 693.5h1.5M163.8 713.2h1.5M164.9 726.4h1.5M165.9 716.1h1.5M167 730.5h1.5M168 707.9h1.5M169.1 717.6h1.5M170.2 705.9h1.5M171.2 704.8h1.5M172.3 710.1h1.5M173.3 713.4h1.5M174.4 708.8h1.5M175.5 719.9h1.5M176.5 728.3h1.5M177.6 724.2h1.5M178.6 715.5h1.5M179.7 731.6h1.5M180.8 707.4h1.5M181.8 726.9h1.5M182.9 713.9h1.5M184 707.7h1.5M185 712.3h1.5M186.1 710.9h1.5M187.1 717.6h1.5M188.2 714.5h1.5M189.3 708h1.5M190.3 715.7h1.5M191.4 707.8h1.5M192.4 702.9h1.5M193.5 701.6h1.5M194.4 700.4h1.5M195.4 705.9h1.5M196.3 699.7h1.5M197.2 704.5h1.5M198.1 695.3h1.5M199.1 708.6h1.5M200 714.9h1.5M200.9 717.5h1.5M201.9 716.2h1.5M202.8 693.3h1.5M203.7 699.8h1.5M204.6 700.6h1.5M205.6 707.7h1.5M206.5 716.9h1.5M207.4 725.1h1.5M208.4 708.6h1.5M209.3 714.4h1.5M210.2 723.7h1.5M211.1 717.9h1.5M212.1 731.1h1.5M213 718.3h1.5M213.9 714h1.5M214.9 713h1.5M215.8 732.2h1.5M216.7 734.4h1.5M217.6 733.2h1.5M218.6 740.5h1.5M219.5 740.2h1.5M220.4 737.3h1.5M221.4 736.1h1.5M222.3 740.4h1.5M223.2 739.8h1.5M224.1 740.1h1.5M225.1 743.2h1.5M226 744.8h1.5M226.9 746.7h1.5M227.9 743.9h1.5M228.8 741.1h1.5M229.7 740.8h1.5M230.6 740.6h1.5M231.6 746.4h1.5M232.5 740.8h1.5M233.4 744h1.5M234.3 742.7h1.5M235.3 743.7h1.5M236.2 742.1h1.5M237.1 741.1h1.5M238.1 744.8h1.5M239 742.4h1.5M239.9 738.7h1.5M240.8 736.5h1.5M241.8 740.2h1.5M242.7 740.3h1.5M243.6 743.2h1.5M244.6 742.9h1.5M245.5 749.2h1.5M246.4 748.6h1.5M247.3 749.1h1.5M248.3 747.5h1.5M249.2 747.4h1.5M250.1 743.8h1.5M251.1 749.1h1.5M252 743.9h1.5M252.9 744.1h1.5M253.8 735.8h1.5M254.8 732.4h1.5M255.7 738.3h1.5M256.6 736.7h1.5M257.6 741.6h1.5M258.5 742.3h1.5M259.4 742.6h1.5M260.3 737.8h1.5M261.3 744.9h1.5M262.2 744.6h1.5M263.1 738.9h1.5M264.1 743.7h1.5M265 733.5h1.5M265.9 762.2h1.5M266.8 769.3h1.5M267.8 765.9h1.5M268.7 762.1h1.5M269.6 766.2h1.5M270.6 766.8h1.5M271.5 756.5h1.5M272.4 761.3h1.5M273.3 757.5h1.5M274.3 760h1.5M275.2 754.8h1.5M276.1 749.8h1.5M277.1 750.7h1.5M278.1 758.1h1.5M279.1 753.5h1.5M280.2 759.6h1.5M281.2 757.9h1.5M282.3 754.5h1.5M282.2 759.3h1.5M283.2 757.6h1.5M284.1 757.9h1.5M285 756.7h1.5M286 753.5h1.5M286.9 759.7h1.5M287.8 759.1h1.5M288.7 759.7h1.5M289.7 762h1.5M290.6 758.3h1.5M291.5 756.9h1.5M292.5 754h1.5M293.4 748.3h1.5M294.3 756.8h1.5M295.2 753.3h1.5M296.2 752.6h1.5M297.1 749.5h1.5M298 758.2h1.5M299 756.8h1.5M299.9 758h1.5M300.8 757.3h1.5M301.7 759.1h1.5M302.7 757.5h1.5M303.6 758.9h1.5M304.5 761.6h1.5M305.5 764.5h1.5M306.4 763.1h1.5M307.3 762.8h1.5M308.2 767.2h1.5M309.2 766.4h1.5M310.1 763.3h1.5M311 762.5h1.5M312 766.8h1.5M312.9 763.2h1.5M313.8 762.1h1.5M314.7 763.8h1.5M315.7 760.8h1.5M316.6 759.9h1.5M317.5 760.7h1.5M318.5 762.6h1.5M319.4 740.4h1.5M320.3 743.1h1.5M321.2 769.5h1.5M322.3 764.7h1.5M323.4 765.2h1.5M324.4 769.5h1.5M325.5 768.5h1.5M326.5 767.3h1.5M327.6 768.2h1.5M328.7 766.7h1.5M329.7 771.1h1.5M330.7 767.5h1.5M331.8 770.1h1.5M332.8 768.6h1.5M333.8 768.2h1.5M334.9 767.3h1.5M335.9 769.4h1.5M336.9 769.9h1.5M337.9 769h1.5M339 768.5h1.5M340 769.2h1.5M341 769.1h1.5M342.1 774.1h1.5M343.1 772h1.5M344.1 771.8h1.5M345.2 774.7h1.5M346.2 774.1h1.5M347.2 775.1h1.5M348.2 775.4h1.5M349.1 773.3h1.5M350 770.1h1.5M350.9 773.5h1.5M351.9 772.7h1.5M352.8 771.8h1.5M353.7 771.4h1.5M354.7 774.6h1.5M355.6 774.6h1.5M356.5 777.6h1.5M357.4 772.5h1.5M358.4 772.1h1.5M359.3 774.3h1.5M360.2 773.9h1.5M361.2 773.7h1.5M362.1 777.2h1.5M363 776.6h1.5M363.9 779.6h1.5M364.9 777.2h1.5M365.8 777.7h1.5M366.7 777.8h1.5M367.7 774.9h1.5M368.6 777.8h1.5M369.5 775.3h1.5M371 769.4h1.5M372.3 778.6h1.5M373.2 778.2h1.5M374.2 781.6h1.5M375.1 780.7h1.5M376.1 784.7h1.5M377.1 780.6h1.5M378.2 781.5h1.5M379.2 783.9h1.5M380.2 783.7h1.5M381.3 782.4h1.5M382.3 784.9h1.5M383.3 785h1.5M384.4 782.3h1.5M385.3 783.1h1.5M386.2 783.7h1.5M387.2 784.1h1.5M388.1 783.3h1.5M389 784h1.5M389.9 782.2h1.5M390.9 783.8h1.5M391.8 783h1.5M392.7 785.2h1.5M393.6 786.6h1.5M394.7 784.4h1.5M395.7 786.6h1.5M396.7 784.2h1.5M397.8 782.7h1.5M398.8 784.5h1.5M399.8 785.2h1.5M400.9 786.1h1.5M401.9 786h1.5M402.9 784h1.5M403.9 783.9h1.5M404.8 785h1.5M405.7 784h1.5M406.6 782.3h1.5M407.6 782.8h1.5M408.5 785.5h1.5M409.4 785.5h1.5M410.4 786.3h1.5M411.3 786.2h1.5M412.2 786.8h1.5M413.3 787.3h1.5M414.4 787.1h1.5M415.5 789.1h1.5M416.5 788.6h1.5M417.6 788.5h1.5M418.7 784.7h1.5M419.6 780.3h1.5M420.7 782.1h1.5M421.7 781h1.5M422.7 782h1.5M423.7 779.4h1.5M424.7 780.5h1.5M425.7 782.2h1.5M426.7 780.6h1.5M427.7 784.8h1.5M428.8 782.2h1.5M429.8 783h1.5M430.8 784.3h1.5M431.7 791.6h1.5M432.8 792.7h1.5M433.8 791.6h1.5M434.8 794.6h1.5M435.9 792.4h1.5M436.9 792.6h1.5M438 794.3h1.5M439 793.8h1.5M440.1 795.3h1.5M441.1 793.6h1.5M442.1 794.1h1.5M443.2 794.6h1.5M444.2 794.5h1.5M445.2 793.7h1.5M446.3 793.9h1.5M447.3 797.8h1.5M448.3 794.5h1.5M449.3 794.2h1.5M450.4 793.2h1.5M451.4 793.8h1.5M452.4 796.2h1.5M453.5 795.4h1.5M454.5 797.4h1.5M455.5 795.1h1.5M456.6 795.7h1.5M457.6 796.4h1.5M458.6 797.4h1.5M459.7 795.9h1.5M460.7 798.2h1.5M461.7 797.1h1.5M462.8 797.7h1.5M463.8 797.4h1.5M464.8 799.2h1.5M465.9 800.8h1.5M466.9 798.7h1.5M467.9 797.3h1.5M468.8 795.1h1.5M469.8 794.8h1.5M470.8 795.6h1.5M471.9 796.2h1.5M473 797h1.5M474 797h1.5M475.1 798.7h1.5M476.1 799h1.5M477.2 798.8h1.5M478.1 798.8h1.5M479.1 799.9h1.5M480 800h1.5M480.9 798.9h1.5M481.8 799.8h1.5M482.8 799.1h1.5M483.7 799.4h1.5M484.6 801.2h1.5M485.6 802.4h1.5M486.5 802.5h1.5M487.4 804.4h1.5M488.3 804.6h1.5M489.3 805.5h1.5M490.2 805.5h1.5M491.2 804.1h1.5M492.2 805h1.5M493.2 806.4h1.5M494.2 805.6h1.5M495.2 805.5h1.5M496.2 805.5h1.5M497.3 806.5h1.5M497.2 807.5h1.5M498.2 808.4h1.5M499.1 809.2h1.5M500 809.5h1.5M501 809.4h1.5M501.9 810.2h1.5M502.8 812.9h1.5M503.7 813.1h1.5M504.7 811.3h1.5M505.6 811h1.5M506.5 810.7h1.5M507.5 809.5h1.5M508.4 809.9h1.5M509.5 810.2h1.5M510.5 809.2h1.5M511.6 808.6h1.5M512.6 810.5h1.5M513.7 809.5h1.5M514.8 810.4h1.5M515.8 809.8h1.5M516.8 811.1h1.5M517.9 811.7h1.5M518.9 809.5h1.5M519.9 811h1.5M521 810.4h1.5M522 810.1h1.5M523 809.5h1.5M524.1 810.2h1.5M525.1 808.7h1.5M526.1 811.3h1.5M527.2 810.4h1.5M528.2 810.1h1.5M529.2 810.9h1.5M530.3 809.9h1.5M531.3 810.1h1.5M532.3 810.2h1.5M533.4 808.7h1.5M534.4 808.9h1.5M535.3 810.2h1.5M536.2 812.2h1.5M537.2 813.8h1.5M538.1 816.1h1.5M539 815.5h1.5M540 816.8h1.5M540.9 817.5h1.5M541.8 819.5h1.5M542.7 816.4h1.5M543.7 814.8h1.5M544.7 814.7h1.5M545.7 813.8h1.5M546.8 815.5h1.5M547.8 814.9h1.5M548.8 815.3h1.5M549.9 814.2h1.5M550.9 815h1.5M551.9 814.6h1.5M552.9 815.4h1.5M553.9 813.2h1.5M554.8 812.6h1.5M555.7 809.5h1.5M556.7 815.1h1.5M557.6 819.3h1.5M558.5 818.5h1.5M559.4 819.7h1.5M560.4 820.6h1.5M561.3 820.9h1.5M562.2 821.6h1.5M563.3 821.4h1.5M564.4 821.1h1.5M565.4 822.2h1.5M566.5 821.2h1.5M567.5 821.8h1.5M568.6 822.3h1.5M569.7 823h1.5M570.6 823.6h1.5M571.5 823.3h1.5M571.5 774.6h1.5M572.4 773.9h1.5M573.4 775.1h1.5M574.3 775.1h1.5M575.2 774.8h1.5M576.7 788h1.5M578 773.4h1.5M578.9 775.7h1.5M579.9 774.8h1.5M580.8 774.1h1.5M581.7 775.7h1.5M582.7 775.5h1.5M583.6 775h1.5M583.6 826.1h1.5M584.7 825.5h1.5M585.8 825.7h1.5M586.8 823.5h1.5M587.9 827h1.5M589 825.9h1.5M590.1 824.4h1.5M591.1 826.5h1.5M592.1 825.9h1.5M593.2 826.1h1.5M594.2 825.8h1.5M595.2 824.9h1.5M596.3 826h1.5M597.3 826.9h1.5M598.3 824.9h1.5M599.4 822.4h1.5M600.4 825.8h1.5M601.4 826.9h1.5M602.5 820.9h1.5M603.5 825.2h1.5M604.5 826.8h1.5M605.6 826.3h1.5M606.6 827.3h1.5M607.6 828h1.5M608.6 824.1h1.5M609.6 826.3h1.5M610.5 827.4h1.5M611.4 826h1.5M612.4 824.1h1.5M613.3 824.2h1.5M614.2 828.3h1.5M615.1 827.8h1.5M616.1 829.8h1.5M617 831.5h1.5M617.9 834h1.5M618.9 833.5h1.5M619.8 833.7h1.5M620.7 833.2h1.5M621.6 836.6h1.5M622.6 835.1h1.5M623.5 835.3h1.5M624.4 836h1.5M625.4 833.9h1.5M626.3 835.8h1.5M627.2 835.3h1.5M628.1 835.6h1.5M629.1 838.7h1.5M630 840.1h1.5M630.9 844.8h1.5M631.9 842.8h1.5M632.8 843.3h1.5M633.7 843.1h1.5M634.6 841.2h1.5M635.6 840.2h1.5M636.5 840.6h1.5M637.4 841.8h1.5M638.4 840.7h1.5M639.3 842.5h1.5M640.2 840.1h1.5M641.1 843.5h1.5M642.1 840.9h1.5M643 841.1h1.5M643.9 841.2h1.5M644.9 840h1.5M645.8 840.2h1.5M646.7 836.4h1.5M647.6 835.6h1.5M648.6 838.2h1.5M649.5 835.7h1.5M650.4 838.9h1.5M651.4 842.1h1.5M652.3 840.2h1.5M653.2 841.7h1.5M654.1 842.3h1.5M655.1 841.1h1.5M656 844.6h1.5M656.9 838.5h1.5M657.9 840.6h1.5M658.8 840.9h1.5M659.7 841.4h1.5M660.6 839h1.5M661.6 835h1.5M662.5 829.8h1.5M663.4 827.3h1.5M664.3 828.6h1.5M665.3 828.2h1.5M666.2 825.9h1.5M667.1 825.4h1.5M668.1 836.6h1.5M669 836.7h1.5M669.9 834.8h1.5M670.8 833.6h1.5M671.8 835.9h1.5M672.7 835.6h1.5M673.6 835.5h1.5M674.6 831.5h1.5M675.5 834.2h1.5M676.4 831.4h1.5M677.3 832.4h1.5M678.3 830h1.5M679.2 832.3h1.5M680.1 828.9h1.5M681.1 828.3h1.5M682 828.2h1.5M682.9 833.9h1.5M683.8 832.9h1.5M684.8 835.6h1.5M685.8 832.7h1.5M686.9 835.8h1.5M688 832.5h1.5M689 834.5h1.5M690.1 834.8h1.5M691.1 833.5h1.5M692.2 837.3h1.5M695.9 836.8h1.5M705.2 838.1h1.5M706.7 802.8h1.5M707.4 806.2h1.5M708 840.8h1.5M738.2 839.3h1.5M739.2 841h1.5M740.1 840.4h1.5M741 840.9h1.5M742 840.1h1.5M742.9 840.4h1.5M743.8 842.5h1.5M744.7 843.6h1.5M745.7 839.3h1.5M746.6 840h1.5M747.5 834.4h1.5M748.5 836h1.5M749.4 838.5h1.5M750.4 837.5h1.5M751.4 839.3h1.5M752.5 836.8h1.5M753.5 838.1h1.5M754.5 838.6h1.5M755.6 837.1h1.5M756.6 837.1h1.5M757.6 836.5h1.5M758.7 836.3h1.5M759.6 837h1.5M760.5 835.9h1.5M761.5 834.2h1.5M762.4 835.5h1.5M763.3 836.6h1.5M764.2 838.1h1.5M765.2 837.8h1.5M766.1 839.8h1.5M767.1 840.5h1.5M768.2 839.1h1.5M769.2 840.5h1.5M770.2 839h1.5M771.3 838.4h1.5M772.3 839.2h1.5M773.3 839.2h1.5M774.3 839h1.5M775.4 838.3h1.5M776.3 838.7h1.5M777.2 837.7h1.5M778.2 835.9h1.5M779.1 838.7h1.5M780 838.3h1.5M780.9 839.7h1.5M781.9 838.5h1.5M782.8 840.5h1.5M783.9 837.7h1.5M784.9 839.5h1.5M786 839.3h1.5M787 838.7h1.5M788.1 838.1h1.5M789.2 835.8h1.5M790.2 836.5h1.5M791.2 837.1h1.5M792.1 839h1.5M793 840.2h1.5M793.9 840.4h1.5M795 841.2h1.5M796 839.8h1.5M797 840.5h1.5M798 839.7h1.5M799 839.8h1.5M800 838.4h1.5M801 839.2h1.5M802 839.3h1.5M803.1 839.4h1.5M804.1 841.2h1.5M805.1 838.1h1.5M806 837.6h1.5M806.9 839.8h1.5M807.9 839h1.5M808.8 839.1h1.5M809.7 838.2h1.5M810.7 837.3h1.5M811.6 836.9h1.5M812.5 836h1.5M813.6 834.7h1.5M814.6 836.6h1.5M815.7 837h1.5M816.8 839.1h1.5M817.8 836.3h1.5M818.9 837.7h1.5M819.9 838.2h1.5M820.9 838.1h1.5M821.8 841.2h1.5M822.7 839.9h1.5M823.6 840.4h1.5M824.7 841.3h1.5M825.7 841h1.5M826.7 840.4h1.5M827.8 841.1h1.5M828.8 841h1.5M829.8 841.3h1.5M830.9 841h1.5M831.9 841.4h1.5M832.9 840.5h1.5M834 841.6h1.5M835 840.7h1.5M836 841.9h1.5M837.1 842.1h1.5M838.1 843h1.5M839.1 841.6h1.5M840.2 842.3h1.5M841.2 843.7h1.5M842.2 841.4h1.5M843.2 844.4h1.5M844.3 844.3h1.5M845.3 843.6h1.5M846.3 843.7h1.5M847.4 843.9h1.5M848.4 844.8h1.5M849.4 846.6h1.5M850.5 845.9h1.5M851.5 844.8h1.5M852.5 846.4h1.5M853.6 846.1h1.5M854.6 846.4h1.5M855.6 845.5h1.5M856.7 845.4h1.5M857.7 845.7h1.5M858.7 845.8h1.5M859.8 845.1h1.5M860.8 846.5h1.5M861.8 845.1h1.5M862.8 846.7h1.5M863.9 846.2h1.5M864.9 846h1.5M865.9 844.9h1.5M867 844.2h1.5M868 845.9h1.5M869 846.1h1.5M870.1 845.6h1.5M871.1 845.9h1.5M872.2 845.8h1.5M873.2 845.8h1.5M874.3 844.7h1.5M875.4 844.8h1.5M876.4 844.3h1.5M877.5 845.3h1.5M882.1 842.3h1.5M883.2 843.4h1.5M884.2 842.6h1.5M885.3 842.3h1.5M886.3 842.2h1.5M887.4 841.5h1.5M888.4 841.4h1.5M889.4 842.4h1.5M890.5 842.6h1.5M891.6 841h1.5M892.6 842.5h1.5M893.7 843.5h1.5M894.7 842.4h1.5M895.8 843.4h1.5M896.9 842.5h1.5M897.9 842.6h1.5M898.9 843.8h1.5M900 845.7h1.5M901 842.2h1.5M902 842.4h1.5M903.1 843h1.5M904.1 838.6h1.5M905.1 837.9h1.5M906.2 837.2h1.5M907.2 836h1.5M908.1 837.9h1.5M909.1 840.1h1.5M910 842h1.5M911.1 845.9h1.5M912.2 840.5h1.5M913.2 842.4h1.5M914.3 843.4h1.5M915.4 841.4h1.5M916.5 846.6h1.5M917.5 841.6h1.5M918.4 844.8h1.5M919.4 841.2h1.5M920.4 842.6h1.5M921.4 841.7h1.5M922.4 842.1h1.5M923.3 842.1h1.5M924.3 838.5h1.5M925.3 840.3h1.5M926.3 838.8h1.5M927.3 838.7h1.5M927.2 840.5h1.5M928.2 840.3h1.5M929.1 835.7h1.5M930 838.7h1.5M931 841.4h1.5M931.9 837.6h1.5M932.8 837.4h1.5M933.7 834.7h1.5M934.7 835.2h1.5M935.6 837h1.5M936.5 839.3h1.5M937.5 834.4h1.5M938.4 838.8h1.5M939.5 836.4h1.5M940.5 837.2h1.5M941.6 836.9h1.5M942.6 832.1h1.5M943.7 836.2h1.5M944.8 833.5h1.5M945.8 837.5h1.5M946.7 832.9h1.5M947.7 831.2h1.5M948.6 828.6h1.5M949.5 829.6h1.5M950.5 831.4h1.5M951.4 828.8h1.5M952.3 832.8h1.5M953.2 836.5h1.5M954.3 835.3h1.5M955.4 833.9h1.5M956.4 832.1h1.5M957.5 835.7h1.5M958.5 833.5h1.5M959.6 835h1.5M960.7 833.2h1.5M961.7 832h1.5M962.8 834.2h1.5M963.9 833.8h1.5M964.9 836.6h1.5M966 837.7h1.5M967 836.2h1.5M968.1 836.5h1.5M969 836.7h1.5M970 833.5h1.5M970.9 834.6h1.5M971.8 834.4h1.5M972.7 832.1h1.5M973.7 832.2h1.5M974.6 834.4h1.5M975.5 831.6h1.5M976.5 831.8h1.5M977.4 837.6h1.5M978.3 836.2h1.5M979.2 831.8h1.5M980.2 834.9h1.5M981.1 839.7h1.5M982 836.5h1.5M982.9 840.3h1.5M983.9 835.6h1.5M984.8 844.6h1.5M985.7 837.5h1.5M986.7 838h1.5M987.6 838h1.5M988.5 835.1h1.5M989.4 836.8h1.5M990.4 835.3h1.5M991.4 838.2h1.5M992.5 837.5h1.5M993.6 838.6h1.5M994.6 837.6h1.5M995.7 839.8h1.5M996.7 839.2h1.5M997.8 843.6h1.5M998.9 837.9h1.5M999.9 841.2h1.5M1001 840.5h1.5M1002 841.2h1.5M1003.1 840.2h1.5M1004.2 840h1.5M1005.2 839.9h1.5M1006.2 837.4h1.5M1007.1 838.5h1.5M1008 835.2h1.5M1008.9 833.9h1.5M1009.9 836.1h1.5M1010.8 838.2h1.5M1011.7 839.7h1.5M1012.7 838.9h1.5M1013.6 838.5h1.5M1014.5 836.9h1.5M1015.4 836h1.5M1016.4 834h1.5M1017.3 834.1h1.5M1018.2 833h1.5M1019.2 833.1h1.5M1020.1 834.8h1.5M1021 832.8h1.5M1021.9 832.5h1.5M1022.9 834.8h1.5M1023.8 835h1.5M1024.7 834.1h1.5M1025.7 834.9h1.5M1026.6 835.4h1.5M1027.5 837.9h1.5M1028.4 834.7h1.5M1029.4 836.6h1.5M1030.3 835.6h1.5M1031.2 837.2h1.5M1032.2 838h1.5M1033.1 838.6h1.5M1034 839.1h1.5M1034.9 840.9h1.5M1035.9 836.3h1.5M1036.8 829.3h1.5M1037.7 828.6h1.5M1038.6 826h1.5M1039.7 824.6h1.5M1040.7 825.7h1.5M1041.7 825.7h1.5M1042.8 826.7h1.5M1043.8 823.9h1.5M1044.8 824.5h1.5M1045.9 826h1.5M1046.9 823.6h1.5M1047.9 825.3h1.5M1049 825.9h1.5M1050.1 822.9h1.5M1051.1 825.9h1.5M1052.2 824.6h1.5M1053.2 824.8h1.5M1054.3 823.8h1.5M1055.4 825.4h1.5M1056.3 828.1h1.5M1057.2 828.6h1.5M1058.1 828.8h1.5M1059.1 828h1.5M1060 828.8h1.5M1060.9 826.7h1.5M1061.9 825.1h1.5" stroke="#8a2be2" stroke-width="1.5" fill="none"/>
<rect x="68.5" y="672.5" width="1069.0" height="201.0" fill="none" stroke="#646464" stroke-width="1"/>
<path d="M68.5 672.5v10M68.5 873.5v-10M87.5 672.5v5M87.5 873.5v-5M106.5 672.5v5M106.5 873.5v-5M125.5 672.5v5M125.5 873.5v-5M144.5 672.5v5M144.5 873.5v-5M164.5 672.5v5M164.5 873.5v-5M183.5 672.5v5M183.5 873.5v-5M202.5 672.5v5M202.5 873.5v-5M221.5 672.5v10M221.5 873.5v-10M240.5 672.5v5M240.5 873.5v-5M259.5 672.5v5M259.5 873.5v-5M278.5 672.5v5M278.5 873.5v-5M297.5 672.5v5M297.5 873.5v-5M316.5 672.5v5M316.5 873.5v-5M335.5 672.5v5M335.5 873.5v-5M354.5 672.5v5M354.5 873.5v-5M374.5 672.5v10M374.5 873.5v-10M393.5 672.5v5M393.5 873.5v-5M412.5 672.5v5M412.5 873.5v-5M431.5 672.5v5M431.5 873.5v-5M450.5 672.5v5M450.5 873.5v-5M469.5 672.5v5M469.5 873.5v-5M488.5 672.5v5M488.5 873.5v-5M507.5 672.5v5M507.5 873.5v-5M526.5 672.5v10M526.5 873.5v-10M546.5 672.5v5M546.5 873.5v-5M565.5 672.5v5M565.5 873.5v-5M584.5 672.5v5M584.5 873.5v-5M603.5 672.5v5M603.5 873.5v-5M622.5 672.5v5M622.5 873.5v-5M641.5 672.5v5M641.5 873.5v-5M660.5 672.5v5M660.5 873.5v-5M679.5 672.5v10M679.5 873.5v-10M698.5 672.5v5M698.5 873.5v-5M717.5 672.5v5M717.5 873.5v-5M736.5 672.5v5M736.5 873.5v-5M756.5 672.5v5M756.5 873.5v-5M775.5 672.5v5M775.5 873.5v-5M794.5 672.5v5M794.5 873.5v-5M813.5 672.5v5M813.5 873.5v-5M832.5 672.5v10M832.5 873.5v-10M851.5 672.5v5M851.5 873.5v-5M870.5 672.5v5M870.5 873.5v-5M889.5 672.5v5M889.5 873.5v-5M908.5 672.5v5M908.5 873.5v-5M928.5 672.5v5M928.5 873.5v-5M947.5 672.5v5M947.5 873.5v-5M966.5 672.5v5M966.5 873.5v-5M985.5 672.5v10M985.5 873.5v-10M1004.5 672.5v5M1004.5 873.5v-5M1023.5 672.5v5M1023.5 873.5v-5M1042.5 672.5v5M1042.5 873.5v-5M1061.5 672.5v5M1061.5 873.5v-5M1080.5 672.5v5M1080.5 873.5v-5M1099.5 672.5v5M1099.5 873.5v-5M1118.5 672.5v5M1118.5 873.5v-5M1138.5 672.5v10M1138.5 873.5v-10" stroke="#646464" stroke-width="1" fill="none"/>
<path d="M68.5 672.5h5M1137.5 672.5h-5M68.5 706.5h5M1137.5 706.5h-5M68.5 739.5h5M1137.5 739.5h-5M68.5 772.5h5M1137.5 772.5h-5M68.5 806.5h5M1137.5 806.5h-5M68.5 840.5h5M1137.5 840.5h-5M68.5 873.5h5M1137.5 873.5h-5" stroke="#646464" stroke-width="1" fill="none"/>
<text x="45.15" y="677.1" font-size="14" textLength="20.25" lengthAdjust="spacingAndGlyphs" fill="#5a5a5a">800</text>
<text x="45.15" y="710.6" font-size="14" textLength="20.25" lengthAdjust="spacingAndGlyphs" fill="#5a5a5a">700</text>
<text x="45.15" y="744.1" font-size="14" textLength="20.25" lengthAdjust="spacingAndGlyphs" fill="#5a5a5a">600</text>
<text x="45.15" y="777.6" font-size="14" textLength="20.25" lengthAdjust="spacingAndGlyphs" fill="#5a5a5a">500</text>
<text x="45.15" y="811.1" font-size="14" textLength="20.25" lengthAdjust="spacingAndGlyphs" fill="#5a5a5a">400</text>
<text x="45.15" y="844.6" font-size="14" textLength="20.25" lengthAdjust="spacingAndGlyphs" fill="#5a5a5a">300</text>
<text x="45.15" y="878.1" font-size="14" textLength="20.25" lengthAdjust="spacingAndGlyphs" fill="#5a5a5a">200</text>
<path d="M68.5 932.5H1137.5M68.5 999.5H1137.5M68.5 1066.5H1137.5" stroke="#f3f3f3" stroke-width="1" fill="none"/>
<path d="M1031 1009L1035.5 1007.9V1042.8H1031Z" fill="#7fe07f" fill-opacity="0.7"/>
<path d="M68 947.2V984.1M68.9 946.5V970.1M69.9 944.3V971.9M70.8 958.5V974.7M71.7 936V952.3M72.6 943.1V955.9M73.6 939.8V955.3M74.5 931.3V956.9M75.4 945.5V964.2M76.4 941.7V954.3M77.3 949.9V960.5M78.2 942.1V992.2M79.1 948.3V1001.9M80.1 940.7V955.2M81 944.4V967.1M81.9 949.9V964.4M82.9 952.2V968.6M83.8 948.8V959.4M84.7 934.9V976.6M85.6 939.4V954.7M86.6 946.5V967.7M87.5 945.9V960.7M88.4 947.6V967.4M89.4 942.2V991.7M90.3 948.7V961.3M91.2 949V963.9M92.1 944.1V971.7M93.1 936.2V954M94 953.1V982.5M94.9 943.1V964M95.8 954.2V969.2M96.8 946.8V965.9M97.7 933.6V961.6M98.6 925.7V978.6M99.6 946.9V971.5M100.5 944.5V995.9M101.4 940.5V954.6M102.3 938.1V974M103.3 946.2V968.6M104.2 951.8V987.1M105.1 944.6V988M106.1 945.6V958.7M107 947.9V1005.5M107.9 954.4V976.5M108.8 948.4V972M109.8 953.6V974.4M110.7 948.6V996.9M111.6 954V974.9M112.6 956.6V1015.1M120 955.8V968.2M120.9 935.6V959M121.8 958.2V968.7M122.8 956V969.5M123.7 958.7V978.4M124.6 950V970.2M125.6 951.2V970.5M126.5 960.2V980.6M127.4 964.7V976.4M128.3 960.7V981M129.3 950.2V971.4M130.2 944.4V971M131.1 959.9V977.8M132.1 946.5V966.2M133 949.5V996.8M133.9 967.6V983.9M134.8 948.5V975.8M135.8 961.1V976M136.7 951.2V968.7M137.6 947.6V962.8M138.6 953.4V975.8M139.5 955.7V976.5M140.4 956.4V975.6M141.3 953.6V988.7M142.3 947.7V977M143.2 955.7V984.5M144.1 959.5V974.2M145.1 949V1003.4M146 969.7V977.3M146.9 958.8V983.5M147.8 979.7V1000.1M148.8 978.6V989.7M149.7 968.5V983.3M150.6 959.4V975M151.5 967.9V984.8M152.5 959.6V989.5M153.4 939.5V960.8M154.3 960.1V978.7M155.3 960.8V975.4M156.2 951.2V970.2M157.1 960.7V977.5M158 963.5V974.8M159 954.8V977.5M164.5 963V993.9M165.5 957.5V975.1M166.4 967.4V979.9M167.3 966.8V977.1M168.3 957.4V974.8M169.2 963.4V981.5M170.1 956V977.6M171 970.6V1015.3M172 962.4V986.8M172.9 969.4V990.2M173.8 966.3V992.6M174.8 960V1004.1M175.7 946V966.4M176.6 962.2V981.9M177.5 969.5V996M178.5 981.1V992.6M179.4 991.5V1020.2M180.3 986V1033.4M181.3 969V993M182.2 984.4V1006.4M183.1 975.9V995.4M184 954.5V984.4M185 973.5V1017.7M185.9 966.6V987.6M186.8 962.8V983.3M187.8 971.7V989.4M188.7 970.2V989M189.7 958.5V984.4M190.7 963.1V1009.7M191.8 982.3V998M192.8 954.6V978.5M193.8 963.8V982.7M194.9 953.6V977.7M195.9 970V986.2M196.9 969.5V983M198 959.6V984.6M199 950.5V971M200.1 972.8V984.6M201.1 966.9V995.9M202.2 983.9V999.4M203.3 965.1V1016.1M204.3 954.6V982.2M205.4 954.5V989.5M206.3 961V986.5M207.2 970.1V1005.7M208.2 966V981.3M209.1 970.3V1012.8M210 967.3V1018.7M211 971.8V988.5M211.9 958.6V978.6M212.8 963V981.6M213.7 970.2V988.8M214.7 971.8V991.6M215.6 970.9V998.8M216.5 961.5V998.3M217.5 970.3V991.2M218.4 985.2V1000.2M219.3 982.3V1002.5M220.2 990.7V1011.6M221.2 986.8V1004.2M222.1 992.4V1006M223 993.2V1006.1M224 982.3V1004.7M224.9 984.7V1004.4M225.8 984.8V1035.1M226.7 990.8V1003.3M227.7 984.8V999.5M228.6 978V992.4M229.5 970.8V988.6M230.5 967.1V1009M231.4 974.2V997M232.3 962.4V979.5M233.2 957.4V982.6M234.2 960.5V975.4M235.1 966.4V1006M236 966.6V987.9M237 973.4V1027.2M237.9 971.9V997.9M238.8 979V1025.3M239.7 970.3V993.2M240.7 975.4V1014.5M241.6 979.8V994.4M242.5 964.5V979.9M243.5 980.7V993.5M244.4 961.6V983.8M245.3 956.1V975.8M246.2 959.3V978.3M247.2 954.8V985.2M248.1 970V988.9M249 965.4V984M250 964.2V1005M250.9 968.8V992.6M251.8 975.6V1000.4M252.7 977.1V997.2M253.7 974V983.6M254.6 978.8V990.2M255.5 972.3V1026.6M256.5 980.9V1004.7M257.4 980.9V1003.7M258.4 971.3V997.8M259.5 985.9V1021M260.6 967.7V990.3M261.6 976.5V996.2M262.7 977V1001.6M263.7 973.2V995.7M264.8 965.9V988.1M265.7 985V1003.5M266.7 988.2V1013M267.6 988.1V1002M268.5 998.5V1019M269.4 989.7V1006.9M270.4 987.7V1007.6M271.3 983.9V1000.6M272.2 982.6V1002.1M273.2 972.4V994.5M274.1 940.4V962.9M275 937.4V961.5M275.9 936.1V951.6M276.9 966.5V977.3M277.8 970.1V990.2M278.8 981.6V1017.1M279.9 977.3V998.5M280.9 981.8V994.4M282 990.1V1004.2M283 981.8V1004.1M283 976.4V1000M283.9 983.1V1005.1M284.9 976.7V994.3M285.8 992.8V1004.8M286.7 992V1010.4M287.6 978.1V1002.2M288.6 972.4V1013.5M289.5 977.1V990.7M290.4 952.9V978.8M291.4 976.6V988.5M292.3 988.4V1021.2M293.2 970.3V1007.5M294.1 991.5V1009.3M295.1 985.5V1019M296 994.9V1014M296.9 997.3V1003.4M297.9 985.3V1006.2M298.8 995.1V1009.7M299.7 992.1V1006.2M300.6 987.1V1008.4M301.6 994.9V1025.1M302.5 990.7V1001.8M303.4 984.7V1025.8M304.4 985.6V994.2M305.3 987.3V1041.4M306.2 969.2V996.4M307.1 980.3V1001.9M308.1 978.7V996M309 993V1007.9M309.9 990.3V1004.3M310.8 983V1005.3M311.9 992V1009.3M312.9 982V999.7M313.9 982.8V1003.4M315 994.2V1004M316 977V992.1M317 977.6V1007.1M318.1 982.4V996.4M319.1 985.1V1009.1M320.1 981.9V998.9M321.2 967.3V999.5M322.2 984.2V998.7M323.2 975.7V1011.5M324.3 985.4V1039.5M325.3 985.5V1000.3M326.3 979.1V1002.9M327.4 980.8V1015.3M328.4 977.4V1000.1M329.4 958V983.4M330.4 979.9V991M331.5 976V1007.7M332.5 978.4V991.3M333.5 991.5V1004.2M334.6 972V994M335.6 972.1V981.1M336.6 982.2V1007.9M337.7 979.7V1010.4M338.7 968V986.2M339.6 976.6V1002.5M340.6 985.7V996.6M341.5 983.1V1006.9M342.4 968.5V1005.6M343.3 972V990.7M344.3 981V1007.1M345.2 976.6V983.7M346.1 976.3V992.1M347.1 983.8V994.8M348 971.2V986.4M348.9 976.2V1000.4M349.8 976.5V998.5M350.9 973V992.6M352 975.7V990.3M353 983.5V1000.3M354.1 986.9V997.8M355.1 985.8V1000M356.2 979.1V1009.3M357.3 991.2V1000.2M358.2 978V1013.9M359.1 987.3V999.9M360.1 975.7V997.8M361 980.5V1020.7M361.9 997.3V1007.8M362.8 1000.5V1007.9M363.9 979.2V995.3M365 985V1004.9M366 992.2V1005.5M367.1 990.9V1023.6M368.1 986.6V1005M369.2 989.2V1006.4M370.3 978.8V994.3M371.2 990.9V1005.5M372.1 993.3V1013.3M373 987.8V1007.5M374 995.6V1015.7M374.9 993.2V1031.1M375.8 996.5V1007.4M376.8 991.1V1013.8M377.7 986.8V1030.9M378.6 1001.3V1009.7M379.5 987.7V1004.5M380.5 1002.1V1017.6M381.4 986.5V1001.7M382.3 992.6V1005.8M383.3 994.8V1008.7M384.2 991.8V1008.5M385.1 1004.3V1014M386 984.8V999.4M387 994.1V1005.2M387.9 990.4V1005.8M388.8 985.9V999.9M389.8 981.5V1001.6M390.7 985V1005M391.6 1000.8V1012.6M392.5 998.1V1010.5M393.5 997.8V1021.3M394.4 992.4V1005.7M395.3 986.1V998.7M396.3 1000.5V1016.9M397.2 993.3V1029.6M398.1 987.3V1007.1M399 990.6V1005.5M400 997.5V1010.6M400.9 992.2V1016.3M401.8 999.8V1008.4M402.8 1001.6V1027.4M403.7 1005.8V1015.6M404.6 993.3V1009.2M405.5 1005.9V1039.1M406.5 990.7V1027.9M407.4 996.5V1007M408.3 1006V1019.3M409.3 1005.8V1016.2M410.3 999.3V1012.6M411.4 1001.4V1014.4M412.4 1004.8V1013.7M413.5 997.9V1041.6M414.6 991.4V1009.3M415.6 1004V1027.4M416.7 994.4V1004.8M417.6 989V995.8M418.5 982.1V1004M419.5 985V1016.8M420.4 978.8V984.5M421.3 975.9V981M422.2 977.5V985.1M423.2 977.3V981.3M424.1 974.9V983M425.2 976.1V980.9M426.2 972.1V977.3M427.3 975.8V982M428.4 973.3V981.8M429.4 975.1V980M430.5 974.9V980.9M431.5 974.8V979.2M432.5 1002.1V1009.3M433.5 1001.4V1009.7M434.6 1006.2V1011.1M435.6 1003.8V1011M436.6 1003.3V1009.8M437.7 1005V1012.4M438.7 1005.4V1016.4M439.8 1006.4V1011.6M440.8 1007.7V1016M441.8 1006.8V1016.8M442.9 1007.8V1014.1M443.9 1008.8V1014.5M444.9 1008V1016.8M446 1011.4V1018.7M447 1008.2V1013.4M448 1010.7V1016.1M449.1 1010.5V1015.5M450.1 1011.6V1016M451.1 1012V1017.3M452.2 1008.9V1016.4M453.2 1010.8V1021M454.2 1011.3V1018M455.3 1006.9V1014.2M456.3 1010.8V1014.2M457.3 1008.1V1013.9M458.4 1012.6V1018.5M459.4 1008.2V1013M460.4 1006.8V1013M461.5 1007.1V1011.8M462.6 1006.2V1012.7M463.6 1005.5V1013.1M464.7 1004.5V1008.8M465.7 1007V1011.9M466.8 1000.8V1006.5M467.7 1003.5V1011.4M468.7 1000.6V1005.6M469.6 993.6V1000.6M470.5 997.6V1001M471.5 992.2V997.7M472.4 990.1V993.7M473.3 991.8V996.1M474.2 990.3V995.7M475.2 989.9V994.5M476.1 992.2V996.5M477 991.9V1000.9M477.9 990.7V995.5M478.9 991.6V995.8M479.8 991.8V994.2M480.7 995.7V999.5M481.7 992.9V1000.4M482.6 994.2V1000.4M483.5 994.6V999.1M484.6 995.1V1004M485.6 994.1V999.1M486.7 995.3V1002.8M487.8 996.2V1002.7M488.8 993.6V1002.8M489.9 994.4V1000.9M490.9 993.1V999M492 993.5V996.4M493 992.9V1001M494 991.8V997.9M495 991.4V997.2M496 994.1V997.9M497 992.8V999.9M498 994.4V1002.7M498 997.6V1006.4M498.9 995.5V998.9M499.9 998.2V1003M500.8 998.9V1011.9M501.7 1001V1011.8M502.6 992.4V1008.5M503.6 998.7V1011.1M504.5 992.6V1010.5M505.4 992.8V1010.2M506.4 1000.1V1008M507.3 992.9V999M508.2 996.8V1005.5M509.1 992.7V1001.9M510.2 992.2V1005.4M511.3 992.3V1002.3M512.3 985.6V998.5M513.4 988.6V1007.8M514.4 986.8V998.5M515.5 986.2V997.4M516.6 990.2V996.7M517.5 989.5V997.7M518.4 986.4V1006.5M519.4 989.6V1003.9M520.3 997.7V1008.1M521.2 987.8V998.1M522.1 992.9V1000.2M523.1 985.2V999.9M524 986.6V998.4M524.9 988.4V996.2M525.8 989.2V994.9M526.8 994.6V999.8M527.7 986.2V1002.5M528.6 989.4V997.1M529.6 988.8V1003.9M530.5 987.7V999.4M531.4 990.3V999.7M532.3 995.7V1000.3M533.3 992.9V1002.1M534.2 996.7V1009.2M535.1 997.3V1007.2M536.1 993.7V1005.9M537 1000V1013.1M537.9 995V1004.7M538.8 998.2V1010.6M539.8 1007.4V1017.4M540.7 1006.2V1018.8M541.6 1014V1026.5M542.6 1017.5V1026.1M543.5 1030.8V1043M544.4 1041.9V1050M545.3 1042.9V1051.4M546.3 1039.5V1049.7M547.2 1048.3V1056.2M548.1 1045.4V1062.5M549.1 1048.8V1055.4M550 1044.9V1057.5M550.9 1050.9V1059.3M551.8 1041.2V1050.1M552.8 1050.2V1054.1M553.7 1047.3V1053.4M554.6 1036.1V1044.1M555.6 1029.5V1039.7M556.5 1025V1034.4M557.4 1013.9V1032.1M558.3 1014.3V1030.4M559.3 1001.4V1013.4M560.2 1010V1017.3M561.1 1012.1V1019.6M562.1 1008V1017.4M563 1000.8V1010.4M563.9 1002.6V1012M564.8 999.8V1012.1M565.8 1003.8V1008.3M566.7 998V1008.2M567.6 1001.7V1007.3M568.6 1001V1009M569.5 1003.2V1011.9M570.4 1006.1V1016.3M571.3 1003.1V1012.5M572.3 982.1V990M573.2 985.1V989.7M574.1 980.8V993.7M575.1 988.2V996.7M576 979.8V992.9M578.8 977.7V992.5M579.7 983.4V994.4M580.6 987.4V994.2M581.5 983.3V987.2M582.5 987.3V998.5M583.4 983.2V989.1M584.3 980.4V988.4M584.3 1008.9V1016.4M585.3 1007.1V1014.6M586.2 1012.4V1019.8M587.1 1010.8V1016.6M588 1014.7V1022.9M589 1014.1V1025M589.9 1014.3V1024.8M590.8 1018.6V1026.3M591.8 1021.9V1025.1M592.7 1021.8V1026M593.6 1017.6V1024.9M594.5 1026.6V1033.9M595.5 1026.4V1040M596.4 1031.4V1036.3M597.3 1025V1037.4M598.3 1035.6V1046.6M599.2 1036.2V1049.7M600.1 1031.2V1040.5M601 1036V1043.1M602 1031.4V1040.4M602.9 1035.9V1051.1M603.8 1030.9V1037.4M604.8 1032.6V1040.6M605.7 1034.2V1044.6M606.6 1031.6V1038.8M607.5 1036.9V1043M608.5 1037.1V1041.6M609.4 1039.7V1049.4M610.3 1031V1062.3M611.3 1028V1054.5M612.2 1039.1V1058.1M613.1 1029.9V1041.8M614 1024.4V1046.6M615 1036.6V1049M615.9 1009V1045.8M616.8 1015.3V1033.4M617.8 1023.1V1031.6M618.7 1007.1V1027.3M619.6 1006.4V1046.9M620.5 998.9V1025M621.6 1013.7V1039.5M622.7 1011.5V1036.1M623.7 994.2V1019.9M624.8 1011V1028.8M625.8 1005.8V1028.6M626.9 997.8V1018.9M628 1008.6V1020.5M628.9 1010.5V1025.7M629.8 1009.2V1044.6M630.8 1020.9V1036.9M631.7 1019.2V1028M632.6 1020.6V1040.2M633.5 1024.8V1035.4M634.5 1020.5V1038.4M635.4 1037.6V1052.8M636.3 1032.8V1046.5M637.2 1025.9V1059.5M638.2 1023.2V1040.4M639.1 1032V1055.3M640 1030.7V1049.7M641 1044.5V1059.3M641.9 1037.6V1057.9M642.8 1028.8V1039.4M643.7 1020.7V1041.1M644.7 1029.7V1043.1M645.6 1026.8V1044.2M646.5 1020.8V1029M647.5 1015.8V1035.6M648.4 1021V1044.9M649.3 1029.8V1049.6M650.2 1022V1044.1M651.2 1032.9V1047.8M652.1 1033.3V1055M653 1025.1V1049.2M654 1018.9V1053.9M654.9 1031.6V1055.5M655.8 1025.7V1046.9M656.7 1022.7V1041.4M657.7 1012.9V1030.7M658.6 1015V1034.1M659.5 1014.7V1042.4M660.5 1015.6V1033.5M661.4 1014.6V1035.5M662.3 1009.2V1022.3M663.2 1010.7V1052.9M664.2 1017.9V1038M665.1 1023V1058.6M666 996.2V1028.7M667 988.5V1002M667.9 987.2V1023.7M668.8 988.6V1034.7M669.7 1012V1028.2M670.7 1016.1V1033.9M671.6 1019.1V1048.6M672.5 1034.5V1067.3M673.5 1018.3V1038.1M674.4 1028.5V1062.1M675.3 1026.4V1048.7M676.2 1027.2V1042.3M677.3 1015.3V1038.4M678.4 1019.9V1052.4M679.4 1024V1041.8M680.5 1024.5V1049.9M681.5 1027.7V1043.2M682.6 1024.7V1071.5M683.7 1041.3V1058.2M684.7 1017.8V1046M685.8 1028.9V1043.5M686.8 1033.1V1054.8M687.9 1026.2V1061.2M689 1032.3V1047.6M690 1035.4V1045.1M691.1 1017.4V1037M692 1037V1061.2M692.6 1032V1046.8M697.6 1070.2V1086M705.9 1061.7V1068.2M707.4 1001.9V1010.8M708.2 998.6V1006.6M739 1003.3V1006.7M739.9 1009V1015.2M740.8 1010.4V1026.9M741.8 1012.8V1041.2M742.7 1020.1V1032.2M743.6 1017V1030.2M744.6 1021.3V1036.6M745.5 1013.5V1039.6M746.4 1019.4V1038.1M747.3 1022V1051.3M748.3 1037.6V1054.5M749.2 1042.7V1050.9M750.1 1040.2V1047.7M751.1 1036.8V1053.5M752 1010.2V1053.4M752.9 1036.6V1060.3M753.8 1049.1V1076.9M754.8 1030.6V1054.5M755.7 1045.7V1071.8M756.6 1035.1V1070.8M757.6 1033V1057.4M758.5 1030.9V1082M759.4 1043.4V1058.7M760.3 1031.5V1061.3M761.3 1035.5V1043.5M762.2 1003.3V1041.9M763.1 1034V1055.2M764.1 1027.3V1055M765 1030.5V1051.8M765.9 1023.7V1037.2M766.8 1023.8V1036.9M767.8 1028.2V1045.1M768.7 1020.3V1036.5M769.6 1017.4V1042.3M770.6 1022V1032.7M771.5 1025.3V1047M772.4 1010.7V1042.9M773.3 1024.2V1042.2M774.3 1020.6V1036M775.2 1008.8V1029.7M776.1 1028.7V1039.7M777.1 1016.9V1037M778 1023.1V1043.1M778.9 1012.4V1037.3M779.8 1035.6V1056.1M780.8 1038.6V1073M781.7 1033.8V1054.9M782.6 1035.6V1068.4M783.6 1032.5V1055.2M784.5 1037.4V1053.3M785.4 1045.3V1061.7M786.3 1035.1V1065.4M787.3 1041.2V1056.4M788.2 1030.4V1063.4M789.1 1037.4V1077.1M790.1 1036.8V1052M791 1028.6V1046.7M791.9 1027.9V1048.7M792.8 1022.4V1054.5M793.8 1025.1V1047.6M794.7 1009.1V1030.8M795.6 1005.5V1032.6M796.5 1012.1V1037.9M797.5 997.5V1035.8M798.4 1017.3V1037.5M799.3 1022V1045.3M800.3 1023.7V1034.6M801.2 1025.5V1031.2M802.1 1023.1V1029.6M803 1024.5V1042.4M804 1021V1028.6M804.9 1022.7V1035.3M805.8 1023.8V1034.7M806.8 1022.1V1031.5M807.7 1021.3V1028.1M808.6 1021.4V1033.5M809.5 1024.5V1036.9M810.5 1020.7V1029M811.4 1027.5V1031.9M812.3 1027.9V1039.4M813.3 1029.2V1035.1M814.2 1032.2V1049.3M815.1 1024.6V1031.6M816 1032.3V1045.1M817 1026.3V1040.7M817.9 1029.3V1038.4M818.8 1032.9V1040.1M819.8 1028.7V1036.9M820.7 1026.3V1046.4M821.6 1025.7V1035M822.5 1024.9V1031.6M823.5 1025.1V1032.7M824.4 1025.1V1034.1M825.3 1028.4V1041.1M826.3 1027.1V1042.4M827.2 1031.7V1041.9M828.1 1035.5V1046.3M829 1034.5V1046.2M830 1029.8V1038.8M830.9 1033.9V1042.4M831.8 1029.9V1040.7M832.8 1036.5V1047.4M833.7 1040.4V1052.3M834.6 1038.3V1047.5M835.5 1030.4V1043.2M836.5 1043.8V1050.5M837.4 1036.5V1046.4M838.3 1042V1049.7M839.3 1041.7V1049.6M840.2 1041.5V1049M841.1 1044.1V1058.8M842 1037.2V1050M843 1040.5V1048.5M844 1037.6V1046.1M845.1 1036.3V1052.7M846.1 1041.5V1060M847.2 1035.9V1047.9M848.3 1033.7V1045.9M849.3 1041.6V1052.8M850.4 1035.5V1058.4M851.3 1038.1V1044.8M852.2 1035.9V1048.2M853.2 1031.9V1040.3M854.1 1035.1V1048.7M855.2 1036.2V1040.4M856.2 1035V1053.5M857.3 1032.5V1039.7M858.4 1034.9V1045.2M859.4 1028.9V1042.3M860.5 1034.5V1044.7M861.5 1035.5V1048.4M862.5 1032.7V1043.2M863.4 1034.4V1040.6M864.3 1036.3V1048.1M865.2 1036.6V1042.3M866.2 1029.1V1043.8M867.1 1025.1V1036.8M868 1031.4V1040.2M869 1027.6V1040.7M869.9 1034.8V1045.9M870.8 1032.5V1048M871.7 1036V1042.8M872.7 1033V1042.4M873.6 1029.5V1038.3M874.5 1031.2V1042.3M875.5 1033.5V1042.2M876.4 1028.2V1038.9M877.3 1031.4V1039.2M878.2 1029.1V1043.6M882.9 1020.6V1029.5M883.8 1027.1V1034M884.7 1025.6V1034.3M885.7 1029.6V1040.9M886.6 1023.1V1032.2M887.5 1023.4V1034.7M888.5 1021.5V1032.3M889.4 1027.1V1037.6M890.3 1020V1035.2M891.2 1020V1034.3M892.2 1026.9V1034.3M893.1 1026.7V1045.3M894 1026.5V1034.9M895 1032V1042.3M895.9 1029.7V1041.1M896.8 1023.4V1034.5M897.7 1026.8V1037.9M898.7 1029.8V1043.5M899.7 1029V1039.9M900.7 1021V1036.2M901.8 1028.5V1035.5M902.8 1024.5V1032.8M903.8 1027.2V1035.3M904.9 1027.5V1036M905.9 1025.6V1044.3M906.9 1030.6V1040.8M907.9 1025.4V1035.2M908.9 1027.2V1043.7M909.8 1030.6V1043M910.7 1015.5V1026.9M911.7 1024.1V1034.1M912.6 1017.2V1034.1M913.5 1023.6V1031.6M914.4 1024.2V1031.1M915.4 1024.4V1030.6M916.3 1027.3V1036.1M917.2 1027.9V1037.5M918.2 1021.4V1032.9M919.2 1028.5V1039M920.2 1027.1V1036.6M921.1 1026.8V1034.1M922.1 1023.2V1035.9M923.1 1025.7V1039.6M924.1 1022V1029.7M925.1 1022.7V1027.2M926 1027.1V1035.5M927 1029V1036.5M928 1023.8V1034.3M928 1025.5V1039.6M928.9 1024.6V1036.7M929.9 1029.6V1037.7M930.8 1016.6V1057.9M931.7 1030.4V1048M932.6 1019.8V1035.6M933.6 1026.9V1043.5M934.5 1025.7V1057M935.4 1024.6V1044.9M936.4 1018.9V1055.3M937.3 1036.5V1063.9M938.2 1015.5V1045.3M939.1 1027.2V1042.9M940.1 1037.4V1052.4M941 1031.3V1048.3M941.9 1029.3V1044.2M942.9 1023V1036.8M943.8 1029.5V1050.3M944.7 1024.9V1049.3M945.6 1018.3V1048.3M946.6 1026.6V1044.1M947.5 1026.2V1052.1M948.4 1025.5V1050.3M949.4 1034.3V1074.2M950.3 1042.8V1059.9M951.2 1000.6V1028.9M952.1 1006.6V1016.9M953.1 1002.1V1039.1M954 1002.9V1033.2M954.9 1003.3V1017.3M955.8 993.8V1017M956.8 1003.8V1019.9M957.7 1002V1024.1M958.6 1010.3V1026.8M959.6 1010.2V1040.2M960.5 1001.9V1026.6M961.4 1008.4V1018.6M962.3 1011.3V1026M963.3 1001.6V1018.1M964.2 1008.5V1018.5M965.1 998.1V1006.6M966.1 998.8V1012.4M967 1001.8V1015.9M967.9 995.9V1007.1M968.8 1006.2V1015.7M969.8 999.3V1019.8M970.7 978.9V1007M971.6 986.3V1012.6M972.6 1003.9V1015.8M973.5 994.3V1007.2M974.4 989.3V1006.7M975.3 992.5V1018.2M976.3 996V1016.4M977.2 998.6V1011.1M978.1 1002.7V1017M979.1 1004.8V1026.2M980 998.9V1016.2M980.9 996.5V1016M981.8 987.4V1011.7M982.8 987.5V1001M983.7 1001.6V1012.7M984.6 996V1012.6M985.6 994.5V1024.2M986.5 1014.3V1036.9M987.4 1021.2V1038.7M988.3 1016.6V1044.8M989.3 1026.8V1049.9M990.2 1022.6V1041.3M991.1 1004.7V1030.3M992.1 1008.1V1025.1M993 1015.8V1027.7M993.9 1006.8V1029.5M994.8 1001.8V1013.6M995.8 1000.7V1024.8M996.7 995.8V1039.5M997.6 1012.4V1033.2M998.6 1011.1V1025.8M999.5 1007.3V1043.2M1000.4 1020.7V1029.9M1001.3 1013.1V1051.5M1002.3 1001.2V1021.9M1003.2 1002.2V1030.7M1004.1 1021.4V1038.3M1005.1 1018.2V1025.3M1006 1023.2V1033.9M1006.9 997.5V1021.2M1007.8 1015.6V1034M1008.8 1012.8V1032.5M1009.7 1017.7V1029.6M1010.6 1012.3V1030M1011.5 1019.3V1027.9M1012.5 1011.6V1024.8M1013.4 1015.2V1042.6M1014.3 1020.2V1035.6M1015.3 1021.9V1050M1016.2 1014.1V1031.8M1017.1 1020.6V1036.1M1018 1018.9V1028.9M1019 1021.7V1035.5M1019.9 1013.9V1033.9M1020.8 1020.5V1047.6M1021.8 1007.9V1024.3M1022.7 1015.2V1034.6M1023.6 1020.5V1037.4M1024.5 1015.1V1028.8M1025.5 1019.1V1033M1026.4 1017V1026.6M1027.3 1015.9V1032.3M1028.3 1008.6V1029.4M1029.2 1011.2V1041.1M1030.1 1030.1V1038.2M1031 1021.9V1031.5M1032 998.7V1011.9M1032.9 1013.8V1035.5M1033.8 1014.4V1040M1034.8 1036.3V1051.5M1035.7 1003.2V1021.7M1036.6 998.8V1033.3M1037.5 1011.1V1039.4M1038.5 1016.7V1029.6M1039.4 1010.5V1026.8M1040.3 996.2V1026.4M1041.3 995.1V1019.6M1042.2 1000.7V1019.6M1043.1 994.7V1001.3M1044 990.3V1010.2M1045 995.9V1010.5M1045.9 991.1V1008.8M1046.8 998.5V1018.7M1047.8 989.3V1010.5M1048.7 1001.2V1018.2M1049.6 1000.1V1006M1050.5 997V1012.2M1051.5 995.1V1016.3M1052.4 998.6V1015.2M1053.3 1000V1012.1M1054.3 998.3V1022.2M1055.2 983.7V1001.2M1056.1 981V1015.2M1057 994.3V1016.6M1058 1003.2V1019.8M1058.9 995.9V1025.3M1059.8 998.4V1022.8M1060.8 997.2V1024.4M1061.7 1014.3V1032.6" stroke="#7fe07f" stroke-opacity="0.58" stroke-width="1" fill="none"/>
<path d="M68 954.8L68.9 958.5L69.9 960.2L70.8 962.8L71.7 945.1L72.6 948.5L73.6 947.8L74.5 951.2L75.4 952.3L76.4 946.9L77.3 955.1L78.2 947.4L79.1 958.4L80.1 951.9L81 959L81.9 960.7L82.9 958.8L83.8 954.9L84.7 952.6L85.6 949.3L86.6 961.8L87.5 957.2L88.4 964.1L89.4 956.7L90.3 956.8L91.2 952.3L92.1 954.3L93.1 946.1L94 958L94.9 956.6L95.8 957.9L96.8 959.1L97.7 947.5L98.6 941.2L99.6 959.7L100.5 956.7L101.4 949.9L102.3 949.9L103.3 958.6L104.2 963.5L105.1 956.1L106.1 951.6L107 961L107.9 963.8L108.8 953.1L109.8 965.2L110.7 958L111.6 965L112.6 969.4M120 959.6L120.9 955.1L121.8 962.7L122.8 961.9L123.7 964.3L124.6 958.2L125.6 958.9L126.5 973.6L127.4 970.1L128.3 972.7L129.3 959.1L130.2 959.7L131.1 963.1L132.1 959.2L133 964.5L133.9 974.1L134.8 959.9L135.8 968.8L136.7 961.2L137.6 958.2L138.6 966.2L139.5 963.6L140.4 965.1L141.3 963.7L142.3 957L143.2 959.8L144.1 969.4L145.1 971.9L146 973L146.9 977.9L147.8 983.9L148.8 982L149.7 976.7L150.6 969.4L151.5 977.3L152.5 970.1L153.4 952.1L154.3 968.2L155.3 972.1L156.2 963.9L157.1 966.7L158 970.7L159 967M164.5 976.3L165.5 966.4L166.4 971.5L167.3 972L168.3 970.3L169.2 970.3L170.1 961.5L171 982.6L172 970L172.9 978L173.8 970L174.8 966L175.7 962L176.6 971.6L177.5 984.5L178.5 984.5L179.4 1000.1L180.3 990.1L181.3 988.6L182.2 994.8L183.1 985.6L184 972.2L185 985.5L185.9 972.1L186.8 971.9L187.8 982.5L188.7 976.8L189.7 966.7L190.7 979.2L191.8 990.3L192.8 966.2L193.8 971L194.9 967.3L195.9 975L196.9 972.7L198 973.5L199 967L200.1 977.1L201.1 974.7L202.2 988.2L203.3 976.3L204.3 968.8L205.4 970.1L206.3 976.8L207.2 975L208.2 974.9L209.1 985.5L210 979.5L211 977.4L211.9 972.5L212.8 972.1L213.7 979.7L214.7 980.4L215.6 977.9L216.5 974.7L217.5 979.8L218.4 996.1L219.3 997.7L220.2 1004.1L221.2 994.3L222.1 1001.1L223 996.5L224 994.7L224.9 992.7L225.8 1002.4L226.7 997.5L227.7 992.6L228.6 988.1L229.5 983.9L230.5 981.7L231.4 980.6L232.3 969.7L233.2 967.7L234.2 971.4L235.1 975.5L236 979.8L237 979.6L237.9 979L238.8 988.6L239.7 980.5L240.7 985.2L241.6 988.4L242.5 973.9L243.5 988.6L244.4 976L245.3 968.3L246.2 969L247.2 966.2L248.1 977.8L249 978.6L250 980.9L250.9 981.3L251.8 984.2L252.7 980.7L253.7 977.6L254.6 986.8L255.5 987.1L256.5 991.7L257.4 991.3L258.4 987.1L259.5 992.3L260.6 984.9L261.6 988.2L262.7 985.7L263.7 987.2L264.8 983.8L265.7 992.2L266.7 1003L267.6 992.9L268.5 1003.2L269.4 1002.4L270.4 998.5L271.3 989.4L272.2 995.8L273.2 981.7L274.1 955.4L275 956.6L275.9 943.6L276.9 971.4L277.8 984L278.8 994.5L279.9 987.3L280.9 988.8L282 994L283 993.7L283 986L283.9 993.9L284.9 982.6L285.8 997.2L286.7 998.6L287.6 989.7L288.6 985.9L289.5 986.4L290.4 971.2L291.4 983.5L292.3 995.2L293.2 990L294.1 998.4L295.1 1000.8L296 1003.6L296.9 1000.3L297.9 997.7L298.8 1004L299.7 998.2L300.6 995.9L301.6 1006.4L302.5 994.9L303.4 995L304.4 990.8L305.3 996.2L306.2 985.5L307.1 991.1L308.1 987.6L309 1004.3L309.9 996.7L310.8 994.9L311.9 995.6L312.9 990.7L313.9 994.5L315 997.7L316 986.2L317 985.2L318.1 992.4L319.1 988.2L320.1 993.7L321.2 989.1L322.2 993.5L323.2 980.3L324.3 992.8L325.3 992L326.3 989.6L327.4 993.3L328.4 989.3L329.4 978.3L330.4 986.8L331.5 985.3L332.5 983.6L333.5 994.2L334.6 984.5L335.6 977.9L336.6 985.3L337.7 985.9L338.7 977.9L339.6 983.6L340.6 988.9L341.5 988.7L342.4 974.6L343.3 978.6L344.3 985.8L345.2 981L346.1 982.8L347.1 992.3L348 980.2L348.9 986.4L349.8 985.1L350.9 977.1L352 984.3L353 989.1L354.1 991.3L355.1 989.8L356.2 989.3L357.3 993.7L358.2 987.9L359.1 989.8L360.1 993L361 997.6L361.9 1003.6L362.8 1004.2L363.9 989.4L365 991.9L366 995.5L367.1 998.3L368.1 996.7L369.2 998.6L370.3 985.4L371.2 995.3L372.1 1000.8L373 1000.1L374 1005.7L374.9 1002.5L375.8 999.8L376.8 996.2L377.7 996.4L378.6 1003.7L379.5 995.4L380.5 1005.2L381.4 996.5L382.3 1002.1L383.3 999.8L384.2 1004.5L385.1 1011.4L386 996.4L387 999.7L387.9 1000.4L388.8 993.8L389.8 993.2L390.7 994.4L391.6 1003.4L392.5 1003.3L393.5 1006.5L394.4 999.5L395.3 990.8L396.3 1006.4L397.2 1000.9L398.1 1001.4L399 1000.7L400 1003.6L400.9 1001.7L401.8 1002.3L402.8 1009.8L403.7 1008.6L404.6 1005.7L405.5 1011.1L406.5 1006.3L407.4 1003.4L408.3 1012.1L409.3 1012.9L410.3 1004.1L411.4 1006.3L412.4 1008.6L413.5 1006.9L414.6 1000L415.6 1006.8L416.7 1001L417.6 993.3L418.5 991.9L419.5 987.5L420.4 979.9L421.3 978.9L422.2 981.2L423.2 978.6L424.1 977.4L425.2 977.8L426.2 976.1L427.3 979.7L428.4 976.1L429.4 977.4L430.5 978.3L431.5 976.6L432.5 1004.6L433.5 1005.2L434.6 1007.4L435.6 1007L436.6 1005.4L437.7 1008.7L438.7 1009.3L439.8 1008.5L440.8 1009.8L441.8 1011L442.9 1011.1L443.9 1011.4L444.9 1011.2L446 1013.2L447 1011.3L448 1012.5L449.1 1013.1L450.1 1012.8L451.1 1014.3L452.2 1013.8L453.2 1012.5L454.2 1014.3L455.3 1011.7L456.3 1013.1L457.3 1010.6L458.4 1016L459.4 1011.2L460.4 1010.3L461.5 1009.4L462.6 1009.1L463.6 1009.3L464.7 1007.8L465.7 1008.7L466.8 1004.1L467.7 1004.5L468.7 1003.7L469.6 998.5L470.5 999.4L471.5 993.8L472.4 992.7L473.3 993.4L474.2 993L475.2 992.8L476.1 993.6L477 993.7L477.9 992.9L478.9 994.3L479.8 993.1L480.7 997.1L481.7 996.7L482.6 996.6L483.5 996.7L484.6 998.1L485.6 996.9L486.7 998.2L487.8 997.6L488.8 999L489.9 998.1L490.9 997L492 994.7L493 996.4L494 995.4L495 993.9L496 995.5L497 996.2L498 997.9L498 1001.4L498.9 997.5L499.9 1000.5L500.8 1001.7L501.7 1005.4L502.6 1000.5L503.6 1006L504.5 998L505.4 1000.8L506.4 1002.9L507.3 995.9L508.2 1001.5L509.1 999.3L510.2 997.8L511.3 997.2L512.3 996.1L513.4 999.5L514.4 992.9L515.5 994.9L516.6 993.4L517.5 995.3L518.4 995.8L519.4 995.4L520.3 1002.8L521.2 993.6L522.1 995.5L523.1 994.3L524 994.5L524.9 992.4L525.8 990.8L526.8 997.1L527.7 992.6L528.6 992.6L529.6 995.9L530.5 993.2L531.4 993.8L532.3 998.3L533.3 998.1L534.2 1001.3L535.1 1003.8L536.1 996.1L537 1005.8L537.9 1002.7L538.8 1005L539.8 1011.6L540.7 1014.2L541.6 1017.4L542.6 1022.8L543.5 1032.9L544.4 1045.9L545.3 1047L546.3 1043.4L547.2 1050.9L548.1 1054L549.1 1052.6L550 1050.4L550.9 1054.1L551.8 1045L552.8 1052.5L553.7 1050.3L554.6 1041.8L555.6 1033.6L556.5 1027.6L557.4 1020.2L558.3 1020.9L559.3 1009.3L560.2 1012.1L561.1 1016.2L562.1 1015.4L563 1006.7L563.9 1007.8L564.8 1003.6L565.8 1006.4L566.7 1004L567.6 1003.2L568.6 1004.3L569.5 1008.1L570.4 1010.1L571.3 1008.7M572.3 986.8L573.2 987.7L574.1 985.9L575.1 991.6L576 985M578.8 985.5L579.7 989.1L580.6 991.3L581.5 985.8L582.5 988.7L583.4 987.6L584.3 983.4M584.3 1011.5L585.3 1012.4L586.2 1016.5L587.1 1013.7L588 1018.6L589 1020.3L589.9 1020L590.8 1022.8L591.8 1023.9L592.7 1023.6L593.6 1023.7L594.5 1030.9L595.5 1030.3L596.4 1034L597.3 1035.1L598.3 1038.4L599.2 1040.7L600.1 1036L601 1040L602 1035.8L602.9 1038.9L603.8 1035.8L604.8 1037.8L605.7 1038.3L606.6 1036.7L607.5 1040.4L608.5 1039.7L609.4 1044.2L610.3 1043.8L611.3 1035.2L612.2 1048.2L613.1 1033.5L614 1028.1L615 1041.1L615.9 1032L616.8 1026.4L617.8 1027.6L618.7 1015.1L619.6 1011.6L620.5 1015.1L621.6 1018.1L622.7 1024.1L623.7 1012.7L624.8 1016.9L625.8 1009.5L626.9 1007.9L628 1012L628.9 1016.4L629.8 1016.1L630.8 1030.2L631.7 1023.7L632.6 1027.5L633.5 1031L634.5 1032.5L635.4 1041.8L636.3 1040.5L637.2 1044.5L638.2 1032.5L639.1 1041.3L640 1042.6L641 1047.8L641.9 1042.5L642.8 1032.3L643.7 1029.7L644.7 1034.9L645.6 1030.2L646.5 1025.4L647.5 1028.1L648.4 1030.9L649.3 1034.4L650.2 1033L651.2 1036.5L652.1 1046.5L653 1037.7L654 1039.5L654.9 1038.7L655.8 1034.2L656.7 1033.9L657.7 1025.5L658.6 1023.6L659.5 1030.4L660.5 1024.2L661.4 1032.4L662.3 1019.1L663.2 1017.3L664.2 1026L665.1 1030.9L666 1018.2L667 997.5L667.9 999.3L668.8 1005.2L669.7 1022.2L670.7 1025.4L671.6 1034.3L672.5 1039.4L673.5 1031.6L674.4 1035.8L675.3 1031.7L676.2 1035.3L677.3 1032.2L678.4 1041.3L679.4 1028.8L680.5 1041.9L681.5 1033.4L682.6 1034L683.7 1044.7L684.7 1029.8L685.8 1039.4L686.8 1042.3L687.9 1034L689 1040.5L690 1039.2L691.1 1028.2M692 1047.2L692.6 1040.8M707.4 1003.3L708.2 1002.7M739 1004.7L739.9 1011.5L740.8 1017.5L741.8 1023.8L742.7 1026.6L743.6 1022.3L744.6 1029.3L745.5 1026.4L746.4 1028.5L747.3 1037.5L748.3 1047.6L749.2 1046.6L750.1 1044.6L751.1 1041.1L752 1034.6L752.9 1055.9L753.8 1054.4L754.8 1050.3L755.7 1060.5L756.6 1042.7L757.6 1044.9L758.5 1045.2L759.4 1053.9L760.3 1050.2L761.3 1039.8L762.2 1030.4L763.1 1044.4L764.1 1037.6L765 1040.7L765.9 1033L766.8 1030.9L767.8 1033.2L768.7 1030.4L769.6 1032.8L770.6 1026.2L771.5 1033.4L772.4 1026.1L773.3 1036.3L774.3 1030.1L775.2 1025.3L776.1 1034.5L777.1 1028L778 1031.8L778.9 1022L779.8 1048.2L780.8 1047.5L781.7 1042.3L782.6 1041.9L783.6 1039.1L784.5 1046.8L785.4 1053.8L786.3 1044.1L787.3 1044.9L788.2 1037.9L789.1 1043.6L790.1 1044.5L791 1037.2L791.9 1036.9L792.8 1041L793.8 1038.2L794.7 1025.1L795.6 1026.5L796.5 1026.9L797.5 1023.9L798.4 1033.3L799.3 1031L800.3 1031.2L801.2 1029.4L802.1 1027.7L803 1027L804 1023.7L804.9 1032L805.8 1028.7L806.8 1027.4L807.7 1026.4L808.6 1027.9L809.5 1030.2L810.5 1026.1L811.4 1029.8L812.3 1033.4L813.3 1030.9L814.2 1037.9L815.1 1029.7L816 1037.4L817 1031.9L817.9 1033.7L818.8 1037.1L819.8 1031.9L820.7 1031.5L821.6 1030.9L822.5 1027.1L823.5 1028.1L824.4 1029L825.3 1035.3L826.3 1032.5L827.2 1036.8L828.1 1038.2L829 1036.2L830 1033.9L830.9 1040.6L831.8 1035.6L832.8 1040.9L833.7 1047.2L834.6 1043.7L835.5 1041L836.5 1045.4L837.4 1044L838.3 1046L839.3 1047.6L840.2 1047L841.1 1046L842 1042.7L843 1042.2L844 1044L845.1 1042.1L846.1 1046.2L847.2 1041.1L848.3 1040.1L849.3 1044.7L850.4 1046.1L851.3 1042.9L852.2 1042.2L853.2 1038.5L854.1 1044.1L855.2 1038.9L856.2 1037.5L857.3 1037.6L858.4 1042.6L859.4 1039.1L860.5 1041.5L861.5 1040.6L862.5 1038.4L863.4 1038.3L864.3 1039L865.2 1038.7L866.2 1035.8L867.1 1033.7L868 1033.6L869 1034L869.9 1037.2L870.8 1036.1L871.7 1037.7L872.7 1038.7L873.6 1033L874.5 1037.4L875.5 1036.5L876.4 1032.2L877.3 1035.9L878.2 1031.9M882.9 1024.5L883.8 1030.7L884.7 1028.7L885.7 1035.6L886.6 1028.7L887.5 1027.5L888.5 1028.9L889.4 1031.2L890.3 1025.7L891.2 1025.6L892.2 1030.5L893.1 1032.1L894 1032.8L895 1036.8L895.9 1034.5L896.8 1028.8L897.7 1032.4L898.7 1033.6L899.7 1034.2L900.7 1025.5L901.8 1031.8L902.8 1030.4L903.8 1033.2L904.9 1033.4L905.9 1029.5L906.9 1034.6L907.9 1029.5L908.9 1032L909.8 1032.2L910.7 1022.7L911.7 1029.7L912.6 1020.3L913.5 1029.3L914.4 1027.7L915.4 1028.2L916.3 1032.4L917.2 1030.4L918.2 1028.6L919.2 1031.8L920.2 1029.8L921.1 1032.1L922.1 1025.5L923.1 1032.3L924.1 1024.2L925.1 1025.4L926 1031.1L927 1031.9L928 1028.3L928 1032L928.9 1030.7L929.9 1033.3L930.8 1029.6L931.7 1039.2L932.6 1025.6L933.6 1035.4L934.5 1036.3L935.4 1037.9L936.4 1033.3L937.3 1039.9L938.2 1035.8L939.1 1036.2L940.1 1042.2L941 1038.5L941.9 1035L942.9 1029.8L943.8 1037.2L944.7 1039.8L945.6 1027.8L946.6 1034.7L947.5 1037.9L948.4 1033.6L949.4 1047.4L950.3 1050.3L951.2 1019.3L952.1 1012.6L953.1 1017.4L954 1005.7L954.9 1012.6L955.8 1012.7L956.8 1013.4L957.7 1014.3L958.6 1016.8L959.6 1013.1L960.5 1015.2L961.4 1014.3L962.3 1015.8L963.3 1008.4L964.2 1011.1L965.1 1001L966.1 1005.9L967 1005.8L967.9 1004.2L968.8 1010.5L969.8 1013.7L970.7 1002L971.6 1005.2L972.6 1010.7L973.5 998.3L974.4 999.3L975.3 1000.7L976.3 1006.3L977.2 1003.6L978.1 1012.3L979.1 1014.7L980 1008.4L980.9 1004.5L981.8 1007.3L982.8 997.6L983.7 1008.6L984.6 1002.6L985.6 1012.4L986.5 1021.5L987.4 1026.4L988.3 1030.7L989.3 1034.2L990.2 1030.1L991.1 1022.4L992.1 1016.1L993 1019.3L993.9 1015.2L994.8 1010.5L995.8 1012.8L996.7 1012.6L997.6 1020L998.6 1021.1L999.5 1014L1000.4 1024.8L1001.3 1025.1L1002.3 1013.3L1003.2 1026.2L1004.1 1027.6L1005.1 1020.7L1006 1026.5L1006.9 1015.1L1007.8 1026.8L1008.8 1024.4L1009.7 1025.8L1010.6 1022.4L1011.5 1022.2L1012.5 1021.5L1013.4 1018L1014.3 1028.7L1015.3 1028.1L1016.2 1022.7L1017.1 1026.2L1018 1023.7L1019 1027.1L1019.9 1024.1L1020.8 1027L1021.8 1020.4L1022.7 1023.9L1023.6 1030.3L1024.5 1019.1L1025.5 1025.3L1026.4 1023.2L1027.3 1029.2L1028.3 1023.2L1029.2 1031.2L1030.1 1032.9L1031 1025.9L1032 1007.7L1032.9 1022.3L1033.8 1034.7L1034.8 1041L1035.7 1011.6L1036.6 1017.9L1037.5 1020.4L1038.5 1019.3L1039.4 1017.1L1040.3 1015L1041.3 1010.4L1042.2 1009.7L1043.1 998.2L1044 1005.7L1045 1005.5L1045.9 1002.8L1046.8 1009.2L1047.8 1007.5L1048.7 1012.6L1049.6 1003.4L1050.5 1004.9L1051.5 1003.6L1052.4 1005L1053.3 1005.8L1054.3 1006.3L1055.2 988.1L1056.1 1000.8L1057 1009.6L1058 1014.4L1058.9 1018L1059.8 1008L1060.8 1015.3L1061.7 1023.1" stroke="#33cc33" stroke-opacity="0.35" stroke-width="1" fill="none" stroke-linejoin="round"/>
<path d="M67.2 954.8h1.5M68.2 958.5h1.5M69.1 960.2h1.5M70 962.8h1.5M71 945.1h1.5M71.9 948.5h1.5M72.8 947.8h1.5M73.7 951.2h1.5M74.7 952.3h1.5M75.6 946.9h1.5M76.5 955.1h1.5M77.5 947.4h1.5M78.4 958.4h1.5M79.3 951.9h1.5M80.2 959h1.5M81.2 960.7h1.5M82.1 958.8h1.5M83 954.9h1.5M84 952.6h1.5M84.9 949.3h1.5M85.8 961.8h1.5M86.7 957.2h1.5M87.7 964.1h1.5M88.6 956.7h1.5M89.5 956.8h1.5M90.5 952.3h1.5M91.4 954.3h1.5M92.3 946.1h1.5M93.2 958h1.5M94.2 956.6h1.5M95.1 957.9h1.5M96 959.1h1.5M97 947.5h1.5M97.9 941.2h1.5M98.8 959.7h1.5M99.7 956.7h1.5M100.7 949.9h1.5M101.6 949.9h1.5M102.5 958.6h1.5M103.5 963.5h1.5M104.4 956.1h1.5M105.3 951.6h1.5M106.2 961h1.5M107.2 963.8h1.5M108.1 953.1h1.5M109 965.2h1.5M110 958h1.5M110.9 965h1.5M111.8 969.4h1.5M119.2 959.6h1.5M120.2 955.1h1.5M121.1 962.7h1.5M122 961.9h1.5M122.9 964.3h1.5M123.9 958.2h1.5M124.8 958.9h1.5M125.7 973.6h1.5M126.7 970.1h1.5M127.6 972.7h1.5M128.5 959.1h1.5M129.4 959.7h1.5M130.4 963.1h1.5M131.3 959.2h1.5M132.2 964.5h1.5M133.2 974.1h1.5M134.1 959.9h1.5M135 968.8h1.5M135.9 961.2h1.5M136.9 958.2h1.5M137.8 966.2h1.5M138.7 963.6h1.5M139.7 965.1h1.5M140.6 963.7h1.5M141.5 957h1.5M142.4 959.8h1.5M143.4 969.4h1.5M144.3 971.9h1.5M145.2 973h1.5M146.2 977.9h1.5M147.1 983.9h1.5M148 982h1.5M148.9 976.7h1.5M149.9 969.4h1.5M150.8 977.3h1.5M151.7 970.1h1.5M152.7 952.1h1.5M153.6 968.2h1.5M154.5 972.1h1.5M155.4 963.9h1.5M156.4 966.7h1.5M157.3 970.7h1.5M158.2 967h1.5M163.8 976.3h1.5M164.7 966.4h1.5M165.7 971.5h1.5M166.6 972h1.5M167.5 970.3h1.5M168.4 970.3h1.5M169.4 961.5h1.5M170.3 982.6h1.5M171.2 970h1.5M172.2 978h1.5M173.1 970h1.5M174 966h1.5M174.9 962h1.5M175.9 971.6h1.5M176.8 984.5h1.5M177.7 984.5h1.5M178.6 1000.1h1.5M179.6 990.1h1.5M180.5 988.6h1.5M181.4 994.8h1.5M182.4 985.6h1.5M183.3 972.2h1.5M184.2 985.5h1.5M185.1 972.1h1.5M186.1 971.9h1.5M187 982.5h1.5M187.9 976.8h1.5M189 966.7h1.5M190 979.2h1.5M191 990.3h1.5M192.1 966.2h1.5M193.1 971h1.5M194.1 967.3h1.5M195.2 975h1.5M196.2 972.7h1.5M197.2 973.5h1.5M198.3 967h1.5M199.3 977.1h1.5M200.4 974.7h1.5M201.5 988.2h1.5M202.5 976.3h1.5M203.6 968.8h1.5M204.6 970.1h1.5M205.6 976.8h1.5M206.5 975h1.5M207.4 974.9h1.5M208.4 985.5h1.5M209.3 979.5h1.5M210.2 977.4h1.5M211.1 972.5h1.5M212.1 972.1h1.5M213 979.7h1.5M213.9 980.4h1.5M214.9 977.9h1.5M215.8 974.7h1.5M216.7 979.8h1.5M217.6 996.1h1.5M218.6 997.7h1.5M219.5 1004.1h1.5M220.4 994.3h1.5M221.4 1001.1h1.5M222.3 996.5h1.5M223.2 994.7h1.5M224.1 992.7h1.5M225.1 1002.4h1.5M226 997.5h1.5M226.9 992.6h1.5M227.9 988.1h1.5M228.8 983.9h1.5M229.7 981.7h1.5M230.6 980.6h1.5M231.6 969.7h1.5M232.5 967.7h1.5M233.4 971.4h1.5M234.3 975.5h1.5M235.3 979.8h1.5M236.2 979.6h1.5M237.1 979h1.5M238.1 988.6h1.5M239 980.5h1.5M239.9 985.2h1.5M240.8 988.4h1.5M241.8 973.9h1.5M242.7 988.6h1.5M243.6 976h1.5M244.6 968.3h1.5M245.5 969h1.5M246.4 966.2h1.5M247.3 977.8h1.5M248.3 978.6h1.5M249.2 980.9h1.5M250.1 981.3h1.5M251.1 984.2h1.5M252 980.7h1.5M252.9 977.6h1.5M253.8 986.8h1.5M254.8 987.1h1.5M255.7 991.7h1.5M256.6 991.3h1.5M257.7 987.1h1.5M258.8 992.3h1.5M259.8 984.9h1.5M260.9 988.2h1.5M261.9 985.7h1.5M263 987.2h1.5M264.1 983.8h1.5M265 992.2h1.5M265.9 1003h1.5M266.8 992.9h1.5M267.8 1003.2h1.5M268.7 1002.4h1.5M269.6 998.5h1.5M270.6 989.4h1.5M271.5 995.8h1.5M272.4 981.7h1.5M273.3 955.4h1.5M274.3 956.6h1.5M275.2 943.6h1.5M276.1 971.4h1.5M277.1 984h1.5M278.1 994.5h1.5M279.1 987.3h1.5M280.2 988.8h1.5M281.2 994h1.5M282.3 993.7h1.5M282.2 986h1.5M283.2 993.9h1.5M284.1 982.6h1.5M285 997.2h1.5M286 998.6h1.5M286.9 989.7h1.5M287.8 985.9h1.5M288.7 986.4h1.5M289.7 971.2h1.5M290.6 983.5h1.5M291.5 995.2h1.5M292.5 990h1.5M293.4 998.4h1.5M294.3 1000.8h1.5M295.2 1003.6h1.5M296.2 1000.3h1.5M297.1 997.7h1.5M298 1004h1.5M299 998.2h1.5M299.9 995.9h1.5M300.8 1006.4h1.5M301.7 994.9h1.5M302.7 995h1.5M303.6 990.8h1.5M304.5 996.2h1.5M305.5 985.5h1.5M306.4 991.1h1.5M307.3 987.6h1.5M308.2 1004.3h1.5M309.2 996.7h1.5M310.1 994.9h1.5M311.1 995.6h1.5M312.2 990.7h1.5M313.2 994.5h1.5M314.2 997.7h1.5M315.3 986.2h1.5M316.3 985.2h1.5M317.3 992.4h1.5M318.4 988.2h1.5M319.4 993.7h1.5M320.4 989.1h1.5M321.4 993.5h1.5M322.5 980.3h1.5M323.5 992.8h1.5M324.5 992h1.5M325.6 989.6h1.5M326.6 993.3h1.5M327.6 989.3h1.5M328.7 978.3h1.5M329.7 986.8h1.5M330.7 985.3h1.5M331.8 983.6h1.5M332.8 994.2h1.5M333.8 984.5h1.5M334.9 977.9h1.5M335.9 985.3h1.5M336.9 985.9h1.5M337.9 977.9h1.5M338.9 983.6h1.5M339.8 988.9h1.5M340.7 988.7h1.5M341.7 974.6h1.5M342.6 978.6h1.5M343.5 985.8h1.5M344.4 981h1.5M345.4 982.8h1.5M346.3 992.3h1.5M347.2 980.2h1.5M348.2 986.4h1.5M349.1 985.1h1.5M350.2 977.1h1.5M351.2 984.3h1.5M352.3 989.1h1.5M353.3 991.3h1.5M354.4 989.8h1.5M355.5 989.3h1.5M356.5 993.7h1.5M357.4 987.9h1.5M358.4 989.8h1.5M359.3 993h1.5M360.2 997.6h1.5M361.2 1003.6h1.5M362.1 1004.2h1.5M363.1 989.4h1.5M364.2 991.9h1.5M365.3 995.5h1.5M366.3 998.3h1.5M367.4 996.7h1.5M368.5 998.6h1.5M369.5 985.4h1.5M370.4 995.3h1.5M371.4 1000.8h1.5M372.3 1000.1h1.5M373.2 1005.7h1.5M374.2 1002.5h1.5M375.1 999.8h1.5M376 996.2h1.5M376.9 996.4h1.5M377.9 1003.7h1.5M378.8 995.4h1.5M379.7 1005.2h1.5M380.7 996.5h1.5M381.6 1002.1h1.5M382.5 999.8h1.5M383.4 1004.5h1.5M384.4 1011.4h1.5M385.3 996.4h1.5M386.2 999.7h1.5M387.2 1000.4h1.5M388.1 993.8h1.5M389 993.2h1.5M389.9 994.4h1.5M390.9 1003.4h1.5M391.8 1003.3h1.5M392.7 1006.5h1.5M393.6 999.5h1.5M394.6 990.8h1.5M395.5 1006.4h1.5M396.4 1000.9h1.5M397.4 1001.4h1.5M398.3 1000.7h1.5M399.2 1003.6h1.5M400.1 1001.7h1.5M401.1 1002.3h1.5M402 1009.8h1.5M402.9 1008.6h1.5M403.9 1005.7h1.5M404.8 1011.1h1.5M405.7 1006.3h1.5M406.6 1003.4h1.5M407.6 1012.1h1.5M408.5 1012.9h1.5M409.6 1004.1h1.5M410.6 1006.3h1.5M411.7 1008.6h1.5M412.7 1006.9h1.5M413.8 1000h1.5M414.9 1006.8h1.5M415.9 1001h1.5M416.9 993.3h1.5M417.8 991.9h1.5M418.7 987.5h1.5M419.6 979.9h1.5M420.6 978.9h1.5M421.5 981.2h1.5M422.4 978.6h1.5M423.4 977.4h1.5M424.4 977.8h1.5M425.5 976.1h1.5M426.5 979.7h1.5M427.6 976.1h1.5M428.7 977.4h1.5M429.7 978.3h1.5M430.8 976.6h1.5M431.7 1004.6h1.5M432.8 1005.2h1.5M433.8 1007.4h1.5M434.8 1007h1.5M435.9 1005.4h1.5M436.9 1008.7h1.5M438 1009.3h1.5M439 1008.5h1.5M440.1 1009.8h1.5M441.1 1011h1.5M442.1 1011.1h1.5M443.2 1011.4h1.5M444.2 1011.2h1.5M445.2 1013.2h1.5M446.3 1011.3h1.5M447.3 1012.5h1.5M448.3 1013.1h1.5M449.3 1012.8h1.5M450.4 1014.3h1.5M451.4 1013.8h1.5M452.4 1012.5h1.5M453.5 1014.3h1.5M454.5 1011.7h1.5M455.5 1013.1h1.5M456.6 1010.6h1.5M457.6 1016h1.5M458.6 1011.2h1.5M459.7 1010.3h1.5M460.8 1009.4h1.5M461.8 1009.1h1.5M462.9 1009.3h1.5M463.9 1007.8h1.5M465 1008.7h1.5M466.1 1004.1h1.5M467 1004.5h1.5M467.9 1003.7h1.5M468.8 998.5h1.5M469.8 999.4h1.5M470.7 993.8h1.5M471.6 992.7h1.5M472.6 993.4h1.5M473.5 993h1.5M474.4 992.8h1.5M475.3 993.6h1.5M476.3 993.7h1.5M477.2 992.9h1.5M478.1 994.3h1.5M479.1 993.1h1.5M480 997.1h1.5M480.9 996.7h1.5M481.8 996.6h1.5M482.8 996.7h1.5M483.8 998.1h1.5M484.9 996.9h1.5M486 998.2h1.5M487 997.6h1.5M488.1 999h1.5M489.1 998.1h1.5M490.2 997h1.5M491.2 994.7h1.5M492.2 996.4h1.5M493.2 995.4h1.5M494.2 993.9h1.5M495.2 995.5h1.5M496.2 996.2h1.5M497.3 997.9h1.5M497.2 1001.4h1.5M498.2 997.5h1.5M499.1 1000.5h1.5M500 1001.7h1.5M501 1005.4h1.5M501.9 1000.5h1.5M502.8 1006h1.5M503.7 998h1.5M504.7 1000.8h1.5M505.6 1002.9h1.5M506.5 995.9h1.5M507.5 1001.5h1.5M508.4 999.3h1.5M509.5 997.8h1.5M510.5 997.2h1.5M511.6 996.1h1.5M512.6 999.5h1.5M513.7 992.9h1.5M514.8 994.9h1.5M515.8 993.4h1.5M516.7 995.3h1.5M517.7 995.8h1.5M518.6 995.4h1.5M519.5 1002.8h1.5M520.5 993.6h1.5M521.4 995.5h1.5M522.3 994.3h1.5M523.2 994.5h1.5M524.2 992.4h1.5M525.1 990.8h1.5M526 997.1h1.5M527 992.6h1.5M527.9 992.6h1.5M528.8 995.9h1.5M529.7 993.2h1.5M530.7 993.8h1.5M531.6 998.3h1.5M532.5 998.1h1.5M533.5 1001.3h1.5M534.4 1003.8h1.5M535.3 996.1h1.5M536.2 1005.8h1.5M537.2 1002.7h1.5M538.1 1005h1.5M539 1011.6h1.5M540 1014.2h1.5M540.9 1017.4h1.5M541.8 1022.8h1.5M542.7 1032.9h1.5M543.7 1045.9h1.5M544.6 1047h1.5M545.5 1043.4h1.5M546.5 1050.9h1.5M547.4 1054h1.5M548.3 1052.6h1.5M549.2 1050.4h1.5M550.2 1054.1h1.5M551.1 1045h1.5M552 1052.5h1.5M552.9 1050.3h1.5M553.9 1041.8h1.5M554.8 1033.6h1.5M555.7 1027.6h1.5M556.7 1020.2h1.5M557.6 1020.9h1.5M558.5 1009.3h1.5M559.4 1012.1h1.5M560.4 1016.2h1.5M561.3 1015.4h1.5M562.2 1006.7h1.5M563.2 1007.8h1.5M564.1 1003.6h1.5M565 1006.4h1.5M565.9 1004h1.5M566.9 1003.2h1.5M567.8 1004.3h1.5M568.7 1008.1h1.5M569.7 1010.1h1.5M570.6 1008.7h1.5M571.5 986.8h1.5M572.4 987.7h1.5M573.4 985.9h1.5M574.3 991.6h1.5M575.2 985h1.5M578 985.5h1.5M578.9 989.1h1.5M579.9 991.3h1.5M580.8 985.8h1.5M581.7 988.7h1.5M582.7 987.6h1.5M583.6 983.4h1.5M583.6 1011.5h1.5M584.5 1012.4h1.5M585.4 1016.5h1.5M586.4 1013.7h1.5M587.3 1018.6h1.5M588.2 1020.3h1.5M589.2 1020h1.5M590.1 1022.8h1.5M591 1023.9h1.5M591.9 1023.6h1.5M592.9 1023.7h1.5M593.8 1030.9h1.5M594.7 1030.3h1.5M595.7 1034h1.5M596.6 1035.1h1.5M597.5 1038.4h1.5M598.4 1040.7h1.5M599.4 1036h1.5M600.3 1040h1.5M601.2 1035.8h1.5M602.2 1038.9h1.5M603.1 1035.8h1.5M604 1037.8h1.5M604.9 1038.3h1.5M605.9 1036.7h1.5M606.8 1040.4h1.5M607.7 1039.7h1.5M608.6 1044.2h1.5M609.6 1043.8h1.5M610.5 1035.2h1.5M611.4 1048.2h1.5M612.4 1033.5h1.5M613.3 1028.1h1.5M614.2 1041.1h1.5M615.1 1032h1.5M616.1 1026.4h1.5M617 1027.6h1.5M617.9 1015.1h1.5M618.9 1011.6h1.5M619.8 1015.1h1.5M620.9 1018.1h1.5M621.9 1024.1h1.5M623 1012.7h1.5M624 1016.9h1.5M625.1 1009.5h1.5M626.2 1007.9h1.5M627.2 1012h1.5M628.1 1016.4h1.5M629.1 1016.1h1.5M630 1030.2h1.5M630.9 1023.7h1.5M631.9 1027.5h1.5M632.8 1031h1.5M633.7 1032.5h1.5M634.6 1041.8h1.5M635.6 1040.5h1.5M636.5 1044.5h1.5M637.4 1032.5h1.5M638.4 1041.3h1.5M639.3 1042.6h1.5M640.2 1047.8h1.5M641.1 1042.5h1.5M642.1 1032.3h1.5M643 1029.7h1.5M643.9 1034.9h1.5M644.9 1030.2h1.5M645.8 1025.4h1.5M646.7 1028.1h1.5M647.6 1030.9h1.5M648.6 1034.4h1.5M649.5 1033h1.5M650.4 1036.5h1.5M651.4 1046.5h1.5M652.3 1037.7h1.5M653.2 1039.5h1.5M654.1 1038.7h1.5M655.1 1034.2h1.5M656 1033.9h1.5M656.9 1025.5h1.5M657.9 1023.6h1.5M658.8 1030.4h1.5M659.7 1024.2h1.5M660.6 1032.4h1.5M661.6 1019.1h1.5M662.5 1017.3h1.5M663.4 1026h1.5M664.3 1030.9h1.5M665.3 1018.2h1.5M666.2 997.5h1.5M667.1 999.3h1.5M668.1 1005.2h1.5M669 1022.2h1.5M669.9 1025.4h1.5M670.8 1034.3h1.5M671.8 1039.4h1.5M672.7 1031.6h1.5M673.6 1035.8h1.5M674.6 1031.7h1.5M675.5 1035.3h1.5M676.6 1032.2h1.5M677.6 1041.3h1.5M678.7 1028.8h1.5M679.7 1041.9h1.5M680.8 1033.4h1.5M681.9 1034h1.5M682.9 1044.7h1.5M684 1029.8h1.5M685 1039.4h1.5M686.1 1042.3h1.5M687.2 1034h1.5M688.2 1040.5h1.5M689.3 1039.2h1.5M690.3 1028.2h1.5M691.3 1047.2h1.5M691.8 1040.8h1.5M696.8 1086h1.5M705.2 1065.1h1.5M706.7 1003.3h1.5M707.4 1002.7h1.5M738.2 1004.7h1.5M739.2 1011.5h1.5M740.1 1017.5h1.5M741 1023.8h1.5M742 1026.6h1.5M742.9 1022.3h1.5M743.8 1029.3h1.5M744.7 1026.4h1.5M745.7 1028.5h1.5M746.6 1037.5h1.5M747.5 1047.6h1.5M748.5 1046.6h1.5M749.4 1044.6h1.5M750.3 1041.1h1.5M751.2 1034.6h1.5M752.2 1055.9h1.5M753.1 1054.4h1.5M754 1050.3h1.5M755 1060.5h1.5M755.9 1042.7h1.5M756.8 1044.9h1.5M757.7 1045.2h1.5M758.7 1053.9h1.5M759.6 1050.2h1.5M760.5 1039.8h1.5M761.5 1030.4h1.5M762.4 1044.4h1.5M763.3 1037.6h1.5M764.2 1040.7h1.5M765.2 1033h1.5M766.1 1030.9h1.5M767 1033.2h1.5M767.9 1030.4h1.5M768.9 1032.8h1.5M769.8 1026.2h1.5M770.7 1033.4h1.5M771.7 1026.1h1.5M772.6 1036.3h1.5M773.5 1030.1h1.5M774.4 1025.3h1.5M775.4 1034.5h1.5M776.3 1028h1.5M777.2 1031.8h1.5M778.2 1022h1.5M779.1 1048.2h1.5M780 1047.5h1.5M780.9 1042.3h1.5M781.9 1041.9h1.5M782.8 1039.1h1.5M783.7 1046.8h1.5M784.7 1053.8h1.5M785.6 1044.1h1.5M786.5 1044.9h1.5M787.4 1037.9h1.5M788.4 1043.6h1.5M789.3 1044.5h1.5M790.2 1037.2h1.5M791.2 1036.9h1.5M792.1 1041h1.5M793 1038.2h1.5M793.9 1025.1h1.5M794.9 1026.5h1.5M795.8 1026.9h1.5M796.7 1023.9h1.5M797.7 1033.3h1.5M798.6 1031h1.5M799.5 1031.2h1.5M800.4 1029.4h1.5M801.4 1027.7h1.5M802.3 1027h1.5M803.2 1023.7h1.5M804.2 1032h1.5M805.1 1028.7h1.5M806 1027.4h1.5M806.9 1026.4h1.5M807.9 1027.9h1.5M808.8 1030.2h1.5M809.7 1026.1h1.5M810.7 1029.8h1.5M811.6 1033.4h1.5M812.5 1030.9h1.5M813.4 1037.9h1.5M814.4 1029.7h1.5M815.3 1037.4h1.5M816.2 1031.9h1.5M817.2 1033.7h1.5M818.1 1037.1h1.5M819 1031.9h1.5M819.9 1031.5h1.5M820.9 1030.9h1.5M821.8 1027.1h1.5M822.7 1028.1h1.5M823.6 1029h1.5M824.6 1035.3h1.5M825.5 1032.5h1.5M826.4 1036.8h1.5M827.4 1038.2h1.5M828.3 1036.2h1.5M829.2 1033.9h1.5M830.1 1040.6h1.5M831.1 1035.6h1.5M832 1040.9h1.5M832.9 1047.2h1.5M833.9 1043.7h1.5M834.8 1041h1.5M835.7 1045.4h1.5M836.6 1044h1.5M837.6 1046h1.5M838.5 1047.6h1.5M839.4 1047h1.5M840.4 1046h1.5M841.3 1042.7h1.5M842.2 1042.2h1.5M843.3 1044h1.5M844.3 1042.1h1.5M845.4 1046.2h1.5M846.5 1041.1h1.5M847.5 1040.1h1.5M848.6 1044.7h1.5M849.6 1046.1h1.5M850.6 1042.9h1.5M851.5 1042.2h1.5M852.4 1038.5h1.5M853.4 1044.1h1.5M854.4 1038.9h1.5M855.5 1037.5h1.5M856.5 1037.6h1.5M857.6 1042.6h1.5M858.7 1039.1h1.5M859.7 1041.5h1.5M860.8 1040.6h1.5M861.7 1038.4h1.5M862.6 1038.3h1.5M863.6 1039h1.5M864.5 1038.7h1.5M865.4 1035.8h1.5M866.4 1033.7h1.5M867.3 1033.6h1.5M868.2 1034h1.5M869.1 1037.2h1.5M870.1 1036.1h1.5M871 1037.7h1.5M871.9 1038.7h1.5M872.9 1033h1.5M873.8 1037.4h1.5M874.7 1036.5h1.5M875.6 1032.2h1.5M876.6 1035.9h1.5M877.5 1031.9h1.5M882.1 1024.5h1.5M883.1 1030.7h1.5M884 1028.7h1.5M884.9 1035.6h1.5M885.8 1028.7h1.5M886.8 1027.5h1.5M887.7 1028.9h1.5M888.6 1031.2h1.5M889.6 1025.7h1.5M890.5 1025.6h1.5M891.4 1030.5h1.5M892.3 1032.1h1.5M893.3 1032.8h1.5M894.2 1036.8h1.5M895.1 1034.5h1.5M896.1 1028.8h1.5M897 1032.4h1.5M897.9 1033.6h1.5M898.9 1034.2h1.5M900 1025.5h1.5M901 1031.8h1.5M902 1030.4h1.5M903.1 1033.2h1.5M904.1 1033.4h1.5M905.1 1029.5h1.5M906.2 1034.6h1.5M907.2 1029.5h1.5M908.1 1032h1.5M909.1 1032.2h1.5M910 1022.7h1.5M910.9 1029.7h1.5M911.8 1020.3h1.5M912.8 1029.3h1.5M913.7 1027.7h1.5M914.6 1028.2h1.5M915.6 1032.4h1.5M916.5 1030.4h1.5M917.5 1028.6h1.5M918.4 1031.8h1.5M919.4 1029.8h1.5M920.4 1032.1h1.5M921.4 1025.5h1.5M922.4 1032.3h1.5M923.3 1024.2h1.5M924.3 1025.4h1.5M925.3 1031.1h1.5M926.3 1031.9h1.5M927.3 1028.3h1.5M927.2 1032h1.5M928.2 1030.7h1.5M929.1 1033.3h1.5M930 1029.6h1.5M931 1039.2h1.5M931.9 1025.6h1.5M932.8 1035.4h1.5M933.7 1036.3h1.5M934.7 1037.9h1.5M935.6 1033.3h1.5M936.5 1039.9h1.5M937.5 1035.8h1.5M938.4 1036.2h1.5M939.3 1042.2h1.5M940.2 1038.5h1.5M941.2 1035h1.5M942.1 1029.8h1.5M943 1037.2h1.5M944 1039.8h1.5M944.9 1027.8h1.5M945.8 1034.7h1.5M946.7 1037.9h1.5M947.7 1033.6h1.5M948.6 1047.4h1.5M949.5 1050.3h1.5M950.5 1019.3h1.5M951.4 1012.6h1.5M952.3 1017.4h1.5M953.2 1005.7h1.5M954.2 1012.6h1.5M955.1 1012.7h1.5M956 1013.4h1.5M957 1014.3h1.5M957.9 1016.8h1.5M958.8 1013.1h1.5M959.7 1015.2h1.5M960.7 1014.3h1.5M961.6 1015.8h1.5M962.5 1008.4h1.5M963.5 1011.1h1.5M964.4 1001h1.5M965.3 1005.9h1.5M966.2 1005.8h1.5M967.2 1004.2h1.5M968.1 1010.5h1.5M969 1013.7h1.5M970 1002h1.5M970.9 1005.2h1.5M971.8 1010.7h1.5M972.7 998.3h1.5M973.7 999.3h1.5M974.6 1000.7h1.5M975.5 1006.3h1.5M976.5 1003.6h1.5M977.4 1012.3h1.5M978.3 1014.7h1.5M979.2 1008.4h1.5M980.2 1004.5h1.5M981.1 1007.3h1.5M982 997.6h1.5M982.9 1008.6h1.5M983.9 1002.6h1.5M984.8 1012.4h1.5M985.7 1021.5h1.5M986.7 1026.4h1.5M987.6 1030.7h1.5M988.5 1034.2h1.5M989.4 1030.1h1.5M990.4 1022.4h1.5M991.3 1016.1h1.5M992.2 1019.3h1.5M993.2 1015.2h1.5M994.1 1010.5h1.5M995 1012.8h1.5M995.9 1012.6h1.5M996.9 1020h1.5M997.8 1021.1h1.5M998.7 1014h1.5M999.7 1024.8h1.5M1000.6 1025.1h1.5M1001.5 1013.3h1.5M1002.4 1026.2h1.5M1003.4 1027.6h1.5M1004.3 1020.7h1.5M1005.2 1026.5h1.5M1006.2 1015.1h1.5M1007.1 1026.8h1.5M1008 1024.4h1.5M1008.9 1025.8h1.5M1009.9 1022.4h1.5M1010.8 1022.2h1.5M1011.7 1021.5h1.5M1012.7 1018h1.5M1013.6 1028.7h1.5M1014.5 1028.1h1.5M1015.4 1022.7h1.5M1016.4 1026.2h1.5M1017.3 1023.7h1.5M1018.2 1027.1h1.5M1019.2 1024.1h1.5M1020.1 1027h1.5M1021 1020.4h1.5M1021.9 1023.9h1.5M1022.9 1030.3h1.5M1023.8 1019.1h1.5M1024.7 1025.3h1.5M1025.7 1023.2h1.5M1026.6 1029.2h1.5M1027.5 1023.2h1.5M1028.4 1031.2h1.5M1029.4 1032.9h1.5M1030.3 1025.9h1.5M1031.2 1007.7h1.5M1032.2 1022.3h1.5M1033.1 1034.7h1.5M1034 1041h1.5M1034.9 1011.6h1.5M1035.9 1017.9h1.5M1036.8 1020.4h1.5M1037.7 1019.3h1.5M1038.6 1017.1h1.5M1039.6 1015h1.5M1040.5 1010.4h1.5M1041.4 1009.7h1.5M1042.4 998.2h1.5M1043.3 1005.7h1.5M1044.2 1005.5h1.5M1045.1 1002.8h1.5M1046.1 1009.2h1.5M1047 1007.5h1.5M1047.9 1012.6h1.5M1048.9 1003.4h1.5M1049.8 1004.9h1.5M1050.7 1003.6h1.5M1051.6 1005h1.5M1052.6 1005.8h1.5M1053.5 1006.3h1.5M1054.4 988.1h1.5M1055.4 1000.8h1.5M1056.3 1009.6h1.5M1057.2 1014.4h1.5M1058.1 1018h1.5M1059.1 1008h1.5M1060 1015.3h1.5M1060.9 1023.1h1.5" stroke="#00b400" stroke-width="1.5" fill="none"/>
<path d="M576.9 988V1086" stroke="#7fe07f" stroke-opacity="0.7"/>
<rect x="68.5" y="885.5" width="1069.0" height="201.0" fill="none" stroke="#646464" stroke-width="1"/>
<path d="M68.5 885.5v10M68.5 1086.5v-10M87.5 885.5v5M87.5 1086.5v-5M106.5 885.5v5M106.5 1086.5v-5M125.5 885.5v5M125.5 1086.5v-5M144.5 885.5v5M144.5 1086.5v-5M164.5 885.5v5M164.5 1086.5v-5M183.5 885.5v5M183.5 1086.5v-5M202.5 885.5v5M202.5 1086.5v-5M221.5 885.5v10M221.5 1086.5v-10M240.5 885.5v5M240.5 1086.5v-5M259.5 885.5v5M259.5 1086.5v-5M278.5 885.5v5M278.5 1086.5v-5M297.5 885.5v5M297.5 1086.5v-5M316.5 885.5v5M316.5 1086.5v-5M335.5 885.5v5M335.5 1086.5v-5M354.5 885.5v5M354.5 1086.5v-5M374.5 885.5v10M374.5 1086.5v-10M393.5 885.5v5M393.5 1086.5v-5M412.5 885.5v5M412.5 1086.5v-5M431.5 885.5v5M431.5 1086.5v-5M450.5 885.5v5M450.5 1086.5v-5M469.5 885.5v5M469.5 1086.5v-5M488.5 885.5v5M488.5 1086.5v-5M507.5 885.5v5M507.5 1086.5v-5M526.5 885.5v10M526.5 1086.5v-10M546.5 885.5v5M546.5 1086.5v-5M565.5 885.5v5M565.5 1086.5v-5M584.5 885.5v5M584.5 1086.5v-5M603.5 885.5v5M603.5 1086.5v-5M622.5 885.5v5M622.5 1086.5v-5M641.5 885.5v5M641.5 1086.5v-5M660.5 885.5v5M660.5 1086.5v-5M679.5 885.5v10M679.5 1086.5v-10M698.5 885.5v5M698.5 1086.5v-5M717.5 885.5v5M717.5 1086.5v-5M736.5 885.5v5M736.5 1086.5v-5M756.5 885.5v5M756.5 1086.5v-5M775.5 885.5v5M775.5 1086.5v-5M794.5 885.5v5M794.5 1086.5v-5M813.5 885.5v5M813.5 1086.5v-5M832.5 885.5v10M832.5 1086.5v-10M851.5 885.5v5M851.5 1086.5v-5M870.5 885.5v5M870.5 1086.5v-5M889.5 885.5v5M889.5 1086.5v-5M908.5 885.5v5M908.5 1086.5v-5M928.5 885.5v5M928.5 1086.5v-5M947.5 885.5v5M947.5 1086.5v-5M966.5 885.5v5M966.5 1086.5v-5M985.5 885.5v10M985.5 1086.5v-10M1004.5 885.5v5M1004.5 1086.5v-5M1023.5 885.5v5M1023.5 1086.5v-5M1042.5 885.5v5M1042.5 1086.5v-5M1061.5 885.5v5M1061.5 1086.5v-5M1080.5 885.5v5M1080.5 1086.5v-5M1099.5 885.5v5M1099.5 1086.5v-5M1118.5 885.5v5M1118.5 1086.5v-5M1138.5 885.5v10M1138.5 1086.5v-10" stroke="#646464" stroke-width="1" fill="none"/>
<path d="M68.5 932.5h4M1137.5 932.5h-4M68.5 999.5h4M1137.5 999.5h-4M68.5 1066.5h4M1137.5 1066.5h-4" stroke="#646464" stroke-width="1" fill="none"/>
<path d="M1137.5 1086.5h-4M1137.5 1081.5h-4M1137.5 1076.5h-4M1137.5 1072.5h-4M1137.5 1069.5h-4M1137.5 1046.5h-4M1137.5 1034.5h-4M1137.5 1025.5h-4M1137.5 1019.5h-4M1137.5 1014.5h-4M1137.5 1009.5h-4M1137.5 1005.5h-4M1137.5 1002.5h-4M1137.5 979.5h-4M1137.5 967.5h-4M1137.5 958.5h-4M1137.5 952.5h-4M1137.5 947.5h-4M1137.5 942.5h-4M1137.5 938.5h-4M1137.5 935.5h-4M1137.5 912.5h-4M1137.5 900.5h-4M1137.5 891.5h-4M1137.5 885.5h-4" stroke="#646464" fill="none"/>
<text x="38.29" y="936.9309902905133" font-size="14" textLength="27.11" lengthAdjust="spacingAndGlyphs" fill="#5a5a5a">1e+6</text>
<text x="38.29" y="1003.9309902905133" font-size="14" textLength="27.11" lengthAdjust="spacingAndGlyphs" fill="#5a5a5a">1e+5</text>
<text x="38.29" y="1070.9309902905131" font-size="14" textLength="27.11" lengthAdjust="spacingAndGlyphs" fill="#5a5a5a">1e+4</text>
<path d="M69 1089.5H116" stroke="#00b800" stroke-width="2"/>
<path d="M120 1089.5H162.8" stroke="#00b800" stroke-width="2"/>
<path d="M164 1089.5H266.5" stroke="#00b800" stroke-width="2"/>
<path d="M278 1089.5H419.2" stroke="#00b800" stroke-width="2"/>
<path d="M432 1089.5H560.4" stroke="#00b800" stroke-width="2"/>
<path d="M562 1089.5H571.7" stroke="#00b800" stroke-width="2"/>
<path d="M584.2 1089.5H683.5" stroke="#00b800" stroke-width="2"/>
<path d="M685 1089.5H693.8" stroke="#00b800" stroke-width="2"/>
<path d="M739.1 1089.5H880.3" stroke="#00b800" stroke-width="2"/>
<path d="M882.7 1089.5H905.4" stroke="#00b800" stroke-width="2"/>
<path d="M911 1089.5H1031.2" stroke="#00b800" stroke-width="2"/>
<path d="M1033.5 1089.5H1035" stroke="#00b800" stroke-width="2"/>
<path d="M1037.5 1089.5H1064.6" stroke="#00b800" stroke-width="2"/>
<path d="M266.5 1089.5H269" stroke="#ff00c8" stroke-width="2"/>
<path d="M269 1089.5H276" stroke="#0000ff" stroke-width="2"/>
<path d="M276 1089.5H278" stroke="#ff00c8" stroke-width="2"/>
<path d="M419.2 1089.5H421" stroke="#ff00c8" stroke-width="2"/>
<path d="M421 1089.5H432" stroke="#0000ff" stroke-width="2"/>
<path d="M560.4 1089.5H562" stroke="#0000ff" stroke-width="2"/>
<path d="M572 1089.5H574.5" stroke="#ff00c8" stroke-width="2"/>
<path d="M579 1089.5H581" stroke="#0000ff" stroke-width="2"/>
<path d="M683.5 1089.5H685" stroke="#0000ff" stroke-width="2"/>
<path d="M697 1089.5H700" stroke="#ff00c8" stroke-width="2"/>
<path d="M1031.2 1089.5H1033.5" stroke="#ff00c8" stroke-width="2"/>
<path d="M1035 1089.5H1037.5" stroke="#0000ff" stroke-width="2"/>
<path d="M69 1092.5H70.5" stroke="#ff0000" stroke-width="2"/>
<path d="M72 1092.5H73" stroke="#ff0000" stroke-width="2"/>
<path d="M75 1092.5H76" stroke="#ff0000" stroke-width="2"/>
<path d="M77 1092.5H78" stroke="#ff0000" stroke-width="2"/>
<path d="M79.5 1092.5H80.5" stroke="#ff0000" stroke-width="2"/>
<path d="M81.5 1092.5H83" stroke="#ff0000" stroke-width="2"/>
<path d="M84.8 1092.5H116" stroke="#ff0000" stroke-width="2"/>
<path d="M120 1092.5H162.8" stroke="#ff0000" stroke-width="2"/>
<path d="M164 1092.5H250.8" stroke="#ff0000" stroke-width="2"/>
<path d="M251.5 1092.5H252.5" stroke="#ff0000" stroke-width="2"/>
<path d="M254 1092.5H255" stroke="#ff0000" stroke-width="2"/>
<path d="M257 1092.5H258" stroke="#ff0000" stroke-width="2"/>
<path d="M259 1092.5H260" stroke="#ff0000" stroke-width="2"/>
<path d="M279 1092.5H281" stroke="#ff0000" stroke-width="2"/>
<path d="M283 1092.5H284.5" stroke="#ff0000" stroke-width="2"/>
<path d="M289 1092.5H291" stroke="#ff0000" stroke-width="2"/>
<path d="M292 1092.5H294" stroke="#ff0000" stroke-width="2"/>
<path d="M295 1092.5H300" stroke="#ff0000" stroke-width="2"/>
<path d="M301 1092.5H302" stroke="#ff0000" stroke-width="2"/>
<path d="M303 1092.5H306" stroke="#ff0000" stroke-width="2"/>
<path d="M307 1092.5H315" stroke="#ff0000" stroke-width="2"/>
<path d="M316 1092.5H318" stroke="#ff0000" stroke-width="2"/>
<path d="M320 1092.5H325" stroke="#ff0000" stroke-width="2"/>
<path d="M326 1092.5H329" stroke="#ff0000" stroke-width="2"/>
<path d="M331 1092.5H336" stroke="#ff0000" stroke-width="2"/>
<path d="M338 1092.5H340" stroke="#ff0000" stroke-width="2"/>
<path d="M341 1092.5H346" stroke="#ff0000" stroke-width="2"/>
<path d="M347 1092.5H352" stroke="#ff0000" stroke-width="2"/>
<path d="M354 1092.5H355" stroke="#ff0000" stroke-width="2"/>
<path d="M357 1092.5H359" stroke="#ff0000" stroke-width="2"/>
<path d="M362 1092.5H365" stroke="#ff0000" stroke-width="2"/>
<path d="M427 1092.5H428" stroke="#ff0000" stroke-width="2"/>
<path d="M442 1092.5H443" stroke="#ff0000" stroke-width="2"/>
<path d="M445 1092.5H446" stroke="#ff0000" stroke-width="2"/>
<path d="M485 1092.5H486" stroke="#ff0000" stroke-width="2"/>
<path d="M576 1092.5H579" stroke="#ff0000" stroke-width="2"/>
<path d="M618 1092.5H620" stroke="#ff0000" stroke-width="2"/>
<path d="M622 1092.5H623" stroke="#ff0000" stroke-width="2"/>
<path d="M625 1092.5H627" stroke="#ff0000" stroke-width="2"/>
<path d="M631 1092.5H646" stroke="#ff0000" stroke-width="2"/>
<path d="M650 1092.5H655" stroke="#ff0000" stroke-width="2"/>
<path d="M664 1092.5H669" stroke="#ff0000" stroke-width="2"/>
<path d="M689 1092.5H690" stroke="#ff0000" stroke-width="2"/>
<path d="M692 1092.5H693" stroke="#ff0000" stroke-width="2"/>
<path d="M697 1092.5H699" stroke="#ff0000" stroke-width="2"/>
<path d="M974 1092.5H975" stroke="#ff0000" stroke-width="2"/>
<path d="M984 1092.5H986" stroke="#ff0000" stroke-width="2"/>
<path d="M988 1092.5H989" stroke="#ff0000" stroke-width="2"/>
<path d="M991 1092.5H992" stroke="#ff0000" stroke-width="2"/>
<path d="M1035.5 1092.5H1037" stroke="#ff0000" stroke-width="2"/>
<path d="M266 1092.5H276" stroke="#f0c800" stroke-width="2"/>
<path d="M419 1092.5H426" stroke="#f0c800" stroke-width="2"/>
<path d="M573 1092.5H575" stroke="#f0c800" stroke-width="2"/>
<path d="M580 1092.5H581" stroke="#f0c800" stroke-width="2"/>
<path d="M582.5 1092.5H583.5" stroke="#f0c800" stroke-width="2"/>
<path d="M706 1092.5H710" stroke="#f0c800" stroke-width="2"/>
<path d="M1031 1092.5H1033" stroke="#f0c800" stroke-width="2"/>
<path d="M69 1095.5H71" stroke="#ff7400" stroke-width="2"/>
<path d="M72 1095.5H74" stroke="#ff7400" stroke-width="2"/>
<path d="M76 1095.5H78" stroke="#ff7400" stroke-width="2"/>
<path d="M79 1095.5H82" stroke="#ff7400" stroke-width="2"/>
<path d="M83.6 1095.5H116" stroke="#ff7400" stroke-width="2"/>
<path d="M120 1095.5H162.8" stroke="#ff7400" stroke-width="2"/>
<path d="M164 1095.5H250" stroke="#ff7400" stroke-width="2"/>
<path d="M279 1095.5H282" stroke="#ff7400" stroke-width="2"/>
<path d="M289 1095.5H291" stroke="#ff7400" stroke-width="2"/>
<path d="M296 1095.5H298" stroke="#ff7400" stroke-width="2"/>
<path d="M300 1095.5H302" stroke="#ff7400" stroke-width="2"/>
<path d="M305 1095.5H310" stroke="#ff7400" stroke-width="2"/>
<path d="M576 1095.5H580" stroke="#ff7400" stroke-width="2"/>
<path d="M619 1095.5H620" stroke="#ff7400" stroke-width="2"/>
<path d="M627 1095.5H629" stroke="#ff7400" stroke-width="2"/>
<path d="M632 1095.5H635" stroke="#ff7400" stroke-width="2"/>
<path d="M639 1095.5H646" stroke="#ff7400" stroke-width="2"/>
<path d="M667 1095.5H670" stroke="#ff7400" stroke-width="2"/>
<path d="M992 1095.5H994" stroke="#ff7400" stroke-width="2"/>
<path d="M68.5 1086.5V1106.5H1137.5V1086.5" stroke="#646464" fill="none"/>
<path d="M68.5 1106.5v4M87.5 1106.5v3M106.5 1106.5v3M125.5 1106.5v3M144.5 1106.5v3M164.5 1106.5v3M183.5 1106.5v3M202.5 1106.5v3M221.5 1106.5v4M240.5 1106.5v3M259.5 1106.5v3M278.5 1106.5v3M297.5 1106.5v3M316.5 1106.5v3M335.5 1106.5v3M354.5 1106.5v3M374.5 1106.5v4M393.5 1106.5v3M412.5 1106.5v3M431.5 1106.5v3M450.5 1106.5v3M469.5 1106.5v3M488.5 1106.5v3M507.5 1106.5v3M526.5 1106.5v4M546.5 1106.5v3M565.5 1106.5v3M584.5 1106.5v3M603.5 1106.5v3M622.5 1106.5v3M641.5 1106.5v3M660.5 1106.5v3M679.5 1106.5v4M698.5 1106.5v3M717.5 1106.5v3M736.5 1106.5v3M756.5 1106.5v3M775.5 1106.5v3M794.5 1106.5v3M813.5 1106.5v3M832.5 1106.5v4M851.5 1106.5v3M870.5 1106.5v3M889.5 1106.5v3M908.5 1106.5v3M928.5 1106.5v3M947.5 1106.5v3M966.5 1106.5v3M985.5 1106.5v4M1004.5 1106.5v3M1023.5 1106.5v3M1042.5 1106.5v3M1061.5 1106.5v3M1080.5 1106.5v3M1099.5 1106.5v3M1118.5 1106.5v3M1138.5 1106.5v4" stroke="#646464" fill="none"/>
<text x="118.5" y="1103" font-size="12.5" textLength="47.5" lengthAdjust="spacingAndGlyphs" fill="#0000ff">DSCOVR</text>
<text x="167" y="1103" font-size="12.5" textLength="23.8" lengthAdjust="spacingAndGlyphs" fill="#00c000">ACE</text>
<text x="193.6" y="1103" font-size="12.5" textLength="78" lengthAdjust="spacingAndGlyphs" fill="#ff00c8">ACE+DSCOVR</text>
<text x="288" y="1103" font-size="12.5" textLength="24" lengthAdjust="spacingAndGlyphs" fill="#ff0000">error</text>
<text x="318.4" y="1103" font-size="12.5" textLength="35.2" lengthAdjust="spacingAndGlyphs" fill="#e8c000">suspect</text>
<text x="388" y="1103" font-size="12.5" textLength="51.8" lengthAdjust="spacingAndGlyphs" fill="#ff7f00">density &lt; 1</text>
<text x="68.5" y="1121" text-anchor="middle" font-size="13" fill="#5a5a5a">Jan 29</text>
<text x="221.3" y="1121" text-anchor="middle" font-size="13" fill="#5a5a5a">Jan 30</text>
<text x="374.1" y="1121" text-anchor="middle" font-size="13" fill="#5a5a5a">Jan 31</text>
<text x="526.9000000000001" y="1121" text-anchor="middle" font-size="13" fill="#5a5a5a">Feb 1</text>
<text x="679.7" y="1121" text-anchor="middle" font-size="13" fill="#5a5a5a">Feb 2</text>
<text x="832.5" y="1121" text-anchor="middle" font-size="13" fill="#5a5a5a">Feb 3</text>
<text x="985.3000000000001" y="1121" text-anchor="middle" font-size="13" fill="#5a5a5a">Feb 4</text>
<text x="1138.1000000000001" y="1121" text-anchor="middle" font-size="13" fill="#5a5a5a">Feb 5</text>
<path d="M68.5 1121.5H1137.5M68.5 1128.5H1137.5M68.5 1121.5V1128.5M1137.5 1121.5V1128.5" stroke="#646464" fill="none"/>
<path d="M69.0 1125H1062.8" stroke="#a0461e" stroke-width="2"/>
<path d="M68.5 1128.5v3M87.5 1128.5v2M106.5 1128.5v2M125.5 1128.5v2M144.5 1128.5v2M164.5 1128.5v2M183.5 1128.5v2M202.5 1128.5v2M221.5 1128.5v3M240.5 1128.5v2M259.5 1128.5v2M278.5 1128.5v2M297.5 1128.5v2M316.5 1128.5v2M335.5 1128.5v2M354.5 1128.5v2M374.5 1128.5v3M393.5 1128.5v2M412.5 1128.5v2M431.5 1128.5v2M450.5 1128.5v2M469.5 1128.5v2M488.5 1128.5v2M507.5 1128.5v2M526.5 1128.5v3M546.5 1128.5v2M565.5 1128.5v2M584.5 1128.5v2M603.5 1128.5v2M622.5 1128.5v2M641.5 1128.5v2M660.5 1128.5v2M679.5 1128.5v3M698.5 1128.5v2M717.5 1128.5v2M736.5 1128.5v2M756.5 1128.5v2M775.5 1128.5v2M794.5 1128.5v2M813.5 1128.5v2M832.5 1128.5v3M851.5 1128.5v2M870.5 1128.5v2M889.5 1128.5v2M908.5 1128.5v2M928.5 1128.5v2M947.5 1128.5v2M966.5 1128.5v2M985.5 1128.5v3M1004.5 1128.5v2M1023.5 1128.5v2M1042.5 1128.5v2M1061.5 1128.5v2M1080.5 1128.5v2M1099.5 1128.5v2M1118.5 1128.5v2M1138.5 1128.5v3" stroke="#646464" fill="none"/>
<text x="68.5" y="1144" text-anchor="middle" font-size="13" fill="#5a5a5a">Jan 29</text>
<text x="221.3" y="1144" text-anchor="middle" font-size="13" fill="#5a5a5a">Jan 30</text>
<text x="374.1" y="1144" text-anchor="middle" font-size="13" fill="#5a5a5a">Jan 31</text>
<text x="526.9000000000001" y="1144" text-anchor="middle" font-size="13" fill="#5a5a5a">Feb 1</text>
<text x="679.7" y="1144" text-anchor="middle" font-size="13" fill="#5a5a5a">Feb 2</text>
<text x="832.5" y="1144" text-anchor="middle" font-size="13" fill="#5a5a5a">Feb 3</text>
<text x="985.3000000000001" y="1144" text-anchor="middle" font-size="13" fill="#5a5a5a">Feb 4</text>
<text x="1138.1000000000001" y="1144" text-anchor="middle" font-size="13" fill="#5a5a5a">Feb 5</text>
<text x="2.5" y="1117.5" font-size="13" fill="#5a5a5a">(date)</text>
<text x="3.6" y="1129" font-size="13" textLength="53.5" lengthAdjust="spacingAndGlyphs" fill="#5a5a5a">2026-01-29</text>
<text x="9.8" y="1140" font-size="13" textLength="41" lengthAdjust="spacingAndGlyphs" fill="#5a5a5a">00:00:00</text>
<text x="2" y="13" font-size="16" fill="#5a5a5a">SWPC</text>
<text x="68" y="14.5" font-size="16" fill="#5a5a5a">2026-01-29 00:00:00</text>
<text x="68" y="29.5" font-size="16" fill="#5a5a5a">Mag + Solar Wind</text>
<text x="603.4" y="14.5" text-anchor="middle" font-size="16" fill="#5a5a5a">7 days@5 min</text>
<text x="1138" y="14.5" text-anchor="end" font-size="16" fill="#5a5a5a">2026-02-05 00:00:00</text>
<text x="1138" y="29.5" text-anchor="end" font-size="16" fill="#5a5a5a">[Active] ACE+DSCOVR</text>
<text transform="translate(16.3,186.3) rotate(-90)" font-size="14" fill="#000">Bt</text>
<text transform="translate(16.5,162.5) rotate(-90)" font-size="14.5" fill="#ff0000">Bz GSM (nT)</text>
<text transform="translate(30.2,157.8) rotate(-90)" font-size="14.5" textLength="17.5" lengthAdjust="spacingAndGlyphs" fill="#8a2be2">Bx</text>
<path d="M25.8 137.2V161.3" stroke="#8a2be2" stroke-width="1.5"/>
<text transform="translate(30.2,128.2) rotate(-90)" font-size="14.5" textLength="17.5" lengthAdjust="spacingAndGlyphs" fill="#1aa8f0">By</text>
<path d="M25.8 106.9V131.4" stroke="#1aa8f0" stroke-width="1.5"/>
<text transform="translate(16.5,348) rotate(-90)" text-anchor="middle" font-size="14.5"><tspan fill="#1ab0e8">Phi GSM (deg)</tspan></text>
<text transform="translate(16.5,561) rotate(-90)" text-anchor="middle" font-size="14.5"><tspan fill="#f5821f">Density (1/cm<tspan font-size="9" dy="-5">3</tspan><tspan dy="5">)</tspan></tspan></text>
<text transform="translate(16.5,773) rotate(-90)" text-anchor="middle" font-size="14.5"><tspan fill="#9b30ff">Speed (km/s)</tspan></text>
<text transform="translate(16.5,985.5) rotate(-90)" text-anchor="middle" font-size="14.5"><tspan fill="#22bb22">Temperature (K)</tspan></text>
</svg></body></html>
